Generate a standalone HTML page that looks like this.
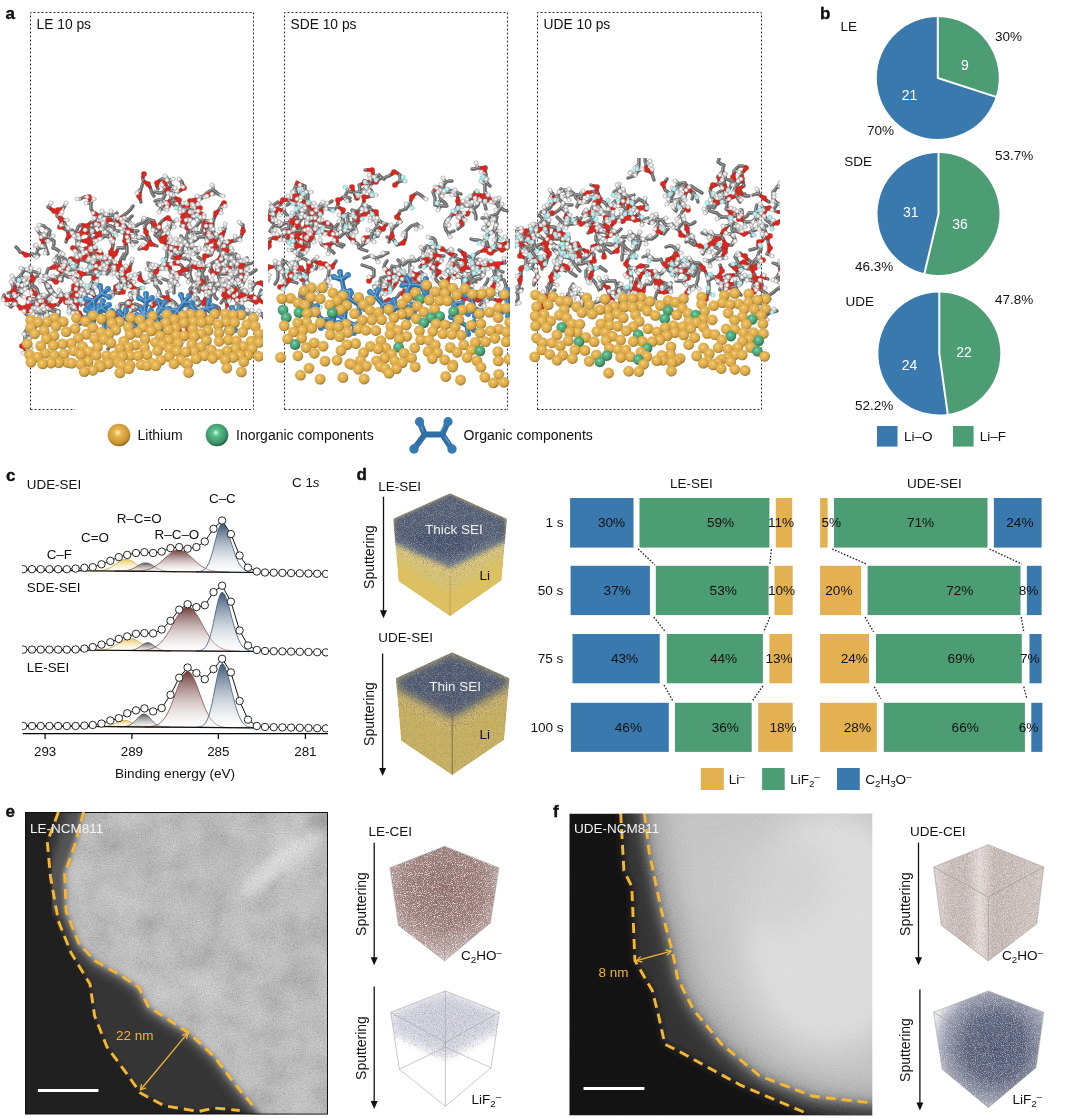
<!DOCTYPE html><html><head><meta charset="utf-8"><style>
html,body{margin:0;padding:0;background:#fff;}
body{width:1078px;height:1119px;position:relative;overflow:hidden;font-family:"Liberation Sans",sans-serif;}
.t{position:absolute;line-height:1;white-space:nowrap;color:#111;}
sub{font-size:0.72em;vertical-align:-0.28em;line-height:0}
sup{font-size:0.72em;vertical-align:0.45em;line-height:0}
svg{position:absolute;left:0;top:0}
</style></head><body>
<svg width="1078" height="1119" viewBox="0 0 1078 1119"><defs><radialGradient id="gGold" cx="0.45" cy="0.4" r="0.6"><stop offset="0" stop-color="#fff3c0"/><stop offset="0.25" stop-color="#e9b955"/><stop offset="0.8" stop-color="#c9922e"/><stop offset="1" stop-color="#8a6420"/></radialGradient><radialGradient id="gGreen" cx="0.45" cy="0.4" r="0.6"><stop offset="0" stop-color="#d8ffee"/><stop offset="0.25" stop-color="#5cc08e"/><stop offset="0.8" stop-color="#3a8f64"/><stop offset="1" stop-color="#1f5a3c"/></radialGradient><linearGradient id="fCC" x1="0" y1="0" x2="0" y2="1"><stop offset="0" stop-color="#3a5676"/><stop offset="1" stop-color="#fff" stop-opacity="0.3"/></linearGradient><linearGradient id="fRCO" x1="0" y1="0" x2="0" y2="1"><stop offset="0" stop-color="#6a3a38"/><stop offset="1" stop-color="#fff" stop-opacity="0.3"/></linearGradient><linearGradient id="fY" x1="0" y1="0" x2="0" y2="1"><stop offset="0" stop-color="#eec85a"/><stop offset="1" stop-color="#fff" stop-opacity="0.3"/></linearGradient><linearGradient id="fG" x1="0" y1="0" x2="0" y2="1"><stop offset="0" stop-color="#5a5a5a"/><stop offset="1" stop-color="#fff" stop-opacity="0.6"/></linearGradient><clipPath id="cpXPS"><rect x="22" y="460" width="306" height="280"/></clipPath><filter id="bl2" x="-20%" y="-20%" width="140%" height="140%"><feGaussianBlur stdDeviation="2"/></filter><filter id="bl3" x="-20%" y="-20%" width="140%" height="140%"><feGaussianBlur stdDeviation="3"/></filter><filter id="bl4" x="-20%" y="-20%" width="140%" height="140%"><feGaussianBlur stdDeviation="4"/></filter><filter id="bl6" x="-50%" y="-50%" width="200%" height="200%"><feGaussianBlur stdDeviation="6"/></filter><filter id="bl8" x="-150%" y="-150%" width="400%" height="400%"><feGaussianBlur stdDeviation="8"/></filter><filter id="bl15" x="-100%" y="-100%" width="300%" height="300%"><feGaussianBlur stdDeviation="15"/></filter><filter id="mottle" x="0" y="0" width="100%" height="100%"><feTurbulence type="fractalNoise" baseFrequency="0.035" numOctaves="3" seed="17"/><feColorMatrix type="matrix" values="1 0 0 0 0  1 0 0 0 0  1 0 0 0 0  0 0 0 0 1"/></filter><filter id="grain" x="0" y="0" width="100%" height="100%"><feTurbulence type="fractalNoise" baseFrequency="0.75" numOctaves="2" seed="5"/><feColorMatrix type="matrix" values="1 0 0 0 0  1 0 0 0 0  1 0 0 0 0  0 0 0 0 1"/></filter><filter id="noise" x="0" y="0" width="100%" height="100%"><feTurbulence type="fractalNoise" baseFrequency="0.85" numOctaves="1" seed="3"/><feColorMatrix type="matrix" values="0 0 0 0 0.5  0 0 0 0 0.5  0 0 0 0 0.5  1 0 0 0 -0.5"/></filter><clipPath id="cpE"><rect x="25" y="812" width="303" height="302.5999999999999"/></clipPath><mask id="mkEpart" maskUnits="userSpaceOnUse" x="0" y="780" width="360" height="360"><polygon points="86.6,812.0 78.7,842.3 67.7,873.9 69.2,911.7 81.9,943.3 97.6,960.6 123.0,974.8 141.8,987.4 151.3,1006.4 192.3,1033.2 217.5,1056.8 236.4,1082.0 262.0,1116.0 340.0,1125.0 340.0,800.0 92.0,800.0" fill="#fff" filter="url(#bl4)"/></mask><clipPath id="cpF"><rect x="569.3" y="813.6" width="303.0" height="301.9"/></clipPath><filter id="wspk" x="0" y="0" width="100%" height="100%"><feTurbulence type="fractalNoise" baseFrequency="1.1" numOctaves="1" seed="11"/><feColorMatrix type="matrix" values="0 0 0 0 1  0 0 0 0 1  0 0 0 0 1  4 0 0 0 -1.9"/></filter><filter id="dspk" x="0" y="0" width="100%" height="100%"><feTurbulence type="fractalNoise" baseFrequency="1.1" numOctaves="1" seed="23"/><feColorMatrix type="matrix" values="0 0 0 0 0.2  0 0 0 0 0.15  0 0 0 0 0.15  4 0 0 0 -2.1"/></filter><filter id="tspk" x="0" y="0" width="100%" height="100%"><feTurbulence type="fractalNoise" baseFrequency="1.0" numOctaves="1" seed="31"/><feColorMatrix type="matrix" values="0 0 0 0 0.5  0 0 0 0 0.68  0 0 0 0 0.7  4 0 0 0 -1.8"/></filter><filter id="spk" x="0" y="0" width="100%" height="100%"><feTurbulence type="fractalNoise" baseFrequency="1.2" numOctaves="1" seed="9"/><feColorMatrix type="matrix" values="1 0 0 0 0  1 0 0 0 0  1 0 0 0 0  0 0 0 0 1"/></filter><clipPath id="cpd1dark"><polygon points="450.1,493.2 506.9,518.8 506.9,549.0 450.1,577.0 393.2,551.0 393.2,518.8"/></clipPath><mask id="mkd1t" maskUnits="userSpaceOnUse" x="380" y="480" width="140" height="140"><polygon points="393.2,536.0 450.1,560.0 506.9,534.0 506.9,556.0 450.1,592.0 393.2,558.0" fill="#fff" filter="url(#bl3)"/></mask><clipPath id="cpd1"><polygon points="450.1,493.2 506.9,518.8 501.6,580.4 450.1,616.2 398.5,581.3 393.2,518.8"/></clipPath><clipPath id="cpd2dark"><polygon points="452.2,652.3 509.5,678.2 509.5,700.0 452.2,735.0 395.8,702.0 395.8,678.2"/></clipPath><clipPath id="cpd2"><polygon points="452.2,652.3 509.5,678.2 504.2,739.8 452.2,775.1 401.1,740.7 395.8,678.2"/></clipPath><radialGradient id="gE1" cx="0.5" cy="0.36" r="0.72"><stop offset="0" stop-color="#8e6c68"/><stop offset="0.5" stop-color="#9c7e7a"/><stop offset="0.8" stop-color="#c2aca9"/><stop offset="1" stop-color="#ede6e5"/></radialGradient><clipPath id="cpe1"><polygon points="444.6,846.2 499.0,867.8 490.4,923.0 444.6,961.0 398.4,925.4 389.9,867.8"/></clipPath><clipPath id="cpe2c"><polygon points="445.4,990.9 499.5,1012.3 499.5,1034.0 445.4,1062.0 390.7,1036.0 390.7,1012.3"/></clipPath><clipPath id="cpe2"><polygon points="445.4,990.9 499.5,1012.3 491.0,1067.8 445.4,1106.3 399.3,1069.2 390.7,1012.3"/></clipPath><linearGradient id="gF1" x1="0" y1="0" x2="1" y2="0"><stop offset="0" stop-color="#e0d6d4"/><stop offset="0.15" stop-color="#c8bab6"/><stop offset="0.3" stop-color="#c4b6b2"/><stop offset="0.42" stop-color="#e2d8d6"/><stop offset="0.55" stop-color="#c2b4b0"/><stop offset="1" stop-color="#d0c4c0"/></linearGradient><clipPath id="cpf1"><polygon points="988.3,844.7 1043.8,867.0 1036.7,923.9 988.3,961.0 941.3,925.4 933.6,867.0"/></clipPath><radialGradient id="gF2" cx="0.56" cy="0.48" r="0.6"><stop offset="0" stop-color="#4e5672"/><stop offset="0.45" stop-color="#5c637c"/><stop offset="0.78" stop-color="#9a9eb0"/><stop offset="1" stop-color="#eeeef2"/></radialGradient><clipPath id="cpf2"><polygon points="988.3,990.9 1043.8,1012.3 1036.1,1067.8 988.3,1107.7 942.1,1069.2 933.6,1012.3"/></clipPath><radialGradient id="mG" cx="0.42" cy="0.38" r="0.66"><stop offset="0" stop-color="#fff2c4"/><stop offset="0.14" stop-color="#edbe5e"/><stop offset="0.6" stop-color="#dcaa4a"/><stop offset="0.86" stop-color="#b88c34"/><stop offset="1" stop-color="#5a4214"/></radialGradient><radialGradient id="mGr" cx="0.42" cy="0.38" r="0.66"><stop offset="0" stop-color="#c8f8e0"/><stop offset="0.14" stop-color="#62c090"/><stop offset="0.6" stop-color="#4aa074"/><stop offset="0.86" stop-color="#347a56"/><stop offset="1" stop-color="#143a26"/></radialGradient><clipPath id="clA"><rect x="0" y="168" width="263" height="242"/></clipPath><clipPath id="clB"><rect x="268" y="160" width="242" height="250"/></clipPath><clipPath id="clC"><rect x="515" y="158" width="265" height="252"/></clipPath></defs><path d="M30.5,409.5 L30.5,12.5 L253.5,12.5 L253.5,409.5" fill="none" stroke="#333" stroke-width="1" stroke-dasharray="2,2"/><line x1="30.5" y1="409.5" x2="75.0" y2="409.5" stroke="#333" stroke-width="1" stroke-dasharray="2,2"/><line x1="161.0" y1="409.5" x2="253.5" y2="409.5" stroke="#333" stroke-width="1" stroke-dasharray="2,2"/><path d="M284.5,409.5 L284.5,12.5 L507.5,12.5 L507.5,409.5" fill="none" stroke="#333" stroke-width="1" stroke-dasharray="2,2"/><line x1="284.5" y1="409.5" x2="507.5" y2="409.5" stroke="#333" stroke-width="1" stroke-dasharray="2,2"/><path d="M537.5,409.5 L537.5,12.5 L761.5,12.5 L761.5,409.5" fill="none" stroke="#333" stroke-width="1" stroke-dasharray="2,2"/><line x1="537.5" y1="409.5" x2="761.5" y2="409.5" stroke="#333" stroke-width="1" stroke-dasharray="2,2"/><circle cx="119" cy="435" r="11.3" fill="url(#gGold)"/><circle cx="217" cy="435" r="11.3" fill="url(#gGreen)"/><g stroke="#2f6fa8" stroke-width="6" stroke-linecap="round" fill="none"><path d="M414,449 L424.7,434.4 L419.5,421.7 M424.7,434.4 L442.2,434.4 L448,421.7 M442.2,434.4 L452,449"/></g><g stroke="#5d9fd6" stroke-width="1.2" stroke-linecap="round" fill="none"><path d="M421,425 L423,431 M444,426 L441,431 M445,437 L450,444"/></g><g fill="#3479b2"><circle cx="414" cy="449" r="4.7"/><circle cx="419.5" cy="421.7" r="4.6"/><circle cx="448" cy="421.7" r="4.6"/><circle cx="452" cy="449" r="4.7"/></g><path d="M937.8,78 L937.8,17 A61,61 0 0 1 995.81,96.85 Z" fill="#4c9d74"/><path d="M937.8,78 L995.81,96.85 A61,61 0 1 1 937.8,17 Z" fill="#3a79ad"/><path d="M937.8,16 L937.8,78 L996.77,97.16" fill="none" stroke="#fff" stroke-width="2" stroke-linejoin="miter"/><path d="M938.5,214 L938.5,153 A61,61 0 1 1 924.45,273.36 Z" fill="#4c9d74"/><path d="M938.5,214 L924.45,273.36 A61,61 0 0 1 938.5,153 Z" fill="#3a79ad"/><path d="M938.5,152 L938.5,214 L924.22,274.33" fill="none" stroke="#fff" stroke-width="2" stroke-linejoin="miter"/><path d="M939.3,353.5 L939.3,292.5 A61,61 0 0 1 947.71,413.92 Z" fill="#4c9d74"/><path d="M939.3,353.5 L947.71,413.92 A61,61 0 1 1 939.3,292.5 Z" fill="#3a79ad"/><path d="M939.3,291.5 L939.3,353.5 L947.84,414.91" fill="none" stroke="#fff" stroke-width="2" stroke-linejoin="miter"/><rect x="877.0" y="426.0" width="20.5" height="20.6" fill="#3a79ad"/><rect x="953.0" y="426.0" width="20.6" height="20.6" fill="#4c9d74"/><line x1="22.7" y1="733.6" x2="328.0" y2="733.6" stroke="#000" stroke-width="1.2" /><line x1="45.1" y1="733.6" x2="45.1" y2="739.0" stroke="#000" stroke-width="1.2" /><line x1="131.9" y1="733.6" x2="131.9" y2="739.0" stroke="#000" stroke-width="1.2" /><line x1="218.3" y1="733.6" x2="218.3" y2="739.0" stroke="#000" stroke-width="1.2" /><line x1="305.4" y1="733.6" x2="305.4" y2="739.0" stroke="#000" stroke-width="1.2" /><g clip-path="url(#cpXPS)"><path d="M90.2,570.8 L91.7,570.8 93.2,570.8 94.7,570.8 96.2,570.8 97.7,570.7 99.2,570.6 100.7,570.5 102.2,570.3 103.7,570.0 105.2,569.7 106.7,569.2 108.2,568.6 109.7,568.0 111.2,567.2 112.7,566.2 114.2,565.2 115.7,564.2 117.2,563.1 118.7,562.1 120.2,561.1 121.7,560.3 123.2,559.7 124.7,559.3 126.2,559.2 127.7,559.3 129.2,559.8 130.7,560.4 132.2,561.2 133.7,562.2 135.2,563.3 136.7,564.4 138.2,565.5 139.7,566.5 141.2,567.5 142.7,568.3 144.2,569.0 145.7,569.6 147.2,570.1 148.7,570.5 150.2,570.8 151.7,571.0 153.2,571.2 154.7,571.3 156.2,571.4 157.7,571.4 159.2,571.5 160.7,571.5 162.2,571.5 Z" fill="url(#fY)" stroke="#c9a84a" stroke-width="0.8"/><path d="M115.1,571.1 L116.4,571.1 117.6,571.1 118.9,571.1 120.2,571.0 121.5,571.0 122.8,570.9 124.0,570.8 125.3,570.7 126.6,570.5 127.8,570.3 129.1,570.0 130.4,569.6 131.7,569.1 132.9,568.5 134.2,567.9 135.5,567.2 136.8,566.4 138.0,565.6 139.3,564.9 140.6,564.2 141.9,563.7 143.1,563.2 144.4,563.0 145.7,562.9 147.0,563.0 148.2,563.3 149.5,563.8 150.8,564.3 152.1,565.0 153.3,565.8 154.6,566.6 155.9,567.4 157.2,568.1 158.4,568.8 159.7,569.4 161.0,569.9 162.3,570.3 163.5,570.6 164.8,570.9 166.1,571.1 167.4,571.3 168.6,571.4 169.9,571.5 171.2,571.6 172.5,571.6 173.7,571.6 175.0,571.7 176.3,571.7 Z" fill="url(#fG)" stroke="#555" stroke-width="0.8"/><path d="M128.4,571.2 L130.5,571.2 132.6,571.2 134.7,571.1 136.8,571.1 138.9,571.0 141.0,570.8 143.1,570.5 145.2,570.2 147.3,569.7 149.4,569.0 151.5,568.2 153.6,567.2 155.7,565.9 157.8,564.4 159.9,562.8 162.0,560.9 164.1,559.0 166.2,557.1 168.3,555.2 170.4,553.4 172.5,552.0 174.6,550.8 176.7,550.2 178.8,549.9 180.9,550.2 183.0,550.9 185.1,552.1 187.2,553.6 189.3,555.4 191.4,557.3 193.5,559.3 195.6,561.3 197.7,563.2 199.8,564.9 201.9,566.4 204.0,567.7 206.1,568.7 208.2,569.6 210.3,570.3 212.4,570.8 214.5,571.2 216.6,571.5 218.7,571.8 220.8,571.9 222.9,572.0 225.0,572.1 227.1,572.2 229.2,572.2 Z" fill="url(#fRCO)" stroke="#8a4a48" stroke-width="0.8"/><path d="M196.2,571.8 L197.4,571.8 198.6,571.7 199.9,571.5 201.1,571.3 202.3,570.8 203.6,570.2 204.8,569.3 206.0,568.0 207.2,566.2 208.5,563.9 209.7,561.0 210.9,557.4 212.2,553.3 213.4,548.7 214.6,543.7 215.9,538.7 217.1,534.0 218.3,529.8 219.6,526.5 220.8,524.4 222.0,523.6 223.2,524.0 224.5,525.2 225.7,527.2 226.9,529.9 228.2,533.1 229.4,536.7 230.6,540.6 231.8,544.5 233.1,548.4 234.3,552.1 235.5,555.6 236.8,558.7 238.0,561.4 239.2,563.8 240.5,565.7 241.7,567.3 242.9,568.6 244.2,569.6 245.4,570.4 246.6,571.0 247.8,571.5 249.1,571.8 250.3,572.0 251.5,572.2 252.8,572.3 254.0,572.4 255.2,572.4 Z" fill="url(#fCC)" stroke="#3a5a7a" stroke-width="0.8"/><line x1="22" y1="570.1" x2="254" y2="572.5" stroke="#111" stroke-width="1.2"/><path d="M23.3,569.2 L32.0,569.2 L40.7,569.2 L49.4,569.2 L58.1,569.2 L66.8,569.2 L75.6,568.6 L84.4,567.8 L92.7,567.2 L101.5,564.3 L110.3,560.8 L118.8,557.1 L127.2,554.9 L136.0,553.0 L144.4,552.2 L153.1,553.0 L161.7,551.6 L170.5,548.1 L179.2,547.1 L187.6,548.7 L196.4,547.1 L204.8,541.5 L213.5,528.8 L222.1,520.5 L230.9,534.1 L239.6,555.5 L248.0,567.6 L256.8,571.5 L265.0,572.5 L273.7,572.7 L282.4,572.9 L291.1,573.1 L299.8,573.3 L308.5,573.5 L317.2,573.7 L325.9,573.9" fill="none" stroke="#111" stroke-width="1"/><circle cx="23.3" cy="569.2" r="3.7" fill="#fff" stroke="#111" stroke-width="0.9"/><circle cx="32.0" cy="569.2" r="3.7" fill="#fff" stroke="#111" stroke-width="0.9"/><circle cx="40.7" cy="569.2" r="3.7" fill="#fff" stroke="#111" stroke-width="0.9"/><circle cx="49.4" cy="569.2" r="3.7" fill="#fff" stroke="#111" stroke-width="0.9"/><circle cx="58.1" cy="569.2" r="3.7" fill="#fff" stroke="#111" stroke-width="0.9"/><circle cx="66.8" cy="569.2" r="3.7" fill="#fff" stroke="#111" stroke-width="0.9"/><circle cx="75.6" cy="568.6" r="3.7" fill="#fff" stroke="#111" stroke-width="0.9"/><circle cx="84.4" cy="567.8" r="3.7" fill="#fff" stroke="#111" stroke-width="0.9"/><circle cx="92.7" cy="567.2" r="3.7" fill="#fff" stroke="#111" stroke-width="0.9"/><circle cx="101.5" cy="564.3" r="3.7" fill="#fff" stroke="#111" stroke-width="0.9"/><circle cx="110.3" cy="560.8" r="3.7" fill="#fff" stroke="#111" stroke-width="0.9"/><circle cx="118.8" cy="557.1" r="3.7" fill="#fff" stroke="#111" stroke-width="0.9"/><circle cx="127.2" cy="554.9" r="3.7" fill="#fff" stroke="#111" stroke-width="0.9"/><circle cx="136.0" cy="553.0" r="3.7" fill="#fff" stroke="#111" stroke-width="0.9"/><circle cx="144.4" cy="552.2" r="3.7" fill="#fff" stroke="#111" stroke-width="0.9"/><circle cx="153.1" cy="553.0" r="3.7" fill="#fff" stroke="#111" stroke-width="0.9"/><circle cx="161.7" cy="551.6" r="3.7" fill="#fff" stroke="#111" stroke-width="0.9"/><circle cx="170.5" cy="548.1" r="3.7" fill="#fff" stroke="#111" stroke-width="0.9"/><circle cx="179.2" cy="547.1" r="3.7" fill="#fff" stroke="#111" stroke-width="0.9"/><circle cx="187.6" cy="548.7" r="3.7" fill="#fff" stroke="#111" stroke-width="0.9"/><circle cx="196.4" cy="547.1" r="3.7" fill="#fff" stroke="#111" stroke-width="0.9"/><circle cx="204.8" cy="541.5" r="3.7" fill="#fff" stroke="#111" stroke-width="0.9"/><circle cx="213.5" cy="528.8" r="3.7" fill="#fff" stroke="#111" stroke-width="0.9"/><circle cx="222.1" cy="520.5" r="3.7" fill="#fff" stroke="#111" stroke-width="0.9"/><circle cx="230.9" cy="534.1" r="3.7" fill="#fff" stroke="#111" stroke-width="0.9"/><circle cx="239.6" cy="555.5" r="3.7" fill="#fff" stroke="#111" stroke-width="0.9"/><circle cx="248.0" cy="567.6" r="3.7" fill="#fff" stroke="#111" stroke-width="0.9"/><circle cx="256.8" cy="571.5" r="3.7" fill="#fff" stroke="#111" stroke-width="0.9"/><circle cx="265.0" cy="572.5" r="3.7" fill="#fff" stroke="#111" stroke-width="0.9"/><circle cx="273.7" cy="572.7" r="3.7" fill="#fff" stroke="#111" stroke-width="0.9"/><circle cx="282.4" cy="572.9" r="3.7" fill="#fff" stroke="#111" stroke-width="0.9"/><circle cx="291.1" cy="573.1" r="3.7" fill="#fff" stroke="#111" stroke-width="0.9"/><circle cx="299.8" cy="573.3" r="3.7" fill="#fff" stroke="#111" stroke-width="0.9"/><circle cx="308.5" cy="573.5" r="3.7" fill="#fff" stroke="#111" stroke-width="0.9"/><circle cx="317.2" cy="573.7" r="3.7" fill="#fff" stroke="#111" stroke-width="0.9"/><circle cx="325.9" cy="573.9" r="3.7" fill="#fff" stroke="#111" stroke-width="0.9"/></g><g clip-path="url(#cpXPS)"><path d="M90.5,650.2 L92.2,650.2 93.8,650.2 95.5,650.1 97.1,650.1 98.8,650.1 100.4,650.0 102.0,649.8 103.7,649.6 105.3,649.4 107.0,649.0 108.6,648.5 110.3,648.0 112.0,647.3 113.6,646.5 115.2,645.6 116.9,644.6 118.5,643.5 120.2,642.4 121.8,641.4 123.5,640.4 125.2,639.6 126.8,639.0 128.4,638.6 130.1,638.5 131.8,638.7 133.4,639.1 135.0,639.7 136.7,640.5 138.3,641.5 140.0,642.6 141.7,643.7 143.3,644.8 144.9,645.8 146.6,646.7 148.2,647.6 149.9,648.3 151.5,648.9 153.2,649.4 154.8,649.8 156.5,650.1 158.1,650.3 159.8,650.4 161.4,650.6 163.1,650.6 164.8,650.7 166.4,650.8 168.1,650.8 169.7,650.8 Z" fill="url(#fY)" stroke="#c9a84a" stroke-width="0.8"/><path d="M124.3,650.5 L125.3,650.5 126.2,650.4 127.2,650.4 128.2,650.4 129.2,650.4 130.1,650.3 131.1,650.2 132.1,650.1 133.1,649.9 134.0,649.7 135.0,649.4 136.0,649.0 137.0,648.5 137.9,648.0 138.9,647.4 139.9,646.7 140.9,646.0 141.8,645.3 142.8,644.6 143.8,643.9 144.8,643.4 145.8,643.0 146.7,642.7 147.7,642.7 148.7,642.8 149.6,643.0 150.6,643.4 151.6,644.0 152.6,644.7 153.5,645.4 154.5,646.1 155.5,646.8 156.5,647.5 157.4,648.1 158.4,648.7 159.4,649.2 160.4,649.6 161.3,649.9 162.3,650.1 163.3,650.3 164.3,650.5 165.2,650.6 166.2,650.7 167.2,650.7 168.2,650.8 169.2,650.8 170.1,650.8 171.1,650.8 Z" fill="url(#fG)" stroke="#555" stroke-width="0.8"/><path d="M135.4,650.5 L137.6,650.5 139.7,650.4 141.9,650.3 144.1,650.1 146.3,649.9 148.4,649.5 150.6,649.0 152.8,648.2 155.0,647.2 157.1,645.8 159.3,644.1 161.5,642.0 163.7,639.4 165.8,636.4 168.0,632.9 170.2,629.2 172.4,625.2 174.5,621.2 176.7,617.3 178.9,613.7 181.1,610.7 183.2,608.4 185.4,607.0 187.6,606.5 189.8,607.0 191.9,608.5 194.1,610.8 196.3,613.9 198.5,617.5 200.6,621.4 202.8,625.5 205.0,629.5 207.2,633.2 209.4,636.7 211.5,639.8 213.7,642.4 215.9,644.6 218.1,646.3 220.2,647.7 222.4,648.8 224.6,649.6 226.8,650.1 228.9,650.5 231.1,650.8 233.3,651.0 235.4,651.2 237.6,651.3 239.8,651.3 Z" fill="url(#fRCO)" stroke="#8a4a48" stroke-width="0.8"/><path d="M196.2,651.0 L197.4,650.9 198.6,650.8 199.9,650.6 201.1,650.2 202.3,649.7 203.6,649.0 204.8,647.8 206.0,646.3 207.2,644.1 208.5,641.3 209.7,637.7 210.9,633.4 212.2,628.4 213.4,622.8 214.6,616.7 215.9,610.7 217.1,604.9 218.3,599.8 219.6,595.8 220.8,593.2 222.0,592.3 223.2,592.7 224.5,594.2 225.7,596.6 226.9,599.9 228.2,603.8 229.4,608.2 230.6,612.9 231.8,617.7 233.1,622.4 234.3,626.9 235.5,631.1 236.8,634.8 238.0,638.1 239.2,641.0 240.5,643.3 241.7,645.3 242.9,646.9 244.2,648.1 245.4,649.0 246.6,649.8 247.8,650.3 249.1,650.7 250.3,650.9 251.5,651.1 252.8,651.3 254.0,651.4 255.2,651.4 Z" fill="url(#fCC)" stroke="#3a5a7a" stroke-width="0.8"/><line x1="22" y1="649.6" x2="254" y2="651.5" stroke="#111" stroke-width="1.2"/><path d="M23.3,649.6 L32.0,649.6 L40.7,649.6 L49.4,649.6 L58.1,649.6 L66.8,649.6 L75.6,649.4 L84.4,648.6 L92.7,647.1 L101.5,644.6 L110.3,642.2 L118.8,638.9 L127.2,636.4 L136.0,633.8 L144.4,633.1 L153.1,633.4 L161.7,629.5 L170.5,620.8 L179.2,609.7 L187.6,604.2 L196.4,607.1 L204.8,605.2 L213.5,592.1 L222.1,585.7 L230.9,601.7 L239.6,630.5 L248.0,645.5 L256.8,650.0 L265.0,651.0 L273.7,651.2 L282.4,651.4 L291.1,651.6 L299.8,651.8 L308.5,652.0 L317.2,652.2 L325.9,652.4" fill="none" stroke="#111" stroke-width="1"/><circle cx="23.3" cy="649.6" r="3.7" fill="#fff" stroke="#111" stroke-width="0.9"/><circle cx="32.0" cy="649.6" r="3.7" fill="#fff" stroke="#111" stroke-width="0.9"/><circle cx="40.7" cy="649.6" r="3.7" fill="#fff" stroke="#111" stroke-width="0.9"/><circle cx="49.4" cy="649.6" r="3.7" fill="#fff" stroke="#111" stroke-width="0.9"/><circle cx="58.1" cy="649.6" r="3.7" fill="#fff" stroke="#111" stroke-width="0.9"/><circle cx="66.8" cy="649.6" r="3.7" fill="#fff" stroke="#111" stroke-width="0.9"/><circle cx="75.6" cy="649.4" r="3.7" fill="#fff" stroke="#111" stroke-width="0.9"/><circle cx="84.4" cy="648.6" r="3.7" fill="#fff" stroke="#111" stroke-width="0.9"/><circle cx="92.7" cy="647.1" r="3.7" fill="#fff" stroke="#111" stroke-width="0.9"/><circle cx="101.5" cy="644.6" r="3.7" fill="#fff" stroke="#111" stroke-width="0.9"/><circle cx="110.3" cy="642.2" r="3.7" fill="#fff" stroke="#111" stroke-width="0.9"/><circle cx="118.8" cy="638.9" r="3.7" fill="#fff" stroke="#111" stroke-width="0.9"/><circle cx="127.2" cy="636.4" r="3.7" fill="#fff" stroke="#111" stroke-width="0.9"/><circle cx="136.0" cy="633.8" r="3.7" fill="#fff" stroke="#111" stroke-width="0.9"/><circle cx="144.4" cy="633.1" r="3.7" fill="#fff" stroke="#111" stroke-width="0.9"/><circle cx="153.1" cy="633.4" r="3.7" fill="#fff" stroke="#111" stroke-width="0.9"/><circle cx="161.7" cy="629.5" r="3.7" fill="#fff" stroke="#111" stroke-width="0.9"/><circle cx="170.5" cy="620.8" r="3.7" fill="#fff" stroke="#111" stroke-width="0.9"/><circle cx="179.2" cy="609.7" r="3.7" fill="#fff" stroke="#111" stroke-width="0.9"/><circle cx="187.6" cy="604.2" r="3.7" fill="#fff" stroke="#111" stroke-width="0.9"/><circle cx="196.4" cy="607.1" r="3.7" fill="#fff" stroke="#111" stroke-width="0.9"/><circle cx="204.8" cy="605.2" r="3.7" fill="#fff" stroke="#111" stroke-width="0.9"/><circle cx="213.5" cy="592.1" r="3.7" fill="#fff" stroke="#111" stroke-width="0.9"/><circle cx="222.1" cy="585.7" r="3.7" fill="#fff" stroke="#111" stroke-width="0.9"/><circle cx="230.9" cy="601.7" r="3.7" fill="#fff" stroke="#111" stroke-width="0.9"/><circle cx="239.6" cy="630.5" r="3.7" fill="#fff" stroke="#111" stroke-width="0.9"/><circle cx="248.0" cy="645.5" r="3.7" fill="#fff" stroke="#111" stroke-width="0.9"/><circle cx="256.8" cy="650.0" r="3.7" fill="#fff" stroke="#111" stroke-width="0.9"/><circle cx="265.0" cy="651.0" r="3.7" fill="#fff" stroke="#111" stroke-width="0.9"/><circle cx="273.7" cy="651.2" r="3.7" fill="#fff" stroke="#111" stroke-width="0.9"/><circle cx="282.4" cy="651.4" r="3.7" fill="#fff" stroke="#111" stroke-width="0.9"/><circle cx="291.1" cy="651.6" r="3.7" fill="#fff" stroke="#111" stroke-width="0.9"/><circle cx="299.8" cy="651.8" r="3.7" fill="#fff" stroke="#111" stroke-width="0.9"/><circle cx="308.5" cy="652.0" r="3.7" fill="#fff" stroke="#111" stroke-width="0.9"/><circle cx="317.2" cy="652.2" r="3.7" fill="#fff" stroke="#111" stroke-width="0.9"/><circle cx="325.9" cy="652.4" r="3.7" fill="#fff" stroke="#111" stroke-width="0.9"/></g><g clip-path="url(#cpXPS)"><path d="M95.5,726.5 L96.7,726.5 97.9,726.5 99.1,726.5 100.3,726.5 101.5,726.5 102.7,726.4 103.9,726.4 105.1,726.3 106.3,726.1 107.5,725.9 108.7,725.7 109.9,725.4 111.1,725.0 112.3,724.6 113.5,724.1 114.7,723.5 115.9,723.0 117.1,722.4 118.3,721.8 119.5,721.3 120.7,720.9 121.9,720.6 123.1,720.4 124.3,720.3 125.5,720.4 126.7,720.6 127.9,720.9 129.1,721.4 130.3,721.9 131.5,722.5 132.7,723.1 133.9,723.7 135.1,724.3 136.3,724.8 137.5,725.2 138.7,725.6 139.9,726.0 141.1,726.2 142.3,726.4 143.5,726.6 144.7,726.7 145.9,726.8 147.1,726.9 148.3,726.9 149.5,727.0 150.7,727.0 151.9,727.0 153.1,727.0 Z" fill="url(#fY)" stroke="#c9a84a" stroke-width="0.8"/><path d="M118.6,726.7 L119.7,726.7 120.7,726.7 121.8,726.7 122.8,726.6 123.9,726.6 124.9,726.5 126.0,726.3 127.0,726.1 128.1,725.8 129.1,725.4 130.2,724.9 131.2,724.3 132.2,723.5 133.3,722.6 134.3,721.7 135.4,720.6 136.5,719.4 137.5,718.2 138.6,717.1 139.6,716.1 140.7,715.2 141.7,714.5 142.8,714.1 143.8,714.0 144.8,714.1 145.9,714.6 146.9,715.2 148.0,716.1 149.1,717.2 150.1,718.3 151.2,719.5 152.2,720.7 153.2,721.8 154.3,722.8 155.3,723.7 156.4,724.5 157.4,725.1 158.5,725.7 159.6,726.1 160.6,726.4 161.7,726.6 162.7,726.8 163.8,726.9 164.8,727.0 165.8,727.1 166.9,727.1 167.9,727.1 169.0,727.2 Z" fill="url(#fG)" stroke="#555" stroke-width="0.8"/><path d="M144.4,726.9 L146.2,726.8 148.0,726.8 149.8,726.6 151.6,726.4 153.4,726.1 155.2,725.6 157.0,724.9 158.8,723.9 160.6,722.6 162.4,720.9 164.2,718.8 166.0,716.1 167.8,712.8 169.6,709.0 171.4,704.7 173.2,700.0 175.0,695.0 176.8,689.9 178.6,685.0 180.4,680.5 182.2,676.7 184.0,673.8 185.8,671.9 187.6,671.3 189.4,672.0 191.2,673.8 193.0,676.8 194.8,680.6 196.6,685.1 198.4,690.1 200.2,695.2 202.0,700.2 203.8,705.0 205.6,709.3 207.4,713.2 209.2,716.4 211.0,719.2 212.8,721.4 214.6,723.1 216.4,724.4 218.2,725.4 220.0,726.2 221.8,726.7 223.6,727.0 225.4,727.3 227.2,727.4 229.0,727.5 230.8,727.6 Z" fill="url(#fRCO)" stroke="#8a4a48" stroke-width="0.8"/><path d="M196.2,727.3 L197.4,727.2 198.6,727.1 199.9,726.9 201.1,726.5 202.3,726.0 203.6,725.1 204.8,723.9 206.0,722.2 207.2,719.9 208.5,716.8 209.7,713.0 210.9,708.3 212.2,702.8 213.4,696.7 214.6,690.2 215.9,683.6 217.1,677.4 218.3,671.8 219.6,667.5 220.8,664.7 222.0,663.6 223.2,664.1 224.5,665.7 225.7,668.4 226.9,671.9 228.2,676.2 229.4,680.9 230.6,686.0 231.8,691.2 233.1,696.3 234.3,701.2 235.5,705.7 236.8,709.8 238.0,713.4 239.2,716.5 240.5,719.1 241.7,721.2 242.9,722.9 244.2,724.2 245.4,725.2 246.6,726.0 247.8,726.6 249.1,727.0 250.3,727.3 251.5,727.5 252.8,727.6 254.0,727.7 255.2,727.8 Z" fill="url(#fCC)" stroke="#3a5a7a" stroke-width="0.8"/><line x1="22" y1="725.9" x2="254" y2="727.9" stroke="#111" stroke-width="1.2"/><path d="M23.3,726.0 L32.0,726.0 L40.7,726.0 L49.4,726.0 L58.1,726.0 L66.8,726.0 L75.6,726.0 L84.4,725.6 L92.7,725.0 L101.5,723.6 L110.3,720.5 L118.8,718.2 L127.2,713.3 L136.0,710.4 L144.4,708.4 L153.1,711.4 L161.7,708.1 L170.5,694.8 L179.2,677.7 L187.6,667.5 L196.4,673.0 L204.8,679.2 L213.5,669.1 L222.1,658.8 L230.9,672.4 L239.6,701.0 L248.0,719.7 L256.8,726.0 L265.0,727.0 L273.7,727.2 L282.4,727.4 L291.1,727.6 L299.8,727.8 L308.5,728.0 L317.2,728.2 L325.9,728.4" fill="none" stroke="#111" stroke-width="1"/><circle cx="23.3" cy="726.0" r="3.7" fill="#fff" stroke="#111" stroke-width="0.9"/><circle cx="32.0" cy="726.0" r="3.7" fill="#fff" stroke="#111" stroke-width="0.9"/><circle cx="40.7" cy="726.0" r="3.7" fill="#fff" stroke="#111" stroke-width="0.9"/><circle cx="49.4" cy="726.0" r="3.7" fill="#fff" stroke="#111" stroke-width="0.9"/><circle cx="58.1" cy="726.0" r="3.7" fill="#fff" stroke="#111" stroke-width="0.9"/><circle cx="66.8" cy="726.0" r="3.7" fill="#fff" stroke="#111" stroke-width="0.9"/><circle cx="75.6" cy="726.0" r="3.7" fill="#fff" stroke="#111" stroke-width="0.9"/><circle cx="84.4" cy="725.6" r="3.7" fill="#fff" stroke="#111" stroke-width="0.9"/><circle cx="92.7" cy="725.0" r="3.7" fill="#fff" stroke="#111" stroke-width="0.9"/><circle cx="101.5" cy="723.6" r="3.7" fill="#fff" stroke="#111" stroke-width="0.9"/><circle cx="110.3" cy="720.5" r="3.7" fill="#fff" stroke="#111" stroke-width="0.9"/><circle cx="118.8" cy="718.2" r="3.7" fill="#fff" stroke="#111" stroke-width="0.9"/><circle cx="127.2" cy="713.3" r="3.7" fill="#fff" stroke="#111" stroke-width="0.9"/><circle cx="136.0" cy="710.4" r="3.7" fill="#fff" stroke="#111" stroke-width="0.9"/><circle cx="144.4" cy="708.4" r="3.7" fill="#fff" stroke="#111" stroke-width="0.9"/><circle cx="153.1" cy="711.4" r="3.7" fill="#fff" stroke="#111" stroke-width="0.9"/><circle cx="161.7" cy="708.1" r="3.7" fill="#fff" stroke="#111" stroke-width="0.9"/><circle cx="170.5" cy="694.8" r="3.7" fill="#fff" stroke="#111" stroke-width="0.9"/><circle cx="179.2" cy="677.7" r="3.7" fill="#fff" stroke="#111" stroke-width="0.9"/><circle cx="187.6" cy="667.5" r="3.7" fill="#fff" stroke="#111" stroke-width="0.9"/><circle cx="196.4" cy="673.0" r="3.7" fill="#fff" stroke="#111" stroke-width="0.9"/><circle cx="204.8" cy="679.2" r="3.7" fill="#fff" stroke="#111" stroke-width="0.9"/><circle cx="213.5" cy="669.1" r="3.7" fill="#fff" stroke="#111" stroke-width="0.9"/><circle cx="222.1" cy="658.8" r="3.7" fill="#fff" stroke="#111" stroke-width="0.9"/><circle cx="230.9" cy="672.4" r="3.7" fill="#fff" stroke="#111" stroke-width="0.9"/><circle cx="239.6" cy="701.0" r="3.7" fill="#fff" stroke="#111" stroke-width="0.9"/><circle cx="248.0" cy="719.7" r="3.7" fill="#fff" stroke="#111" stroke-width="0.9"/><circle cx="256.8" cy="726.0" r="3.7" fill="#fff" stroke="#111" stroke-width="0.9"/><circle cx="265.0" cy="727.0" r="3.7" fill="#fff" stroke="#111" stroke-width="0.9"/><circle cx="273.7" cy="727.2" r="3.7" fill="#fff" stroke="#111" stroke-width="0.9"/><circle cx="282.4" cy="727.4" r="3.7" fill="#fff" stroke="#111" stroke-width="0.9"/><circle cx="291.1" cy="727.6" r="3.7" fill="#fff" stroke="#111" stroke-width="0.9"/><circle cx="299.8" cy="727.8" r="3.7" fill="#fff" stroke="#111" stroke-width="0.9"/><circle cx="308.5" cy="728.0" r="3.7" fill="#fff" stroke="#111" stroke-width="0.9"/><circle cx="317.2" cy="728.2" r="3.7" fill="#fff" stroke="#111" stroke-width="0.9"/><circle cx="325.9" cy="728.4" r="3.7" fill="#fff" stroke="#111" stroke-width="0.9"/></g><line x1="383.5" y1="496.7" x2="383.5" y2="612.3" stroke="#111" stroke-width="1.3" /><path d="M380.0,610.3 L383.5,618.3 L387.0,610.3 Z" fill="#111"/><line x1="382.6" y1="653.5" x2="382.6" y2="770.0" stroke="#111" stroke-width="1.3" /><path d="M379.1,768 L382.6,776 L386.1,768 Z" fill="#111"/><rect x="570.1" y="498.0" width="63.4" height="49.6" fill="#3a79ad"/><rect x="639.5" y="498.0" width="129.9" height="49.6" fill="#4c9d74"/><rect x="775.8" y="498.0" width="16.4" height="49.6" fill="#e3b052"/><rect x="570.6" y="565.8" width="79.3" height="49.3" fill="#3a79ad"/><rect x="655.8" y="565.8" width="112.8" height="49.3" fill="#4c9d74"/><rect x="774.5" y="565.8" width="18.2" height="49.3" fill="#e3b052"/><rect x="572.5" y="634.0" width="87.2" height="49.3" fill="#3a79ad"/><rect x="666.8" y="634.0" width="96.1" height="49.3" fill="#4c9d74"/><rect x="769.4" y="634.0" width="22.8" height="49.3" fill="#e3b052"/><rect x="570.9" y="702.8" width="97.9" height="49.1" fill="#3a79ad"/><rect x="675.0" y="702.8" width="76.7" height="49.1" fill="#4c9d74"/><rect x="758.2" y="702.8" width="34.5" height="49.1" fill="#e3b052"/><rect x="820.1" y="498.0" width="7.5" height="49.6" fill="#e3b052"/><rect x="834.0" y="498.0" width="153.5" height="49.6" fill="#4c9d74"/><rect x="993.9" y="498.0" width="47.7" height="49.6" fill="#3a79ad"/><rect x="820.1" y="565.8" width="41.0" height="49.3" fill="#e3b052"/><rect x="867.6" y="565.8" width="152.9" height="49.3" fill="#4c9d74"/><rect x="1026.9" y="565.8" width="14.7" height="49.3" fill="#3a79ad"/><rect x="820.1" y="634.0" width="49.0" height="49.3" fill="#e3b052"/><rect x="876.0" y="634.0" width="145.8" height="49.3" fill="#4c9d74"/><rect x="1029.5" y="634.0" width="12.1" height="49.3" fill="#3a79ad"/><rect x="820.1" y="702.8" width="56.7" height="49.1" fill="#e3b052"/><rect x="883.8" y="702.8" width="141.1" height="49.1" fill="#4c9d74"/><rect x="1031.3" y="702.8" width="11.1" height="49.1" fill="#3a79ad"/><line x1="638.2" y1="549.0" x2="655.0" y2="565.0" stroke="#222" stroke-width="1.3" stroke-dasharray="1.6,1.6"/><line x1="771.4" y1="549.4" x2="769.9" y2="564.2" stroke="#222" stroke-width="1.3" stroke-dasharray="1.6,1.6"/><line x1="653.8" y1="617.0" x2="665.5" y2="632.0" stroke="#222" stroke-width="1.3" stroke-dasharray="1.6,1.6"/><line x1="769.9" y1="617.0" x2="763.6" y2="632.0" stroke="#222" stroke-width="1.3" stroke-dasharray="1.6,1.6"/><line x1="664.0" y1="685.0" x2="672.7" y2="700.7" stroke="#222" stroke-width="1.3" stroke-dasharray="1.6,1.6"/><line x1="762.9" y1="686.0" x2="752.5" y2="700.7" stroke="#222" stroke-width="1.3" stroke-dasharray="1.6,1.6"/><line x1="832.2" y1="549.0" x2="865.8" y2="563.8" stroke="#222" stroke-width="1.3" stroke-dasharray="1.6,1.6"/><line x1="989.5" y1="549.0" x2="1021.8" y2="564.0" stroke="#222" stroke-width="1.3" stroke-dasharray="1.6,1.6"/><line x1="865.0" y1="617.0" x2="873.5" y2="631.8" stroke="#222" stroke-width="1.3" stroke-dasharray="1.6,1.6"/><line x1="1021.2" y1="617.0" x2="1023.8" y2="632.0" stroke="#222" stroke-width="1.3" stroke-dasharray="1.6,1.6"/><line x1="874.3" y1="686.7" x2="880.7" y2="698.8" stroke="#222" stroke-width="1.3" stroke-dasharray="1.6,1.6"/><line x1="1023.8" y1="686.7" x2="1026.9" y2="699.0" stroke="#222" stroke-width="1.3" stroke-dasharray="1.6,1.6"/><rect x="700.8" y="768.0" width="23.0" height="22.0" fill="#e3b052"/><rect x="762.1" y="768.0" width="22.6" height="22.0" fill="#4c9d74"/><rect x="837.0" y="768.0" width="22.8" height="22.0" fill="#3a79ad"/><line x1="374.2" y1="842.7" x2="374.2" y2="959.2" stroke="#111" stroke-width="1.3" /><path d="M370.7,957.2 L374.2,965.2 L377.7,957.2 Z" fill="#111"/><line x1="374.2" y1="986.6" x2="374.2" y2="1103.0" stroke="#111" stroke-width="1.3" /><path d="M370.7,1101 L374.2,1109 L377.7,1101 Z" fill="#111"/><line x1="918.5" y1="842.7" x2="918.5" y2="959.2" stroke="#111" stroke-width="1.3" /><path d="M915.0,957.2 L918.5,965.2 L922.0,957.2 Z" fill="#111"/><line x1="919.9" y1="989.5" x2="919.9" y2="1104.5" stroke="#111" stroke-width="1.3" /><path d="M916.4,1102.5 L919.9,1110.5 L923.4,1102.5 Z" fill="#111"/><g clip-path="url(#cpE)"><rect x="25" y="812" width="303" height="302.5999999999999" fill="#202020"/><polygon points="58.4,812.0 47.3,842.0 50.5,877.0 58.4,921.0 71.0,952.7 90.0,984.0 94.6,1015.8 107.0,1047.0 126.0,1072.6 140.4,1093.0 164.0,1105.7 198.7,1111.4 214.5,1108.0 239.7,1110.5 300.0,1130.0 360.0,1130.0 360.0,800.0 50.0,800.0" fill="#343434" filter="url(#bl2)"/><polyline points="86.6,810.0 78.7,840.3 67.7,871.9 69.2,909.7 81.9,941.3 97.6,958.6 123.0,972.8 141.8,985.4 151.3,1004.4 192.3,1031.2 217.5,1054.8 236.4,1080.0 258.5,1106.9" fill="none" stroke="#545454" stroke-width="22" filter="url(#bl4)"/><polyline points="75.6,812.0 67.7,842.3 56.7,873.9 58.2,911.7" fill="none" stroke="#555" stroke-width="18" filter="url(#bl4)"/><polygon points="83.6,812.0 75.7,842.3 64.7,873.9 66.2,911.7 78.9,943.3 94.6,960.6 120.0,974.8 138.8,987.4 148.3,1006.4 189.3,1033.2 214.5,1056.8 233.4,1082.0 262.0,1116.0 340.0,1125.0 340.0,800.0 90.0,800.0" fill="#bcbcbc" filter="url(#bl3)"/><ellipse cx="135" cy="845" rx="35" ry="22" fill="#a4a4a4" opacity="0.5" filter="url(#bl8)"/><ellipse cx="215" cy="875" rx="30" ry="25" fill="#acacac" opacity="0.4" filter="url(#bl8)"/><ellipse cx="295" cy="850" rx="22" ry="35" fill="#d8d8d8" opacity="0.7" filter="url(#bl8)"/><ellipse cx="265" cy="900" rx="25" ry="18" fill="#d2d2d2" opacity="0.5" filter="url(#bl8)"/><ellipse cx="185" cy="995" rx="30" ry="22" fill="#d6d6d6" opacity="0.6" filter="url(#bl8)"/><ellipse cx="300" cy="965" rx="25" ry="35" fill="#aaaaaa" opacity="0.45" filter="url(#bl8)"/><ellipse cx="322" cy="822" rx="8" ry="12" fill="#5a5a5a" opacity="0.9" filter="url(#bl8)"/><ellipse cx="110" cy="905" rx="22" ry="18" fill="#c8c8c8" opacity="0.4" filter="url(#bl8)"/><ellipse cx="250" cy="1005" rx="25" ry="25" fill="#c8c8c8" opacity="0.4" filter="url(#bl8)"/><ellipse cx="300" cy="1075" rx="25" ry="30" fill="#c4c4c4" opacity="0.4" filter="url(#bl8)"/><rect x="25" y="812" width="303" height="302.5999999999999" fill="#1f1f1f" opacity="0" /><g mask="url(#mkEpart)"><rect x="25" y="812" width="303" height="302.5999999999999" filter="url(#mottle)" opacity="0.3" style="mix-blend-mode:overlay"/></g><ellipse cx="272" cy="868" rx="38" ry="9" transform="rotate(-42 272 868)" fill="#efefef" opacity="0.8" filter="url(#bl4)"/><ellipse cx="300" cy="850" rx="30" ry="7" transform="rotate(-38 300 850)" fill="#e8e8e8" opacity="0.6" filter="url(#bl4)"/><g mask="url(#mkEpart)"><rect x="25" y="812" width="303" height="302.5999999999999" filter="url(#grain)" opacity="0.32" style="mix-blend-mode:overlay"/></g><rect x="25.5" y="812.5" width="302" height="301.5999999999999" fill="none" stroke="#111" stroke-width="1"/><polyline points="58.4,812.0 47.3,842.0 50.5,877.0 58.4,921.0 71.0,952.7 90.0,984.0 94.6,1015.8 107.0,1047.0 126.0,1072.6 140.4,1093.0 164.0,1105.7 198.7,1111.4 214.5,1108.0 239.7,1110.5" fill="none" stroke="#f5b631" stroke-width="2.9" stroke-dasharray="10,6"/><polyline points="83.6,812.0 75.7,842.3 64.7,873.9 66.2,911.7 78.9,943.3 94.6,960.6 120.0,974.8 138.8,987.4 148.3,1006.4 189.3,1033.2 214.5,1056.8 233.4,1082.0 255.5,1108.9" fill="none" stroke="#f5b631" stroke-width="2.9" stroke-dasharray="10,6"/></g><line x1="37.9" y1="1090.6" x2="98.4" y2="1090.6" stroke="#fff" stroke-width="3"/><line x1="187.7" y1="1033.2" x2="140.4" y2="1090" stroke="#f2b33a" stroke-width="1.3"/><line x1="140.4" y1="1090" x2="146.0" y2="1087.8" stroke="#f2b33a" stroke-width="1.3"/><line x1="140.4" y1="1090" x2="141.6" y2="1084.1" stroke="#f2b33a" stroke-width="1.3"/><line x1="187.7" y1="1033.2" x2="182.1" y2="1035.4" stroke="#f2b33a" stroke-width="1.3"/><line x1="187.7" y1="1033.2" x2="186.5" y2="1039.1" stroke="#f2b33a" stroke-width="1.3"/><g clip-path="url(#cpF)"><rect x="569.3" y="813.6" width="303.0" height="301.9" fill="#111111"/><polygon points="620.7,813.0 623.9,870.7 631.8,886.5 634.9,960.6 652.3,990.6 658.6,1015.8 664.9,1044.2 677.5,1050.5 740.6,1085.2 803.7,1112.0 900.0,1130.0 900.0,800.0 610.0,800.0" fill="#2e2e2e" filter="url(#bl4)"/><polygon points="644.4,813.0 649.1,851.8 661.7,911.7 672.8,952.7 677.5,978.0 693.3,1009.5 721.7,1044.2 759.5,1075.8 813.1,1096.3 869.9,1102.6 900.0,1102.0 900.0,780.0 640.0,780.0" fill="#8a8a8a" filter="url(#bl6)"/><polygon points="655.4,808.0 660.1,846.8 672.7,906.7 683.8,947.7 688.5,973.0 704.3,1004.5 732.7,1039.2 770.5,1070.8 824.1,1091.3 880.9,1097.6 900.0,1090.0 900.0,780.0 660.0,780.0" fill="#bdbdbd" filter="url(#bl15)"/><ellipse cx="830" cy="930" rx="90" ry="120" fill="#dcdcdc" filter="url(#bl15)" opacity="0.9"/><ellipse cx="760" cy="880" rx="70" ry="50" fill="#c6c6c6" filter="url(#bl15)" opacity="0.6"/><rect x="569.3" y="813.6" width="303.0" height="301.9" filter="url(#grain)" opacity="0.25" style="mix-blend-mode:overlay"/><polyline points="620.7,813.0 623.9,870.7 631.8,886.5 634.9,960.6 652.3,990.6 658.6,1015.8 664.9,1044.2 677.5,1050.5 740.6,1085.2 803.7,1112.0" fill="none" stroke="#f5b631" stroke-width="2.9" stroke-dasharray="10,6"/><polyline points="644.4,813.0 649.1,851.8 661.7,911.7 672.8,952.7 677.5,978.0 693.3,1009.5 721.7,1044.2 759.5,1075.8 813.1,1096.3 869.9,1102.6" fill="none" stroke="#f5b631" stroke-width="2.9" stroke-dasharray="10,6"/></g><line x1="583.5" y1="1088.4" x2="644.4" y2="1088.4" stroke="#fff" stroke-width="3"/><line x1="636.5" y1="960.6" x2="671.2" y2="951.2" stroke="#f2b33a" stroke-width="1.3"/><line x1="671.2" y1="951.2" x2="665.4" y2="949.8" stroke="#f2b33a" stroke-width="1.3"/><line x1="671.2" y1="951.2" x2="666.9" y2="955.4" stroke="#f2b33a" stroke-width="1.3"/><line x1="636.5" y1="960.6" x2="642.3" y2="962.0" stroke="#f2b33a" stroke-width="1.3"/><line x1="636.5" y1="960.6" x2="640.8" y2="956.4" stroke="#f2b33a" stroke-width="1.3"/><g clip-path="url(#cpd1)"><polygon points="450.1,493.2 506.9,518.8 501.6,580.4 450.1,616.2 398.5,581.3 393.2,518.8" fill="#dcc062"/><polygon points="450.1,493.2 506.9,518.8 506.9,541.0 450.1,568.0 393.2,543.0 393.2,518.8" fill="#505c72" filter="url(#bl2)"/><ellipse cx="440" cy="540" rx="30" ry="14" fill="#3a4866" opacity="0.55" filter="url(#bl4)"/><g mask="url(#mkd1t)"><rect x="390" y="520" width="120" height="80" filter="url(#tspk)" opacity="0.85"/><rect x="390" y="520" width="120" height="80" filter="url(#dspk)" opacity="0.3"/></g><g clip-path="url(#cpd1dark)"><rect x="390" y="490" width="120" height="100" filter="url(#wspk)" opacity="0.3"/><rect x="390" y="490" width="120" height="100" filter="url(#dspk)" opacity="0.45"/></g><line x1="450.1" y1="575" x2="450.1" y2="616.2" stroke="#b8a050" stroke-width="0.8"/></g><g clip-path="url(#cpd2)"><polygon points="452.2,652.3 509.5,678.2 504.2,739.8 452.2,775.1 401.1,740.7 395.8,678.2" fill="#c8b264"/><polygon points="452.2,652.3 509.5,678.2 509.5,686.0 452.2,718.0 395.8,688.0 395.8,678.2" fill="#4a566e" filter="url(#bl4)"/><g clip-path="url(#cpd2dark)"><rect x="390" y="650" width="125" height="90" filter="url(#wspk)" opacity="0.28"/><rect x="390" y="650" width="125" height="90" filter="url(#dspk)" opacity="0.45"/></g><rect x="390" y="690" width="125" height="90" filter="url(#dspk)" opacity="0.35"/><line x1="452.2" y1="714.1" x2="452.2" y2="775.1" stroke="#6a6440" stroke-width="0.8"/></g><g clip-path="url(#cpe1)"><polygon points="444.6,846.2 499.0,867.8 490.4,923.0 444.6,961.0 398.4,925.4 389.9,867.8" fill="url(#gE1)"/><rect x="390" y="846" width="109" height="115" filter="url(#wspk)" opacity="0.75"/><rect x="390" y="846" width="109" height="115" filter="url(#dspk)" opacity="0.45"/></g><path d="M444.6,846.2L499.0,867.8M499.0,867.8L490.4,923.0M490.4,923.0L444.6,961.0M444.6,961.0L398.4,925.4M398.4,925.4L389.9,867.8M389.9,867.8L444.6,846.2M444.6,898.3L389.9,867.8M444.6,898.3L499.0,867.8M444.6,898.3L444.6,961.0M444.6,903.3L444.6,846.2M444.6,903.3L398.4,925.4M444.6,903.3L490.4,923.0" stroke="#8a8a8a" stroke-width="0.45" fill="none"/><g clip-path="url(#cpe2)"><polygon points="445.4,990.9 499.5,1012.3 491.0,1067.8 445.4,1106.3 399.3,1069.2 390.7,1012.3" fill="#fff"/><polygon points="445.4,990.9 499.5,1012.3 499.5,1030.0 445.4,1058.0 390.7,1032.0 390.7,1012.3" fill="#d2d2de" filter="url(#bl4)"/><polygon points="445.4,1002.0 487.5,1016.0 445.4,1040.0 402.7,1018.0" fill="#c8c8d6" opacity="0.6" filter="url(#bl4)"/><g clip-path="url(#cpe2c)"><rect x="385" y="985" width="120" height="80" filter="url(#dspk)" opacity="0.35"/></g><rect x="391" y="991" width="109" height="115" filter="url(#wspk)" opacity="0.5"/></g><path d="M445.4,990.9L499.5,1012.3M499.5,1012.3L491.0,1067.8M491.0,1067.8L445.4,1106.3M445.4,1106.3L399.3,1069.2M399.3,1069.2L390.7,1012.3M390.7,1012.3L445.4,990.9M445.4,1042.2L390.7,1012.3M445.4,1042.2L499.5,1012.3M445.4,1042.2L445.4,1106.3M445.4,1047.2L445.4,990.9M445.4,1047.2L399.3,1069.2M445.4,1047.2L491.0,1067.8" stroke="#a0a0a0" stroke-width="0.55" fill="none"/><g clip-path="url(#cpf1)"><polygon points="988.3,844.7 1043.8,867.0 1036.7,923.9 988.3,961.0 941.3,925.4 933.6,867.0" fill="url(#gF1)"/><rect x="934" y="845" width="110" height="116" filter="url(#wspk)" opacity="0.5"/><rect x="934" y="845" width="110" height="116" filter="url(#dspk)" opacity="0.25"/></g><path d="M988.3,844.7L1043.8,867.0M1043.8,867.0L1036.7,923.9M1036.7,923.9L988.3,961.0M988.3,961.0L941.3,925.4M941.3,925.4L933.6,867.0M933.6,867.0L988.3,844.7M988.3,896.9L933.6,867.0M988.3,896.9L1043.8,867.0M988.3,896.9L988.3,961.0" stroke="#8a8a8a" stroke-width="0.5" fill="none"/><g clip-path="url(#cpf2)"><polygon points="988.3,990.9 1043.8,1012.3 1036.1,1067.8 988.3,1107.7 942.1,1069.2 933.6,1012.3" fill="url(#gF2)"/><rect x="934" y="991" width="110" height="117" filter="url(#wspk)" opacity="0.45"/><rect x="934" y="991" width="110" height="117" filter="url(#dspk)" opacity="0.2"/></g><path d="M988.3,990.9L1043.8,1012.3M1043.8,1012.3L1036.1,1067.8M1036.1,1067.8L988.3,1107.7M988.3,1107.7L942.1,1069.2M942.1,1069.2L933.6,1012.3M933.6,1012.3L988.3,990.9M988.3,1043.6L933.6,1012.3M988.3,1043.6L1043.8,1012.3M988.3,1043.6L988.3,1107.7" stroke="#8a8a8a" stroke-width="0.5" fill="none"/><g clip-path="url(#clA)" stroke-linecap="round"><path d="M173 197L176 198M180 203L181 206M181 206L179 207M181 206L181 209M181 206L184 206M190 206L194 207M194 207L197 208M230 299L227 296M227 291L228 288M228 288L229 285M229 285L229 282M229 282L227 280M229 282L232 280M232 280L234 277M234 277L236 279M170 304L169 301M164 297L161 296M161 296L160 293M160 293L159 290M159 290L159 292M159 290L157 287M157 287L155 285M155 285L155 281M155 281L154 278M154 278L152 276M154 278L155 280M55 262L57 265M57 265L59 267M59 267L63 268M69 267L72 266M72 266L74 268M74 268L77 270M77 270L76 272M77 270L75 272M77 270L79 272M85 274L88 274M88 274L88 271M88 274L91 274M91 274L95 275M141 202L140 199M140 193L141 189M141 189L139 191M141 189L142 186M142 186L143 183M183 214L185 211M185 211L187 209M187 209L185 210M187 209L190 210M190 210L193 212M193 212L196 211M193 212L196 213M201 217L203 220M203 220L202 218M203 220L204 217M203 220L203 223M203 223L203 226M203 226L202 229M202 229L201 232M201 232L198 233M198 233L195 233M195 233L195 235M155 192L158 193M158 193L162 193M162 193L164 191M164 191L166 189M166 189L167 191M166 189L164 187M166 189L169 190M169 190L172 191M172 191L173 193M172 191L174 191M172 191L175 191M175 191L178 192M178 192L181 190M183 185L182 182M182 182L182 185M182 182L180 180M239 308L236 310M236 310L233 311M233 311L235 313M233 311L231 310M233 311L230 310M230 310L227 310M227 310L225 312M225 312L223 315M223 315L220 316M195 282L197 285M197 285L198 288M198 288L202 289M208 290L211 291M211 291L209 291M34 306L35 308M35 308L37 311M37 311L35 314M35 314L32 316M32 316L33 319M33 319L33 322M33 322L31 324M31 324L28 326M28 326L27 329M27 329L25 332M25 332L27 331M25 332L25 335M25 335L25 339M25 339L28 338M25 339L25 336M25 339L27 341M27 341L29 344M29 344L29 341M29 344L28 346M133 309L131 311M129 317L130 320M130 320L131 318M130 320L132 319M130 320L129 323M132 328L135 329M135 329L133 329M135 329L136 332M135 329L138 328M138 328L141 327M141 327L140 325M141 327L144 326M141 327L141 324M141 324L141 321M141 321L143 321M141 321L141 323M141 321L144 320M144 320L147 318M106 228L106 225M106 225L106 221M106 221L104 221M106 221L104 220M106 221L104 220M104 220L101 218M101 218L103 220M101 218L98 216M93 212L91 209M91 209L91 206M91 206L91 203M91 203L88 203M91 203L92 201M91 203L90 200M85 197L82 198M82 198L85 197M82 198L80 199M154 196L152 193M152 193L151 190M151 190L150 187M145 182L143 180M143 180L143 177M77 230L78 227M78 227L80 225M80 225L83 225M89 224L91 222M91 222L94 223M99 226L101 229M101 229L102 227M101 229L100 232M96 237L93 238M227 254L224 254M224 254L221 254M221 254L220 257M220 263L221 266M221 266L220 268M221 266L221 270M221 270L220 273M220 273L222 272M220 273L217 273M212 270L211 267M162 232L160 229M160 224L162 221M162 221L165 219M170 220L172 222M172 222L175 221M172 222L173 224M172 222L171 225M171 225L170 228M170 228L169 230M170 228L169 226M91 257L91 254M91 247L92 244M92 244L94 243M92 244L91 247M92 244L89 243M83 241L80 240M80 240L79 242M80 240L79 237M80 240L78 237M78 237L77 234M77 234L78 236M77 234L74 234M77 234L74 232M74 232L72 230M181 226L184 225M184 225L187 224M187 224L189 222M187 224L185 225M187 224L188 221M188 221L190 218M190 218L188 219M190 218L192 215M192 215L195 213M195 213L198 214M214 289L217 287M217 287L220 286M220 286L221 288M220 286L223 285M223 285L226 284M226 284L228 284M226 284L229 284M229 284L232 284M232 284L230 286M232 284L230 285M232 284L234 287M234 287L236 290M236 290L234 293M230 297L227 298M83 225L85 228M85 228L86 231M86 231L90 231M96 233L98 234M98 234L101 235M101 235L105 236M105 236L102 238M105 236L108 237M108 237L111 237M111 237L113 236M111 237L113 235M133 311L136 310M136 310L138 308M138 308L136 307M138 308L141 309M141 309L145 310M145 310L145 312M145 310L146 307M146 307L148 304M148 304L149 302M148 304L149 302M148 304L151 305M151 305L154 306M154 306L152 305M154 306L156 304M156 304L158 301M158 301L159 303M96 261L95 258M95 258L94 255M94 255L94 257M94 255L91 255M91 255L88 255M88 255L88 258M88 255L87 252M82 249L79 249M79 249L76 249M132 216L130 218M130 218L128 221M128 221L126 219M128 221L130 222M128 221L125 219M120 221L118 223M118 223L120 222M118 223L120 222M118 223L116 225M116 225L113 227M40 301L43 299M43 299L46 298M46 298L48 296M48 296L51 293M51 293L53 294M51 293L49 291M49 291L47 288M47 288L49 290M47 288L46 285M46 285L45 282M45 282L47 284M45 282L43 281M45 282L46 278M46 278L46 275M46 275L43 276M46 275L47 272M47 272L48 269M48 269L51 268M233 260L231 257M231 257L229 254M229 254L230 252M229 254L226 254M226 254L222 254M222 254L222 256M222 254L221 251M221 251L220 248M220 248L222 247M220 248L219 245M220 248L221 245M221 245L222 242M222 242L221 239M222 242L224 242M222 242L222 238M224 232L225 229M225 229L223 229M225 229L225 227M189 235L187 238M187 238L186 241M186 241L183 240M186 241L186 243M186 241L184 243M184 243L183 246M183 246L181 245M183 246L184 244M183 246L182 250M182 250L182 253M182 253L180 252M182 253L185 252M182 253L180 256M175 258L172 258M157 246L154 245M150 241L149 238M149 238L147 235M145 229L145 226M145 226L147 223M147 223L149 221M149 221L152 223M204 277L204 280M204 280L204 284M204 284L204 286M204 284L205 287M205 287L206 290M206 290L206 293M206 293L206 296M206 296L205 299M206 305L208 307M208 307L211 308M208 307L206 308M208 307L212 307M217 310L220 312M220 312L222 314M80 297L82 295M82 295L84 292M84 292L85 295M84 292L84 295M84 292L83 289M83 289L81 287M81 287L81 284M81 287L80 289M81 287L81 283M81 283L80 280M80 280L78 280M80 280L77 279M71 277L68 277M68 277L70 277M68 277L65 275M65 275L63 273M63 273L65 272M63 273L62 271M63 273L60 275M60 275L58 277M58 277L55 277M84 318L81 315M76 312L73 310M73 310L75 312M73 310L71 312M73 310L71 308M71 308L69 306M69 306L71 306M69 306L69 308M69 306L69 302M69 302L69 299M69 299L71 296M71 296L72 293M72 293L75 294M72 293L75 291M75 291L77 289M77 289L77 286M151 308L153 306M158 302L161 301M161 301L163 303M161 301L159 300M161 301L163 303M163 303L165 306M165 306L167 305M165 306L168 306M168 306L171 306M171 306L169 306M171 306L173 308M173 308L175 311M175 311L178 313M62 281L62 278M62 278L63 274M63 274L61 277M63 274L61 272M59 266L60 263M60 263L62 262M60 263L61 265M60 263L59 259M59 259L57 256M57 256L56 258M57 256L59 255M74 258L76 261M76 261L78 264M78 264L76 265M78 264L77 267M77 267L76 270M76 270L78 269M76 270L73 270M73 270L69 270M69 270L68 267M68 267L66 264M66 264L68 263M66 264L68 266M66 264L69 262M74 260L77 260M77 260L77 257M77 260L79 258M227 267L228 264M228 264L229 261M229 261L232 261M229 261L228 259M229 261L232 261M232 261L236 261M236 261L238 261M236 261L238 263M244 265L247 264M247 264L247 261M247 261L247 258M247 258L246 260M75 261L79 260M79 260L82 260M82 260L81 258M82 260L80 259M82 260L85 261M85 261L88 262M88 262L91 262M88 262L90 260M88 262L91 260M91 260L93 258M93 258L96 257M93 258L96 260M96 260L98 261M98 261L100 259M110 262L109 265M105 270L102 272M102 272L100 273M102 272L104 270M102 272L99 269M99 269L97 267M97 267L95 267M97 267L97 270M97 267L95 264M95 264L94 262M94 262L95 264M94 262L94 259M183 216L186 216M186 216L190 215M190 215L192 216M190 215L191 212M191 212L192 209M192 209L192 207M192 209L190 207M190 207L188 204M188 204L185 204M220 251L222 249M222 249L225 247M225 247L227 244M232 241L235 241M235 241L235 238M235 241L238 240M235 241L238 239M238 239L241 237M241 237L242 234M243 228L243 225M243 225L241 224M247 263L244 262M244 262L241 262M241 262L243 260M241 262L239 264M239 264L238 267M238 267L237 270M238 267L239 269M238 267L238 271M238 271L238 274M238 274L240 276M240 276L243 278M243 278L240 279M199 312L197 309M197 309L196 306M196 306L198 308M196 306L194 308M196 306L193 307M193 307L190 307M190 307L187 308M190 307L187 309M187 309L184 310M184 310L182 309M184 310L182 313M182 313L180 315M180 315L177 314M177 314L174 313M174 313L176 314M174 313L172 310M172 310L169 308M209 242L208 239M208 239L206 237M206 237L206 239M206 237L207 235M206 237L202 237M202 237L199 237M199 237L197 239M197 239L194 241M194 241L191 242M191 242L188 244M178 200L175 201M175 201L172 201M172 201L170 204M165 207L162 208M162 208L164 209M162 208L160 210M127 231L128 234M128 234L130 236M130 236L129 239M130 236L132 237M130 236L128 239M128 239L127 242M127 242L125 245M125 245L124 248M124 248L121 248M121 248L118 248M118 248L117 251M113 257L111 259M111 259L109 261M111 259L111 262M111 262L110 266M110 266L112 267M226 289L223 287M223 287L220 285M220 285L217 284M217 284L214 283M214 283L212 284M214 283L211 282M211 282L208 282M208 282L210 281M208 282L204 282M200 284L198 287M198 287L198 285M198 287L196 286M198 287L196 290M196 290L194 292M194 292L193 295M193 295L192 298M192 298L193 296M254 296L257 298M262 302L265 304M265 304L266 302M265 304L265 307M265 307L266 310M266 310L267 308M266 310L264 313M264 313L262 315M262 315L260 315M262 315L260 313M262 315L264 318M203 310L205 313M205 313L206 316M206 316L209 317M206 316L204 318M199 322L197 324M197 324L195 326M197 324L193 324M193 324L190 324M190 324L188 323M190 324L191 326M190 324L189 327M124 254L123 256M123 256L121 259M121 259L120 262M118 268L116 271M116 271L115 269M116 271L114 272M116 271L118 273M118 273L121 276M121 276L121 279M121 279L121 282M121 282L119 284M121 282L118 285M115 290L114 293M114 293L112 292M114 293L113 295M198 257L201 259M201 259L204 261M204 261L202 262M204 261L203 263M204 261L203 264M199 267L196 267M196 267L198 266M196 267L197 265M196 267L193 267M193 267L189 266M189 266L191 264M189 266L187 268M187 268L184 270M184 270L181 271M141 306L138 305M138 305L135 304M135 304L132 305M128 309L127 312M127 312L129 314M127 312L125 311M127 312L125 315M125 315L124 318M124 318L126 317M124 318L122 316M124 318L120 318M120 318L117 318M124 259L125 256M125 256L127 253M127 253L127 250M127 250L127 247M127 247L126 244M125 237L125 234M125 234L126 231M126 231L128 228M128 228L125 227M198 214L195 213M195 213L192 211M192 211L192 208M192 208L193 205M193 205L195 205M193 205L195 202M199 198L202 197M202 197L200 197M202 197L200 199M202 197L205 195M205 195L207 193M207 193L210 194M207 193L206 195M207 193L210 191M210 191L213 190M213 190L213 187M213 190L216 192M216 192L218 194M218 194L220 195M241 271L242 274M243 280L243 284M243 284L244 281M243 284L240 286M240 286L238 288M238 288L240 286M238 288L236 285M238 288L239 291M239 291L240 294M240 294L243 296M243 296L245 298M245 298L249 297M34 308L31 307M31 307L28 307M28 307L30 307M28 307L28 304M28 307L24 307M19 306L16 304M193 212L190 211M190 211L187 209M187 209L187 207M187 209L184 211M179 209L177 207M177 207L174 205M174 205L172 203M172 203L169 204M172 203L168 202M168 202L165 202M217 299L215 297M215 297L214 294M214 294L211 293M214 294L215 291M215 291L217 288M217 288L219 289M217 288L218 285M218 285L219 282M219 282L221 283M219 282L222 281M222 281L225 280M117 252L114 253M114 253L111 253M111 253L109 256M103 259L100 259M100 259L99 262M95 266L92 267M202 262L204 259M208 256L211 255M211 255L210 253M211 255L212 253M211 255L212 252M216 246L218 244M218 244L216 241M216 241L215 238M215 238L213 237M215 238L213 237M215 238L212 236M206 234L203 233M179 208L182 210M182 210L185 211M185 211L182 210M185 211L182 212M185 211L184 214M186 219L189 220M189 220L189 223M189 220L191 219M191 219L194 217M194 217L196 219M194 217L196 214M196 214L197 211M197 211L195 211M197 211L195 209M31 305L33 303M33 303L36 301M36 301L37 298M37 298L39 295M39 295L41 295M39 295L38 292M38 292L37 289M37 289L35 287M35 287L32 285M32 285L33 281M33 281L34 278M34 278L36 277M36 277L39 275M39 275L39 272M111 315L108 313M108 313L106 310M106 310L107 308M106 310L103 311M103 311L100 313M100 313L97 313M97 313L94 314M94 314L91 316M87 321L84 323M84 323L81 324M81 324L78 325M195 308L197 306M197 306L200 304M200 304L199 301M199 301L198 298M198 298L196 298M198 298L195 297M191 293L190 289M190 289L193 290M190 289L192 287M192 287L194 284M194 284L196 283M194 284L192 281M192 281L191 278M191 278L189 280M191 278L190 275M190 275L190 272M190 272L189 274M252 263L249 264M249 264L246 265M246 265L246 262M246 265L245 268M245 268L243 271M243 271L245 269M243 271L245 272M243 271L242 274M242 274L241 277M241 277L244 277M241 277L238 277M238 277L235 277M235 277L233 279M235 277L232 276M225 294L226 290M226 285L224 282M224 282L226 282M224 282L221 280M221 280L219 278M219 278L220 280M219 278L221 279M219 278L218 275M218 275L217 272M217 272L217 269M33 316L30 316M30 316L27 315M27 315L25 313M27 315L29 314M27 315L26 312M22 308L19 307M55 312L52 311M52 311L49 310M49 310L46 312M46 312L43 313M43 313L42 316M43 313L41 311M43 313L40 313M40 313L36 313M36 313L38 315M36 313L36 311M36 313L34 311M34 311L32 308M35 315L37 317M37 317L39 319M39 319L38 318M39 319L38 318M39 319L38 322M38 322L36 325M36 325L34 326M36 325L35 323M36 325L35 328M35 328L34 331M34 331L32 330M34 331L31 333M31 333L29 335M29 335L31 335M29 335L27 338M27 338L25 340M25 340L25 343M25 340L24 343M25 349L27 351M27 351L25 352M27 351L29 349M246 300L246 297M246 297L246 294M246 294L248 292M246 294L243 292M243 292L240 291M240 291L243 290M240 291L237 290M231 290L227 290M227 290L226 287M227 290L230 290M48 254L47 251M47 251L46 248M46 248L44 247M46 248L46 250M46 248L45 245M45 245L44 242M44 242L42 239M44 242L46 241M44 242L45 239M45 239L46 236M46 236L46 233M46 236L47 233M47 233L49 230M49 230L46 228M46 228L44 226M44 226L41 225M236 254L235 257M235 257L235 260M235 260L233 259M235 260L234 264M234 264L234 267M234 267L233 269M234 267L232 269M234 267L230 267M230 267L227 267M227 267L229 266M227 267L225 266M227 267L224 266M224 266L221 265M221 265L219 264M221 265L219 264M221 265L219 263M219 263L216 261M216 261L218 263M216 261L214 262M214 262L211 264M211 264L211 267M211 267L210 271M210 271L212 273M116 293L120 293M124 289L125 287M125 287L128 286M125 287L126 283M126 283L126 280M126 280L128 279M126 280L125 277M125 277L124 274M124 274L123 272M124 274L124 276M124 274L126 272M130 267L131 264M131 264L132 262M185 259L182 258M182 258L179 257M179 257L179 259M179 257L176 256M176 256L173 255M173 255L174 252M173 255L172 251M168 246L166 244M166 244L168 243M166 244L165 241M166 236L168 233M168 233L168 231M168 233L167 231M75 286L77 288M83 291L86 291M86 291L87 289M86 291L84 290M86 291L90 291M90 291L93 291M93 291L90 291M93 291L94 294M94 294L95 297M95 297L97 298M95 297L94 295M95 297L94 300M94 300L93 303M93 303L90 303M85 301L83 298M261 290L260 293M260 293L259 296M259 296L261 294M259 296L258 299M253 301L250 300M250 300L248 299M250 300L252 299M250 300L247 299M242 301L240 304M240 304L238 302M240 304L242 306M242 306L244 309M244 309L242 308M58 305L60 302M64 298L67 296M67 296L70 294M70 294L72 292M72 292L73 289M77 284L79 282M79 282L77 281M79 282L80 279M80 279L81 276M30 267L30 270M30 270L31 273M31 273L31 271M31 273L29 271M31 273L32 276M31 281L28 283M28 283L28 281M28 283L26 286M26 286L25 289M25 289L25 286M25 289L21 289M21 289L18 289M18 289L18 286M18 289L20 290M189 213L189 216M189 216L188 219M188 219L188 223M188 229L188 232M188 232L187 235M187 235L186 238M186 238L189 240M186 238L183 240M183 240L181 241M181 241L178 242M181 241L178 240M181 241L179 244M177 250L177 253M158 189L157 186M159 181L162 179M162 179L164 180M162 179L165 179M165 179L168 180M168 180L167 178M168 180L171 180M168 180L170 183M170 183L171 185M171 185L173 187M171 185L169 188M227 245L228 248M228 248L228 252M228 252L227 254M227 254L225 257M225 257L224 255M225 257L223 260M223 260L221 262M221 262L219 265M219 271L220 274M220 274L223 274M223 274L226 274M226 274L226 271M226 274L229 274M226 274L227 271M163 279L166 280M166 280L169 281M169 281L169 283M169 281L171 282M169 281L172 280M172 280L175 279M175 279L173 277M175 279L175 276M175 279L177 276M177 276L178 273M178 273L176 273M178 273L178 275M161 283L158 281M158 281L156 279M156 279L158 278M156 279L155 276M155 276L155 273M155 273L152 274M155 273L152 271M152 271L149 270M149 270L149 267M149 267L148 263M148 263L150 265M148 263L151 264M118 266L120 268M120 268L123 270M123 270L124 268M123 270L124 274M127 279L130 281M130 281L132 281M130 281L130 278M130 281L131 284M135 288L138 289M138 289L141 288M138 289L138 292M138 292L138 295M199 292L200 289M200 289L201 285M201 285L202 282M202 282L203 279M203 279L201 280M203 279L203 276M203 276L202 273M202 273L200 273M202 273L204 270M204 270L205 267M205 267L207 266M117 270L114 269M114 269L111 269M111 269L109 268M111 269L112 271M111 269L108 269M108 269L104 270M104 270L102 269M104 270L102 272M102 272L99 274M99 274L102 273M99 274L97 276M211 236L210 233M210 233L208 230M208 230L211 230M208 230L210 228M208 230L210 227M208 222L206 221M206 221L206 223M206 221L208 221M206 221L202 220M202 220L199 219M199 219L202 218M199 219L198 217M199 219L196 218M196 218L193 217M193 217L190 216M188 211L188 208M188 208L187 206M188 208L191 207M39 255L36 255M36 255L32 254M32 254L34 256M32 254L29 255M23 253L20 252M20 252L18 249M18 249L16 247M38 273L35 272M35 272L32 271M32 271L29 271M29 271L25 270M25 270L23 269M25 270L23 272M23 272L21 275M21 275L22 278M22 278L22 281M22 281L24 280M22 281L24 282M22 281L19 283M19 283L16 284M16 284L15 282M16 284L18 282M16 284L15 287M11 292L8 293M89 273L90 270M90 270L90 267M90 267L88 269M90 267L93 265M93 265L96 264M96 264L99 262M99 262L102 260M102 260L101 257M98 253L95 252M95 252L97 251M95 252L95 249M95 252L92 253M92 253L89 254M89 254L89 257M89 254L86 256M160 235L161 238M165 243L168 244M168 244L170 246M168 244L167 246M168 244L168 248M168 248L167 251M167 251L169 252M167 251L167 254M167 254L167 257M167 257L165 259M167 257L166 259M167 257L166 260M166 260L166 264M166 264L168 264M166 264L163 265M163 265L160 267M160 267L162 265M160 267L158 266M160 267L158 269M89 266L92 267M96 272L98 275M98 275L97 278M97 278L96 281M96 281L97 283M96 281L95 283M97 278L94 280M94 280L92 282M92 282L94 281M92 282L91 284M92 282L91 285M91 285L91 288M91 288L93 288M91 288L88 291M88 291L86 293M86 293L87 291M86 293L86 296M86 293L85 296M85 296L84 299M84 299L82 302M82 302L81 305M81 305L81 302M81 305L80 302M67 299L70 298M70 298L73 297M73 297L75 299M73 297L75 294M78 288L79 285M79 285L81 285M114 264L112 261M112 261L111 258M111 258L109 257M111 258L113 260M111 258L111 255M112 249L113 246M113 246L112 243M113 246L113 243M113 246L113 243M112 237L110 234M110 234L107 233M110 234L110 236M110 234L108 231M108 231L106 229M106 229L103 229M106 229L108 229M118 314L121 312M121 312L124 311M124 311L121 312M124 311L127 310M127 310L130 308M130 308L129 306M130 308L129 305M191 208L190 205M193 200L196 199M196 199L199 198M199 198L202 198M202 198L204 197M202 198L205 196M211 194L214 194M197 305L194 304M194 304L191 304M191 304L188 305M188 305L185 306M185 306L182 306M182 306L178 307M178 307L179 309M178 307L176 307M178 307L176 304M176 304L174 302M174 302L173 304M174 302L172 303M174 302L171 300M171 300L168 299M168 299L168 296M168 296L167 292M167 292L169 291M181 236L183 239M183 239L184 242M184 242L182 243M184 242L182 241M184 242L186 245M186 245L188 247M188 247L190 246M188 247L189 249M188 247L191 248M191 248L194 248M194 248L197 249M194 248L197 248M194 248L196 251M196 251L198 253M198 253L196 251M198 253L195 254M125 225L127 228M132 231L135 232M135 232L136 235M136 235L138 238M138 238L135 237M138 238L141 238M141 238L144 238M144 238L142 237M144 238L147 240M147 240L149 242M149 242L148 245M143 248L139 249M139 249L141 247M80 304L78 302M78 302L76 299M76 299L73 298M73 298L70 298M70 298L69 300M70 298L68 296M70 298L68 300M66 230L63 228M61 223L62 220M62 220L62 223M62 220L64 220M62 220L59 218M59 218L57 216M57 216L59 215M57 216L57 213M61 209L64 207M64 207L63 209M64 207L65 205M50 286L51 289M51 289L53 292M53 292L55 294M55 294L57 297M57 297L59 296M57 297L59 296M57 297L60 295M60 295L62 294M62 294L65 295M62 294L61 292M62 294L65 295M65 295L68 297M68 297L69 299M68 297L71 296M77 296L80 298M80 298L81 300M80 298L80 296M203 218L204 222M206 228L207 231M207 231L208 233M207 231L211 231M211 231L214 232M214 232L215 235M215 235L216 238M216 238L216 241M217 247L218 250M28 298L28 301M30 307L33 309M33 309L33 311M33 309L35 309M33 309L32 312M32 312L32 315M32 315L31 313M32 315L34 318M214 232L213 229M213 229L213 226M213 226L213 222M213 222L214 219M214 219L215 216M218 211L220 208M220 208L221 210M220 208L222 207M220 208L222 205M236 255L233 254M233 254L230 253M230 253L231 251M230 253L228 251M223 247L221 244M221 244L221 242M224 289L224 292M225 298L226 302M226 302L227 305M229 311L230 314M230 314L232 312M230 314L228 316M230 314L232 317M232 317L234 319M234 319L232 321M203 313L205 310M204 305L202 303M202 303L199 303M202 303L199 301M199 301L197 299M197 299L195 300M197 299L194 298M36 255L37 252M37 252L38 249M38 249L37 247M38 249L37 247M38 249L41 248M41 248L44 246M44 246L43 243M41 236L40 234M40 234L42 234M40 234L38 231M18 294L16 297M16 297L14 299M14 299L14 302M14 299L14 297M14 299L11 300M5 298L4 295M4 295L3 298M191 270L188 270M183 268L181 265M181 265L178 264M157 280L154 280M154 280L150 280M150 280L148 282M148 282L145 283M145 283L147 282M145 283L142 281M140 276L140 273M140 273L138 274M140 273L138 274M82 226L83 229M87 233L90 235M90 235L89 238M89 244L89 248M89 248L87 250M89 248L92 249M154 223L156 226M156 226L157 229M157 229L156 232M156 232L155 235M155 235L158 237M158 237L160 240M160 240L163 240M163 240L166 240M166 240L168 238M166 240L169 240M166 240L168 243M168 243L169 246M169 246L173 247M173 247L176 247M176 247L173 247M176 247L176 251M176 251L175 254M26 280L23 278M23 278L20 276M20 276L22 278M20 276L22 278M20 276L18 278M18 278L15 280M15 280L14 278M15 280L14 283M14 283L13 286M13 286L12 284M13 286L13 290M17 293L20 294M20 294L22 296M20 294L18 295M20 294L22 292M22 292L24 289M24 289L26 287M26 287L28 284M37 304L40 303M46 302L49 303M49 303L51 306M51 306L52 309M52 309L50 309M52 309L56 310M56 310L59 311M59 311L59 314M59 314L59 317M59 317L58 315M59 317L56 318M50 231L49 235M49 235L49 238M49 238L51 237M49 238L46 236M49 238L51 239M51 239L54 241M54 241L54 244M54 244L53 248M53 248L56 249M56 249L59 251M59 251L61 253M28 314L28 311M31 305L33 302M33 302L36 303M42 304L45 305M45 305L44 303M45 305L45 307M45 305L48 305M55 305L58 304M174 293L174 290M174 290L174 286M174 286L175 284M174 286L175 283M175 283L176 280M176 280L173 280M176 280L177 282M176 280L174 277M174 277L172 275M172 275L175 275M172 275L171 272M171 272L169 269M256 270L253 272M253 272L250 274M250 274L247 273M247 273L244 273M244 273L245 271M244 273L242 275M244 273L242 270M240 264L240 261M240 261L238 263M240 261L239 258M155 201L158 200M158 200L162 200M162 200L161 202M162 200L164 201M162 200L164 197M164 197L165 195M165 195L166 191M166 191L166 188M166 188L166 185M213 305L216 306M216 306L219 308M219 308L220 311M220 311L221 314M221 314L222 317M222 317L224 319M224 319L222 318M95 315L98 315M98 315L101 315M101 315L104 317M104 317L107 319M107 319L107 316M107 319L105 318M107 319L110 319M110 319L113 319M113 319L115 316M120 313L123 312M123 312L126 312M123 312L126 311M123 312L125 309M125 309L126 306M126 306L128 308M74 316L76 314M76 314L77 311M77 311L76 309M77 311L75 312M77 311L77 308M74 302L72 300M72 300L69 301M69 301L66 303M66 303L69 302M137 242L134 242M134 242L130 241M130 241L129 239M130 241L132 243M130 241L129 238M125 234L122 232M122 232L119 231M119 231L116 231M116 231L113 228M113 228L111 226M111 226L108 225M108 225L105 224M105 224L104 221M105 224L103 222M103 222L100 219M100 219L102 221M66 242L67 239M68 233L68 230M68 230L66 227M66 227L65 224M65 224L66 226M65 224L63 221M60 215L60 212M60 212L57 212M51 209L48 207M48 207L50 205M113 262L116 265M118 270L117 273M117 273L119 274M117 273L118 276M118 276L120 279M120 279L122 280M120 279L118 277M120 279L122 281M122 281L125 283M125 283L125 285M125 283L123 284M125 283L123 286M123 286L122 289M122 289L120 288M89 256L87 253M87 253L86 250M86 250L89 250M86 250L88 249M86 250L88 248M91 242L91 239M120 317L118 319M113 324L111 326M111 326L113 325M111 326L109 328M111 326L110 329M108 335L107 339M107 339L105 337M107 339L105 340M107 339L109 341M109 341L111 343M111 343L110 346M110 346L108 349M209 305L210 301M210 301L210 298M210 298L208 297M210 298L210 301M210 298L211 295M211 295L213 292M213 292L213 289M213 289L214 286M214 286L214 288M214 286L216 285M214 286L211 285M211 285L208 284M208 284L207 286M208 284L207 280M207 280L207 277M48 316L47 313M47 313L46 310M46 310L44 308M46 310L47 312M46 310L47 307M47 307L48 303M48 303L49 301M48 303L46 301M46 301L44 298M44 298L42 300M44 298L42 298M44 298L41 298M41 298L38 298M38 298L36 295M32 290L30 288M30 288L31 290M30 288L27 288M243 297L240 298M235 298L232 297M232 297L230 299M232 297L229 298M229 298L225 298M225 298L223 300M223 300L221 303M226 299L229 298M229 298L232 296M232 296L230 294M232 296L234 298M234 298L237 300M237 300L240 300M237 300L236 298M237 300L239 297M245 295L248 295M248 295L247 293M248 295L246 297M77 266L78 262M79 256L80 253M80 253L77 252M80 253L79 250M79 250L77 247M77 247L80 248M77 247L77 244M77 244L77 240M77 240L76 238M77 240L79 237M81 232L83 229M83 229L86 228M86 228L89 227M89 227L87 228M89 227L91 229M138 231L135 231M135 231L131 231M131 231L132 228M131 231L131 228M131 231L128 229M128 229L126 228M126 228L124 230M126 228L127 230M126 228L123 226M117 222L115 221M115 221L115 218M115 221L116 223M115 221L111 220M105 221L102 222M102 222L100 224M107 274L109 271M109 271L110 268M110 268L108 267M110 268L108 268M110 268L109 265M109 265L107 262M107 262L106 265M107 262L109 260M107 262L104 262M104 262L101 261M101 261L103 259M101 261L102 263M101 261L98 263M94 268L93 271M93 271L91 269M93 271L94 274M94 274L94 277M157 204L160 206M160 206L163 208M163 208L165 208M163 208L165 206M169 201L171 199M171 199L171 196M19 287L17 289M17 289L14 291M14 291L13 294M13 294L11 296M11 296L13 299M13 304L11 307M11 307L9 305M11 307L13 305M100 308L97 306M97 306L94 304M94 304L97 304M94 304L96 301M94 296L92 294M92 294L89 293M89 293L86 292M86 292L82 292M82 292L79 293M79 293L77 291M79 293L82 293M222 234L219 236M219 236L217 239M217 239L217 236M217 239L214 240M208 243L206 244M206 244L205 247M206 244L207 246M41 296L38 298M38 298L35 299M35 299L36 302M35 299L33 299M35 299L32 299M28 303L27 306M185 258L188 259M188 259L191 261M191 261L189 258M191 261L193 262M191 261L192 264M196 268L199 269M199 269L199 272M199 269L200 272M200 272L201 276M201 276L199 277M120 220L122 218M122 218L124 215M124 215L122 217M124 215L127 213M127 213L129 211M129 211L131 209M131 209L133 206M114 314L117 312M117 312L120 311M120 311L118 309M120 311L120 308M120 308L120 304M120 304L123 304M123 304L126 303M126 303L129 301M129 301L132 300M132 300L131 298M132 300L130 302M132 300L131 297M131 297L130 293M130 293L133 293M130 293L133 292M117 213L114 215M114 215L111 216M111 216L111 213M111 216L108 215M111 216L107 216M107 216L104 215M104 215L103 213M104 215L102 216M104 215L101 215M101 215L98 215M98 215L96 217M98 215L95 214M98 215L96 218M96 218L95 221M95 221L94 224M94 224L93 227M93 227L95 225M136 226L139 224M139 224L142 223M142 223L143 220M142 223L145 221M145 221L148 219M148 219L151 220M151 220L154 221M154 221L153 225M153 225L153 228M153 228L155 230M155 230L158 232M158 232L156 231M158 232L159 229M172 304L172 307M172 307L171 311M171 311L172 308M171 311L168 312M168 312L165 313M165 313L163 312M165 313L163 315M165 313L165 316M165 316L165 320M165 320L166 323M166 323L167 326M167 326L165 325M167 326L171 326M171 326L174 326M174 326L175 328M174 326L176 328M181 333L182 336M182 336L183 338M62 257L65 259M65 259L67 261M67 261L68 264M68 264L68 267M68 267L66 266M68 267L71 267M68 267L67 270M67 270L65 273M65 273L66 271M65 273L63 276M63 276L62 278M62 278L59 280M53 280L50 279M50 279L48 278M50 279L47 279M257 314L254 314M254 314L250 314M250 314L251 312M250 314L247 314M247 314L244 313M244 313L243 316M244 313L246 312M244 313L243 310M243 310L243 307M243 307L240 305M240 305L237 304M237 304L236 306M237 304L240 303M252 290L253 287M253 287L255 284M255 284L252 283M255 284L253 285M255 284L258 283M263 285L266 288M266 288L267 289M266 288L268 289M266 288L269 288M269 288L272 289M272 289L271 287M272 289L274 286M274 286L275 283M201 216L201 219M201 219L200 222M200 222L198 224M198 224L196 227M196 227L194 229M194 229L191 231M191 231L191 234M191 231L193 230M191 231L188 230M188 230L186 228M186 228L188 227M186 228L184 225M185 219L187 217M187 217L188 215M189 278L186 276M186 276L184 274M184 274L180 274M174 273L171 271M171 271L170 268M166 265L163 266M163 266L164 268M163 266L160 268M160 268L158 270M158 270L160 269M158 270L160 269M158 270L155 271M155 271L151 271M151 271L151 273M151 271L149 270" stroke="#686868" stroke-width="3.4"/><path d="M173 197L176 198M180 203L181 206M181 206L179 207M181 206L181 209M181 206L184 206M190 206L194 207M194 207L197 208M230 299L227 296M227 291L228 288M228 288L229 285M229 285L229 282M229 282L227 280M229 282L232 280M232 280L234 277M234 277L236 279M170 304L169 301M164 297L161 296M161 296L160 293M160 293L159 290M159 290L159 292M159 290L157 287M157 287L155 285M155 285L155 281M155 281L154 278M154 278L152 276M154 278L155 280M55 262L57 265M57 265L59 267M59 267L63 268M69 267L72 266M72 266L74 268M74 268L77 270M77 270L76 272M77 270L75 272M77 270L79 272M85 274L88 274M88 274L88 271M88 274L91 274M91 274L95 275M141 202L140 199M140 193L141 189M141 189L139 191M141 189L142 186M142 186L143 183M183 214L185 211M185 211L187 209M187 209L185 210M187 209L190 210M190 210L193 212M193 212L196 211M193 212L196 213M201 217L203 220M203 220L202 218M203 220L204 217M203 220L203 223M203 223L203 226M203 226L202 229M202 229L201 232M201 232L198 233M198 233L195 233M195 233L195 235M155 192L158 193M158 193L162 193M162 193L164 191M164 191L166 189M166 189L167 191M166 189L164 187M166 189L169 190M169 190L172 191M172 191L173 193M172 191L174 191M172 191L175 191M175 191L178 192M178 192L181 190M183 185L182 182M182 182L182 185M182 182L180 180M239 308L236 310M236 310L233 311M233 311L235 313M233 311L231 310M233 311L230 310M230 310L227 310M227 310L225 312M225 312L223 315M223 315L220 316M195 282L197 285M197 285L198 288M198 288L202 289M208 290L211 291M211 291L209 291M34 306L35 308M35 308L37 311M37 311L35 314M35 314L32 316M32 316L33 319M33 319L33 322M33 322L31 324M31 324L28 326M28 326L27 329M27 329L25 332M25 332L27 331M25 332L25 335M25 335L25 339M25 339L28 338M25 339L25 336M25 339L27 341M27 341L29 344M29 344L29 341M29 344L28 346M133 309L131 311M129 317L130 320M130 320L131 318M130 320L132 319M130 320L129 323M132 328L135 329M135 329L133 329M135 329L136 332M135 329L138 328M138 328L141 327M141 327L140 325M141 327L144 326M141 327L141 324M141 324L141 321M141 321L143 321M141 321L141 323M141 321L144 320M144 320L147 318M106 228L106 225M106 225L106 221M106 221L104 221M106 221L104 220M106 221L104 220M104 220L101 218M101 218L103 220M101 218L98 216M93 212L91 209M91 209L91 206M91 206L91 203M91 203L88 203M91 203L92 201M91 203L90 200M85 197L82 198M82 198L85 197M82 198L80 199M154 196L152 193M152 193L151 190M151 190L150 187M145 182L143 180M143 180L143 177M77 230L78 227M78 227L80 225M80 225L83 225M89 224L91 222M91 222L94 223M99 226L101 229M101 229L102 227M101 229L100 232M96 237L93 238M227 254L224 254M224 254L221 254M221 254L220 257M220 263L221 266M221 266L220 268M221 266L221 270M221 270L220 273M220 273L222 272M220 273L217 273M212 270L211 267M162 232L160 229M160 224L162 221M162 221L165 219M170 220L172 222M172 222L175 221M172 222L173 224M172 222L171 225M171 225L170 228M170 228L169 230M170 228L169 226M91 257L91 254M91 247L92 244M92 244L94 243M92 244L91 247M92 244L89 243M83 241L80 240M80 240L79 242M80 240L79 237M80 240L78 237M78 237L77 234M77 234L78 236M77 234L74 234M77 234L74 232M74 232L72 230M181 226L184 225M184 225L187 224M187 224L189 222M187 224L185 225M187 224L188 221M188 221L190 218M190 218L188 219M190 218L192 215M192 215L195 213M195 213L198 214M214 289L217 287M217 287L220 286M220 286L221 288M220 286L223 285M223 285L226 284M226 284L228 284M226 284L229 284M229 284L232 284M232 284L230 286M232 284L230 285M232 284L234 287M234 287L236 290M236 290L234 293M230 297L227 298M83 225L85 228M85 228L86 231M86 231L90 231M96 233L98 234M98 234L101 235M101 235L105 236M105 236L102 238M105 236L108 237M108 237L111 237M111 237L113 236M111 237L113 235M133 311L136 310M136 310L138 308M138 308L136 307M138 308L141 309M141 309L145 310M145 310L145 312M145 310L146 307M146 307L148 304M148 304L149 302M148 304L149 302M148 304L151 305M151 305L154 306M154 306L152 305M154 306L156 304M156 304L158 301M158 301L159 303M96 261L95 258M95 258L94 255M94 255L94 257M94 255L91 255M91 255L88 255M88 255L88 258M88 255L87 252M82 249L79 249M79 249L76 249M132 216L130 218M130 218L128 221M128 221L126 219M128 221L130 222M128 221L125 219M120 221L118 223M118 223L120 222M118 223L120 222M118 223L116 225M116 225L113 227M40 301L43 299M43 299L46 298M46 298L48 296M48 296L51 293M51 293L53 294M51 293L49 291M49 291L47 288M47 288L49 290M47 288L46 285M46 285L45 282M45 282L47 284M45 282L43 281M45 282L46 278M46 278L46 275M46 275L43 276M46 275L47 272M47 272L48 269M48 269L51 268M233 260L231 257M231 257L229 254M229 254L230 252M229 254L226 254M226 254L222 254M222 254L222 256M222 254L221 251M221 251L220 248M220 248L222 247M220 248L219 245M220 248L221 245M221 245L222 242M222 242L221 239M222 242L224 242M222 242L222 238M224 232L225 229M225 229L223 229M225 229L225 227M189 235L187 238M187 238L186 241M186 241L183 240M186 241L186 243M186 241L184 243M184 243L183 246M183 246L181 245M183 246L184 244M183 246L182 250M182 250L182 253M182 253L180 252M182 253L185 252M182 253L180 256M175 258L172 258M157 246L154 245M150 241L149 238M149 238L147 235M145 229L145 226M145 226L147 223M147 223L149 221M149 221L152 223M204 277L204 280M204 280L204 284M204 284L204 286M204 284L205 287M205 287L206 290M206 290L206 293M206 293L206 296M206 296L205 299M206 305L208 307M208 307L211 308M208 307L206 308M208 307L212 307M217 310L220 312M220 312L222 314M80 297L82 295M82 295L84 292M84 292L85 295M84 292L84 295M84 292L83 289M83 289L81 287M81 287L81 284M81 287L80 289M81 287L81 283M81 283L80 280M80 280L78 280M80 280L77 279M71 277L68 277M68 277L70 277M68 277L65 275M65 275L63 273M63 273L65 272M63 273L62 271M63 273L60 275M60 275L58 277M58 277L55 277M84 318L81 315M76 312L73 310M73 310L75 312M73 310L71 312M73 310L71 308M71 308L69 306M69 306L71 306M69 306L69 308M69 306L69 302M69 302L69 299M69 299L71 296M71 296L72 293M72 293L75 294M72 293L75 291M75 291L77 289M77 289L77 286M151 308L153 306M158 302L161 301M161 301L163 303M161 301L159 300M161 301L163 303M163 303L165 306M165 306L167 305M165 306L168 306M168 306L171 306M171 306L169 306M171 306L173 308M173 308L175 311M175 311L178 313M62 281L62 278M62 278L63 274M63 274L61 277M63 274L61 272M59 266L60 263M60 263L62 262M60 263L61 265M60 263L59 259M59 259L57 256M57 256L56 258M57 256L59 255M74 258L76 261M76 261L78 264M78 264L76 265M78 264L77 267M77 267L76 270M76 270L78 269M76 270L73 270M73 270L69 270M69 270L68 267M68 267L66 264M66 264L68 263M66 264L68 266M66 264L69 262M74 260L77 260M77 260L77 257M77 260L79 258M227 267L228 264M228 264L229 261M229 261L232 261M229 261L228 259M229 261L232 261M232 261L236 261M236 261L238 261M236 261L238 263M244 265L247 264M247 264L247 261M247 261L247 258M247 258L246 260M75 261L79 260M79 260L82 260M82 260L81 258M82 260L80 259M82 260L85 261M85 261L88 262M88 262L91 262M88 262L90 260M88 262L91 260M91 260L93 258M93 258L96 257M93 258L96 260M96 260L98 261M98 261L100 259M110 262L109 265M105 270L102 272M102 272L100 273M102 272L104 270M102 272L99 269M99 269L97 267M97 267L95 267M97 267L97 270M97 267L95 264M95 264L94 262M94 262L95 264M94 262L94 259M183 216L186 216M186 216L190 215M190 215L192 216M190 215L191 212M191 212L192 209M192 209L192 207M192 209L190 207M190 207L188 204M188 204L185 204M220 251L222 249M222 249L225 247M225 247L227 244M232 241L235 241M235 241L235 238M235 241L238 240M235 241L238 239M238 239L241 237M241 237L242 234M243 228L243 225M243 225L241 224M247 263L244 262M244 262L241 262M241 262L243 260M241 262L239 264M239 264L238 267M238 267L237 270M238 267L239 269M238 267L238 271M238 271L238 274M238 274L240 276M240 276L243 278M243 278L240 279M199 312L197 309M197 309L196 306M196 306L198 308M196 306L194 308M196 306L193 307M193 307L190 307M190 307L187 308M190 307L187 309M187 309L184 310M184 310L182 309M184 310L182 313M182 313L180 315M180 315L177 314M177 314L174 313M174 313L176 314M174 313L172 310M172 310L169 308M209 242L208 239M208 239L206 237M206 237L206 239M206 237L207 235M206 237L202 237M202 237L199 237M199 237L197 239M197 239L194 241M194 241L191 242M191 242L188 244M178 200L175 201M175 201L172 201M172 201L170 204M165 207L162 208M162 208L164 209M162 208L160 210M127 231L128 234M128 234L130 236M130 236L129 239M130 236L132 237M130 236L128 239M128 239L127 242M127 242L125 245M125 245L124 248M124 248L121 248M121 248L118 248M118 248L117 251M113 257L111 259M111 259L109 261M111 259L111 262M111 262L110 266M110 266L112 267M226 289L223 287M223 287L220 285M220 285L217 284M217 284L214 283M214 283L212 284M214 283L211 282M211 282L208 282M208 282L210 281M208 282L204 282M200 284L198 287M198 287L198 285M198 287L196 286M198 287L196 290M196 290L194 292M194 292L193 295M193 295L192 298M192 298L193 296M254 296L257 298M262 302L265 304M265 304L266 302M265 304L265 307M265 307L266 310M266 310L267 308M266 310L264 313M264 313L262 315M262 315L260 315M262 315L260 313M262 315L264 318M203 310L205 313M205 313L206 316M206 316L209 317M206 316L204 318M199 322L197 324M197 324L195 326M197 324L193 324M193 324L190 324M190 324L188 323M190 324L191 326M190 324L189 327M124 254L123 256M123 256L121 259M121 259L120 262M118 268L116 271M116 271L115 269M116 271L114 272M116 271L118 273M118 273L121 276M121 276L121 279M121 279L121 282M121 282L119 284M121 282L118 285M115 290L114 293M114 293L112 292M114 293L113 295M198 257L201 259M201 259L204 261M204 261L202 262M204 261L203 263M204 261L203 264M199 267L196 267M196 267L198 266M196 267L197 265M196 267L193 267M193 267L189 266M189 266L191 264M189 266L187 268M187 268L184 270M184 270L181 271M141 306L138 305M138 305L135 304M135 304L132 305M128 309L127 312M127 312L129 314M127 312L125 311M127 312L125 315M125 315L124 318M124 318L126 317M124 318L122 316M124 318L120 318M120 318L117 318M124 259L125 256M125 256L127 253M127 253L127 250M127 250L127 247M127 247L126 244M125 237L125 234M125 234L126 231M126 231L128 228M128 228L125 227M198 214L195 213M195 213L192 211M192 211L192 208M192 208L193 205M193 205L195 205M193 205L195 202M199 198L202 197M202 197L200 197M202 197L200 199M202 197L205 195M205 195L207 193M207 193L210 194M207 193L206 195M207 193L210 191M210 191L213 190M213 190L213 187M213 190L216 192M216 192L218 194M218 194L220 195M241 271L242 274M243 280L243 284M243 284L244 281M243 284L240 286M240 286L238 288M238 288L240 286M238 288L236 285M238 288L239 291M239 291L240 294M240 294L243 296M243 296L245 298M245 298L249 297M34 308L31 307M31 307L28 307M28 307L30 307M28 307L28 304M28 307L24 307M19 306L16 304M193 212L190 211M190 211L187 209M187 209L187 207M187 209L184 211M179 209L177 207M177 207L174 205M174 205L172 203M172 203L169 204M172 203L168 202M168 202L165 202M217 299L215 297M215 297L214 294M214 294L211 293M214 294L215 291M215 291L217 288M217 288L219 289M217 288L218 285M218 285L219 282M219 282L221 283M219 282L222 281M222 281L225 280M117 252L114 253M114 253L111 253M111 253L109 256M103 259L100 259M100 259L99 262M95 266L92 267M202 262L204 259M208 256L211 255M211 255L210 253M211 255L212 253M211 255L212 252M216 246L218 244M218 244L216 241M216 241L215 238M215 238L213 237M215 238L213 237M215 238L212 236M206 234L203 233M179 208L182 210M182 210L185 211M185 211L182 210M185 211L182 212M185 211L184 214M186 219L189 220M189 220L189 223M189 220L191 219M191 219L194 217M194 217L196 219M194 217L196 214M196 214L197 211M197 211L195 211M197 211L195 209M31 305L33 303M33 303L36 301M36 301L37 298M37 298L39 295M39 295L41 295M39 295L38 292M38 292L37 289M37 289L35 287M35 287L32 285M32 285L33 281M33 281L34 278M34 278L36 277M36 277L39 275M39 275L39 272M111 315L108 313M108 313L106 310M106 310L107 308M106 310L103 311M103 311L100 313M100 313L97 313M97 313L94 314M94 314L91 316M87 321L84 323M84 323L81 324M81 324L78 325M195 308L197 306M197 306L200 304M200 304L199 301M199 301L198 298M198 298L196 298M198 298L195 297M191 293L190 289M190 289L193 290M190 289L192 287M192 287L194 284M194 284L196 283M194 284L192 281M192 281L191 278M191 278L189 280M191 278L190 275M190 275L190 272M190 272L189 274M252 263L249 264M249 264L246 265M246 265L246 262M246 265L245 268M245 268L243 271M243 271L245 269M243 271L245 272M243 271L242 274M242 274L241 277M241 277L244 277M241 277L238 277M238 277L235 277M235 277L233 279M235 277L232 276M225 294L226 290M226 285L224 282M224 282L226 282M224 282L221 280M221 280L219 278M219 278L220 280M219 278L221 279M219 278L218 275M218 275L217 272M217 272L217 269M33 316L30 316M30 316L27 315M27 315L25 313M27 315L29 314M27 315L26 312M22 308L19 307M55 312L52 311M52 311L49 310M49 310L46 312M46 312L43 313M43 313L42 316M43 313L41 311M43 313L40 313M40 313L36 313M36 313L38 315M36 313L36 311M36 313L34 311M34 311L32 308M35 315L37 317M37 317L39 319M39 319L38 318M39 319L38 318M39 319L38 322M38 322L36 325M36 325L34 326M36 325L35 323M36 325L35 328M35 328L34 331M34 331L32 330M34 331L31 333M31 333L29 335M29 335L31 335M29 335L27 338M27 338L25 340M25 340L25 343M25 340L24 343M25 349L27 351M27 351L25 352M27 351L29 349M246 300L246 297M246 297L246 294M246 294L248 292M246 294L243 292M243 292L240 291M240 291L243 290M240 291L237 290M231 290L227 290M227 290L226 287M227 290L230 290M48 254L47 251M47 251L46 248M46 248L44 247M46 248L46 250M46 248L45 245M45 245L44 242M44 242L42 239M44 242L46 241M44 242L45 239M45 239L46 236M46 236L46 233M46 236L47 233M47 233L49 230M49 230L46 228M46 228L44 226M44 226L41 225M236 254L235 257M235 257L235 260M235 260L233 259M235 260L234 264M234 264L234 267M234 267L233 269M234 267L232 269M234 267L230 267M230 267L227 267M227 267L229 266M227 267L225 266M227 267L224 266M224 266L221 265M221 265L219 264M221 265L219 264M221 265L219 263M219 263L216 261M216 261L218 263M216 261L214 262M214 262L211 264M211 264L211 267M211 267L210 271M210 271L212 273M116 293L120 293M124 289L125 287M125 287L128 286M125 287L126 283M126 283L126 280M126 280L128 279M126 280L125 277M125 277L124 274M124 274L123 272M124 274L124 276M124 274L126 272M130 267L131 264M131 264L132 262M185 259L182 258M182 258L179 257M179 257L179 259M179 257L176 256M176 256L173 255M173 255L174 252M173 255L172 251M168 246L166 244M166 244L168 243M166 244L165 241M166 236L168 233M168 233L168 231M168 233L167 231M75 286L77 288M83 291L86 291M86 291L87 289M86 291L84 290M86 291L90 291M90 291L93 291M93 291L90 291M93 291L94 294M94 294L95 297M95 297L97 298M95 297L94 295M95 297L94 300M94 300L93 303M93 303L90 303M85 301L83 298M261 290L260 293M260 293L259 296M259 296L261 294M259 296L258 299M253 301L250 300M250 300L248 299M250 300L252 299M250 300L247 299M242 301L240 304M240 304L238 302M240 304L242 306M242 306L244 309M244 309L242 308M58 305L60 302M64 298L67 296M67 296L70 294M70 294L72 292M72 292L73 289M77 284L79 282M79 282L77 281M79 282L80 279M80 279L81 276M30 267L30 270M30 270L31 273M31 273L31 271M31 273L29 271M31 273L32 276M31 281L28 283M28 283L28 281M28 283L26 286M26 286L25 289M25 289L25 286M25 289L21 289M21 289L18 289M18 289L18 286M18 289L20 290M189 213L189 216M189 216L188 219M188 219L188 223M188 229L188 232M188 232L187 235M187 235L186 238M186 238L189 240M186 238L183 240M183 240L181 241M181 241L178 242M181 241L178 240M181 241L179 244M177 250L177 253M158 189L157 186M159 181L162 179M162 179L164 180M162 179L165 179M165 179L168 180M168 180L167 178M168 180L171 180M168 180L170 183M170 183L171 185M171 185L173 187M171 185L169 188M227 245L228 248M228 248L228 252M228 252L227 254M227 254L225 257M225 257L224 255M225 257L223 260M223 260L221 262M221 262L219 265M219 271L220 274M220 274L223 274M223 274L226 274M226 274L226 271M226 274L229 274M226 274L227 271M163 279L166 280M166 280L169 281M169 281L169 283M169 281L171 282M169 281L172 280M172 280L175 279M175 279L173 277M175 279L175 276M175 279L177 276M177 276L178 273M178 273L176 273M178 273L178 275M161 283L158 281M158 281L156 279M156 279L158 278M156 279L155 276M155 276L155 273M155 273L152 274M155 273L152 271M152 271L149 270M149 270L149 267M149 267L148 263M148 263L150 265M148 263L151 264M118 266L120 268M120 268L123 270M123 270L124 268M123 270L124 274M127 279L130 281M130 281L132 281M130 281L130 278M130 281L131 284M135 288L138 289M138 289L141 288M138 289L138 292M138 292L138 295M199 292L200 289M200 289L201 285M201 285L202 282M202 282L203 279M203 279L201 280M203 279L203 276M203 276L202 273M202 273L200 273M202 273L204 270M204 270L205 267M205 267L207 266M117 270L114 269M114 269L111 269M111 269L109 268M111 269L112 271M111 269L108 269M108 269L104 270M104 270L102 269M104 270L102 272M102 272L99 274M99 274L102 273M99 274L97 276M211 236L210 233M210 233L208 230M208 230L211 230M208 230L210 228M208 230L210 227M208 222L206 221M206 221L206 223M206 221L208 221M206 221L202 220M202 220L199 219M199 219L202 218M199 219L198 217M199 219L196 218M196 218L193 217M193 217L190 216M188 211L188 208M188 208L187 206M188 208L191 207M39 255L36 255M36 255L32 254M32 254L34 256M32 254L29 255M23 253L20 252M20 252L18 249M18 249L16 247M38 273L35 272M35 272L32 271M32 271L29 271M29 271L25 270M25 270L23 269M25 270L23 272M23 272L21 275M21 275L22 278M22 278L22 281M22 281L24 280M22 281L24 282M22 281L19 283M19 283L16 284M16 284L15 282M16 284L18 282M16 284L15 287M11 292L8 293M89 273L90 270M90 270L90 267M90 267L88 269M90 267L93 265M93 265L96 264M96 264L99 262M99 262L102 260M102 260L101 257M98 253L95 252M95 252L97 251M95 252L95 249M95 252L92 253M92 253L89 254M89 254L89 257M89 254L86 256M160 235L161 238M165 243L168 244M168 244L170 246M168 244L167 246M168 244L168 248M168 248L167 251M167 251L169 252M167 251L167 254M167 254L167 257M167 257L165 259M167 257L166 259M167 257L166 260M166 260L166 264M166 264L168 264M166 264L163 265M163 265L160 267M160 267L162 265M160 267L158 266M160 267L158 269M89 266L92 267M96 272L98 275M98 275L97 278M97 278L96 281M96 281L97 283M96 281L95 283M97 278L94 280M94 280L92 282M92 282L94 281M92 282L91 284M92 282L91 285M91 285L91 288M91 288L93 288M91 288L88 291M88 291L86 293M86 293L87 291M86 293L86 296M86 293L85 296M85 296L84 299M84 299L82 302M82 302L81 305M81 305L81 302M81 305L80 302M67 299L70 298M70 298L73 297M73 297L75 299M73 297L75 294M78 288L79 285M79 285L81 285M114 264L112 261M112 261L111 258M111 258L109 257M111 258L113 260M111 258L111 255M112 249L113 246M113 246L112 243M113 246L113 243M113 246L113 243M112 237L110 234M110 234L107 233M110 234L110 236M110 234L108 231M108 231L106 229M106 229L103 229M106 229L108 229M118 314L121 312M121 312L124 311M124 311L121 312M124 311L127 310M127 310L130 308M130 308L129 306M130 308L129 305M191 208L190 205M193 200L196 199M196 199L199 198M199 198L202 198M202 198L204 197M202 198L205 196M211 194L214 194M197 305L194 304M194 304L191 304M191 304L188 305M188 305L185 306M185 306L182 306M182 306L178 307M178 307L179 309M178 307L176 307M178 307L176 304M176 304L174 302M174 302L173 304M174 302L172 303M174 302L171 300M171 300L168 299M168 299L168 296M168 296L167 292M167 292L169 291M181 236L183 239M183 239L184 242M184 242L182 243M184 242L182 241M184 242L186 245M186 245L188 247M188 247L190 246M188 247L189 249M188 247L191 248M191 248L194 248M194 248L197 249M194 248L197 248M194 248L196 251M196 251L198 253M198 253L196 251M198 253L195 254M125 225L127 228M132 231L135 232M135 232L136 235M136 235L138 238M138 238L135 237M138 238L141 238M141 238L144 238M144 238L142 237M144 238L147 240M147 240L149 242M149 242L148 245M143 248L139 249M139 249L141 247M80 304L78 302M78 302L76 299M76 299L73 298M73 298L70 298M70 298L69 300M70 298L68 296M70 298L68 300M66 230L63 228M61 223L62 220M62 220L62 223M62 220L64 220M62 220L59 218M59 218L57 216M57 216L59 215M57 216L57 213M61 209L64 207M64 207L63 209M64 207L65 205M50 286L51 289M51 289L53 292M53 292L55 294M55 294L57 297M57 297L59 296M57 297L59 296M57 297L60 295M60 295L62 294M62 294L65 295M62 294L61 292M62 294L65 295M65 295L68 297M68 297L69 299M68 297L71 296M77 296L80 298M80 298L81 300M80 298L80 296M203 218L204 222M206 228L207 231M207 231L208 233M207 231L211 231M211 231L214 232M214 232L215 235M215 235L216 238M216 238L216 241M217 247L218 250M28 298L28 301M30 307L33 309M33 309L33 311M33 309L35 309M33 309L32 312M32 312L32 315M32 315L31 313M32 315L34 318M214 232L213 229M213 229L213 226M213 226L213 222M213 222L214 219M214 219L215 216M218 211L220 208M220 208L221 210M220 208L222 207M220 208L222 205M236 255L233 254M233 254L230 253M230 253L231 251M230 253L228 251M223 247L221 244M221 244L221 242M224 289L224 292M225 298L226 302M226 302L227 305M229 311L230 314M230 314L232 312M230 314L228 316M230 314L232 317M232 317L234 319M234 319L232 321M203 313L205 310M204 305L202 303M202 303L199 303M202 303L199 301M199 301L197 299M197 299L195 300M197 299L194 298M36 255L37 252M37 252L38 249M38 249L37 247M38 249L37 247M38 249L41 248M41 248L44 246M44 246L43 243M41 236L40 234M40 234L42 234M40 234L38 231M18 294L16 297M16 297L14 299M14 299L14 302M14 299L14 297M14 299L11 300M5 298L4 295M4 295L3 298M191 270L188 270M183 268L181 265M181 265L178 264M157 280L154 280M154 280L150 280M150 280L148 282M148 282L145 283M145 283L147 282M145 283L142 281M140 276L140 273M140 273L138 274M140 273L138 274M82 226L83 229M87 233L90 235M90 235L89 238M89 244L89 248M89 248L87 250M89 248L92 249M154 223L156 226M156 226L157 229M157 229L156 232M156 232L155 235M155 235L158 237M158 237L160 240M160 240L163 240M163 240L166 240M166 240L168 238M166 240L169 240M166 240L168 243M168 243L169 246M169 246L173 247M173 247L176 247M176 247L173 247M176 247L176 251M176 251L175 254M26 280L23 278M23 278L20 276M20 276L22 278M20 276L22 278M20 276L18 278M18 278L15 280M15 280L14 278M15 280L14 283M14 283L13 286M13 286L12 284M13 286L13 290M17 293L20 294M20 294L22 296M20 294L18 295M20 294L22 292M22 292L24 289M24 289L26 287M26 287L28 284M37 304L40 303M46 302L49 303M49 303L51 306M51 306L52 309M52 309L50 309M52 309L56 310M56 310L59 311M59 311L59 314M59 314L59 317M59 317L58 315M59 317L56 318M50 231L49 235M49 235L49 238M49 238L51 237M49 238L46 236M49 238L51 239M51 239L54 241M54 241L54 244M54 244L53 248M53 248L56 249M56 249L59 251M59 251L61 253M28 314L28 311M31 305L33 302M33 302L36 303M42 304L45 305M45 305L44 303M45 305L45 307M45 305L48 305M55 305L58 304M174 293L174 290M174 290L174 286M174 286L175 284M174 286L175 283M175 283L176 280M176 280L173 280M176 280L177 282M176 280L174 277M174 277L172 275M172 275L175 275M172 275L171 272M171 272L169 269M256 270L253 272M253 272L250 274M250 274L247 273M247 273L244 273M244 273L245 271M244 273L242 275M244 273L242 270M240 264L240 261M240 261L238 263M240 261L239 258M155 201L158 200M158 200L162 200M162 200L161 202M162 200L164 201M162 200L164 197M164 197L165 195M165 195L166 191M166 191L166 188M166 188L166 185M213 305L216 306M216 306L219 308M219 308L220 311M220 311L221 314M221 314L222 317M222 317L224 319M224 319L222 318M95 315L98 315M98 315L101 315M101 315L104 317M104 317L107 319M107 319L107 316M107 319L105 318M107 319L110 319M110 319L113 319M113 319L115 316M120 313L123 312M123 312L126 312M123 312L126 311M123 312L125 309M125 309L126 306M126 306L128 308M74 316L76 314M76 314L77 311M77 311L76 309M77 311L75 312M77 311L77 308M74 302L72 300M72 300L69 301M69 301L66 303M66 303L69 302M137 242L134 242M134 242L130 241M130 241L129 239M130 241L132 243M130 241L129 238M125 234L122 232M122 232L119 231M119 231L116 231M116 231L113 228M113 228L111 226M111 226L108 225M108 225L105 224M105 224L104 221M105 224L103 222M103 222L100 219M100 219L102 221M66 242L67 239M68 233L68 230M68 230L66 227M66 227L65 224M65 224L66 226M65 224L63 221M60 215L60 212M60 212L57 212M51 209L48 207M48 207L50 205M113 262L116 265M118 270L117 273M117 273L119 274M117 273L118 276M118 276L120 279M120 279L122 280M120 279L118 277M120 279L122 281M122 281L125 283M125 283L125 285M125 283L123 284M125 283L123 286M123 286L122 289M122 289L120 288M89 256L87 253M87 253L86 250M86 250L89 250M86 250L88 249M86 250L88 248M91 242L91 239M120 317L118 319M113 324L111 326M111 326L113 325M111 326L109 328M111 326L110 329M108 335L107 339M107 339L105 337M107 339L105 340M107 339L109 341M109 341L111 343M111 343L110 346M110 346L108 349M209 305L210 301M210 301L210 298M210 298L208 297M210 298L210 301M210 298L211 295M211 295L213 292M213 292L213 289M213 289L214 286M214 286L214 288M214 286L216 285M214 286L211 285M211 285L208 284M208 284L207 286M208 284L207 280M207 280L207 277M48 316L47 313M47 313L46 310M46 310L44 308M46 310L47 312M46 310L47 307M47 307L48 303M48 303L49 301M48 303L46 301M46 301L44 298M44 298L42 300M44 298L42 298M44 298L41 298M41 298L38 298M38 298L36 295M32 290L30 288M30 288L31 290M30 288L27 288M243 297L240 298M235 298L232 297M232 297L230 299M232 297L229 298M229 298L225 298M225 298L223 300M223 300L221 303M226 299L229 298M229 298L232 296M232 296L230 294M232 296L234 298M234 298L237 300M237 300L240 300M237 300L236 298M237 300L239 297M245 295L248 295M248 295L247 293M248 295L246 297M77 266L78 262M79 256L80 253M80 253L77 252M80 253L79 250M79 250L77 247M77 247L80 248M77 247L77 244M77 244L77 240M77 240L76 238M77 240L79 237M81 232L83 229M83 229L86 228M86 228L89 227M89 227L87 228M89 227L91 229M138 231L135 231M135 231L131 231M131 231L132 228M131 231L131 228M131 231L128 229M128 229L126 228M126 228L124 230M126 228L127 230M126 228L123 226M117 222L115 221M115 221L115 218M115 221L116 223M115 221L111 220M105 221L102 222M102 222L100 224M107 274L109 271M109 271L110 268M110 268L108 267M110 268L108 268M110 268L109 265M109 265L107 262M107 262L106 265M107 262L109 260M107 262L104 262M104 262L101 261M101 261L103 259M101 261L102 263M101 261L98 263M94 268L93 271M93 271L91 269M93 271L94 274M94 274L94 277M157 204L160 206M160 206L163 208M163 208L165 208M163 208L165 206M169 201L171 199M171 199L171 196M19 287L17 289M17 289L14 291M14 291L13 294M13 294L11 296M11 296L13 299M13 304L11 307M11 307L9 305M11 307L13 305M100 308L97 306M97 306L94 304M94 304L97 304M94 304L96 301M94 296L92 294M92 294L89 293M89 293L86 292M86 292L82 292M82 292L79 293M79 293L77 291M79 293L82 293M222 234L219 236M219 236L217 239M217 239L217 236M217 239L214 240M208 243L206 244M206 244L205 247M206 244L207 246M41 296L38 298M38 298L35 299M35 299L36 302M35 299L33 299M35 299L32 299M28 303L27 306M185 258L188 259M188 259L191 261M191 261L189 258M191 261L193 262M191 261L192 264M196 268L199 269M199 269L199 272M199 269L200 272M200 272L201 276M201 276L199 277M120 220L122 218M122 218L124 215M124 215L122 217M124 215L127 213M127 213L129 211M129 211L131 209M131 209L133 206M114 314L117 312M117 312L120 311M120 311L118 309M120 311L120 308M120 308L120 304M120 304L123 304M123 304L126 303M126 303L129 301M129 301L132 300M132 300L131 298M132 300L130 302M132 300L131 297M131 297L130 293M130 293L133 293M130 293L133 292M117 213L114 215M114 215L111 216M111 216L111 213M111 216L108 215M111 216L107 216M107 216L104 215M104 215L103 213M104 215L102 216M104 215L101 215M101 215L98 215M98 215L96 217M98 215L95 214M98 215L96 218M96 218L95 221M95 221L94 224M94 224L93 227M93 227L95 225M136 226L139 224M139 224L142 223M142 223L143 220M142 223L145 221M145 221L148 219M148 219L151 220M151 220L154 221M154 221L153 225M153 225L153 228M153 228L155 230M155 230L158 232M158 232L156 231M158 232L159 229M172 304L172 307M172 307L171 311M171 311L172 308M171 311L168 312M168 312L165 313M165 313L163 312M165 313L163 315M165 313L165 316M165 316L165 320M165 320L166 323M166 323L167 326M167 326L165 325M167 326L171 326M171 326L174 326M174 326L175 328M174 326L176 328M181 333L182 336M182 336L183 338M62 257L65 259M65 259L67 261M67 261L68 264M68 264L68 267M68 267L66 266M68 267L71 267M68 267L67 270M67 270L65 273M65 273L66 271M65 273L63 276M63 276L62 278M62 278L59 280M53 280L50 279M50 279L48 278M50 279L47 279M257 314L254 314M254 314L250 314M250 314L251 312M250 314L247 314M247 314L244 313M244 313L243 316M244 313L246 312M244 313L243 310M243 310L243 307M243 307L240 305M240 305L237 304M237 304L236 306M237 304L240 303M252 290L253 287M253 287L255 284M255 284L252 283M255 284L253 285M255 284L258 283M263 285L266 288M266 288L267 289M266 288L268 289M266 288L269 288M269 288L272 289M272 289L271 287M272 289L274 286M274 286L275 283M201 216L201 219M201 219L200 222M200 222L198 224M198 224L196 227M196 227L194 229M194 229L191 231M191 231L191 234M191 231L193 230M191 231L188 230M188 230L186 228M186 228L188 227M186 228L184 225M185 219L187 217M187 217L188 215M189 278L186 276M186 276L184 274M184 274L180 274M174 273L171 271M171 271L170 268M166 265L163 266M163 266L164 268M163 266L160 268M160 268L158 270M158 270L160 269M158 270L160 269M158 270L155 271M155 271L151 271M151 271L151 273M151 271L149 270" stroke="#9a9a9a" stroke-width="1" transform="translate(-0.5,-0.5)"/><path d="M176 198L179 200M179 200L180 203M184 206L187 205M187 205L190 206M197 208L200 208M227 296L225 294M225 294L227 291M169 301L167 298M167 298L164 297M63 268L66 268M66 268L69 267M79 272L82 274M82 274L85 274M140 199L139 196M139 196L140 193M196 213L199 215M199 215L201 217M181 190L184 188M184 188L183 185M202 289L205 290M205 290L208 290M131 311L129 314M129 314L129 317M129 323L129 326M129 326L132 328M98 216L95 214M95 214L93 212M90 200L89 197M89 197L85 197M150 187L148 184M148 184L145 182M143 177L144 174M83 225L87 226M87 226L89 224M94 223L98 224M98 224L99 226M100 232L99 235M99 235L96 237M220 257L219 260M219 260L220 263M217 273L213 273M213 273L212 270M160 229L159 227M159 227L160 224M165 219L168 218M168 218L170 220M91 254L90 250M90 250L91 247M89 243L86 241M86 241L83 241M198 214L201 214M234 293L233 296M233 296L230 297M90 231L93 231M93 231L96 233M87 252L86 249M86 249L82 249M76 249L73 248M125 219L122 218M122 218L120 221M51 268L54 267M222 238L222 235M222 235L224 232M180 256L178 258M178 258L175 258M154 245L151 244M151 244L150 241M147 235L146 232M146 232L145 229M152 223L154 224M205 299L204 302M204 302L206 305M212 307L215 308M215 308L217 310M77 279L74 278M74 278L71 277M81 315L79 313M79 313L76 312M153 306L155 303M155 303L158 302M178 313L180 316M61 272L59 269M59 269L59 266M69 262L71 259M71 259L74 260M238 263L241 266M241 266L244 265M109 265L107 268M107 268L105 270M227 244L229 242M229 242L232 241M242 234L243 231M243 231L243 228M170 204L168 206M168 206L165 207M117 251L115 254M115 254L113 257M204 282L201 281M201 281L200 284M257 298L259 300M259 300L262 302M264 318L266 321M204 318L202 320M202 320L199 322M189 327L188 330M120 262L120 266M120 266L118 268M118 285L116 287M116 287L115 290M203 264L202 267M202 267L199 267M181 271L179 273M132 305L129 306M129 306L128 309M126 244L125 241M125 241L125 237M195 202L196 200M196 200L199 198M242 274L243 277M243 277L243 280M249 297L252 297M24 307L21 308M21 308L19 306M184 211L181 212M181 212L179 209M109 256L107 258M107 258L103 259M99 262L98 265M98 265L95 266M204 259L205 256M205 256L208 256M212 252L213 249M213 249L216 246M212 236L210 234M210 234L206 234M184 214L183 217M183 217L186 219M91 316L89 318M89 318L87 321M195 297L192 296M192 296L191 293M226 290L227 287M227 287L226 285M26 312L25 309M25 309L22 308M24 343L22 346M22 346L25 349M237 290L234 290M234 290L231 290M120 293L123 292M123 292L124 289M126 272L129 270M129 270L130 267M172 251L171 248M171 248L168 246M165 241L164 238M164 238L166 236M77 288L80 290M80 290L83 291M90 303L86 304M86 304L85 301M258 299L256 302M256 302L253 301M247 299L244 299M244 299L242 301M60 302L62 299M62 299L64 298M73 289L74 286M74 286L77 284M32 276L33 279M33 279L31 281M188 223L187 226M187 226L188 229M179 244L177 246M177 246L177 250M157 186L157 183M157 183L159 181M169 188L167 191M219 265L218 268M218 268L219 271M227 271L229 268M124 274L124 277M124 277L127 279M131 284L132 287M132 287L135 288M97 276L94 278M210 227L211 224M211 224L208 222M190 216L187 214M187 214L188 211M29 255L26 255M26 255L23 253M15 287L14 291M14 291L11 292M101 257L101 254M101 254L98 253M86 256L84 258M161 238L162 241M162 241L165 243M158 269L156 272M92 267L95 269M95 269L96 272M75 294L76 291M76 291L78 288M111 255L111 252M111 252L112 249M113 243L113 239M113 239L112 237M129 305L129 302M190 205L190 201M190 201L193 200M205 196L208 195M208 195L211 194M127 228L129 230M129 230L132 231M148 245L146 248M146 248L143 248M68 300L66 302M63 228L60 227M60 227L61 223M57 213L58 210M58 210L61 209M71 296L74 295M74 295L77 296M204 222L205 225M205 225L206 228M216 241L216 244M216 244L217 247M28 301L28 305M28 305L30 307M34 318L36 320M215 216L216 213M216 213L218 211M222 205L224 203M228 251L225 249M225 249L223 247M224 292L224 295M224 295L225 298M227 305L228 308M228 308L229 311M205 310L206 307M206 307L204 305M43 243L42 239M42 239L41 236M11 300L7 300M7 300L5 298M188 270L184 270M184 270L183 268M178 264L175 263M142 281L140 279M140 279L140 276M83 229L84 232M84 232L87 233M89 238L89 241M89 241L89 244M92 249L95 249M13 290L14 293M14 293L17 293M40 303L43 301M43 301L46 302M28 311L29 308M29 308L31 305M36 303L39 304M39 304L42 304M48 305L52 306M52 306L55 305M242 270L241 267M241 267L240 264M166 185L165 182M115 316L117 314M117 314L120 313M77 308L77 304M77 304L74 302M129 238L127 235M127 235L125 234M67 239L69 236M69 236L68 233M63 221L61 219M61 219L60 215M57 212L54 211M54 211L51 209M116 265L118 267M118 267L118 270M88 248L91 246M91 246L91 242M118 319L116 322M116 322L113 324M110 329L109 332M109 332L108 335M36 295L34 293M34 293L32 290M240 298L237 300M237 300L235 298M239 297L242 295M242 295L245 295M78 262L78 259M78 259L79 256M79 237L80 234M80 234L81 232M123 226L120 224M120 224L117 222M111 220L108 220M108 220L105 221M98 263L96 265M96 265L94 268M165 206L168 204M168 204L169 201M13 299L15 302M15 302L13 304M96 301L97 298M97 298L94 296M214 240L211 241M211 241L208 243M32 299L29 299M29 299L28 303M192 264L194 266M194 266L196 268M176 328L179 330M179 330L181 333M59 280L56 282M56 282L53 280M258 283L261 283M261 283L263 285M184 225L183 222M183 222L185 219M180 274L177 274M177 274L174 273M170 268L169 265M169 265L166 265" stroke="#c8241c" stroke-width="3.4"/><path d="M181 209L182 211M227 280L225 279M236 279L239 280M159 292L158 295M152 276L151 274M155 280L156 283M76 272L75 275M75 272L73 273M88 271L88 269M139 191L137 193M185 210L183 211M196 211L198 211M202 218L200 217M204 217L204 215M195 235L195 238M167 191L168 193M164 187L162 185M173 193L173 195M174 191L177 191M182 185L183 187M180 180L179 179M235 313L236 315M231 310L229 309M220 316L218 317M209 291L206 292M27 331L30 330M28 338L30 338M25 336L24 334M29 341L29 339M28 346L27 348M131 318L133 316M132 319L134 318M133 329L130 329M136 332L137 334M140 325L138 323M144 326L146 325M143 321L146 321M141 323L142 326M104 221L101 220M104 220L102 220M103 220L104 222M88 203L86 203M92 201L94 199M85 197L87 197M80 199L77 199M102 227L103 224M220 268L218 270M222 272L224 271M175 221L177 220M173 224L174 227M169 230L168 233M169 226L169 223M94 243L96 241M91 247L90 249M79 242L78 244M79 237L78 235M78 236L79 238M74 234L72 233M189 222L190 220M185 225L183 226M188 219L186 220M221 288L223 290M228 284L231 283M230 286L228 287M230 285L228 286M102 238L100 239M113 235L115 233M136 307L133 307M145 312L146 315M149 302L149 299M149 302L151 300M152 305L150 303M159 303L160 306M94 257L94 260M88 258L88 260M126 219L124 218M130 222L132 224M120 222L122 221M120 222L123 222M53 294L55 295M49 290L51 291M47 284L48 286M43 281L40 281M43 276L41 276M230 252L232 250M222 256L221 259M222 247L224 246M219 245L219 243M221 239L221 237M224 242L227 242M223 229L220 229M225 227L225 224M183 240L181 239M186 243L187 245M181 245L179 244M184 244L185 242M180 252L177 252M185 252L187 252M204 286L203 288M206 308L204 308M222 314L224 315M85 295L85 297M84 295L84 297M81 284L81 282M80 289L80 292M78 280L75 280M70 277L73 278M65 272L67 272M62 271L60 269M55 277L53 276M75 312L77 313M71 312L69 313M71 306L74 307M69 308L69 311M75 294L77 295M77 286L77 284M163 303L164 305M159 300L156 299M167 305L170 304M169 306L166 305M61 277L60 279M62 262L65 262M61 265L63 267M56 258L54 260M59 255L61 253M76 265L74 267M78 269L81 269M68 266L69 268M77 257L76 255M79 258L80 256M232 261L234 262M228 259L226 257M238 261L241 261M246 260L244 261M81 258L80 255M80 259L77 257M91 262L93 262M90 260L92 259M96 257L98 257M100 259L101 257M104 270L105 268M95 267L92 267M97 270L96 272M95 264L96 266M94 259L94 257M192 216L194 216M192 207L192 204M185 204L183 203M235 238L235 236M238 240L240 240M241 224L239 222M243 260L245 259M237 270L236 272M239 269L241 271M240 279L238 280M198 308L200 309M194 308L192 309M187 308L185 309M182 309L179 309M176 314L178 315M206 239L207 241M207 235L209 233M164 209L167 210M160 210L159 212M129 239L128 241M132 237L135 237M109 261L107 263M112 267L114 269M212 284L210 285M210 281L212 280M198 285L198 282M196 286L194 285M193 296L195 295M266 302L267 300M267 308L269 306M260 315L257 314M260 313L259 311M209 317L211 318M195 326L194 328M188 323L186 321M191 326L193 328M115 269L114 267M114 272L112 274M112 292L109 291M113 295L111 297M202 262L200 263M203 263L203 265M198 266L200 265M197 265L199 263M191 264L193 262M129 314L131 315M125 311L123 309M126 317L128 316M122 316L120 314M125 227L123 226M195 205L198 204M200 197L197 196M200 199L199 200M210 194L212 194M206 195L205 197M213 187L212 185M220 195L223 196M244 281L245 279M240 286L242 285M236 285L235 283M30 307L33 308M28 304L28 302M187 207L187 204M169 204L167 204M211 293L209 292M219 289L221 290M221 283L223 285M210 253L208 252M212 253L212 250M213 237L210 237M213 237L211 236M182 210L180 209M182 212L180 212M189 223L189 225M196 219L197 220M195 211L192 212M195 209L194 207M41 295L44 295M39 272L39 270M107 308L108 306M196 298L193 298M193 290L195 291M196 283L199 282M189 280L188 282M189 274L188 276M246 262L247 260M245 269L248 268M245 272L247 274M244 277L246 277M233 279L232 281M232 276L230 275M226 282L229 283M220 280L222 281M221 279L223 280M217 269L217 267M25 313L24 311M29 314L32 314M42 316L42 318M41 311L39 310M38 315L39 318M36 311L35 308M38 318L36 316M38 318L36 316M34 326L32 328M35 323L34 320M32 330L30 328M31 335L34 334M25 343L25 345M25 352L23 353M29 349L31 348M248 292L250 290M243 290L245 290M226 287L225 285M230 290L232 290M44 247L42 246M46 250L45 253M42 239L41 237M46 241L48 241M46 233L46 231M41 225L39 225M233 259L231 258M233 269L232 272M232 269L230 271M229 266L231 264M225 266L223 264M219 264L217 263M219 264L217 262M218 263L219 265M212 273L213 275M128 286L130 286M128 279L130 277M123 272L122 269M124 276L123 279M132 262L132 259M179 259L178 262M174 252L175 250M168 243L170 242M168 231L167 228M167 231L165 230M84 290L82 290M90 291L88 291M97 298L100 299M94 295L92 293M248 299L245 299M252 299L255 298M238 302L237 300M242 308L239 307M77 281L75 280M31 271L31 268M29 271L27 269M28 281L28 278M25 286L25 284M18 286L18 284M20 290L22 291M189 240L191 241M178 242L176 244M178 240L176 239M164 180L167 180M167 178L165 176M171 180L173 179M173 187L175 188M224 255L223 253M226 271L227 269M229 274L231 274M169 283L170 286M171 282L174 282M173 277L171 276M175 276L176 274M176 273L173 272M178 275L177 278M158 278L160 278M152 274L150 276M150 265L151 267M151 264L153 265M124 268L126 266M132 281L134 282M130 278L131 276M201 280L198 280M200 273L197 274M207 266L209 265M109 268L106 267M112 271L114 273M102 269L100 268M102 273L104 273M211 230L213 229M210 228L211 226M206 223L206 226M208 221L211 221M202 218L204 217M187 206L186 203M191 207L193 205M34 256L37 257M23 269L21 268M24 280L26 278M24 282L27 283M15 282L13 280M88 269L87 270M97 251L100 251M89 257L89 259M170 246L171 248M167 246L165 248M169 252L171 254M166 259L164 261M168 264L171 264M162 265L164 264M158 266L156 265M97 283L98 286M95 283L94 286M94 281L97 281M91 284L89 286M93 288L95 287M87 291L87 288M86 296L85 298M80 302L80 300M75 299L76 301M81 285L84 285M109 257L107 256M113 260L115 262M112 243L111 241M113 243L113 241M107 233L105 232M110 236L111 239M103 229L101 229M108 229L111 230M121 312L119 313M129 306L129 303M204 197L207 196M179 309L180 311M176 307L174 308M173 304L172 306M172 303L170 305M169 291L171 290M182 243L181 245M182 241L180 240M190 246L192 245M189 249L190 252M197 249L199 250M197 248L199 248M196 251L195 249M195 254L193 254M135 237L133 236M142 237L139 237M141 247L143 245M69 300L67 302M68 296L67 294M62 223L61 225M64 220L67 220M59 215L61 214M63 209L62 212M65 205L66 203M59 296L61 295M59 296L61 295M65 295L67 296M61 292L59 290M69 299L69 302M81 300L83 302M80 296L81 293M208 233L209 235M33 311L33 314M35 309L38 309M31 313L31 311M221 210L221 213M222 207L225 206M231 251L231 248M221 242L222 239M228 316L227 318M232 321L230 323M199 303L197 303M195 300L193 301M194 298L192 297M37 247L35 246M37 247L36 245M42 234L44 235M38 231L37 229M14 302L14 304M14 297L14 294M3 298L3 300M147 282L149 281M138 274L135 275M138 274L135 275M87 250L86 252M168 238L170 237M169 240L171 240M173 247L171 248M22 278L25 279M22 278L24 280M14 278L12 276M12 284L11 282M22 296L24 297M18 295L15 296M50 309L47 308M58 315L58 312M56 318L54 319M51 237L53 236M46 236L44 235M61 253L63 254M44 303L42 301M45 307L44 309M175 284L175 282M173 280L171 280M177 282L178 285M175 275L177 276M245 271L247 269M242 275L241 277M238 263L237 264M239 258L238 256M161 202L160 205M164 201L166 203M222 318L220 317M107 316L108 314M105 318L102 316M126 312L128 313M126 311L128 310M128 308L130 310M76 309L74 307M75 312L73 313M69 302L71 302M129 239L127 237M132 243L133 245M104 221L104 219M102 221L103 223M66 226L68 228M50 205L51 203M119 274L122 274M122 280L124 281M118 277L117 274M125 285L125 288M123 284L121 286M120 288L118 287M89 250L91 250M88 249L91 248M113 325L115 324M109 328L107 330M105 337L103 335M105 340L102 341M208 297L206 295M210 301L209 303M214 288L214 291M216 285L218 284M207 286L206 288M44 308L43 306M47 312L47 315M49 301L50 299M42 300L40 301M42 298L39 297M31 290L31 293M27 288L25 289M230 299L229 301M230 294L229 292M240 300L242 300M236 298L234 296M247 293L245 291M246 297L245 299M77 252L75 251M80 248L82 249M76 238L74 236M87 228L85 230M132 228L133 226M131 228L130 226M124 230L122 232M127 230L128 232M115 218L116 216M116 223L117 225M100 224L98 225M108 267L106 266M108 268L105 269M106 265L106 267M109 260L110 258M103 259L105 258M102 263L104 265M165 208L167 207M171 196L171 194M9 305L7 304M13 305L15 304M97 304L99 304M77 291L76 289M82 293L84 294M217 236L216 234M205 247L205 249M207 246L209 248M36 302L37 304M33 299L30 299M189 258L188 256M193 262L195 263M199 272L199 274M199 277L198 279M122 217L121 219M118 309L117 307M131 298L130 295M130 302L128 303M133 293L135 293M133 292L135 291M111 213L111 211M108 215L106 214M103 213L102 211M102 216L100 217M96 217L94 218M95 214L93 213M95 225L96 224M143 220L144 218M156 231L153 230M159 229L159 227M172 308L173 306M163 312L161 310M163 315L162 317M165 325L163 324M175 328L177 330M183 338L183 341M66 266L64 265M66 271L68 269M48 278L46 276M47 279L45 279M251 312L252 310M243 316L243 318M246 312L247 310M236 306L235 308M240 303L242 303M252 283L250 282M253 285L250 286M267 289L269 291M268 289L270 289M271 287L270 284M191 234L190 236M193 230L196 229M188 227L190 227M188 215L190 212M164 268L166 269M160 269L163 269M160 269L162 268M151 273L150 275M149 270L147 269" stroke="#d8d8d8" stroke-width="2"/><path d="M179 207L176 208M113 236L116 235M211 308L213 309M68 263L70 261M100 273L98 275M119 284L118 287M87 289L87 286M261 294L263 293M141 288L143 288M198 217L197 215M18 282L19 280M95 249L95 247M165 259L163 260M81 302L81 300M232 312L234 311M91 229L92 231M91 269L90 267M71 267L73 266" stroke="#a6dce2" stroke-width="2"/><g fill="#d42a22"><circle cx="179" cy="200" r="2.8"/><circle cx="187" cy="205" r="2.8"/><circle cx="200" cy="208" r="2.8"/><circle cx="225" cy="294" r="2.8"/><circle cx="167" cy="298" r="2.8"/><circle cx="66" cy="268" r="2.8"/><circle cx="82" cy="274" r="2.8"/><circle cx="139" cy="196" r="2.8"/><circle cx="199" cy="215" r="2.8"/><circle cx="184" cy="188" r="2.8"/><circle cx="205" cy="290" r="2.8"/><circle cx="129" cy="314" r="2.8"/><circle cx="129" cy="326" r="2.8"/><circle cx="95" cy="214" r="2.8"/><circle cx="89" cy="197" r="2.8"/><circle cx="148" cy="184" r="2.8"/><circle cx="144" cy="174" r="2.8"/><circle cx="87" cy="226" r="2.8"/><circle cx="98" cy="224" r="2.8"/><circle cx="99" cy="235" r="2.8"/><circle cx="219" cy="260" r="2.8"/><circle cx="213" cy="273" r="2.8"/><circle cx="159" cy="227" r="2.8"/><circle cx="168" cy="218" r="2.8"/><circle cx="90" cy="250" r="2.8"/><circle cx="86" cy="241" r="2.8"/><circle cx="201" cy="214" r="2.8"/><circle cx="233" cy="296" r="2.8"/><circle cx="93" cy="231" r="2.8"/><circle cx="86" cy="249" r="2.8"/><circle cx="73" cy="248" r="2.8"/><circle cx="122" cy="218" r="2.8"/><circle cx="54" cy="267" r="2.8"/><circle cx="222" cy="235" r="2.8"/><circle cx="178" cy="258" r="2.8"/><circle cx="151" cy="244" r="2.8"/><circle cx="146" cy="232" r="2.8"/><circle cx="154" cy="224" r="2.8"/><circle cx="204" cy="302" r="2.8"/><circle cx="215" cy="308" r="2.8"/><circle cx="74" cy="278" r="2.8"/><circle cx="79" cy="313" r="2.8"/><circle cx="155" cy="303" r="2.8"/><circle cx="180" cy="316" r="2.8"/><circle cx="59" cy="269" r="2.8"/><circle cx="71" cy="259" r="2.8"/><circle cx="241" cy="266" r="2.8"/><circle cx="107" cy="268" r="2.8"/><circle cx="229" cy="242" r="2.8"/><circle cx="243" cy="231" r="2.8"/><circle cx="168" cy="206" r="2.8"/><circle cx="115" cy="254" r="2.8"/><circle cx="201" cy="281" r="2.8"/><circle cx="259" cy="300" r="2.8"/><circle cx="266" cy="321" r="2.8"/><circle cx="202" cy="320" r="2.8"/><circle cx="188" cy="330" r="2.8"/><circle cx="120" cy="266" r="2.8"/><circle cx="116" cy="287" r="2.8"/><circle cx="202" cy="267" r="2.8"/><circle cx="179" cy="273" r="2.8"/><circle cx="129" cy="306" r="2.8"/><circle cx="125" cy="241" r="2.8"/><circle cx="196" cy="200" r="2.8"/><circle cx="243" cy="277" r="2.8"/><circle cx="252" cy="297" r="2.8"/><circle cx="21" cy="308" r="2.8"/><circle cx="181" cy="212" r="2.8"/><circle cx="107" cy="258" r="2.8"/><circle cx="98" cy="265" r="2.8"/><circle cx="205" cy="256" r="2.8"/><circle cx="213" cy="249" r="2.8"/><circle cx="210" cy="234" r="2.8"/><circle cx="183" cy="217" r="2.8"/><circle cx="89" cy="318" r="2.8"/><circle cx="192" cy="296" r="2.8"/><circle cx="227" cy="287" r="2.8"/><circle cx="25" cy="309" r="2.8"/><circle cx="22" cy="346" r="2.8"/><circle cx="234" cy="290" r="2.8"/><circle cx="123" cy="292" r="2.8"/><circle cx="129" cy="270" r="2.8"/><circle cx="171" cy="248" r="2.8"/><circle cx="164" cy="238" r="2.8"/><circle cx="80" cy="290" r="2.8"/><circle cx="86" cy="304" r="2.8"/><circle cx="256" cy="302" r="2.8"/><circle cx="244" cy="299" r="2.8"/><circle cx="62" cy="299" r="2.8"/><circle cx="74" cy="286" r="2.8"/><circle cx="33" cy="279" r="2.8"/><circle cx="187" cy="226" r="2.8"/><circle cx="177" cy="246" r="2.8"/><circle cx="157" cy="183" r="2.8"/><circle cx="167" cy="191" r="2.8"/><circle cx="218" cy="268" r="2.8"/><circle cx="229" cy="268" r="2.8"/><circle cx="124" cy="277" r="2.8"/><circle cx="132" cy="287" r="2.8"/><circle cx="94" cy="278" r="2.8"/><circle cx="211" cy="224" r="2.8"/><circle cx="187" cy="214" r="2.8"/><circle cx="26" cy="255" r="2.8"/><circle cx="14" cy="291" r="2.8"/><circle cx="101" cy="254" r="2.8"/><circle cx="84" cy="258" r="2.8"/><circle cx="162" cy="241" r="2.8"/><circle cx="156" cy="272" r="2.8"/><circle cx="95" cy="269" r="2.8"/><circle cx="76" cy="291" r="2.8"/><circle cx="111" cy="252" r="2.8"/><circle cx="113" cy="239" r="2.8"/><circle cx="129" cy="302" r="2.8"/><circle cx="190" cy="201" r="2.8"/><circle cx="208" cy="195" r="2.8"/><circle cx="129" cy="230" r="2.8"/><circle cx="146" cy="248" r="2.8"/><circle cx="66" cy="302" r="2.8"/><circle cx="60" cy="227" r="2.8"/><circle cx="58" cy="210" r="2.8"/><circle cx="74" cy="295" r="2.8"/><circle cx="205" cy="225" r="2.8"/><circle cx="216" cy="244" r="2.8"/><circle cx="28" cy="305" r="2.8"/><circle cx="36" cy="320" r="2.8"/><circle cx="216" cy="213" r="2.8"/><circle cx="224" cy="203" r="2.8"/><circle cx="225" cy="249" r="2.8"/><circle cx="224" cy="295" r="2.8"/><circle cx="228" cy="308" r="2.8"/><circle cx="206" cy="307" r="2.8"/><circle cx="42" cy="239" r="2.8"/><circle cx="7" cy="300" r="2.8"/><circle cx="184" cy="270" r="2.8"/><circle cx="175" cy="263" r="2.8"/><circle cx="140" cy="279" r="2.8"/><circle cx="84" cy="232" r="2.8"/><circle cx="89" cy="241" r="2.8"/><circle cx="95" cy="249" r="2.8"/><circle cx="14" cy="293" r="2.8"/><circle cx="43" cy="301" r="2.8"/><circle cx="29" cy="308" r="2.8"/><circle cx="39" cy="304" r="2.8"/><circle cx="52" cy="306" r="2.8"/><circle cx="241" cy="267" r="2.8"/><circle cx="165" cy="182" r="2.8"/><circle cx="117" cy="314" r="2.8"/><circle cx="77" cy="304" r="2.8"/><circle cx="127" cy="235" r="2.8"/><circle cx="69" cy="236" r="2.8"/><circle cx="61" cy="219" r="2.8"/><circle cx="54" cy="211" r="2.8"/><circle cx="118" cy="267" r="2.8"/><circle cx="91" cy="246" r="2.8"/><circle cx="116" cy="322" r="2.8"/><circle cx="109" cy="332" r="2.8"/><circle cx="34" cy="293" r="2.8"/><circle cx="237" cy="300" r="2.8"/><circle cx="242" cy="295" r="2.8"/><circle cx="78" cy="259" r="2.8"/><circle cx="80" cy="234" r="2.8"/><circle cx="120" cy="224" r="2.8"/><circle cx="108" cy="220" r="2.8"/><circle cx="96" cy="265" r="2.8"/><circle cx="168" cy="204" r="2.8"/><circle cx="15" cy="302" r="2.8"/><circle cx="97" cy="298" r="2.8"/><circle cx="211" cy="241" r="2.8"/><circle cx="29" cy="299" r="2.8"/><circle cx="194" cy="266" r="2.8"/><circle cx="179" cy="330" r="2.8"/><circle cx="56" cy="282" r="2.8"/><circle cx="261" cy="283" r="2.8"/><circle cx="183" cy="222" r="2.8"/><circle cx="177" cy="274" r="2.8"/><circle cx="169" cy="265" r="2.8"/></g><g fill="#f2f2f2" stroke="#8a8a8a" stroke-width="0.5"><circle cx="182" cy="211" r="2.1"/><circle cx="225" cy="279" r="2.1"/><circle cx="239" cy="280" r="2.1"/><circle cx="158" cy="295" r="2.1"/><circle cx="151" cy="274" r="2.1"/><circle cx="156" cy="283" r="2.1"/><circle cx="75" cy="275" r="2.1"/><circle cx="73" cy="273" r="2.1"/><circle cx="88" cy="269" r="2.1"/><circle cx="137" cy="193" r="2.1"/><circle cx="183" cy="211" r="2.1"/><circle cx="198" cy="211" r="2.1"/><circle cx="200" cy="217" r="2.1"/><circle cx="204" cy="215" r="2.1"/><circle cx="195" cy="238" r="2.1"/><circle cx="168" cy="193" r="2.1"/><circle cx="162" cy="185" r="2.1"/><circle cx="173" cy="195" r="2.1"/><circle cx="177" cy="191" r="2.1"/><circle cx="183" cy="187" r="2.1"/><circle cx="179" cy="179" r="2.1"/><circle cx="236" cy="315" r="2.1"/><circle cx="229" cy="309" r="2.1"/><circle cx="218" cy="317" r="2.1"/><circle cx="206" cy="292" r="2.1"/><circle cx="30" cy="330" r="2.1"/><circle cx="30" cy="338" r="2.1"/><circle cx="24" cy="334" r="2.1"/><circle cx="29" cy="339" r="2.1"/><circle cx="27" cy="348" r="2.1"/><circle cx="133" cy="316" r="2.1"/><circle cx="134" cy="318" r="2.1"/><circle cx="130" cy="329" r="2.1"/><circle cx="137" cy="334" r="2.1"/><circle cx="138" cy="323" r="2.1"/><circle cx="146" cy="325" r="2.1"/><circle cx="146" cy="321" r="2.1"/><circle cx="142" cy="326" r="2.1"/><circle cx="101" cy="220" r="2.1"/><circle cx="102" cy="220" r="2.1"/><circle cx="104" cy="222" r="2.1"/><circle cx="86" cy="203" r="2.1"/><circle cx="94" cy="199" r="2.1"/><circle cx="87" cy="197" r="2.1"/><circle cx="77" cy="199" r="2.1"/><circle cx="103" cy="224" r="2.1"/><circle cx="218" cy="270" r="2.1"/><circle cx="224" cy="271" r="2.1"/><circle cx="177" cy="220" r="2.1"/><circle cx="174" cy="227" r="2.1"/><circle cx="168" cy="233" r="2.1"/><circle cx="169" cy="223" r="2.1"/><circle cx="96" cy="241" r="2.1"/><circle cx="90" cy="249" r="2.1"/><circle cx="78" cy="244" r="2.1"/><circle cx="78" cy="235" r="2.1"/><circle cx="79" cy="238" r="2.1"/><circle cx="72" cy="233" r="2.1"/><circle cx="190" cy="220" r="2.1"/><circle cx="183" cy="226" r="2.1"/><circle cx="186" cy="220" r="2.1"/><circle cx="223" cy="290" r="2.1"/><circle cx="231" cy="283" r="2.1"/><circle cx="228" cy="287" r="2.1"/><circle cx="228" cy="286" r="2.1"/><circle cx="100" cy="239" r="2.1"/><circle cx="115" cy="233" r="2.1"/><circle cx="133" cy="307" r="2.1"/><circle cx="146" cy="315" r="2.1"/><circle cx="149" cy="299" r="2.1"/><circle cx="151" cy="300" r="2.1"/><circle cx="150" cy="303" r="2.1"/><circle cx="160" cy="306" r="2.1"/><circle cx="94" cy="260" r="2.1"/><circle cx="88" cy="260" r="2.1"/><circle cx="124" cy="218" r="2.1"/><circle cx="132" cy="224" r="2.1"/><circle cx="122" cy="221" r="2.1"/><circle cx="123" cy="222" r="2.1"/><circle cx="55" cy="295" r="2.1"/><circle cx="51" cy="291" r="2.1"/><circle cx="48" cy="286" r="2.1"/><circle cx="40" cy="281" r="2.1"/><circle cx="41" cy="276" r="2.1"/><circle cx="232" cy="250" r="2.1"/><circle cx="221" cy="259" r="2.1"/><circle cx="224" cy="246" r="2.1"/><circle cx="219" cy="243" r="2.1"/><circle cx="221" cy="237" r="2.1"/><circle cx="227" cy="242" r="2.1"/><circle cx="220" cy="229" r="2.1"/><circle cx="225" cy="224" r="2.1"/><circle cx="181" cy="239" r="2.1"/><circle cx="187" cy="245" r="2.1"/><circle cx="179" cy="244" r="2.1"/><circle cx="185" cy="242" r="2.1"/><circle cx="177" cy="252" r="2.1"/><circle cx="187" cy="252" r="2.1"/><circle cx="203" cy="288" r="2.1"/><circle cx="204" cy="308" r="2.1"/><circle cx="224" cy="315" r="2.1"/><circle cx="85" cy="297" r="2.1"/><circle cx="84" cy="297" r="2.1"/><circle cx="81" cy="282" r="2.1"/><circle cx="80" cy="292" r="2.1"/><circle cx="75" cy="280" r="2.1"/><circle cx="73" cy="278" r="2.1"/><circle cx="67" cy="272" r="2.1"/><circle cx="60" cy="269" r="2.1"/><circle cx="53" cy="276" r="2.1"/><circle cx="77" cy="313" r="2.1"/><circle cx="69" cy="313" r="2.1"/><circle cx="74" cy="307" r="2.1"/><circle cx="69" cy="311" r="2.1"/><circle cx="77" cy="295" r="2.1"/><circle cx="77" cy="284" r="2.1"/><circle cx="164" cy="305" r="2.1"/><circle cx="156" cy="299" r="2.1"/><circle cx="170" cy="304" r="2.1"/><circle cx="166" cy="305" r="2.1"/><circle cx="60" cy="279" r="2.1"/><circle cx="65" cy="262" r="2.1"/><circle cx="63" cy="267" r="2.1"/><circle cx="54" cy="260" r="2.1"/><circle cx="61" cy="253" r="2.1"/><circle cx="74" cy="267" r="2.1"/><circle cx="81" cy="269" r="2.1"/><circle cx="69" cy="268" r="2.1"/><circle cx="76" cy="255" r="2.1"/><circle cx="80" cy="256" r="2.1"/><circle cx="234" cy="262" r="2.1"/><circle cx="226" cy="257" r="2.1"/><circle cx="241" cy="261" r="2.1"/><circle cx="244" cy="261" r="2.1"/><circle cx="80" cy="255" r="2.1"/><circle cx="77" cy="257" r="2.1"/><circle cx="93" cy="262" r="2.1"/><circle cx="92" cy="259" r="2.1"/><circle cx="98" cy="257" r="2.1"/><circle cx="101" cy="257" r="2.1"/><circle cx="105" cy="268" r="2.1"/><circle cx="92" cy="267" r="2.1"/><circle cx="96" cy="272" r="2.1"/><circle cx="96" cy="266" r="2.1"/><circle cx="94" cy="257" r="2.1"/><circle cx="194" cy="216" r="2.1"/><circle cx="192" cy="204" r="2.1"/><circle cx="183" cy="203" r="2.1"/><circle cx="235" cy="236" r="2.1"/><circle cx="240" cy="240" r="2.1"/><circle cx="239" cy="222" r="2.1"/><circle cx="245" cy="259" r="2.1"/><circle cx="236" cy="272" r="2.1"/><circle cx="241" cy="271" r="2.1"/><circle cx="238" cy="280" r="2.1"/><circle cx="200" cy="309" r="2.1"/><circle cx="192" cy="309" r="2.1"/><circle cx="185" cy="309" r="2.1"/><circle cx="179" cy="309" r="2.1"/><circle cx="178" cy="315" r="2.1"/><circle cx="207" cy="241" r="2.1"/><circle cx="209" cy="233" r="2.1"/><circle cx="167" cy="210" r="2.1"/><circle cx="159" cy="212" r="2.1"/><circle cx="128" cy="241" r="2.1"/><circle cx="135" cy="237" r="2.1"/><circle cx="107" cy="263" r="2.1"/><circle cx="114" cy="269" r="2.1"/><circle cx="210" cy="285" r="2.1"/><circle cx="212" cy="280" r="2.1"/><circle cx="198" cy="282" r="2.1"/><circle cx="194" cy="285" r="2.1"/><circle cx="195" cy="295" r="2.1"/><circle cx="267" cy="300" r="2.1"/><circle cx="269" cy="306" r="2.1"/><circle cx="257" cy="314" r="2.1"/><circle cx="259" cy="311" r="2.1"/><circle cx="211" cy="318" r="2.1"/><circle cx="194" cy="328" r="2.1"/><circle cx="186" cy="321" r="2.1"/><circle cx="193" cy="328" r="2.1"/><circle cx="114" cy="267" r="2.1"/><circle cx="112" cy="274" r="2.1"/><circle cx="109" cy="291" r="2.1"/><circle cx="111" cy="297" r="2.1"/><circle cx="200" cy="263" r="2.1"/><circle cx="203" cy="265" r="2.1"/><circle cx="200" cy="265" r="2.1"/><circle cx="199" cy="263" r="2.1"/><circle cx="193" cy="262" r="2.1"/><circle cx="131" cy="315" r="2.1"/><circle cx="123" cy="309" r="2.1"/><circle cx="128" cy="316" r="2.1"/><circle cx="120" cy="314" r="2.1"/><circle cx="123" cy="226" r="2.1"/><circle cx="198" cy="204" r="2.1"/><circle cx="197" cy="196" r="2.1"/><circle cx="199" cy="200" r="2.1"/><circle cx="212" cy="194" r="2.1"/><circle cx="205" cy="197" r="2.1"/><circle cx="212" cy="185" r="2.1"/><circle cx="223" cy="196" r="2.1"/><circle cx="245" cy="279" r="2.1"/><circle cx="242" cy="285" r="2.1"/><circle cx="235" cy="283" r="2.1"/><circle cx="33" cy="308" r="2.1"/><circle cx="28" cy="302" r="2.1"/><circle cx="187" cy="204" r="2.1"/><circle cx="167" cy="204" r="2.1"/><circle cx="209" cy="292" r="2.1"/><circle cx="221" cy="290" r="2.1"/><circle cx="223" cy="285" r="2.1"/><circle cx="208" cy="252" r="2.1"/><circle cx="212" cy="250" r="2.1"/><circle cx="210" cy="237" r="2.1"/><circle cx="211" cy="236" r="2.1"/><circle cx="180" cy="209" r="2.1"/><circle cx="180" cy="212" r="2.1"/><circle cx="189" cy="225" r="2.1"/><circle cx="197" cy="220" r="2.1"/><circle cx="192" cy="212" r="2.1"/><circle cx="194" cy="207" r="2.1"/><circle cx="44" cy="295" r="2.1"/><circle cx="39" cy="270" r="2.1"/><circle cx="108" cy="306" r="2.1"/><circle cx="193" cy="298" r="2.1"/><circle cx="195" cy="291" r="2.1"/><circle cx="199" cy="282" r="2.1"/><circle cx="188" cy="282" r="2.1"/><circle cx="188" cy="276" r="2.1"/><circle cx="247" cy="260" r="2.1"/><circle cx="248" cy="268" r="2.1"/><circle cx="247" cy="274" r="2.1"/><circle cx="246" cy="277" r="2.1"/><circle cx="232" cy="281" r="2.1"/><circle cx="230" cy="275" r="2.1"/><circle cx="229" cy="283" r="2.1"/><circle cx="222" cy="281" r="2.1"/><circle cx="223" cy="280" r="2.1"/><circle cx="217" cy="267" r="2.1"/><circle cx="24" cy="311" r="2.1"/><circle cx="32" cy="314" r="2.1"/><circle cx="42" cy="318" r="2.1"/><circle cx="39" cy="310" r="2.1"/><circle cx="39" cy="318" r="2.1"/><circle cx="35" cy="308" r="2.1"/><circle cx="36" cy="316" r="2.1"/><circle cx="36" cy="316" r="2.1"/><circle cx="32" cy="328" r="2.1"/><circle cx="34" cy="320" r="2.1"/><circle cx="30" cy="328" r="2.1"/><circle cx="34" cy="334" r="2.1"/><circle cx="25" cy="345" r="2.1"/><circle cx="23" cy="353" r="2.1"/><circle cx="31" cy="348" r="2.1"/><circle cx="250" cy="290" r="2.1"/><circle cx="245" cy="290" r="2.1"/><circle cx="225" cy="285" r="2.1"/><circle cx="232" cy="290" r="2.1"/><circle cx="42" cy="246" r="2.1"/><circle cx="45" cy="253" r="2.1"/><circle cx="41" cy="237" r="2.1"/><circle cx="48" cy="241" r="2.1"/><circle cx="46" cy="231" r="2.1"/><circle cx="39" cy="225" r="2.1"/><circle cx="231" cy="258" r="2.1"/><circle cx="232" cy="272" r="2.1"/><circle cx="230" cy="271" r="2.1"/><circle cx="231" cy="264" r="2.1"/><circle cx="223" cy="264" r="2.1"/><circle cx="217" cy="263" r="2.1"/><circle cx="217" cy="262" r="2.1"/><circle cx="219" cy="265" r="2.1"/><circle cx="213" cy="275" r="2.1"/><circle cx="130" cy="286" r="2.1"/><circle cx="130" cy="277" r="2.1"/><circle cx="122" cy="269" r="2.1"/><circle cx="123" cy="279" r="2.1"/><circle cx="132" cy="259" r="2.1"/><circle cx="178" cy="262" r="2.1"/><circle cx="175" cy="250" r="2.1"/><circle cx="170" cy="242" r="2.1"/><circle cx="167" cy="228" r="2.1"/><circle cx="165" cy="230" r="2.1"/><circle cx="82" cy="290" r="2.1"/><circle cx="88" cy="291" r="2.1"/><circle cx="100" cy="299" r="2.1"/><circle cx="92" cy="293" r="2.1"/><circle cx="245" cy="299" r="2.1"/><circle cx="255" cy="298" r="2.1"/><circle cx="237" cy="300" r="2.1"/><circle cx="239" cy="307" r="2.1"/><circle cx="75" cy="280" r="2.1"/><circle cx="31" cy="268" r="2.1"/><circle cx="27" cy="269" r="2.1"/><circle cx="28" cy="278" r="2.1"/><circle cx="25" cy="284" r="2.1"/><circle cx="18" cy="284" r="2.1"/><circle cx="22" cy="291" r="2.1"/><circle cx="191" cy="241" r="2.1"/><circle cx="176" cy="244" r="2.1"/><circle cx="176" cy="239" r="2.1"/><circle cx="167" cy="180" r="2.1"/><circle cx="165" cy="176" r="2.1"/><circle cx="173" cy="179" r="2.1"/><circle cx="175" cy="188" r="2.1"/><circle cx="223" cy="253" r="2.1"/><circle cx="227" cy="269" r="2.1"/><circle cx="231" cy="274" r="2.1"/><circle cx="170" cy="286" r="2.1"/><circle cx="174" cy="282" r="2.1"/><circle cx="171" cy="276" r="2.1"/><circle cx="176" cy="274" r="2.1"/><circle cx="173" cy="272" r="2.1"/><circle cx="177" cy="278" r="2.1"/><circle cx="160" cy="278" r="2.1"/><circle cx="150" cy="276" r="2.1"/><circle cx="151" cy="267" r="2.1"/><circle cx="153" cy="265" r="2.1"/><circle cx="126" cy="266" r="2.1"/><circle cx="134" cy="282" r="2.1"/><circle cx="131" cy="276" r="2.1"/><circle cx="198" cy="280" r="2.1"/><circle cx="197" cy="274" r="2.1"/><circle cx="209" cy="265" r="2.1"/><circle cx="106" cy="267" r="2.1"/><circle cx="114" cy="273" r="2.1"/><circle cx="100" cy="268" r="2.1"/><circle cx="104" cy="273" r="2.1"/><circle cx="213" cy="229" r="2.1"/><circle cx="211" cy="226" r="2.1"/><circle cx="206" cy="226" r="2.1"/><circle cx="211" cy="221" r="2.1"/><circle cx="204" cy="217" r="2.1"/><circle cx="186" cy="203" r="2.1"/><circle cx="193" cy="205" r="2.1"/><circle cx="37" cy="257" r="2.1"/><circle cx="21" cy="268" r="2.1"/><circle cx="26" cy="278" r="2.1"/><circle cx="27" cy="283" r="2.1"/><circle cx="13" cy="280" r="2.1"/><circle cx="87" cy="270" r="2.1"/><circle cx="100" cy="251" r="2.1"/><circle cx="89" cy="259" r="2.1"/><circle cx="171" cy="248" r="2.1"/><circle cx="165" cy="248" r="2.1"/><circle cx="171" cy="254" r="2.1"/><circle cx="164" cy="261" r="2.1"/><circle cx="171" cy="264" r="2.1"/><circle cx="164" cy="264" r="2.1"/><circle cx="156" cy="265" r="2.1"/><circle cx="98" cy="286" r="2.1"/><circle cx="94" cy="286" r="2.1"/><circle cx="97" cy="281" r="2.1"/><circle cx="89" cy="286" r="2.1"/><circle cx="95" cy="287" r="2.1"/><circle cx="87" cy="288" r="2.1"/><circle cx="85" cy="298" r="2.1"/><circle cx="80" cy="300" r="2.1"/><circle cx="76" cy="301" r="2.1"/><circle cx="84" cy="285" r="2.1"/><circle cx="107" cy="256" r="2.1"/><circle cx="115" cy="262" r="2.1"/><circle cx="111" cy="241" r="2.1"/><circle cx="113" cy="241" r="2.1"/><circle cx="105" cy="232" r="2.1"/><circle cx="111" cy="239" r="2.1"/><circle cx="101" cy="229" r="2.1"/><circle cx="111" cy="230" r="2.1"/><circle cx="119" cy="313" r="2.1"/><circle cx="129" cy="303" r="2.1"/><circle cx="207" cy="196" r="2.1"/><circle cx="180" cy="311" r="2.1"/><circle cx="174" cy="308" r="2.1"/><circle cx="172" cy="306" r="2.1"/><circle cx="170" cy="305" r="2.1"/><circle cx="171" cy="290" r="2.1"/><circle cx="181" cy="245" r="2.1"/><circle cx="180" cy="240" r="2.1"/><circle cx="192" cy="245" r="2.1"/><circle cx="190" cy="252" r="2.1"/><circle cx="199" cy="250" r="2.1"/><circle cx="199" cy="248" r="2.1"/><circle cx="195" cy="249" r="2.1"/><circle cx="193" cy="254" r="2.1"/><circle cx="133" cy="236" r="2.1"/><circle cx="139" cy="237" r="2.1"/><circle cx="143" cy="245" r="2.1"/><circle cx="67" cy="302" r="2.1"/><circle cx="67" cy="294" r="2.1"/><circle cx="61" cy="225" r="2.1"/><circle cx="67" cy="220" r="2.1"/><circle cx="61" cy="214" r="2.1"/><circle cx="62" cy="212" r="2.1"/><circle cx="66" cy="203" r="2.1"/><circle cx="61" cy="295" r="2.1"/><circle cx="61" cy="295" r="2.1"/><circle cx="67" cy="296" r="2.1"/><circle cx="59" cy="290" r="2.1"/><circle cx="69" cy="302" r="2.1"/><circle cx="83" cy="302" r="2.1"/><circle cx="81" cy="293" r="2.1"/><circle cx="209" cy="235" r="2.1"/><circle cx="33" cy="314" r="2.1"/><circle cx="38" cy="309" r="2.1"/><circle cx="31" cy="311" r="2.1"/><circle cx="221" cy="213" r="2.1"/><circle cx="225" cy="206" r="2.1"/><circle cx="231" cy="248" r="2.1"/><circle cx="222" cy="239" r="2.1"/><circle cx="227" cy="318" r="2.1"/><circle cx="230" cy="323" r="2.1"/><circle cx="197" cy="303" r="2.1"/><circle cx="193" cy="301" r="2.1"/><circle cx="192" cy="297" r="2.1"/><circle cx="35" cy="246" r="2.1"/><circle cx="36" cy="245" r="2.1"/><circle cx="44" cy="235" r="2.1"/><circle cx="37" cy="229" r="2.1"/><circle cx="14" cy="304" r="2.1"/><circle cx="14" cy="294" r="2.1"/><circle cx="3" cy="300" r="2.1"/><circle cx="149" cy="281" r="2.1"/><circle cx="135" cy="275" r="2.1"/><circle cx="135" cy="275" r="2.1"/><circle cx="86" cy="252" r="2.1"/><circle cx="170" cy="237" r="2.1"/><circle cx="171" cy="240" r="2.1"/><circle cx="171" cy="248" r="2.1"/><circle cx="25" cy="279" r="2.1"/><circle cx="24" cy="280" r="2.1"/><circle cx="12" cy="276" r="2.1"/><circle cx="11" cy="282" r="2.1"/><circle cx="24" cy="297" r="2.1"/><circle cx="15" cy="296" r="2.1"/><circle cx="47" cy="308" r="2.1"/><circle cx="58" cy="312" r="2.1"/><circle cx="54" cy="319" r="2.1"/><circle cx="53" cy="236" r="2.1"/><circle cx="44" cy="235" r="2.1"/><circle cx="63" cy="254" r="2.1"/><circle cx="42" cy="301" r="2.1"/><circle cx="44" cy="309" r="2.1"/><circle cx="175" cy="282" r="2.1"/><circle cx="171" cy="280" r="2.1"/><circle cx="178" cy="285" r="2.1"/><circle cx="177" cy="276" r="2.1"/><circle cx="247" cy="269" r="2.1"/><circle cx="241" cy="277" r="2.1"/><circle cx="237" cy="264" r="2.1"/><circle cx="238" cy="256" r="2.1"/><circle cx="160" cy="205" r="2.1"/><circle cx="166" cy="203" r="2.1"/><circle cx="220" cy="317" r="2.1"/><circle cx="108" cy="314" r="2.1"/><circle cx="102" cy="316" r="2.1"/><circle cx="128" cy="313" r="2.1"/><circle cx="128" cy="310" r="2.1"/><circle cx="130" cy="310" r="2.1"/><circle cx="74" cy="307" r="2.1"/><circle cx="73" cy="313" r="2.1"/><circle cx="71" cy="302" r="2.1"/><circle cx="127" cy="237" r="2.1"/><circle cx="133" cy="245" r="2.1"/><circle cx="104" cy="219" r="2.1"/><circle cx="103" cy="223" r="2.1"/><circle cx="68" cy="228" r="2.1"/><circle cx="51" cy="203" r="2.1"/><circle cx="122" cy="274" r="2.1"/><circle cx="124" cy="281" r="2.1"/><circle cx="117" cy="274" r="2.1"/><circle cx="125" cy="288" r="2.1"/><circle cx="121" cy="286" r="2.1"/><circle cx="118" cy="287" r="2.1"/><circle cx="91" cy="250" r="2.1"/><circle cx="91" cy="248" r="2.1"/><circle cx="115" cy="324" r="2.1"/><circle cx="107" cy="330" r="2.1"/><circle cx="103" cy="335" r="2.1"/><circle cx="102" cy="341" r="2.1"/><circle cx="206" cy="295" r="2.1"/><circle cx="209" cy="303" r="2.1"/><circle cx="214" cy="291" r="2.1"/><circle cx="218" cy="284" r="2.1"/><circle cx="206" cy="288" r="2.1"/><circle cx="43" cy="306" r="2.1"/><circle cx="47" cy="315" r="2.1"/><circle cx="50" cy="299" r="2.1"/><circle cx="40" cy="301" r="2.1"/><circle cx="39" cy="297" r="2.1"/><circle cx="31" cy="293" r="2.1"/><circle cx="25" cy="289" r="2.1"/><circle cx="229" cy="301" r="2.1"/><circle cx="229" cy="292" r="2.1"/><circle cx="242" cy="300" r="2.1"/><circle cx="234" cy="296" r="2.1"/><circle cx="245" cy="291" r="2.1"/><circle cx="245" cy="299" r="2.1"/><circle cx="75" cy="251" r="2.1"/><circle cx="82" cy="249" r="2.1"/><circle cx="74" cy="236" r="2.1"/><circle cx="85" cy="230" r="2.1"/><circle cx="133" cy="226" r="2.1"/><circle cx="130" cy="226" r="2.1"/><circle cx="122" cy="232" r="2.1"/><circle cx="128" cy="232" r="2.1"/><circle cx="116" cy="216" r="2.1"/><circle cx="117" cy="225" r="2.1"/><circle cx="98" cy="225" r="2.1"/><circle cx="106" cy="266" r="2.1"/><circle cx="105" cy="269" r="2.1"/><circle cx="106" cy="267" r="2.1"/><circle cx="110" cy="258" r="2.1"/><circle cx="105" cy="258" r="2.1"/><circle cx="104" cy="265" r="2.1"/><circle cx="167" cy="207" r="2.1"/><circle cx="171" cy="194" r="2.1"/><circle cx="7" cy="304" r="2.1"/><circle cx="15" cy="304" r="2.1"/><circle cx="99" cy="304" r="2.1"/><circle cx="76" cy="289" r="2.1"/><circle cx="84" cy="294" r="2.1"/><circle cx="216" cy="234" r="2.1"/><circle cx="205" cy="249" r="2.1"/><circle cx="209" cy="248" r="2.1"/><circle cx="37" cy="304" r="2.1"/><circle cx="30" cy="299" r="2.1"/><circle cx="188" cy="256" r="2.1"/><circle cx="195" cy="263" r="2.1"/><circle cx="199" cy="274" r="2.1"/><circle cx="198" cy="279" r="2.1"/><circle cx="121" cy="219" r="2.1"/><circle cx="117" cy="307" r="2.1"/><circle cx="130" cy="295" r="2.1"/><circle cx="128" cy="303" r="2.1"/><circle cx="135" cy="293" r="2.1"/><circle cx="135" cy="291" r="2.1"/><circle cx="111" cy="211" r="2.1"/><circle cx="106" cy="214" r="2.1"/><circle cx="102" cy="211" r="2.1"/><circle cx="100" cy="217" r="2.1"/><circle cx="94" cy="218" r="2.1"/><circle cx="93" cy="213" r="2.1"/><circle cx="96" cy="224" r="2.1"/><circle cx="144" cy="218" r="2.1"/><circle cx="153" cy="230" r="2.1"/><circle cx="159" cy="227" r="2.1"/><circle cx="173" cy="306" r="2.1"/><circle cx="161" cy="310" r="2.1"/><circle cx="162" cy="317" r="2.1"/><circle cx="163" cy="324" r="2.1"/><circle cx="177" cy="330" r="2.1"/><circle cx="183" cy="341" r="2.1"/><circle cx="64" cy="265" r="2.1"/><circle cx="68" cy="269" r="2.1"/><circle cx="46" cy="276" r="2.1"/><circle cx="45" cy="279" r="2.1"/><circle cx="252" cy="310" r="2.1"/><circle cx="243" cy="318" r="2.1"/><circle cx="247" cy="310" r="2.1"/><circle cx="235" cy="308" r="2.1"/><circle cx="242" cy="303" r="2.1"/><circle cx="250" cy="282" r="2.1"/><circle cx="250" cy="286" r="2.1"/><circle cx="269" cy="291" r="2.1"/><circle cx="270" cy="289" r="2.1"/><circle cx="270" cy="284" r="2.1"/><circle cx="190" cy="236" r="2.1"/><circle cx="196" cy="229" r="2.1"/><circle cx="190" cy="227" r="2.1"/><circle cx="190" cy="212" r="2.1"/><circle cx="166" cy="269" r="2.1"/><circle cx="163" cy="269" r="2.1"/><circle cx="162" cy="268" r="2.1"/><circle cx="150" cy="275" r="2.1"/><circle cx="147" cy="269" r="2.1"/></g><g fill="#bdf0f4" stroke="#6aa" stroke-width="0.4"><circle cx="176" cy="208" r="2.2"/><circle cx="116" cy="235" r="2.2"/><circle cx="213" cy="309" r="2.2"/><circle cx="70" cy="261" r="2.2"/><circle cx="98" cy="275" r="2.2"/><circle cx="118" cy="287" r="2.2"/><circle cx="87" cy="286" r="2.2"/><circle cx="263" cy="293" r="2.2"/><circle cx="143" cy="288" r="2.2"/><circle cx="197" cy="215" r="2.2"/><circle cx="19" cy="280" r="2.2"/><circle cx="95" cy="247" r="2.2"/><circle cx="163" cy="260" r="2.2"/><circle cx="81" cy="300" r="2.2"/><circle cx="234" cy="311" r="2.2"/><circle cx="92" cy="231" r="2.2"/><circle cx="90" cy="267" r="2.2"/><circle cx="73" cy="266" r="2.2"/></g></g><g clip-path="url(#clA)"><path d="M197 312L207 309M197 312L195 319M197 312L189 314M197 312L191 306M207 309L209 301M207 309L214 307M207 309L213 314M156 317L161 326M156 317L148 317M156 317L151 311M156 317L159 310M161 326L169 326M161 326L165 332M161 326L158 333M161 309L155 317M161 309L158 301M161 309L165 302M161 309L169 309M155 317L158 324M155 317L150 323M155 317L147 317M236 315L231 323M236 315L232 308M236 315L240 308M236 315L244 314M231 323L235 330M231 323L227 330M231 323L223 324M105 321L98 314M105 321L113 319M105 321L111 326M105 321L104 329M98 314L90 316M98 314L92 309M98 314L99 306M145 312L146 302M145 312L152 317M145 312L145 320M145 312L139 317M146 302L139 298M146 302L146 294M146 302L152 298M184 303L178 311M184 303L181 295M184 303L189 296M184 303L192 303M178 311L182 318M178 311L174 317M178 311L170 310M93 314L102 309M93 314L93 322M93 314L86 318M93 314L86 310M102 309L103 301M102 309L109 305M102 309L109 313M94 301L102 294M94 301L95 309M94 301L88 306M94 301L86 299M102 294L100 286M102 294L108 289M102 294L109 297M125 318L132 324M125 318L117 320M125 318L119 312M125 318L126 310M132 324L140 322M132 324L138 329M132 324L131 332M97 316L107 317M97 316L92 322M97 316L89 315M97 316L94 309M107 317L112 311M107 317L115 319M107 317L110 325M155 317L145 316M155 317L160 311M155 317L163 318M155 317L158 324M145 316L140 322M145 316L137 315M145 316L141 309" stroke="#2c6ca4" stroke-width="4.6" stroke-linecap="round" fill="none"/><g fill="#3a80ba"><circle cx="195" cy="319" r="3"/><circle cx="189" cy="314" r="3"/><circle cx="191" cy="306" r="3"/><circle cx="209" cy="301" r="3"/><circle cx="214" cy="307" r="3"/><circle cx="213" cy="314" r="3"/><circle cx="148" cy="317" r="3"/><circle cx="151" cy="311" r="3"/><circle cx="159" cy="310" r="3"/><circle cx="169" cy="326" r="3"/><circle cx="165" cy="332" r="3"/><circle cx="158" cy="333" r="3"/><circle cx="158" cy="301" r="3"/><circle cx="165" cy="302" r="3"/><circle cx="169" cy="309" r="3"/><circle cx="158" cy="324" r="3"/><circle cx="150" cy="323" r="3"/><circle cx="147" cy="317" r="3"/><circle cx="232" cy="308" r="3"/><circle cx="240" cy="308" r="3"/><circle cx="244" cy="314" r="3"/><circle cx="235" cy="330" r="3"/><circle cx="227" cy="330" r="3"/><circle cx="223" cy="324" r="3"/><circle cx="113" cy="319" r="3"/><circle cx="111" cy="326" r="3"/><circle cx="104" cy="329" r="3"/><circle cx="90" cy="316" r="3"/><circle cx="92" cy="309" r="3"/><circle cx="99" cy="306" r="3"/><circle cx="152" cy="317" r="3"/><circle cx="145" cy="320" r="3"/><circle cx="139" cy="317" r="3"/><circle cx="139" cy="298" r="3"/><circle cx="146" cy="294" r="3"/><circle cx="152" cy="298" r="3"/><circle cx="181" cy="295" r="3"/><circle cx="189" cy="296" r="3"/><circle cx="192" cy="303" r="3"/><circle cx="182" cy="318" r="3"/><circle cx="174" cy="317" r="3"/><circle cx="170" cy="310" r="3"/><circle cx="93" cy="322" r="3"/><circle cx="86" cy="318" r="3"/><circle cx="86" cy="310" r="3"/><circle cx="103" cy="301" r="3"/><circle cx="109" cy="305" r="3"/><circle cx="109" cy="313" r="3"/><circle cx="95" cy="309" r="3"/><circle cx="88" cy="306" r="3"/><circle cx="86" cy="299" r="3"/><circle cx="100" cy="286" r="3"/><circle cx="108" cy="289" r="3"/><circle cx="109" cy="297" r="3"/><circle cx="117" cy="320" r="3"/><circle cx="119" cy="312" r="3"/><circle cx="126" cy="310" r="3"/><circle cx="140" cy="322" r="3"/><circle cx="138" cy="329" r="3"/><circle cx="131" cy="332" r="3"/><circle cx="92" cy="322" r="3"/><circle cx="89" cy="315" r="3"/><circle cx="94" cy="309" r="3"/><circle cx="112" cy="311" r="3"/><circle cx="115" cy="319" r="3"/><circle cx="110" cy="325" r="3"/><circle cx="160" cy="311" r="3"/><circle cx="163" cy="318" r="3"/><circle cx="158" cy="324" r="3"/><circle cx="140" cy="322" r="3"/><circle cx="137" cy="315" r="3"/><circle cx="141" cy="309" r="3"/></g><path d="M197 312L207 309M197 312L195 319M197 312L189 314M197 312L191 306M207 309L209 301M207 309L214 307M207 309L213 314M156 317L161 326M156 317L148 317M156 317L151 311M156 317L159 310M161 326L169 326M161 326L165 332M161 326L158 333M161 309L155 317M161 309L158 301M161 309L165 302M161 309L169 309M155 317L158 324M155 317L150 323M155 317L147 317M236 315L231 323M236 315L232 308M236 315L240 308M236 315L244 314M231 323L235 330M231 323L227 330M231 323L223 324M105 321L98 314M105 321L113 319M105 321L111 326M105 321L104 329M98 314L90 316M98 314L92 309M98 314L99 306M145 312L146 302M145 312L152 317M145 312L145 320M145 312L139 317M146 302L139 298M146 302L146 294M146 302L152 298M184 303L178 311M184 303L181 295M184 303L189 296M184 303L192 303M178 311L182 318M178 311L174 317M178 311L170 310M93 314L102 309M93 314L93 322M93 314L86 318M93 314L86 310M102 309L103 301M102 309L109 305M102 309L109 313M94 301L102 294M94 301L95 309M94 301L88 306M94 301L86 299M102 294L100 286M102 294L108 289M102 294L109 297M125 318L132 324M125 318L117 320M125 318L119 312M125 318L126 310M132 324L140 322M132 324L138 329M132 324L131 332M97 316L107 317M97 316L92 322M97 316L89 315M97 316L94 309M107 317L112 311M107 317L115 319M107 317L110 325M155 317L145 316M155 317L160 311M155 317L163 318M155 317L158 324M145 316L140 322M145 316L137 315M145 316L141 309" stroke="#6aa6d8" stroke-width="1.2" stroke-linecap="round" fill="none" transform="translate(-0.7,-0.9)"/></g><g clip-path="url(#clA)"><circle cx="225.3" cy="314.0" r="5.4" fill="url(#mG)"/><circle cx="190.7" cy="314.2" r="5.4" fill="url(#mG)"/><circle cx="214.6" cy="314.2" r="5.4" fill="url(#mG)"/><circle cx="166.7" cy="314.6" r="5.4" fill="url(#mG)"/><circle cx="200.6" cy="314.7" r="5.4" fill="url(#mG)"/><circle cx="240.9" cy="314.8" r="5.4" fill="url(#mG)"/><circle cx="233.2" cy="315.1" r="5.4" fill="url(#mG)"/><circle cx="110.5" cy="315.1" r="5.4" fill="url(#mG)"/><circle cx="92.9" cy="315.6" r="5.4" fill="url(#mG)"/><circle cx="182.8" cy="315.8" r="5.4" fill="url(#mG)"/><circle cx="152.6" cy="316.3" r="5.4" fill="url(#mG)"/><circle cx="76.4" cy="317.8" r="5.4" fill="url(#mG)"/><circle cx="130.7" cy="317.9" r="5.4" fill="url(#mG)"/><circle cx="54.6" cy="318.0" r="5.4" fill="url(#mG)"/><circle cx="253.3" cy="318.2" r="5.4" fill="url(#mG)"/><circle cx="101.3" cy="319.1" r="5.4" fill="url(#mG)"/><circle cx="174.4" cy="319.5" r="5.4" fill="url(#mG)"/><circle cx="140.0" cy="319.9" r="5.4" fill="url(#mG)"/><circle cx="30.7" cy="320.1" r="5.4" fill="url(#mG)"/><circle cx="209.5" cy="320.4" r="5.4" fill="url(#mG)"/><circle cx="85.6" cy="321.3" r="5.4" fill="url(#mG)"/><circle cx="193.3" cy="321.6" r="5.4" fill="url(#mG)"/><circle cx="63.2" cy="321.7" r="5.4" fill="url(#mG)"/><circle cx="119.4" cy="321.8" r="5.4" fill="url(#mG)"/><circle cx="226.2" cy="322.0" r="5.4" fill="url(#mG)"/><circle cx="47.0" cy="322.1" r="5.4" fill="url(#mG)"/><circle cx="38.1" cy="322.2" r="5.4" fill="url(#mG)"/><circle cx="201.7" cy="322.4" r="5.4" fill="url(#mG)"/><circle cx="234.5" cy="322.6" r="5.4" fill="url(#mG)"/><circle cx="165.8" cy="323.0" r="5.4" fill="url(#mG)"/><circle cx="184.1" cy="323.0" r="5.4" fill="url(#mG)"/><circle cx="111.8" cy="323.4" r="5.4" fill="url(#mG)"/><circle cx="149.5" cy="323.6" r="5.4" fill="url(#mG)"/><circle cx="246.8" cy="324.5" r="5.4" fill="url(#mG)"/><circle cx="218.0" cy="324.6" r="5.4" fill="url(#mG)"/><circle cx="55.9" cy="326.2" r="5.4" fill="url(#mG)"/><circle cx="255.1" cy="326.2" r="5.4" fill="url(#mG)"/><circle cx="157.7" cy="326.7" r="5.4" fill="url(#mG)"/><circle cx="142.9" cy="327.2" r="5.4" fill="url(#mG)"/><circle cx="128.4" cy="327.3" r="5.4" fill="url(#mG)"/><circle cx="30.5" cy="327.4" r="5.4" fill="url(#mG)"/><circle cx="92.7" cy="327.6" r="5.4" fill="url(#mG)"/><circle cx="175.7" cy="327.9" r="5.4" fill="url(#mG)"/><circle cx="75.1" cy="328.6" r="5.4" fill="url(#mG)"/><circle cx="192.6" cy="329.0" r="5.4" fill="url(#mG)"/><circle cx="115.8" cy="330.0" r="5.4" fill="url(#mG)"/><circle cx="168.5" cy="330.1" r="5.4" fill="url(#mG)"/><circle cx="207.9" cy="330.5" r="5.4" fill="url(#mG)"/><circle cx="44.1" cy="330.7" r="5.4" fill="url(#mG)"/><circle cx="229.8" cy="330.9" r="5.4" fill="url(#mG)"/><circle cx="151.1" cy="330.9" r="5.4" fill="url(#mG)"/><circle cx="66.1" cy="331.6" r="5.4" fill="url(#mG)"/><circle cx="101.1" cy="332.1" r="5.4" fill="url(#mG)"/><circle cx="242.6" cy="332.2" r="5.4" fill="url(#mG)"/><circle cx="137.6" cy="332.4" r="5.4" fill="url(#mG)"/><circle cx="218.9" cy="332.9" r="5.4" fill="url(#mG)"/><circle cx="200.9" cy="333.7" r="5.4" fill="url(#mG)"/><circle cx="109.0" cy="333.8" r="5.4" fill="url(#mG)"/><circle cx="34.6" cy="333.8" r="5.4" fill="url(#mG)"/><circle cx="258.8" cy="333.9" r="5.4" fill="url(#mG)"/><circle cx="86.2" cy="334.2" r="5.4" fill="url(#mG)"/><circle cx="130.0" cy="334.5" r="5.4" fill="url(#mG)"/><circle cx="176.2" cy="335.5" r="5.4" fill="url(#mG)"/><circle cx="184.4" cy="335.6" r="5.4" fill="url(#mG)"/><circle cx="53.9" cy="335.7" r="5.4" fill="url(#mG)"/><circle cx="160.2" cy="335.9" r="5.4" fill="url(#mG)"/><circle cx="194.1" cy="336.4" r="5.4" fill="url(#mG)"/><circle cx="78.3" cy="338.0" r="5.4" fill="url(#mG)"/><circle cx="94.5" cy="338.6" r="5.4" fill="url(#mG)"/><circle cx="46.4" cy="338.9" r="5.4" fill="url(#mG)"/><circle cx="145.0" cy="339.1" r="5.4" fill="url(#mG)"/><circle cx="103.9" cy="339.3" r="5.4" fill="url(#mG)"/><circle cx="228.4" cy="340.0" r="5.4" fill="url(#mG)"/><circle cx="168.6" cy="340.3" r="5.4" fill="url(#mG)"/><circle cx="206.4" cy="340.4" r="5.4" fill="url(#mG)"/><circle cx="236.4" cy="340.8" r="5.4" fill="url(#mG)"/><circle cx="251.1" cy="341.2" r="5.4" fill="url(#mG)"/><circle cx="123.7" cy="341.3" r="5.4" fill="url(#mG)"/><circle cx="219.1" cy="341.3" r="5.4" fill="url(#mG)"/><circle cx="155.4" cy="342.3" r="5.4" fill="url(#mG)"/><circle cx="258.9" cy="342.4" r="5.4" fill="url(#mG)"/><circle cx="110.9" cy="342.9" r="5.4" fill="url(#mG)"/><circle cx="178.2" cy="343.1" r="5.4" fill="url(#mG)"/><circle cx="71.1" cy="343.4" r="5.4" fill="url(#mG)"/><circle cx="27.2" cy="343.8" r="5.4" fill="url(#mG)"/><circle cx="62.4" cy="343.9" r="5.4" fill="url(#mG)"/><circle cx="191.8" cy="344.2" r="5.4" fill="url(#mG)"/><circle cx="162.5" cy="344.7" r="5.4" fill="url(#mG)"/><circle cx="135.3" cy="345.0" r="5.4" fill="url(#mG)"/><circle cx="53.2" cy="345.5" r="5.4" fill="url(#mG)"/><circle cx="40.7" cy="345.9" r="5.4" fill="url(#mG)"/><circle cx="82.5" cy="346.5" r="5.4" fill="url(#mG)"/><circle cx="243.5" cy="346.5" r="5.4" fill="url(#mG)"/><circle cx="201.1" cy="346.9" r="5.4" fill="url(#mG)"/><circle cx="97.5" cy="346.9" r="5.4" fill="url(#mG)"/><circle cx="128.1" cy="347.7" r="5.4" fill="url(#mG)"/><circle cx="144.4" cy="347.8" r="5.4" fill="url(#mG)"/><circle cx="119.9" cy="348.3" r="5.4" fill="url(#mG)"/><circle cx="235.4" cy="348.5" r="5.4" fill="url(#mG)"/><circle cx="252.1" cy="348.5" r="5.4" fill="url(#mG)"/><circle cx="169.5" cy="348.6" r="5.4" fill="url(#mG)"/><circle cx="211.4" cy="350.0" r="5.4" fill="url(#mG)"/><circle cx="73.6" cy="350.8" r="5.4" fill="url(#mG)"/><circle cx="157.6" cy="350.8" r="5.4" fill="url(#mG)"/><circle cx="226.9" cy="351.0" r="5.4" fill="url(#mG)"/><circle cx="177.0" cy="351.2" r="5.4" fill="url(#mG)"/><circle cx="88.4" cy="351.6" r="5.4" fill="url(#mG)"/><circle cx="194.1" cy="351.7" r="5.4" fill="url(#mG)"/><circle cx="185.7" cy="351.9" r="5.4" fill="url(#mG)"/><circle cx="45.3" cy="353.3" r="5.4" fill="url(#mG)"/><circle cx="63.9" cy="354.0" r="5.4" fill="url(#mG)"/><circle cx="219.0" cy="354.1" r="5.4" fill="url(#mG)"/><circle cx="147.1" cy="354.6" r="5.4" fill="url(#mG)"/><circle cx="80.5" cy="354.6" r="5.4" fill="url(#mG)"/><circle cx="29.6" cy="354.7" r="5.4" fill="url(#mG)"/><circle cx="96.2" cy="355.2" r="5.4" fill="url(#mG)"/><circle cx="247.9" cy="355.2" r="5.4" fill="url(#mG)"/><circle cx="54.2" cy="355.3" r="5.4" fill="url(#mG)"/><circle cx="240.2" cy="355.4" r="5.4" fill="url(#mG)"/><circle cx="130.0" cy="355.6" r="5.4" fill="url(#mG)"/><circle cx="106.5" cy="355.6" r="5.4" fill="url(#mG)"/><circle cx="204.3" cy="355.6" r="5.4" fill="url(#mG)"/><circle cx="114.5" cy="355.7" r="5.4" fill="url(#mG)"/><circle cx="138.0" cy="355.8" r="5.4" fill="url(#mG)"/><circle cx="258.7" cy="356.2" r="5.4" fill="url(#mG)"/><circle cx="122.4" cy="356.3" r="5.4" fill="url(#mG)"/><circle cx="169.0" cy="356.6" r="5.4" fill="url(#mG)"/><circle cx="37.6" cy="357.1" r="5.4" fill="url(#mG)"/><circle cx="233.1" cy="357.5" r="5.4" fill="url(#mG)"/><circle cx="212.6" cy="358.3" r="5.4" fill="url(#mG)"/><circle cx="196.2" cy="358.7" r="5.4" fill="url(#mG)"/><circle cx="225.3" cy="359.7" r="5.4" fill="url(#mG)"/><circle cx="180.8" cy="359.9" r="5.4" fill="url(#mG)"/><circle cx="160.7" cy="360.1" r="5.4" fill="url(#mG)"/><circle cx="88.1" cy="361.5" r="5.4" fill="url(#mG)"/><circle cx="243.7" cy="361.8" r="5.4" fill="url(#mG)"/><circle cx="30.9" cy="362.1" r="5.4" fill="url(#mG)"/><circle cx="67.9" cy="362.7" r="5.4" fill="url(#mG)"/><circle cx="58.8" cy="362.8" r="5.4" fill="url(#mG)"/><circle cx="118.4" cy="362.8" r="5.4" fill="url(#mG)"/><circle cx="185.9" cy="363.0" r="5.4" fill="url(#mG)"/><circle cx="50.9" cy="363.0" r="5.4" fill="url(#mG)"/><circle cx="71.7" cy="363.1" r="5.4" fill="url(#mG)"/><circle cx="151.9" cy="363.3" r="5.4" fill="url(#mG)"/><circle cx="106.9" cy="363.7" r="5.4" fill="url(#mG)"/><circle cx="173.9" cy="363.8" r="5.4" fill="url(#mG)"/><circle cx="42.6" cy="363.9" r="5.4" fill="url(#mG)"/><circle cx="108.5" cy="363.9" r="5.4" fill="url(#mG)"/><circle cx="187.7" cy="364.0" r="5.4" fill="url(#mG)"/><circle cx="80.7" cy="364.3" r="5.4" fill="url(#mG)"/><circle cx="141.2" cy="364.6" r="5.4" fill="url(#mG)"/><circle cx="99.4" cy="364.7" r="5.4" fill="url(#mG)"/><circle cx="121.2" cy="365.0" r="5.4" fill="url(#mG)"/><circle cx="130.1" cy="365.3" r="5.4" fill="url(#mG)"/><circle cx="147.0" cy="365.7" r="5.4" fill="url(#mG)"/><circle cx="155.8" cy="365.7" r="5.4" fill="url(#mG)"/><circle cx="100.6" cy="366.9" r="5.4" fill="url(#mG)"/><circle cx="226.8" cy="368.0" r="5.4" fill="url(#mG)"/><circle cx="128.8" cy="368.7" r="5.4" fill="url(#mG)"/><circle cx="92.8" cy="370.3" r="5.4" fill="url(#mG)"/><circle cx="84.2" cy="371.7" r="5.4" fill="url(#mG)"/><circle cx="241.4" cy="371.9" r="5.4" fill="url(#mG)"/><circle cx="188.6" cy="372.4" r="5.4" fill="url(#mG)"/><circle cx="119.8" cy="372.9" r="5.4" fill="url(#mG)"/></g><g clip-path="url(#clB)" stroke-linecap="round"><path d="M360 191L360 188M360 188L359 185M359 185L362 184M368 182L371 182M371 182L371 180M371 182L373 179M373 179L374 176M374 176L376 177M374 176L372 176M374 176L373 173M368 170L365 170M308 263L309 266M308 272L307 276M307 276L305 277M297 219L294 221M294 221L291 223M291 223L290 220M291 223L288 223M288 223L285 223M285 223L282 225M282 225L280 227M280 227L281 225M280 227L279 225M280 227L277 226M277 226L274 225M274 225L272 228M272 228L270 231M270 231L272 232M270 231L272 230M342 247L340 246M340 246L337 245M337 245L337 241M337 235L337 232M337 232L338 230M313 241L310 240M310 240L307 239M307 239L304 240M299 239L297 236M297 236L295 236M306 243L308 241M312 236L314 233M314 233L316 233M314 233L315 231M314 233L312 230M312 230L310 227M310 227L313 228M310 227L308 225M308 225L306 222M350 201L348 199M348 199L345 197M345 197L346 194M346 194L348 191M348 191L347 189M348 191L351 192M351 192L354 192M354 192L356 194M354 192L356 194M354 192L355 195M288 239L289 236M289 236L291 233M291 233L292 231M291 233L291 230M291 230L291 227M291 227L293 224M350 198L347 197M347 197L343 197M343 197L345 199M343 197L341 199M338 204L337 207M337 207L340 208M343 213L343 216M343 216L343 219M343 219L344 223M344 223L345 225M344 223L342 222M307 283L307 280M307 280L307 277M307 277L304 276M304 276L301 275M301 275L298 275M301 275L300 272M300 272L300 269M300 269L298 267M300 269L298 268M300 269L298 266M298 266L297 263M297 263L294 263M332 276L329 278M329 278L326 280M326 280L325 282M326 280L329 279M326 280L326 283M326 283L325 286M325 286L324 289M325 286L328 286M325 286L323 289M323 289L320 291M320 291L318 292M309 226L311 229M316 231L319 230M319 230L321 229M319 230L319 232M319 230L322 228M322 228L324 226M324 226L326 224M324 226L328 227M328 227L331 228M331 228L332 231M336 261L334 264M329 266L326 264M326 264L328 266M326 264L323 264M316 262L313 261M313 261L315 259M313 261L311 263M309 269L309 272M302 242L303 245M302 250L300 252M300 252L302 252M300 252L301 255M301 255L302 258M302 258L300 259M302 258L305 259M305 259L308 261M308 261L310 263M310 263L312 266M312 266L310 264M312 266L309 269M309 269L307 271M307 271L310 271M363 204L364 201M368 197L371 196M371 196L370 194M371 196L373 196M371 196L371 193M371 193L371 190M371 190L372 192M371 190L369 189M371 190L368 189M368 189L365 188M365 188L365 190M365 188L368 187M365 188L363 190M363 190L361 192M361 192L358 192M358 192L355 193M355 193L353 190M320 229L316 230M313 234L313 237M313 237L312 235M313 237L314 239M313 237L311 239M311 239L309 242M309 242L307 240M309 242L308 239M309 242L306 244M306 244L304 246M304 246L305 248M304 246L302 244M304 246L301 246M296 243L294 240M294 240L292 242M294 240L293 243M306 224L307 222M307 222L309 219M309 219L310 216M315 211L317 209M317 209L315 207M317 209L320 208M320 208L323 206M323 206L325 205M323 206L326 208M326 208L329 209M329 209L331 210M329 209L332 209M332 209L335 209M318 217L317 214M317 214L316 211M316 211L314 212M316 211L315 208M315 208L313 205M313 205L311 204M313 205L310 205M306 208L305 211M305 211L304 208M305 211L307 213M307 213L309 216M309 216L308 218M309 216L308 219M308 219L308 222M306 272L303 270M298 269L295 270M295 270L292 273M278 202L275 204M275 204L273 206M273 206L271 205M273 206L271 209M271 209L269 212M269 212L272 211M269 212L271 209M269 212L269 215M270 220L273 223M370 207L367 206M367 206L363 205M363 205L365 207M363 205L361 208M361 208L359 210M359 210L357 212M354 218L354 221M332 226L330 224M323 223L320 223M320 223L318 221M313 220L310 221M310 221L307 219M307 219L305 216M305 216L303 213M303 213L302 211M302 211L300 209M302 211L304 208M296 205L299 205M304 201L306 198M306 198L306 195M306 195L306 192M306 192L308 192M306 192L305 189M305 189L305 186M305 186L302 185M298 228L295 228M295 228L292 229M292 229L291 232M288 237L285 239M285 239L287 241M285 239L282 239M282 239L279 238M279 238L278 236M279 238L281 239M309 247L309 244M309 244L309 241M309 241L307 238M305 232L306 229M288 216L286 214M286 214L284 211M284 211L284 209M284 211L282 213M284 211L281 210M276 212L275 215M275 215L274 218M275 215L275 218M275 215L271 215M271 215L268 215M268 215L266 216M268 215L270 214M268 215L265 216M265 216L262 217M262 217L260 218M262 217L260 219M262 217L259 216M283 260L283 263M283 263L282 267M282 267L280 265M282 267L282 269M282 267L282 270M282 270L283 273M283 273L285 272M283 273L281 271M283 273L284 276M284 276L285 279M285 279L288 280M288 280L291 281M291 281L294 282M294 282L297 283M358 222L358 219M358 219L359 215M359 215L362 215M368 212L370 209M370 209L371 212M370 209L373 211M377 215L377 219M377 219L377 222M377 222L377 225M377 225L379 227M377 225L376 223M377 225L379 228M379 228L381 230M381 230L380 228M381 230L380 232M367 251L364 250M364 250L361 249M361 249L359 247M359 247L358 244M358 244L356 243M358 244L355 242M350 238L348 236M348 236L347 232M347 232L347 229M347 229L349 227M349 227L352 225M352 225L355 224M355 224L358 223M316 269L317 266M317 266L318 264M318 264L319 266M318 264L322 264M327 267L329 269M329 269L328 267M329 269L329 272M329 272L328 276M328 276L328 278M303 232L300 234M295 238L293 241M293 241L291 242M293 241L296 243M296 243L298 245M298 245L296 248M296 248L294 251M294 251L292 250M285 271L289 271M289 271L292 270M292 270L291 268M292 270L293 273M293 273L295 276M295 276L297 277M295 276L295 274M295 276L293 279M293 279L291 281M287 205L290 203M290 203L293 202M293 202L294 199M298 195L301 194M301 194L303 193M301 194L301 192M301 194L303 197M303 197L305 199M305 199L303 198M305 199L307 201M305 199L307 202M307 202L309 204M309 204L311 207M337 237L335 240M335 240L334 243M334 243L331 244M325 245L322 245M322 245L324 246M322 245L321 243M343 225L343 221M343 221L343 218M343 218L341 216M343 218L345 216M345 216L348 214M348 214L346 215M348 214L350 215M348 214L351 215M356 218L358 221M358 221L356 219M358 221L360 220M358 221L356 224M356 224L355 227M355 227L356 229M355 227L356 230M355 227L353 229M353 229L350 231M350 231L351 233M350 231L348 231M344 245L341 244M341 244L337 244M337 244L335 242M337 244L334 243M334 243L331 243M331 243L330 246M330 246L329 249M329 249L329 252M329 249L332 251M332 251L334 253M300 227L302 229M302 229L305 231M305 231L308 231M305 231L307 232M305 231L308 231M315 230L318 229M318 229L317 227M318 229L320 230M296 242L294 239M294 239L293 236M293 236L293 238M293 236L291 234M285 234L283 236M283 236L281 238M283 236L284 234M283 236L279 237M273 238L270 239M270 239L268 240M270 239L270 242M268 248L266 251M266 251L264 251M302 204L300 206M300 206L298 209M298 209L301 210M298 209L299 207M298 209L297 212M297 212L296 215M296 215L294 214M296 215L294 215M296 215L299 217M299 217L301 220M301 220L299 221M301 220L299 222M296 228L294 230M294 230L291 231M294 230L290 231M294 232L297 231M297 231L300 231M300 231L303 230M300 231L303 229M309 227L312 226M312 226L310 228M312 226L314 223M314 223L315 220M315 220L317 220M315 220L317 218M317 218L319 215M319 215L320 217M319 215L317 217M319 215L321 213M321 213L322 210M322 210L321 212M340 237L342 235M342 235L345 233M345 233L343 230M343 230L342 228M342 228L339 228M339 228L336 229M336 229L336 232M336 229L333 231M333 231L330 232M330 232L327 233M330 232L326 232M282 230L285 229M285 229L288 229M288 229L286 231M288 229L289 226M289 226L289 223M289 223L292 222M362 265L365 266M365 266L368 267M368 267L371 268M371 268L374 270M374 270L374 273M374 273L374 276M374 276L371 277M374 276L371 278M347 216L348 219M348 219L348 222M348 222L349 224M348 222L351 223M351 223L354 224M354 224L357 221M358 216L358 213M358 213L355 211M355 211L352 210M352 210L353 212M280 264L283 263M283 263L286 262M286 262L288 263M286 262L288 264M288 264L290 266M290 266L293 265M290 266L292 269M292 269L294 272M294 272L292 274M294 272L297 274M297 274L299 276M299 276L297 277M299 276L301 278M301 278L303 281M303 281L305 279M303 281L304 278M303 281L304 284M304 284L306 287M364 258L367 257M367 257L370 256M370 256L373 257M373 257L376 258M376 258L377 260M376 258L374 257M376 258L379 257M379 257L382 256M382 256L385 254M385 254L388 253M388 253L385 253M280 205L281 203M286 200L289 201M289 201L291 202M289 201L289 198M289 201L292 201M296 197L297 194M297 194L295 193M297 194L297 196M297 194L296 191M296 191L295 188M295 188L297 186M295 188L294 190M295 188L296 185M296 185L297 182M332 201L329 203M329 203L326 204M326 204L326 206M326 204L323 205M323 205L320 206M320 206L318 208M320 206L321 204M320 206L321 210M318 214L315 216M315 216L317 218M315 216L313 217M315 216L312 217M312 217L310 219M310 219L308 221M310 219L307 217M310 219L306 218M306 218L303 218M303 218L306 218M303 218L301 215M301 215L298 213M298 213L300 215M298 213L297 211M338 224L336 226M336 226L334 229M334 229L334 231M334 229L332 231M327 233L324 231M359 248L361 246M361 246L364 244M364 244L366 243M364 244L363 242M364 244L364 241M368 237L371 236M371 236L374 236M374 236L378 236M378 236L376 234M378 236L375 237M275 284L277 281M277 281L278 278M278 278L278 275M278 275L278 272M278 272L277 269M277 269L275 266M275 266L275 264M275 266L278 267M275 266L272 267M267 270L265 272M265 272L267 274M265 272L264 276M264 276L263 279M263 279L265 279M263 279L265 280M263 279L260 281M260 281L258 283M308 282L307 285M307 285L307 288M307 288L307 285M307 288L304 289M304 289L301 290M301 290L300 293M300 293L300 296M300 296L303 298M303 298L306 299M306 299L309 298M306 299L306 296M306 299L309 301M309 301L311 303M311 303L313 305M313 305L315 308M315 308L318 307M315 308L316 311M304 254L301 255M301 255L298 256M298 256L297 254M298 256L297 259M297 259L297 262M297 262L294 262M297 262L296 265M296 265L296 268M296 268L294 271M294 271L292 274M292 274L290 277M288 282L286 285M286 285L284 287M286 285L285 283M286 285L283 286M363 204L365 207M365 207L367 210M367 210L364 209M367 210L366 207M367 210L369 212M369 212L372 214M372 214L373 216M372 214L373 217M373 217L375 219M375 219L372 219M375 219L372 220M375 219L378 221M378 221L381 222M381 222L383 223M381 222L379 220M289 224L290 221M294 216L297 215M297 215L299 215M297 215L299 213M299 213L301 210M301 210L303 209M301 210L301 207M301 210L304 211M304 211L307 212M307 212L304 211M307 212L309 209M309 209L311 207M311 207L313 206M311 207L313 205M311 207L309 204M309 204L308 201M308 201L308 198M308 198L308 195M308 195L305 194" stroke="#686868" stroke-width="3.4"/><path d="M360 191L360 188M360 188L359 185M359 185L362 184M368 182L371 182M371 182L371 180M371 182L373 179M373 179L374 176M374 176L376 177M374 176L372 176M374 176L373 173M368 170L365 170M308 263L309 266M308 272L307 276M307 276L305 277M297 219L294 221M294 221L291 223M291 223L290 220M291 223L288 223M288 223L285 223M285 223L282 225M282 225L280 227M280 227L281 225M280 227L279 225M280 227L277 226M277 226L274 225M274 225L272 228M272 228L270 231M270 231L272 232M270 231L272 230M342 247L340 246M340 246L337 245M337 245L337 241M337 235L337 232M337 232L338 230M313 241L310 240M310 240L307 239M307 239L304 240M299 239L297 236M297 236L295 236M306 243L308 241M312 236L314 233M314 233L316 233M314 233L315 231M314 233L312 230M312 230L310 227M310 227L313 228M310 227L308 225M308 225L306 222M350 201L348 199M348 199L345 197M345 197L346 194M346 194L348 191M348 191L347 189M348 191L351 192M351 192L354 192M354 192L356 194M354 192L356 194M354 192L355 195M288 239L289 236M289 236L291 233M291 233L292 231M291 233L291 230M291 230L291 227M291 227L293 224M350 198L347 197M347 197L343 197M343 197L345 199M343 197L341 199M338 204L337 207M337 207L340 208M343 213L343 216M343 216L343 219M343 219L344 223M344 223L345 225M344 223L342 222M307 283L307 280M307 280L307 277M307 277L304 276M304 276L301 275M301 275L298 275M301 275L300 272M300 272L300 269M300 269L298 267M300 269L298 268M300 269L298 266M298 266L297 263M297 263L294 263M332 276L329 278M329 278L326 280M326 280L325 282M326 280L329 279M326 280L326 283M326 283L325 286M325 286L324 289M325 286L328 286M325 286L323 289M323 289L320 291M320 291L318 292M309 226L311 229M316 231L319 230M319 230L321 229M319 230L319 232M319 230L322 228M322 228L324 226M324 226L326 224M324 226L328 227M328 227L331 228M331 228L332 231M336 261L334 264M329 266L326 264M326 264L328 266M326 264L323 264M316 262L313 261M313 261L315 259M313 261L311 263M309 269L309 272M302 242L303 245M302 250L300 252M300 252L302 252M300 252L301 255M301 255L302 258M302 258L300 259M302 258L305 259M305 259L308 261M308 261L310 263M310 263L312 266M312 266L310 264M312 266L309 269M309 269L307 271M307 271L310 271M363 204L364 201M368 197L371 196M371 196L370 194M371 196L373 196M371 196L371 193M371 193L371 190M371 190L372 192M371 190L369 189M371 190L368 189M368 189L365 188M365 188L365 190M365 188L368 187M365 188L363 190M363 190L361 192M361 192L358 192M358 192L355 193M355 193L353 190M320 229L316 230M313 234L313 237M313 237L312 235M313 237L314 239M313 237L311 239M311 239L309 242M309 242L307 240M309 242L308 239M309 242L306 244M306 244L304 246M304 246L305 248M304 246L302 244M304 246L301 246M296 243L294 240M294 240L292 242M294 240L293 243M306 224L307 222M307 222L309 219M309 219L310 216M315 211L317 209M317 209L315 207M317 209L320 208M320 208L323 206M323 206L325 205M323 206L326 208M326 208L329 209M329 209L331 210M329 209L332 209M332 209L335 209M318 217L317 214M317 214L316 211M316 211L314 212M316 211L315 208M315 208L313 205M313 205L311 204M313 205L310 205M306 208L305 211M305 211L304 208M305 211L307 213M307 213L309 216M309 216L308 218M309 216L308 219M308 219L308 222M306 272L303 270M298 269L295 270M295 270L292 273M278 202L275 204M275 204L273 206M273 206L271 205M273 206L271 209M271 209L269 212M269 212L272 211M269 212L271 209M269 212L269 215M270 220L273 223M370 207L367 206M367 206L363 205M363 205L365 207M363 205L361 208M361 208L359 210M359 210L357 212M354 218L354 221M332 226L330 224M323 223L320 223M320 223L318 221M313 220L310 221M310 221L307 219M307 219L305 216M305 216L303 213M303 213L302 211M302 211L300 209M302 211L304 208M296 205L299 205M304 201L306 198M306 198L306 195M306 195L306 192M306 192L308 192M306 192L305 189M305 189L305 186M305 186L302 185M298 228L295 228M295 228L292 229M292 229L291 232M288 237L285 239M285 239L287 241M285 239L282 239M282 239L279 238M279 238L278 236M279 238L281 239M309 247L309 244M309 244L309 241M309 241L307 238M305 232L306 229M288 216L286 214M286 214L284 211M284 211L284 209M284 211L282 213M284 211L281 210M276 212L275 215M275 215L274 218M275 215L275 218M275 215L271 215M271 215L268 215M268 215L266 216M268 215L270 214M268 215L265 216M265 216L262 217M262 217L260 218M262 217L260 219M262 217L259 216M283 260L283 263M283 263L282 267M282 267L280 265M282 267L282 269M282 267L282 270M282 270L283 273M283 273L285 272M283 273L281 271M283 273L284 276M284 276L285 279M285 279L288 280M288 280L291 281M291 281L294 282M294 282L297 283M358 222L358 219M358 219L359 215M359 215L362 215M368 212L370 209M370 209L371 212M370 209L373 211M377 215L377 219M377 219L377 222M377 222L377 225M377 225L379 227M377 225L376 223M377 225L379 228M379 228L381 230M381 230L380 228M381 230L380 232M367 251L364 250M364 250L361 249M361 249L359 247M359 247L358 244M358 244L356 243M358 244L355 242M350 238L348 236M348 236L347 232M347 232L347 229M347 229L349 227M349 227L352 225M352 225L355 224M355 224L358 223M316 269L317 266M317 266L318 264M318 264L319 266M318 264L322 264M327 267L329 269M329 269L328 267M329 269L329 272M329 272L328 276M328 276L328 278M303 232L300 234M295 238L293 241M293 241L291 242M293 241L296 243M296 243L298 245M298 245L296 248M296 248L294 251M294 251L292 250M285 271L289 271M289 271L292 270M292 270L291 268M292 270L293 273M293 273L295 276M295 276L297 277M295 276L295 274M295 276L293 279M293 279L291 281M287 205L290 203M290 203L293 202M293 202L294 199M298 195L301 194M301 194L303 193M301 194L301 192M301 194L303 197M303 197L305 199M305 199L303 198M305 199L307 201M305 199L307 202M307 202L309 204M309 204L311 207M337 237L335 240M335 240L334 243M334 243L331 244M325 245L322 245M322 245L324 246M322 245L321 243M343 225L343 221M343 221L343 218M343 218L341 216M343 218L345 216M345 216L348 214M348 214L346 215M348 214L350 215M348 214L351 215M356 218L358 221M358 221L356 219M358 221L360 220M358 221L356 224M356 224L355 227M355 227L356 229M355 227L356 230M355 227L353 229M353 229L350 231M350 231L351 233M350 231L348 231M344 245L341 244M341 244L337 244M337 244L335 242M337 244L334 243M334 243L331 243M331 243L330 246M330 246L329 249M329 249L329 252M329 249L332 251M332 251L334 253M300 227L302 229M302 229L305 231M305 231L308 231M305 231L307 232M305 231L308 231M315 230L318 229M318 229L317 227M318 229L320 230M296 242L294 239M294 239L293 236M293 236L293 238M293 236L291 234M285 234L283 236M283 236L281 238M283 236L284 234M283 236L279 237M273 238L270 239M270 239L268 240M270 239L270 242M268 248L266 251M266 251L264 251M302 204L300 206M300 206L298 209M298 209L301 210M298 209L299 207M298 209L297 212M297 212L296 215M296 215L294 214M296 215L294 215M296 215L299 217M299 217L301 220M301 220L299 221M301 220L299 222M296 228L294 230M294 230L291 231M294 230L290 231M294 232L297 231M297 231L300 231M300 231L303 230M300 231L303 229M309 227L312 226M312 226L310 228M312 226L314 223M314 223L315 220M315 220L317 220M315 220L317 218M317 218L319 215M319 215L320 217M319 215L317 217M319 215L321 213M321 213L322 210M322 210L321 212M340 237L342 235M342 235L345 233M345 233L343 230M343 230L342 228M342 228L339 228M339 228L336 229M336 229L336 232M336 229L333 231M333 231L330 232M330 232L327 233M330 232L326 232M282 230L285 229M285 229L288 229M288 229L286 231M288 229L289 226M289 226L289 223M289 223L292 222M362 265L365 266M365 266L368 267M368 267L371 268M371 268L374 270M374 270L374 273M374 273L374 276M374 276L371 277M374 276L371 278M347 216L348 219M348 219L348 222M348 222L349 224M348 222L351 223M351 223L354 224M354 224L357 221M358 216L358 213M358 213L355 211M355 211L352 210M352 210L353 212M280 264L283 263M283 263L286 262M286 262L288 263M286 262L288 264M288 264L290 266M290 266L293 265M290 266L292 269M292 269L294 272M294 272L292 274M294 272L297 274M297 274L299 276M299 276L297 277M299 276L301 278M301 278L303 281M303 281L305 279M303 281L304 278M303 281L304 284M304 284L306 287M364 258L367 257M367 257L370 256M370 256L373 257M373 257L376 258M376 258L377 260M376 258L374 257M376 258L379 257M379 257L382 256M382 256L385 254M385 254L388 253M388 253L385 253M280 205L281 203M286 200L289 201M289 201L291 202M289 201L289 198M289 201L292 201M296 197L297 194M297 194L295 193M297 194L297 196M297 194L296 191M296 191L295 188M295 188L297 186M295 188L294 190M295 188L296 185M296 185L297 182M332 201L329 203M329 203L326 204M326 204L326 206M326 204L323 205M323 205L320 206M320 206L318 208M320 206L321 204M320 206L321 210M318 214L315 216M315 216L317 218M315 216L313 217M315 216L312 217M312 217L310 219M310 219L308 221M310 219L307 217M310 219L306 218M306 218L303 218M303 218L306 218M303 218L301 215M301 215L298 213M298 213L300 215M298 213L297 211M338 224L336 226M336 226L334 229M334 229L334 231M334 229L332 231M327 233L324 231M359 248L361 246M361 246L364 244M364 244L366 243M364 244L363 242M364 244L364 241M368 237L371 236M371 236L374 236M374 236L378 236M378 236L376 234M378 236L375 237M275 284L277 281M277 281L278 278M278 278L278 275M278 275L278 272M278 272L277 269M277 269L275 266M275 266L275 264M275 266L278 267M275 266L272 267M267 270L265 272M265 272L267 274M265 272L264 276M264 276L263 279M263 279L265 279M263 279L265 280M263 279L260 281M260 281L258 283M308 282L307 285M307 285L307 288M307 288L307 285M307 288L304 289M304 289L301 290M301 290L300 293M300 293L300 296M300 296L303 298M303 298L306 299M306 299L309 298M306 299L306 296M306 299L309 301M309 301L311 303M311 303L313 305M313 305L315 308M315 308L318 307M315 308L316 311M304 254L301 255M301 255L298 256M298 256L297 254M298 256L297 259M297 259L297 262M297 262L294 262M297 262L296 265M296 265L296 268M296 268L294 271M294 271L292 274M292 274L290 277M288 282L286 285M286 285L284 287M286 285L285 283M286 285L283 286M363 204L365 207M365 207L367 210M367 210L364 209M367 210L366 207M367 210L369 212M369 212L372 214M372 214L373 216M372 214L373 217M373 217L375 219M375 219L372 219M375 219L372 220M375 219L378 221M378 221L381 222M381 222L383 223M381 222L379 220M289 224L290 221M294 216L297 215M297 215L299 215M297 215L299 213M299 213L301 210M301 210L303 209M301 210L301 207M301 210L304 211M304 211L307 212M307 212L304 211M307 212L309 209M309 209L311 207M311 207L313 206M311 207L313 205M311 207L309 204M309 204L308 201M308 201L308 198M308 198L308 195M308 195L305 194" stroke="#9a9a9a" stroke-width="1" transform="translate(-0.5,-0.5)"/><path d="M362 184L365 182M365 182L368 182M373 173L372 170M372 170L368 170M309 266L309 269M309 269L308 272M305 277L302 279M337 241L336 238M336 238L337 235M304 240L301 241M301 241L299 239M308 241L311 238M311 238L312 236M355 195L357 198M293 224L294 221M341 199L338 200M338 200L338 204M340 208L343 210M343 210L343 213M311 229L313 232M313 232L316 231M332 231L333 234M334 264L332 267M332 267L329 266M323 264L320 263M320 263L316 262M311 263L309 265M309 265L309 269M303 245L305 248M305 248L302 250M364 201L364 197M364 197L368 197M353 190L352 187M316 230L313 230M313 230L313 234M301 246L297 246M297 246L296 243M310 216L312 213M312 213L315 211M310 205L307 204M307 204L306 208M303 270L301 268M301 268L298 269M292 273L290 275M269 215L268 218M268 218L270 220M357 212L355 215M355 215L354 218M330 224L327 223M327 223L323 223M318 221L316 219M316 219L313 220M304 208L307 206M299 205L302 204M302 204L304 201M302 185L298 184M291 232L290 235M290 235L288 237M307 238L305 236M305 236L305 232M281 210L277 209M277 209L276 212M259 216L256 215M362 215L365 214M365 214L368 212M373 211L376 212M376 212L377 215M355 242L353 240M353 240L350 238M322 264L325 264M325 264L327 267M300 234L297 235M297 235L295 238M294 199L295 196M295 196L298 195M311 207L313 209M331 244L328 245M328 245L325 245M351 215L354 215M354 215L356 218M308 231L312 231M312 231L315 230M291 234L288 232M288 232L285 234M279 237L276 238M276 238L273 238M270 242L269 246M269 246L268 248M299 222L298 225M298 225L296 228M290 231L287 232M303 229L306 227M306 227L309 227M326 232L323 232M292 222L296 222M371 278L369 281M357 221L359 219M359 219L358 216M281 203L283 200M283 200L286 200M292 201L296 200M296 200L296 197M321 210L321 213M321 213L318 214M332 231L330 234M330 234L327 233M364 241L365 238M365 238L368 237M272 267L269 267M269 267L267 270M316 311L318 314M290 277L289 280M289 280L288 282M283 286L280 287M290 221L291 218M291 218L294 216" stroke="#c8241c" stroke-width="3.4"/><path d="M371 180L370 178M376 177L379 177M372 176L369 175M290 220L288 218M281 225L281 223M279 225L279 222M272 232L274 234M272 230L275 230M338 230L340 228M295 236L292 236M315 231L316 228M313 228L315 229M356 194L358 196M292 231L294 229M345 199L347 201M342 222L339 221M298 275L296 276M298 267L296 266M298 268L295 268M294 263L292 263M325 282L324 284M329 279L331 278M324 289L324 291M328 286L330 286M318 292L316 294M319 232L320 235M326 224L328 223M328 266L329 268M315 259L317 257M302 252L305 253M300 259L297 259M310 264L309 262M310 271L312 270M370 194L369 191M373 196L376 195M369 189L367 188M365 190L364 192M368 187L370 186M312 235L311 232M314 239L314 242M307 240L306 238M308 239L307 237M305 248L307 250M302 244L301 242M292 242L290 243M293 243L292 245M315 207L313 206M325 205L327 203M314 212L312 213M311 204L309 202M304 208L304 206M308 218L307 221M271 205L269 203M272 211L274 209M271 209L272 207M365 207L366 210M300 209L298 208M308 192L311 192M287 241L290 242M278 236L277 234M281 239L284 240M284 209L284 206M282 213L280 215M274 218L273 220M275 218L276 220M266 216L263 216M270 214L273 214M260 218L257 218M280 265L279 263M282 269L282 272M281 271L279 269M379 227L380 229M376 223L376 220M380 228L378 227M380 232L378 234M356 243L353 242M319 266L321 268M328 267L327 265M328 278L328 281M292 250L289 250M291 268L291 265M297 277L300 277M295 274L295 271M303 193L306 192M303 198L301 197M324 246L326 247M321 243L320 240M341 216L339 215M356 219L355 217M356 229L356 232M356 230L356 232M351 233L353 236M348 231L345 230M335 242L334 240M329 252L328 254M308 231L310 230M307 232L310 234M317 227L316 224M320 230L322 231M281 238L280 240M284 234L285 232M268 240L265 240M264 251L261 251M301 210L303 210M299 207L299 204M294 214L292 213M299 221L297 222M291 231L289 232M303 230L305 230M310 228L308 229M317 220L320 219M320 217L322 220M317 217L315 218M336 232L337 234M327 233L325 234M286 231L284 232M371 277L369 277M349 224L350 227M353 212L353 214M288 263L290 265M293 265L295 264M292 274L291 276M305 279L306 277M377 260L378 262M374 257L372 256M385 253L383 253M289 198L288 196M295 193L292 192M297 196L297 199M297 186L300 185M294 190L293 192M326 206L326 209M318 208L316 210M321 204L323 202M317 218L319 220M313 217L311 218M308 221L307 223M307 217L305 216M306 218L308 218M300 215L301 217M334 231L333 234M366 243L368 241M363 242L363 239M275 264L275 261M278 267L280 268M267 274L269 275M265 279L268 279M265 280L267 281M307 285L307 283M309 298L311 297M297 254L295 252M294 262L292 263M285 283L283 281M364 209L362 209M366 207L365 205M373 216L374 218M372 219L370 218M372 220L370 221M383 223L385 225M379 220L377 218M299 215L302 214M303 209L305 208M304 211L302 210M313 206L316 206M313 205L314 203" stroke="#d8d8d8" stroke-width="2"/><path d="M316 233L319 232M347 189L345 187M356 194L358 195M345 225L346 227M321 229L323 228M372 192L372 195M331 210L333 211M260 219L258 220M285 272L287 271M371 212L372 214M291 242L289 243M301 192L300 189M307 201L308 203M346 215L344 216M350 215L353 216M360 220L362 219M293 238L293 241M294 215L291 216M321 212L320 214M297 277L295 278M304 278L304 276M291 202L293 204M297 211L296 209M376 234L373 233M375 237L373 237M306 296L306 294M318 307L320 307M284 287L283 289M301 207L301 205M305 194L303 194" stroke="#a6dce2" stroke-width="2"/><g fill="#d42a22"><circle cx="365" cy="182" r="2.8"/><circle cx="372" cy="170" r="2.8"/><circle cx="309" cy="269" r="2.8"/><circle cx="302" cy="279" r="2.8"/><circle cx="336" cy="238" r="2.8"/><circle cx="301" cy="241" r="2.8"/><circle cx="311" cy="238" r="2.8"/><circle cx="357" cy="198" r="2.8"/><circle cx="294" cy="221" r="2.8"/><circle cx="338" cy="200" r="2.8"/><circle cx="343" cy="210" r="2.8"/><circle cx="313" cy="232" r="2.8"/><circle cx="333" cy="234" r="2.8"/><circle cx="332" cy="267" r="2.8"/><circle cx="320" cy="263" r="2.8"/><circle cx="309" cy="265" r="2.8"/><circle cx="305" cy="248" r="2.8"/><circle cx="364" cy="197" r="2.8"/><circle cx="352" cy="187" r="2.8"/><circle cx="313" cy="230" r="2.8"/><circle cx="297" cy="246" r="2.8"/><circle cx="312" cy="213" r="2.8"/><circle cx="307" cy="204" r="2.8"/><circle cx="301" cy="268" r="2.8"/><circle cx="290" cy="275" r="2.8"/><circle cx="268" cy="218" r="2.8"/><circle cx="355" cy="215" r="2.8"/><circle cx="327" cy="223" r="2.8"/><circle cx="316" cy="219" r="2.8"/><circle cx="307" cy="206" r="2.8"/><circle cx="302" cy="204" r="2.8"/><circle cx="298" cy="184" r="2.8"/><circle cx="290" cy="235" r="2.8"/><circle cx="305" cy="236" r="2.8"/><circle cx="277" cy="209" r="2.8"/><circle cx="256" cy="215" r="2.8"/><circle cx="365" cy="214" r="2.8"/><circle cx="376" cy="212" r="2.8"/><circle cx="353" cy="240" r="2.8"/><circle cx="325" cy="264" r="2.8"/><circle cx="297" cy="235" r="2.8"/><circle cx="295" cy="196" r="2.8"/><circle cx="313" cy="209" r="2.8"/><circle cx="328" cy="245" r="2.8"/><circle cx="354" cy="215" r="2.8"/><circle cx="312" cy="231" r="2.8"/><circle cx="288" cy="232" r="2.8"/><circle cx="276" cy="238" r="2.8"/><circle cx="269" cy="246" r="2.8"/><circle cx="298" cy="225" r="2.8"/><circle cx="287" cy="232" r="2.8"/><circle cx="306" cy="227" r="2.8"/><circle cx="323" cy="232" r="2.8"/><circle cx="296" cy="222" r="2.8"/><circle cx="369" cy="281" r="2.8"/><circle cx="359" cy="219" r="2.8"/><circle cx="283" cy="200" r="2.8"/><circle cx="296" cy="200" r="2.8"/><circle cx="321" cy="213" r="2.8"/><circle cx="330" cy="234" r="2.8"/><circle cx="365" cy="238" r="2.8"/><circle cx="269" cy="267" r="2.8"/><circle cx="318" cy="314" r="2.8"/><circle cx="289" cy="280" r="2.8"/><circle cx="280" cy="287" r="2.8"/><circle cx="291" cy="218" r="2.8"/></g><g fill="#f2f2f2" stroke="#8a8a8a" stroke-width="0.5"><circle cx="370" cy="178" r="2.1"/><circle cx="379" cy="177" r="2.1"/><circle cx="369" cy="175" r="2.1"/><circle cx="288" cy="218" r="2.1"/><circle cx="281" cy="223" r="2.1"/><circle cx="279" cy="222" r="2.1"/><circle cx="274" cy="234" r="2.1"/><circle cx="275" cy="230" r="2.1"/><circle cx="340" cy="228" r="2.1"/><circle cx="292" cy="236" r="2.1"/><circle cx="316" cy="228" r="2.1"/><circle cx="315" cy="229" r="2.1"/><circle cx="358" cy="196" r="2.1"/><circle cx="294" cy="229" r="2.1"/><circle cx="347" cy="201" r="2.1"/><circle cx="339" cy="221" r="2.1"/><circle cx="296" cy="276" r="2.1"/><circle cx="296" cy="266" r="2.1"/><circle cx="295" cy="268" r="2.1"/><circle cx="292" cy="263" r="2.1"/><circle cx="324" cy="284" r="2.1"/><circle cx="331" cy="278" r="2.1"/><circle cx="324" cy="291" r="2.1"/><circle cx="330" cy="286" r="2.1"/><circle cx="316" cy="294" r="2.1"/><circle cx="320" cy="235" r="2.1"/><circle cx="328" cy="223" r="2.1"/><circle cx="329" cy="268" r="2.1"/><circle cx="317" cy="257" r="2.1"/><circle cx="305" cy="253" r="2.1"/><circle cx="297" cy="259" r="2.1"/><circle cx="309" cy="262" r="2.1"/><circle cx="312" cy="270" r="2.1"/><circle cx="369" cy="191" r="2.1"/><circle cx="376" cy="195" r="2.1"/><circle cx="367" cy="188" r="2.1"/><circle cx="364" cy="192" r="2.1"/><circle cx="370" cy="186" r="2.1"/><circle cx="311" cy="232" r="2.1"/><circle cx="314" cy="242" r="2.1"/><circle cx="306" cy="238" r="2.1"/><circle cx="307" cy="237" r="2.1"/><circle cx="307" cy="250" r="2.1"/><circle cx="301" cy="242" r="2.1"/><circle cx="290" cy="243" r="2.1"/><circle cx="292" cy="245" r="2.1"/><circle cx="313" cy="206" r="2.1"/><circle cx="327" cy="203" r="2.1"/><circle cx="312" cy="213" r="2.1"/><circle cx="309" cy="202" r="2.1"/><circle cx="304" cy="206" r="2.1"/><circle cx="307" cy="221" r="2.1"/><circle cx="269" cy="203" r="2.1"/><circle cx="274" cy="209" r="2.1"/><circle cx="272" cy="207" r="2.1"/><circle cx="366" cy="210" r="2.1"/><circle cx="298" cy="208" r="2.1"/><circle cx="311" cy="192" r="2.1"/><circle cx="290" cy="242" r="2.1"/><circle cx="277" cy="234" r="2.1"/><circle cx="284" cy="240" r="2.1"/><circle cx="284" cy="206" r="2.1"/><circle cx="280" cy="215" r="2.1"/><circle cx="273" cy="220" r="2.1"/><circle cx="276" cy="220" r="2.1"/><circle cx="263" cy="216" r="2.1"/><circle cx="273" cy="214" r="2.1"/><circle cx="257" cy="218" r="2.1"/><circle cx="279" cy="263" r="2.1"/><circle cx="282" cy="272" r="2.1"/><circle cx="279" cy="269" r="2.1"/><circle cx="380" cy="229" r="2.1"/><circle cx="376" cy="220" r="2.1"/><circle cx="378" cy="227" r="2.1"/><circle cx="378" cy="234" r="2.1"/><circle cx="353" cy="242" r="2.1"/><circle cx="321" cy="268" r="2.1"/><circle cx="327" cy="265" r="2.1"/><circle cx="328" cy="281" r="2.1"/><circle cx="289" cy="250" r="2.1"/><circle cx="291" cy="265" r="2.1"/><circle cx="300" cy="277" r="2.1"/><circle cx="295" cy="271" r="2.1"/><circle cx="306" cy="192" r="2.1"/><circle cx="301" cy="197" r="2.1"/><circle cx="326" cy="247" r="2.1"/><circle cx="320" cy="240" r="2.1"/><circle cx="339" cy="215" r="2.1"/><circle cx="355" cy="217" r="2.1"/><circle cx="356" cy="232" r="2.1"/><circle cx="356" cy="232" r="2.1"/><circle cx="353" cy="236" r="2.1"/><circle cx="345" cy="230" r="2.1"/><circle cx="334" cy="240" r="2.1"/><circle cx="328" cy="254" r="2.1"/><circle cx="310" cy="230" r="2.1"/><circle cx="310" cy="234" r="2.1"/><circle cx="316" cy="224" r="2.1"/><circle cx="322" cy="231" r="2.1"/><circle cx="280" cy="240" r="2.1"/><circle cx="285" cy="232" r="2.1"/><circle cx="265" cy="240" r="2.1"/><circle cx="261" cy="251" r="2.1"/><circle cx="303" cy="210" r="2.1"/><circle cx="299" cy="204" r="2.1"/><circle cx="292" cy="213" r="2.1"/><circle cx="297" cy="222" r="2.1"/><circle cx="289" cy="232" r="2.1"/><circle cx="305" cy="230" r="2.1"/><circle cx="308" cy="229" r="2.1"/><circle cx="320" cy="219" r="2.1"/><circle cx="322" cy="220" r="2.1"/><circle cx="315" cy="218" r="2.1"/><circle cx="337" cy="234" r="2.1"/><circle cx="325" cy="234" r="2.1"/><circle cx="284" cy="232" r="2.1"/><circle cx="369" cy="277" r="2.1"/><circle cx="350" cy="227" r="2.1"/><circle cx="353" cy="214" r="2.1"/><circle cx="290" cy="265" r="2.1"/><circle cx="295" cy="264" r="2.1"/><circle cx="291" cy="276" r="2.1"/><circle cx="306" cy="277" r="2.1"/><circle cx="378" cy="262" r="2.1"/><circle cx="372" cy="256" r="2.1"/><circle cx="383" cy="253" r="2.1"/><circle cx="288" cy="196" r="2.1"/><circle cx="292" cy="192" r="2.1"/><circle cx="297" cy="199" r="2.1"/><circle cx="300" cy="185" r="2.1"/><circle cx="293" cy="192" r="2.1"/><circle cx="326" cy="209" r="2.1"/><circle cx="316" cy="210" r="2.1"/><circle cx="323" cy="202" r="2.1"/><circle cx="319" cy="220" r="2.1"/><circle cx="311" cy="218" r="2.1"/><circle cx="307" cy="223" r="2.1"/><circle cx="305" cy="216" r="2.1"/><circle cx="308" cy="218" r="2.1"/><circle cx="301" cy="217" r="2.1"/><circle cx="333" cy="234" r="2.1"/><circle cx="368" cy="241" r="2.1"/><circle cx="363" cy="239" r="2.1"/><circle cx="275" cy="261" r="2.1"/><circle cx="280" cy="268" r="2.1"/><circle cx="269" cy="275" r="2.1"/><circle cx="268" cy="279" r="2.1"/><circle cx="267" cy="281" r="2.1"/><circle cx="307" cy="283" r="2.1"/><circle cx="311" cy="297" r="2.1"/><circle cx="295" cy="252" r="2.1"/><circle cx="292" cy="263" r="2.1"/><circle cx="283" cy="281" r="2.1"/><circle cx="362" cy="209" r="2.1"/><circle cx="365" cy="205" r="2.1"/><circle cx="374" cy="218" r="2.1"/><circle cx="370" cy="218" r="2.1"/><circle cx="370" cy="221" r="2.1"/><circle cx="385" cy="225" r="2.1"/><circle cx="377" cy="218" r="2.1"/><circle cx="302" cy="214" r="2.1"/><circle cx="305" cy="208" r="2.1"/><circle cx="302" cy="210" r="2.1"/><circle cx="316" cy="206" r="2.1"/><circle cx="314" cy="203" r="2.1"/></g><g fill="#bdf0f4" stroke="#6aa" stroke-width="0.4"><circle cx="319" cy="232" r="2.2"/><circle cx="345" cy="187" r="2.2"/><circle cx="358" cy="195" r="2.2"/><circle cx="346" cy="227" r="2.2"/><circle cx="323" cy="228" r="2.2"/><circle cx="372" cy="195" r="2.2"/><circle cx="333" cy="211" r="2.2"/><circle cx="258" cy="220" r="2.2"/><circle cx="287" cy="271" r="2.2"/><circle cx="372" cy="214" r="2.2"/><circle cx="289" cy="243" r="2.2"/><circle cx="300" cy="189" r="2.2"/><circle cx="308" cy="203" r="2.2"/><circle cx="344" cy="216" r="2.2"/><circle cx="353" cy="216" r="2.2"/><circle cx="362" cy="219" r="2.2"/><circle cx="293" cy="241" r="2.2"/><circle cx="291" cy="216" r="2.2"/><circle cx="320" cy="214" r="2.2"/><circle cx="295" cy="278" r="2.2"/><circle cx="304" cy="276" r="2.2"/><circle cx="293" cy="204" r="2.2"/><circle cx="296" cy="209" r="2.2"/><circle cx="373" cy="233" r="2.2"/><circle cx="373" cy="237" r="2.2"/><circle cx="306" cy="294" r="2.2"/><circle cx="320" cy="307" r="2.2"/><circle cx="283" cy="289" r="2.2"/><circle cx="301" cy="205" r="2.2"/><circle cx="303" cy="194" r="2.2"/></g></g><g clip-path="url(#clB)" stroke-linecap="round"><path d="M435 247L439 248M444 250L447 252M447 252L449 251M447 252L449 250M447 252L450 254M387 224L385 226M380 228L377 227M377 227L375 229M375 229L373 232M373 232L375 233M373 232L371 231M373 232L372 235M372 235L371 238M371 238L372 240M387 237L390 238M390 238L393 239M393 239L395 241M393 239L395 242M395 242L397 245M397 245L400 244M405 240L406 237M406 237L405 235M406 237L406 234M406 234L406 231M406 231L404 233M406 231L408 229M408 229L411 226M411 226L414 225M414 225L417 224M417 224L419 226M417 224L416 227M420 267L422 265M427 261L430 260M430 260L431 258M430 260L432 258M432 258L435 256M435 256L435 253M435 253L435 249M435 249L433 251M435 249L436 246M436 246L436 243M436 243L435 245M436 243L435 240M435 240L433 238M433 238L430 238M412 288L414 286M414 286L416 283M416 283L417 281M416 283L419 285M419 285L422 286M422 286L421 288M422 286L424 284M422 286L425 287M425 287L428 288M428 288L428 291M428 291L428 295M428 295L428 297M428 295L427 298M427 298L426 301M426 301L424 300M426 301L424 299M435 277L437 275M437 270L435 267M435 267L434 269M435 267L437 265M439 259L438 256M438 256L439 258M438 256L435 255M429 257L427 260M427 260L427 257M427 260L426 257M427 260L424 259M424 259L421 258M433 266L435 263M435 263L436 260M436 260L439 260M436 260L439 260M436 260L436 257M436 257L436 253M436 253L435 251M435 251L434 248M434 248L433 245M434 248L436 247M434 248L430 247M430 247L427 246M427 246L428 248M427 246L425 248M425 248L424 251M424 251L423 253M424 251L422 249M387 261L385 264M385 264L384 267M384 267L386 269M391 273L394 275M394 275L397 276M403 277L406 277M406 277L404 278M406 277L408 276M396 276L396 279M395 285L393 288M393 288L391 290M393 288L390 290M390 290L388 292M388 292L385 291M385 291L381 291M381 291L384 292M381 291L383 292M381 291L380 288M380 288L380 284M380 284L379 287M380 284L380 281M380 281L381 278M381 278L383 280M381 278L384 277M384 277L387 276M389 242L390 239M392 233L392 230M392 230L392 227M392 230L394 227M394 227L397 225M397 225L398 223M402 261L400 264M400 264L399 267M399 267L400 269M399 267L395 267M395 267L392 266M392 266L391 269M391 269L389 272M389 272L391 274M391 274L393 276M393 276L391 275M393 276L391 277M393 276L396 275M396 275L399 273M399 273L398 276M399 273L397 272M399 273L402 275M402 275L405 276M405 276L405 274M405 276L404 274M405 276L408 275M408 275L411 273M411 273L411 271M410 264L410 268M410 268L410 271M410 271L410 273M410 271L412 273M410 271L413 273M418 274L421 272M421 272L422 275M421 272L423 274M405 281L406 285M406 285L406 288M406 288L404 291M405 296L407 298M407 298L408 300M407 298L407 301M407 307L408 310M408 310L407 312M408 310L410 312M408 310L408 314M444 256L440 256M435 259L433 261M433 261L436 260M433 261L431 263M433 261L433 265M404 289L407 290M407 290L410 292M410 292L411 295M411 295L412 298M412 298L412 300M412 298L415 298M415 298L418 299M418 299L422 299M422 299L425 299M425 299L423 300M425 299L428 298M428 298L431 297M431 297L434 295M434 295L436 293M436 293L434 294M436 293L435 291M436 293L439 292M439 292L442 291M442 291L445 292M442 291L445 292M374 286L376 288M376 288L378 290M378 290L378 293M378 290L376 289M378 290L379 294M379 294L379 297M379 297L381 295M379 297L381 299M381 299L382 302M382 302L385 303M382 302L386 301M429 283L425 283M425 283L422 283M422 283L420 281M422 283L419 281M414 278L411 277M411 277L408 279M404 284L401 286M375 290L379 290M379 290L382 290M382 290L385 290M389 287L390 284M390 284L387 283M390 284L390 286M390 284L391 281M395 276L398 274M398 274L396 276M398 274L398 272M401 222L399 219M399 214L400 211M400 211L403 210M403 210L406 209M406 209L406 206M406 209L408 206M408 206L410 204M410 204L411 206M410 204L411 200M414 195L417 193M417 193L419 194M419 194L422 196M422 196L424 198M412 290L414 287M414 287L417 285M417 285L419 286M417 285L415 282M415 282L413 280M413 280L414 277M414 277L416 274M417 284L414 283M414 283L411 281M411 281L412 283M411 281L407 282M407 282L404 282M404 282L405 284M404 282L406 283M404 282L401 280M401 280L399 279M399 279L399 276M399 279L396 280M399 279L396 278M396 278L392 276M392 276L394 278M392 276L391 274M391 274L389 271M389 271L387 270M398 260L400 262M400 262L403 265M403 265L403 262M403 265L406 263M406 263L408 261M408 261L412 261M412 261L415 261M415 261L414 259M415 261L418 260M418 260L420 258M420 258L421 260M420 258L424 258M428 262L428 265M428 265L426 266M392 271L392 274M389 280L388 283M388 283L386 284M388 283L386 284M388 283L385 283M385 283L381 284M381 284L379 283M414 292L415 295M415 295L415 299M415 299L418 299M424 297L426 295M426 295L427 298M426 295L426 293M396 298L398 296M398 296L400 293M400 293L403 292M409 294L411 296M411 296L411 299M411 296L413 295M411 296L411 299M411 299L411 303M411 303L413 304M411 303L412 305" stroke="#686868" stroke-width="3.4"/><path d="M435 247L439 248M444 250L447 252M447 252L449 251M447 252L449 250M447 252L450 254M387 224L385 226M380 228L377 227M377 227L375 229M375 229L373 232M373 232L375 233M373 232L371 231M373 232L372 235M372 235L371 238M371 238L372 240M387 237L390 238M390 238L393 239M393 239L395 241M393 239L395 242M395 242L397 245M397 245L400 244M405 240L406 237M406 237L405 235M406 237L406 234M406 234L406 231M406 231L404 233M406 231L408 229M408 229L411 226M411 226L414 225M414 225L417 224M417 224L419 226M417 224L416 227M420 267L422 265M427 261L430 260M430 260L431 258M430 260L432 258M432 258L435 256M435 256L435 253M435 253L435 249M435 249L433 251M435 249L436 246M436 246L436 243M436 243L435 245M436 243L435 240M435 240L433 238M433 238L430 238M412 288L414 286M414 286L416 283M416 283L417 281M416 283L419 285M419 285L422 286M422 286L421 288M422 286L424 284M422 286L425 287M425 287L428 288M428 288L428 291M428 291L428 295M428 295L428 297M428 295L427 298M427 298L426 301M426 301L424 300M426 301L424 299M435 277L437 275M437 270L435 267M435 267L434 269M435 267L437 265M439 259L438 256M438 256L439 258M438 256L435 255M429 257L427 260M427 260L427 257M427 260L426 257M427 260L424 259M424 259L421 258M433 266L435 263M435 263L436 260M436 260L439 260M436 260L439 260M436 260L436 257M436 257L436 253M436 253L435 251M435 251L434 248M434 248L433 245M434 248L436 247M434 248L430 247M430 247L427 246M427 246L428 248M427 246L425 248M425 248L424 251M424 251L423 253M424 251L422 249M387 261L385 264M385 264L384 267M384 267L386 269M391 273L394 275M394 275L397 276M403 277L406 277M406 277L404 278M406 277L408 276M396 276L396 279M395 285L393 288M393 288L391 290M393 288L390 290M390 290L388 292M388 292L385 291M385 291L381 291M381 291L384 292M381 291L383 292M381 291L380 288M380 288L380 284M380 284L379 287M380 284L380 281M380 281L381 278M381 278L383 280M381 278L384 277M384 277L387 276M389 242L390 239M392 233L392 230M392 230L392 227M392 230L394 227M394 227L397 225M397 225L398 223M402 261L400 264M400 264L399 267M399 267L400 269M399 267L395 267M395 267L392 266M392 266L391 269M391 269L389 272M389 272L391 274M391 274L393 276M393 276L391 275M393 276L391 277M393 276L396 275M396 275L399 273M399 273L398 276M399 273L397 272M399 273L402 275M402 275L405 276M405 276L405 274M405 276L404 274M405 276L408 275M408 275L411 273M411 273L411 271M410 264L410 268M410 268L410 271M410 271L410 273M410 271L412 273M410 271L413 273M418 274L421 272M421 272L422 275M421 272L423 274M405 281L406 285M406 285L406 288M406 288L404 291M405 296L407 298M407 298L408 300M407 298L407 301M407 307L408 310M408 310L407 312M408 310L410 312M408 310L408 314M444 256L440 256M435 259L433 261M433 261L436 260M433 261L431 263M433 261L433 265M404 289L407 290M407 290L410 292M410 292L411 295M411 295L412 298M412 298L412 300M412 298L415 298M415 298L418 299M418 299L422 299M422 299L425 299M425 299L423 300M425 299L428 298M428 298L431 297M431 297L434 295M434 295L436 293M436 293L434 294M436 293L435 291M436 293L439 292M439 292L442 291M442 291L445 292M442 291L445 292M374 286L376 288M376 288L378 290M378 290L378 293M378 290L376 289M378 290L379 294M379 294L379 297M379 297L381 295M379 297L381 299M381 299L382 302M382 302L385 303M382 302L386 301M429 283L425 283M425 283L422 283M422 283L420 281M422 283L419 281M414 278L411 277M411 277L408 279M404 284L401 286M375 290L379 290M379 290L382 290M382 290L385 290M389 287L390 284M390 284L387 283M390 284L390 286M390 284L391 281M395 276L398 274M398 274L396 276M398 274L398 272M401 222L399 219M399 214L400 211M400 211L403 210M403 210L406 209M406 209L406 206M406 209L408 206M408 206L410 204M410 204L411 206M410 204L411 200M414 195L417 193M417 193L419 194M419 194L422 196M422 196L424 198M412 290L414 287M414 287L417 285M417 285L419 286M417 285L415 282M415 282L413 280M413 280L414 277M414 277L416 274M417 284L414 283M414 283L411 281M411 281L412 283M411 281L407 282M407 282L404 282M404 282L405 284M404 282L406 283M404 282L401 280M401 280L399 279M399 279L399 276M399 279L396 280M399 279L396 278M396 278L392 276M392 276L394 278M392 276L391 274M391 274L389 271M389 271L387 270M398 260L400 262M400 262L403 265M403 265L403 262M403 265L406 263M406 263L408 261M408 261L412 261M412 261L415 261M415 261L414 259M415 261L418 260M418 260L420 258M420 258L421 260M420 258L424 258M428 262L428 265M428 265L426 266M392 271L392 274M389 280L388 283M388 283L386 284M388 283L386 284M388 283L385 283M385 283L381 284M381 284L379 283M414 292L415 295M415 295L415 299M415 299L418 299M424 297L426 295M426 295L427 298M426 295L426 293M396 298L398 296M398 296L400 293M400 293L403 292M409 294L411 296M411 296L411 299M411 296L413 295M411 296L411 299M411 299L411 303M411 303L413 304M411 303L412 305" stroke="#9a9a9a" stroke-width="1" transform="translate(-0.5,-0.5)"/><path d="M439 248L442 249M442 249L444 250M450 254L453 255M385 226L383 229M383 229L380 228M400 244L403 243M403 243L405 240M422 265L424 262M424 262L427 261M437 275L439 272M439 272L437 270M437 265L439 262M439 262L439 259M435 255L432 255M432 255L429 257M386 269L388 272M388 272L391 273M397 276L400 277M400 277L403 277M396 279L396 282M396 282L395 285M390 239L392 236M392 236L392 233M413 273L415 275M415 275L418 274M404 291L403 294M403 294L405 296M407 301L406 304M406 304L407 307M408 314L408 317M440 256L437 256M437 256L435 259M433 265L432 268M386 301L389 300M419 281L417 279M417 279L414 278M408 279L406 282M406 282L404 284M385 290L388 290M388 290L389 287M391 281L392 278M392 278L395 276M399 219L397 217M397 217L399 214M411 200L412 197M412 197L414 195M424 258L427 258M427 258L428 262M392 274L391 277M391 277L389 280M418 299L421 299M421 299L424 297M403 292L406 291M406 291L409 294" stroke="#c8241c" stroke-width="3.4"/><path d="M449 251L452 250M449 250L451 249M375 233L378 233M371 231L368 230M372 240L374 242M405 235L404 233M404 233L403 235M419 226L421 227M416 227L416 229M431 258L431 256M433 251L431 253M435 245L433 247M430 238L428 237M417 281L419 279M421 288L420 290M424 284L425 282M428 297L429 300M424 300L421 299M424 299L423 297M439 258L441 260M427 257L427 255M426 257L425 255M439 260L441 260M439 260L441 261M428 248L429 251M423 253L423 256M422 249L421 247M404 278L402 279M408 276L410 275M384 292L386 293M383 292L385 294M379 287L378 289M383 280L385 282M392 227L391 225M398 223L400 222M400 269L401 271M391 275L389 273M391 277L389 278M398 276L397 278M397 272L395 271M405 274L404 271M411 271L412 268M410 273L409 276M412 273L413 275M422 275L423 277M423 274L425 275M407 312L405 314M436 260L438 259M431 263L430 265M412 300L413 303M423 300L420 300M435 291L433 289M445 292L447 293M445 292L447 293M378 293L379 295M376 289L375 287M381 295L382 293M385 303L387 304M420 281L419 279M387 283L385 282M398 272L398 269M406 206L406 204M424 198L426 199M419 286L420 288M412 283L414 285M405 284L406 287M406 283L409 284M399 276L399 274M396 280L394 281M394 278L396 280M387 270L385 269M403 262L403 260M414 259L412 257M421 260L423 262M386 284L384 285M386 284L384 285M379 283L377 283M427 298L427 300M413 304L415 305M412 305L413 307" stroke="#d8d8d8" stroke-width="2"/><path d="M395 241L396 243M434 269L433 272M433 245L432 243M436 247L439 247M391 290L390 292M404 274L403 272M408 300L409 303M410 312L413 313M434 294L432 295M390 286L390 289M396 276L394 277M411 206L412 208M426 266L424 267M426 293L425 291M411 299L411 301M413 295L415 293" stroke="#a6dce2" stroke-width="2"/><g fill="#d42a22"><circle cx="442" cy="249" r="2.8"/><circle cx="453" cy="255" r="2.8"/><circle cx="383" cy="229" r="2.8"/><circle cx="403" cy="243" r="2.8"/><circle cx="424" cy="262" r="2.8"/><circle cx="439" cy="272" r="2.8"/><circle cx="439" cy="262" r="2.8"/><circle cx="432" cy="255" r="2.8"/><circle cx="388" cy="272" r="2.8"/><circle cx="400" cy="277" r="2.8"/><circle cx="396" cy="282" r="2.8"/><circle cx="392" cy="236" r="2.8"/><circle cx="415" cy="275" r="2.8"/><circle cx="403" cy="294" r="2.8"/><circle cx="406" cy="304" r="2.8"/><circle cx="408" cy="317" r="2.8"/><circle cx="437" cy="256" r="2.8"/><circle cx="432" cy="268" r="2.8"/><circle cx="389" cy="300" r="2.8"/><circle cx="417" cy="279" r="2.8"/><circle cx="406" cy="282" r="2.8"/><circle cx="388" cy="290" r="2.8"/><circle cx="392" cy="278" r="2.8"/><circle cx="397" cy="217" r="2.8"/><circle cx="412" cy="197" r="2.8"/><circle cx="427" cy="258" r="2.8"/><circle cx="391" cy="277" r="2.8"/><circle cx="421" cy="299" r="2.8"/><circle cx="406" cy="291" r="2.8"/></g><g fill="#f2f2f2" stroke="#8a8a8a" stroke-width="0.5"><circle cx="452" cy="250" r="2.1"/><circle cx="451" cy="249" r="2.1"/><circle cx="378" cy="233" r="2.1"/><circle cx="368" cy="230" r="2.1"/><circle cx="374" cy="242" r="2.1"/><circle cx="404" cy="233" r="2.1"/><circle cx="403" cy="235" r="2.1"/><circle cx="421" cy="227" r="2.1"/><circle cx="416" cy="229" r="2.1"/><circle cx="431" cy="256" r="2.1"/><circle cx="431" cy="253" r="2.1"/><circle cx="433" cy="247" r="2.1"/><circle cx="428" cy="237" r="2.1"/><circle cx="419" cy="279" r="2.1"/><circle cx="420" cy="290" r="2.1"/><circle cx="425" cy="282" r="2.1"/><circle cx="429" cy="300" r="2.1"/><circle cx="421" cy="299" r="2.1"/><circle cx="423" cy="297" r="2.1"/><circle cx="441" cy="260" r="2.1"/><circle cx="427" cy="255" r="2.1"/><circle cx="425" cy="255" r="2.1"/><circle cx="441" cy="260" r="2.1"/><circle cx="441" cy="261" r="2.1"/><circle cx="429" cy="251" r="2.1"/><circle cx="423" cy="256" r="2.1"/><circle cx="421" cy="247" r="2.1"/><circle cx="402" cy="279" r="2.1"/><circle cx="410" cy="275" r="2.1"/><circle cx="386" cy="293" r="2.1"/><circle cx="385" cy="294" r="2.1"/><circle cx="378" cy="289" r="2.1"/><circle cx="385" cy="282" r="2.1"/><circle cx="391" cy="225" r="2.1"/><circle cx="400" cy="222" r="2.1"/><circle cx="401" cy="271" r="2.1"/><circle cx="389" cy="273" r="2.1"/><circle cx="389" cy="278" r="2.1"/><circle cx="397" cy="278" r="2.1"/><circle cx="395" cy="271" r="2.1"/><circle cx="404" cy="271" r="2.1"/><circle cx="412" cy="268" r="2.1"/><circle cx="409" cy="276" r="2.1"/><circle cx="413" cy="275" r="2.1"/><circle cx="423" cy="277" r="2.1"/><circle cx="425" cy="275" r="2.1"/><circle cx="405" cy="314" r="2.1"/><circle cx="438" cy="259" r="2.1"/><circle cx="430" cy="265" r="2.1"/><circle cx="413" cy="303" r="2.1"/><circle cx="420" cy="300" r="2.1"/><circle cx="433" cy="289" r="2.1"/><circle cx="447" cy="293" r="2.1"/><circle cx="447" cy="293" r="2.1"/><circle cx="379" cy="295" r="2.1"/><circle cx="375" cy="287" r="2.1"/><circle cx="382" cy="293" r="2.1"/><circle cx="387" cy="304" r="2.1"/><circle cx="419" cy="279" r="2.1"/><circle cx="385" cy="282" r="2.1"/><circle cx="398" cy="269" r="2.1"/><circle cx="406" cy="204" r="2.1"/><circle cx="426" cy="199" r="2.1"/><circle cx="420" cy="288" r="2.1"/><circle cx="414" cy="285" r="2.1"/><circle cx="406" cy="287" r="2.1"/><circle cx="409" cy="284" r="2.1"/><circle cx="399" cy="274" r="2.1"/><circle cx="394" cy="281" r="2.1"/><circle cx="396" cy="280" r="2.1"/><circle cx="385" cy="269" r="2.1"/><circle cx="403" cy="260" r="2.1"/><circle cx="412" cy="257" r="2.1"/><circle cx="423" cy="262" r="2.1"/><circle cx="384" cy="285" r="2.1"/><circle cx="384" cy="285" r="2.1"/><circle cx="377" cy="283" r="2.1"/><circle cx="427" cy="300" r="2.1"/><circle cx="415" cy="305" r="2.1"/><circle cx="413" cy="307" r="2.1"/></g><g fill="#bdf0f4" stroke="#6aa" stroke-width="0.4"><circle cx="396" cy="243" r="2.2"/><circle cx="433" cy="272" r="2.2"/><circle cx="432" cy="243" r="2.2"/><circle cx="439" cy="247" r="2.2"/><circle cx="390" cy="292" r="2.2"/><circle cx="403" cy="272" r="2.2"/><circle cx="409" cy="303" r="2.2"/><circle cx="413" cy="313" r="2.2"/><circle cx="432" cy="295" r="2.2"/><circle cx="390" cy="289" r="2.2"/><circle cx="394" cy="277" r="2.2"/><circle cx="412" cy="208" r="2.2"/><circle cx="424" cy="267" r="2.2"/><circle cx="425" cy="291" r="2.2"/><circle cx="411" cy="301" r="2.2"/><circle cx="415" cy="293" r="2.2"/></g></g><g clip-path="url(#clB)" stroke-linecap="round"><path d="M460 204L463 205M463 205L466 206M466 206L466 203M466 206L465 204M466 206L469 206M469 206L472 207M472 207L470 205M472 207L472 204M472 207L474 210M474 210L475 213M475 213L473 211M475 213L476 216M476 216L476 219M447 206L444 206M444 206L441 206M441 206L439 208M441 206L438 206M438 206L435 205M435 205L435 202M435 202L435 198M435 198L434 195M434 195L433 192M433 192L434 190M433 192L435 190M433 192L436 190M469 279L470 276M470 276L471 273M471 273L469 274M471 273L474 273M474 273L477 272M477 272L475 271M477 272L479 270M479 270L481 267M481 267L483 268M481 267L483 265M481 267L484 266M484 266L487 264M487 264L489 263M487 264L485 264M489 197L486 199M481 198L479 195M479 195L478 193M479 195L479 198M479 195L476 195M476 195L473 195M473 195L471 198M471 198L470 201M470 201L469 203M470 201L470 198M488 279L487 282M487 282L485 285M485 285L484 287M485 285L484 288M484 288L482 291M482 291L484 289M482 291L483 294M483 294L484 297M484 297L481 296M484 297L485 299M484 297L481 298M484 202L487 201M493 202L496 203M496 203L495 201M496 203L494 203M496 203L498 206M498 206L500 209M500 209L501 206M500 209L498 212M498 212L497 214M497 214L494 215M494 215L491 216M491 216L492 218M491 216L492 217M456 255L454 257M454 257L451 259M451 259L451 261M451 259L450 261M451 259L452 262M451 267L448 270M448 270L446 271M448 270L447 272M448 270L450 273M450 273L451 275M451 275L450 273M451 275L452 273M451 275L454 276M491 248L488 249M482 251L479 252M479 252L476 254M476 254L474 256M474 256L472 259M472 259L470 262M470 262L467 261M461 260L458 259M458 259L455 259M458 259L455 261M455 261L453 262M489 295L487 297M487 297L485 300M485 300L486 298M485 300L484 297M485 300L482 300M482 300L478 300M478 300L475 300M475 300L472 301M472 301L469 300M469 300L466 298M466 298L468 297M478 259L480 261M480 261L482 264M482 264L484 262M482 264L481 262M482 264L485 264M491 266L493 268M493 268L494 271M494 271L495 275M495 275L493 277M495 275L498 275M498 275L501 276M501 276L499 277M501 276L500 278M441 278L443 280M448 284L451 286M451 286L453 288M453 288L456 290M456 290L457 292M456 290L458 290M456 290L458 293M458 293L459 295M459 295L462 297M503 272L500 271M500 271L497 270M497 270L498 272M497 270L498 267M502 263L505 263M505 263L504 260M486 298L490 298M490 298L493 299M493 299L496 300M502 299L505 298M505 298L506 296M505 298L506 300M505 298L508 299M508 299L511 301M511 301L513 303M511 301L511 304M512 310L514 313M514 313L514 311M514 313L515 316M514 313L513 317M513 317L513 320M507 211L504 210M504 210L501 208M501 208L498 209M501 208L499 205M499 205L498 203M498 203L499 200M498 203L495 201M495 201L492 200M492 200L494 199M492 200L489 199M489 199L486 197M486 197L486 200M486 197L485 194M485 194L485 191M485 191L486 193M485 191L485 187M485 187L485 184M485 184L486 182M485 184L483 183M504 280L505 283M505 283L506 286M506 286L505 289M506 286L506 289M506 289L505 293M505 293L503 294M505 293L506 296M506 296L506 299M506 299L506 301M506 299L504 298M459 250L462 252M465 257L466 260M466 260L464 262M466 260L463 261M466 260L465 264M468 268L471 269M471 269L470 266M471 269L473 266M473 266L475 263M475 263L472 262M475 263L474 260M474 260L474 257M446 294L444 291M444 291L443 288M443 288L446 287M443 288L442 290M443 288L441 286M441 286L439 283M439 283L441 283M439 283L437 281M437 281L435 278M435 278L435 275M435 275L434 272M434 272L434 274M434 272L434 269M460 213L458 210M458 210L457 207M457 207L456 209M457 207L459 207M457 207L458 204M458 198L457 195M457 195L455 193M457 195L455 195M457 195L454 194M454 194L451 192M451 192L453 191M451 192L448 192M448 192L444 192M444 192L442 191M444 192L443 194M461 194L458 193M458 193L455 192M455 192L452 191M452 191L449 190M449 190L447 191M449 190L446 190M446 190L442 190M442 190L445 189M442 190L440 191M442 190L439 189M457 271L460 270M466 268L469 267M469 267L471 265M469 267L472 268M469 267L472 265M472 265L475 264M475 264L474 266M475 264L473 262M475 264L478 265M478 265L481 265M481 265L483 264M481 265L483 264M481 265L485 266M485 266L488 266M488 266L490 267M488 266L491 265M496 267L498 269M458 264L455 263M455 263L451 263M451 263L450 265M451 263L451 265M451 263L450 266M450 266L448 269M448 269L449 272M449 272L450 275M450 275L452 276M450 275L449 278M502 279L499 280M499 280L495 281M495 281L497 283M495 281L494 284M493 290L493 293M493 293L496 294M493 293L495 292M493 293L492 296M492 296L491 299M491 299L492 297M491 299L488 300M488 300L485 301M485 301L484 303M485 301L484 303M485 301L482 303M482 303L480 305M471 239L474 240M474 240L477 240M477 240L481 241M481 241L484 242M484 242L481 242M484 242L486 240M484 242L485 245M485 245L486 248M486 248L488 249M486 248L488 250M494 251L497 250M486 209L485 205M485 205L484 202M484 202L484 199M481 195L478 194M478 194L476 196M478 194L475 196M471 200L469 203M469 203L468 201M469 203L470 206M470 206L471 209M471 209L469 212M469 296L467 294M467 294L465 291M465 291L465 288M465 291L465 288M465 291L464 288M464 288L463 285M463 285L464 283M463 285L463 282M463 282L462 278M462 278L460 277M462 278L464 276M446 204L444 202M444 202L441 200M441 200L439 202M441 200L440 197M440 197L440 194M440 194L442 193M440 194L441 191M441 191L443 188M443 188L442 186M443 188L444 185M444 185L446 182M446 182L444 180M446 182L449 181M449 181L452 181M490 186L488 184M488 184L486 181M486 181L484 180M486 181L484 179M486 181L486 178M486 178L486 174M486 174L486 177M486 174L484 173M486 174L485 171M481 168L478 168M478 168L477 166M478 168L475 169M475 169L472 169M458 229L460 227M460 227L463 225M463 225L460 225M463 225L463 222M463 222L464 219M464 219L462 216M462 216L461 213M461 213L459 215M461 213L460 215M461 213L457 213M482 218L486 218M486 218L489 219M489 219L489 222M489 219L487 217M489 219L489 222M489 222L488 226M488 226L487 223M488 226L486 227M488 226L485 227M485 227L483 229M483 229L485 230M454 231L451 232M451 232L448 233M448 233L449 235M448 233L446 230M446 230L445 227M445 227L446 225M445 227L447 226M445 227L445 224M445 224L446 221M446 221L449 218M449 218L451 216M451 216L450 218M451 216L452 214M451 216L454 214M454 214L456 213M456 213L457 210M456 213L457 215M456 213L459 215M459 215L461 217M461 217L462 215M461 217L463 219M461 217L461 220M478 292L474 292M474 292L471 291M471 291L473 293M471 291L471 289M471 291L471 288M471 288L470 285M470 285L472 283M472 283L474 280M458 266L460 269M460 269L462 272M462 272L459 271M462 272L465 273M465 273L468 274M468 274L469 277M469 277L470 280M470 280L473 281M473 281L476 282M473 209L476 207M476 207L478 205M478 205L479 202M479 202L480 199M480 199L478 201M480 199L482 200M480 199L478 196M497 217L496 220M496 220L496 224M496 224L495 227M495 227L494 230M494 230L492 232M494 230L492 232M492 232L489 234M489 234L487 235M489 234L487 237M487 237L485 239M485 239L484 241M485 239L487 242M487 242L488 245M488 245L488 248M468 256L471 258M471 258L473 260M473 260L476 261M473 260L473 258M473 260L476 262M481 266L483 269M483 269L481 270M483 269L485 269M483 269L481 271M481 271L479 274M479 274L477 274M479 274L478 272M479 274L476 275M476 275L473 276M473 276L470 278M470 278L468 280M468 280L468 283M497 224L496 227M496 227L495 230M495 230L495 228M495 230L497 231M495 230L496 233M496 233L497 236M497 236L499 237M497 236L496 238M497 236L497 239M497 239L496 243M496 243L495 245M496 243L498 244M496 243L499 244M505 243L508 242M508 242L507 240M508 242L508 244M508 242L511 240M496 247L499 248M505 249L508 248M508 248L510 245M510 245L512 243M512 243L515 243M512 243L514 241M468 277L471 278M471 278L474 280M474 280L477 279M477 279L480 279M480 279L482 277M480 279L482 276M482 276L484 274M484 274L484 272" stroke="#686868" stroke-width="3.4"/><path d="M460 204L463 205M463 205L466 206M466 206L466 203M466 206L465 204M466 206L469 206M469 206L472 207M472 207L470 205M472 207L472 204M472 207L474 210M474 210L475 213M475 213L473 211M475 213L476 216M476 216L476 219M447 206L444 206M444 206L441 206M441 206L439 208M441 206L438 206M438 206L435 205M435 205L435 202M435 202L435 198M435 198L434 195M434 195L433 192M433 192L434 190M433 192L435 190M433 192L436 190M469 279L470 276M470 276L471 273M471 273L469 274M471 273L474 273M474 273L477 272M477 272L475 271M477 272L479 270M479 270L481 267M481 267L483 268M481 267L483 265M481 267L484 266M484 266L487 264M487 264L489 263M487 264L485 264M489 197L486 199M481 198L479 195M479 195L478 193M479 195L479 198M479 195L476 195M476 195L473 195M473 195L471 198M471 198L470 201M470 201L469 203M470 201L470 198M488 279L487 282M487 282L485 285M485 285L484 287M485 285L484 288M484 288L482 291M482 291L484 289M482 291L483 294M483 294L484 297M484 297L481 296M484 297L485 299M484 297L481 298M484 202L487 201M493 202L496 203M496 203L495 201M496 203L494 203M496 203L498 206M498 206L500 209M500 209L501 206M500 209L498 212M498 212L497 214M497 214L494 215M494 215L491 216M491 216L492 218M491 216L492 217M456 255L454 257M454 257L451 259M451 259L451 261M451 259L450 261M451 259L452 262M451 267L448 270M448 270L446 271M448 270L447 272M448 270L450 273M450 273L451 275M451 275L450 273M451 275L452 273M451 275L454 276M491 248L488 249M482 251L479 252M479 252L476 254M476 254L474 256M474 256L472 259M472 259L470 262M470 262L467 261M461 260L458 259M458 259L455 259M458 259L455 261M455 261L453 262M489 295L487 297M487 297L485 300M485 300L486 298M485 300L484 297M485 300L482 300M482 300L478 300M478 300L475 300M475 300L472 301M472 301L469 300M469 300L466 298M466 298L468 297M478 259L480 261M480 261L482 264M482 264L484 262M482 264L481 262M482 264L485 264M491 266L493 268M493 268L494 271M494 271L495 275M495 275L493 277M495 275L498 275M498 275L501 276M501 276L499 277M501 276L500 278M441 278L443 280M448 284L451 286M451 286L453 288M453 288L456 290M456 290L457 292M456 290L458 290M456 290L458 293M458 293L459 295M459 295L462 297M503 272L500 271M500 271L497 270M497 270L498 272M497 270L498 267M502 263L505 263M505 263L504 260M486 298L490 298M490 298L493 299M493 299L496 300M502 299L505 298M505 298L506 296M505 298L506 300M505 298L508 299M508 299L511 301M511 301L513 303M511 301L511 304M512 310L514 313M514 313L514 311M514 313L515 316M514 313L513 317M513 317L513 320M507 211L504 210M504 210L501 208M501 208L498 209M501 208L499 205M499 205L498 203M498 203L499 200M498 203L495 201M495 201L492 200M492 200L494 199M492 200L489 199M489 199L486 197M486 197L486 200M486 197L485 194M485 194L485 191M485 191L486 193M485 191L485 187M485 187L485 184M485 184L486 182M485 184L483 183M504 280L505 283M505 283L506 286M506 286L505 289M506 286L506 289M506 289L505 293M505 293L503 294M505 293L506 296M506 296L506 299M506 299L506 301M506 299L504 298M459 250L462 252M465 257L466 260M466 260L464 262M466 260L463 261M466 260L465 264M468 268L471 269M471 269L470 266M471 269L473 266M473 266L475 263M475 263L472 262M475 263L474 260M474 260L474 257M446 294L444 291M444 291L443 288M443 288L446 287M443 288L442 290M443 288L441 286M441 286L439 283M439 283L441 283M439 283L437 281M437 281L435 278M435 278L435 275M435 275L434 272M434 272L434 274M434 272L434 269M460 213L458 210M458 210L457 207M457 207L456 209M457 207L459 207M457 207L458 204M458 198L457 195M457 195L455 193M457 195L455 195M457 195L454 194M454 194L451 192M451 192L453 191M451 192L448 192M448 192L444 192M444 192L442 191M444 192L443 194M461 194L458 193M458 193L455 192M455 192L452 191M452 191L449 190M449 190L447 191M449 190L446 190M446 190L442 190M442 190L445 189M442 190L440 191M442 190L439 189M457 271L460 270M466 268L469 267M469 267L471 265M469 267L472 268M469 267L472 265M472 265L475 264M475 264L474 266M475 264L473 262M475 264L478 265M478 265L481 265M481 265L483 264M481 265L483 264M481 265L485 266M485 266L488 266M488 266L490 267M488 266L491 265M496 267L498 269M458 264L455 263M455 263L451 263M451 263L450 265M451 263L451 265M451 263L450 266M450 266L448 269M448 269L449 272M449 272L450 275M450 275L452 276M450 275L449 278M502 279L499 280M499 280L495 281M495 281L497 283M495 281L494 284M493 290L493 293M493 293L496 294M493 293L495 292M493 293L492 296M492 296L491 299M491 299L492 297M491 299L488 300M488 300L485 301M485 301L484 303M485 301L484 303M485 301L482 303M482 303L480 305M471 239L474 240M474 240L477 240M477 240L481 241M481 241L484 242M484 242L481 242M484 242L486 240M484 242L485 245M485 245L486 248M486 248L488 249M486 248L488 250M494 251L497 250M486 209L485 205M485 205L484 202M484 202L484 199M481 195L478 194M478 194L476 196M478 194L475 196M471 200L469 203M469 203L468 201M469 203L470 206M470 206L471 209M471 209L469 212M469 296L467 294M467 294L465 291M465 291L465 288M465 291L465 288M465 291L464 288M464 288L463 285M463 285L464 283M463 285L463 282M463 282L462 278M462 278L460 277M462 278L464 276M446 204L444 202M444 202L441 200M441 200L439 202M441 200L440 197M440 197L440 194M440 194L442 193M440 194L441 191M441 191L443 188M443 188L442 186M443 188L444 185M444 185L446 182M446 182L444 180M446 182L449 181M449 181L452 181M490 186L488 184M488 184L486 181M486 181L484 180M486 181L484 179M486 181L486 178M486 178L486 174M486 174L486 177M486 174L484 173M486 174L485 171M481 168L478 168M478 168L477 166M478 168L475 169M475 169L472 169M458 229L460 227M460 227L463 225M463 225L460 225M463 225L463 222M463 222L464 219M464 219L462 216M462 216L461 213M461 213L459 215M461 213L460 215M461 213L457 213M482 218L486 218M486 218L489 219M489 219L489 222M489 219L487 217M489 219L489 222M489 222L488 226M488 226L487 223M488 226L486 227M488 226L485 227M485 227L483 229M483 229L485 230M454 231L451 232M451 232L448 233M448 233L449 235M448 233L446 230M446 230L445 227M445 227L446 225M445 227L447 226M445 227L445 224M445 224L446 221M446 221L449 218M449 218L451 216M451 216L450 218M451 216L452 214M451 216L454 214M454 214L456 213M456 213L457 210M456 213L457 215M456 213L459 215M459 215L461 217M461 217L462 215M461 217L463 219M461 217L461 220M478 292L474 292M474 292L471 291M471 291L473 293M471 291L471 289M471 291L471 288M471 288L470 285M470 285L472 283M472 283L474 280M458 266L460 269M460 269L462 272M462 272L459 271M462 272L465 273M465 273L468 274M468 274L469 277M469 277L470 280M470 280L473 281M473 281L476 282M473 209L476 207M476 207L478 205M478 205L479 202M479 202L480 199M480 199L478 201M480 199L482 200M480 199L478 196M497 217L496 220M496 220L496 224M496 224L495 227M495 227L494 230M494 230L492 232M494 230L492 232M492 232L489 234M489 234L487 235M489 234L487 237M487 237L485 239M485 239L484 241M485 239L487 242M487 242L488 245M488 245L488 248M468 256L471 258M471 258L473 260M473 260L476 261M473 260L473 258M473 260L476 262M481 266L483 269M483 269L481 270M483 269L485 269M483 269L481 271M481 271L479 274M479 274L477 274M479 274L478 272M479 274L476 275M476 275L473 276M473 276L470 278M470 278L468 280M468 280L468 283M497 224L496 227M496 227L495 230M495 230L495 228M495 230L497 231M495 230L496 233M496 233L497 236M497 236L499 237M497 236L496 238M497 236L497 239M497 239L496 243M496 243L495 245M496 243L498 244M496 243L499 244M505 243L508 242M508 242L507 240M508 242L508 244M508 242L511 240M496 247L499 248M505 249L508 248M508 248L510 245M510 245L512 243M512 243L515 243M512 243L514 241M468 277L471 278M471 278L474 280M474 280L477 279M477 279L480 279M480 279L482 277M480 279L482 276M482 276L484 274M484 274L484 272" stroke="#9a9a9a" stroke-width="1" transform="translate(-0.5,-0.5)"/><path d="M436 190L438 188M486 199L483 200M483 200L481 198M481 298L478 300M487 201L490 200M490 200L493 202M452 262L453 265M453 265L451 267M454 276L457 276M488 249L485 250M485 250L482 251M467 261L464 261M464 261L461 260M485 264L489 264M489 264L491 266M443 280L446 282M446 282L448 284M462 297L464 299M498 267L498 264M498 264L502 263M496 300L499 301M499 301L502 299M511 304L511 307M511 307L512 310M462 252L464 254M464 254L465 257M465 264L465 267M465 267L468 268M458 204L458 201M458 201L458 198M439 189L436 189M460 270L463 269M463 269L466 268M491 265L494 264M494 264L496 267M449 278L447 281M494 284L493 287M493 287L493 290M488 250L491 253M491 253L494 251M484 199L484 196M484 196L481 195M475 196L472 197M472 197L471 200M469 212L467 214M485 171L485 168M485 168L481 168M457 213L454 213M461 220L461 224M478 196L476 193M488 248L489 252M476 262L479 263M479 263L481 266M468 283L468 287M499 244L502 245M502 245L505 243M511 240L513 238M499 248L502 250M502 250L505 249" stroke="#c8241c" stroke-width="3.4"/><path d="M466 203L467 201M465 204L463 201M470 205L469 203M472 204L472 202M473 211L471 210M439 208L438 210M434 190L435 187M435 190L437 188M469 274L466 275M475 271L473 269M483 268L486 269M483 265L485 264M485 264L482 263M479 198L480 200M469 203L467 205M484 287L482 289M484 289L486 288M481 296L479 296M485 299L487 301M495 201L494 199M494 203L491 202M501 206L502 204M492 218L492 220M492 217L494 219M451 261L451 264M450 261L449 264M446 271L444 273M447 272L446 274M450 273L448 271M452 273L452 271M455 259L453 260M486 298L488 296M484 297L483 295M484 262L486 260M481 262L480 260M493 277L492 279M500 278L498 280M457 292L459 294M458 290L461 290M498 272L499 274M504 260L504 258M506 296L507 293M506 300L507 303M513 303L514 305M514 311L514 308M515 316L516 318M498 209L496 210M499 200L499 198M494 199L496 199M486 200L485 202M486 193L488 195M486 182L487 179M483 183L481 181M505 289L505 291M504 298L502 296M464 262L462 264M463 261L461 263M470 266L470 264M446 287L448 286M442 290L441 292M441 283L444 283M434 274L433 277M434 269L433 267M456 209L455 212M459 207L462 207M455 193L453 192M455 195L452 195M453 191L455 190M442 191L440 190M443 194L442 196M447 191L444 192M440 191L438 192M472 268L474 269M474 266L473 268M473 262L471 261M483 264L485 262M483 264L485 262M490 267L493 268M450 265L448 266M452 276L454 278M497 283L498 285M496 294L498 295M495 292L497 291M492 297L492 295M484 303L484 306M484 303L484 306M488 249L490 250M476 196L475 198M468 201L467 199M465 288L465 286M460 277L458 276M464 276L465 274M442 193L444 191M442 186L441 184M444 180L443 178M486 177L486 179M484 173L481 172M477 166L476 163M460 225L458 225M459 215L458 217M460 215L459 218M489 222L489 224M487 217L486 215M487 223L486 221M486 227L484 228M449 235L450 237M446 225L447 222M447 226L449 225M450 218L448 220M457 215L459 217M462 215L464 213M463 219L465 220M473 293L475 294M471 289L472 286M459 271L457 270M478 201L477 203M492 232L491 233M487 235L485 237M484 241L483 244M476 261L478 263M481 270L479 272M485 269L488 269M495 228L496 225M497 231L500 231M496 238L494 240M498 244L500 246M507 240L505 237M508 244L507 247M515 243L517 243M514 241L517 240M482 277L483 275M484 272L483 269" stroke="#d8d8d8" stroke-width="2"/><path d="M489 263L491 261M478 193L477 191M470 198L470 196M468 297L470 296M499 277L496 278M503 294L501 295M506 301L507 304M472 262L470 261M445 189L447 189M471 265L472 263M451 265L451 268M481 242L479 243M486 240L487 238M465 288L465 286M464 283L465 280M439 202L437 203M484 180L482 178M484 179L483 177M485 230L487 231M452 214L453 211M457 210L458 208M482 200L485 201M473 258L473 255M477 274L474 273M478 272L477 270M499 237L501 239M495 245L493 247" stroke="#a6dce2" stroke-width="2"/><g fill="#d42a22"><circle cx="438" cy="188" r="2.8"/><circle cx="483" cy="200" r="2.8"/><circle cx="478" cy="300" r="2.8"/><circle cx="490" cy="200" r="2.8"/><circle cx="453" cy="265" r="2.8"/><circle cx="457" cy="276" r="2.8"/><circle cx="485" cy="250" r="2.8"/><circle cx="464" cy="261" r="2.8"/><circle cx="489" cy="264" r="2.8"/><circle cx="446" cy="282" r="2.8"/><circle cx="464" cy="299" r="2.8"/><circle cx="498" cy="264" r="2.8"/><circle cx="499" cy="301" r="2.8"/><circle cx="511" cy="307" r="2.8"/><circle cx="464" cy="254" r="2.8"/><circle cx="465" cy="267" r="2.8"/><circle cx="458" cy="201" r="2.8"/><circle cx="436" cy="189" r="2.8"/><circle cx="463" cy="269" r="2.8"/><circle cx="494" cy="264" r="2.8"/><circle cx="447" cy="281" r="2.8"/><circle cx="493" cy="287" r="2.8"/><circle cx="491" cy="253" r="2.8"/><circle cx="484" cy="196" r="2.8"/><circle cx="472" cy="197" r="2.8"/><circle cx="467" cy="214" r="2.8"/><circle cx="485" cy="168" r="2.8"/><circle cx="454" cy="213" r="2.8"/><circle cx="461" cy="224" r="2.8"/><circle cx="476" cy="193" r="2.8"/><circle cx="489" cy="252" r="2.8"/><circle cx="479" cy="263" r="2.8"/><circle cx="468" cy="287" r="2.8"/><circle cx="502" cy="245" r="2.8"/><circle cx="513" cy="238" r="2.8"/><circle cx="502" cy="250" r="2.8"/></g><g fill="#f2f2f2" stroke="#8a8a8a" stroke-width="0.5"><circle cx="467" cy="201" r="2.1"/><circle cx="463" cy="201" r="2.1"/><circle cx="469" cy="203" r="2.1"/><circle cx="472" cy="202" r="2.1"/><circle cx="471" cy="210" r="2.1"/><circle cx="438" cy="210" r="2.1"/><circle cx="435" cy="187" r="2.1"/><circle cx="437" cy="188" r="2.1"/><circle cx="466" cy="275" r="2.1"/><circle cx="473" cy="269" r="2.1"/><circle cx="486" cy="269" r="2.1"/><circle cx="485" cy="264" r="2.1"/><circle cx="482" cy="263" r="2.1"/><circle cx="480" cy="200" r="2.1"/><circle cx="467" cy="205" r="2.1"/><circle cx="482" cy="289" r="2.1"/><circle cx="486" cy="288" r="2.1"/><circle cx="479" cy="296" r="2.1"/><circle cx="487" cy="301" r="2.1"/><circle cx="494" cy="199" r="2.1"/><circle cx="491" cy="202" r="2.1"/><circle cx="502" cy="204" r="2.1"/><circle cx="492" cy="220" r="2.1"/><circle cx="494" cy="219" r="2.1"/><circle cx="451" cy="264" r="2.1"/><circle cx="449" cy="264" r="2.1"/><circle cx="444" cy="273" r="2.1"/><circle cx="446" cy="274" r="2.1"/><circle cx="448" cy="271" r="2.1"/><circle cx="452" cy="271" r="2.1"/><circle cx="453" cy="260" r="2.1"/><circle cx="488" cy="296" r="2.1"/><circle cx="483" cy="295" r="2.1"/><circle cx="486" cy="260" r="2.1"/><circle cx="480" cy="260" r="2.1"/><circle cx="492" cy="279" r="2.1"/><circle cx="498" cy="280" r="2.1"/><circle cx="459" cy="294" r="2.1"/><circle cx="461" cy="290" r="2.1"/><circle cx="499" cy="274" r="2.1"/><circle cx="504" cy="258" r="2.1"/><circle cx="507" cy="293" r="2.1"/><circle cx="507" cy="303" r="2.1"/><circle cx="514" cy="305" r="2.1"/><circle cx="514" cy="308" r="2.1"/><circle cx="516" cy="318" r="2.1"/><circle cx="496" cy="210" r="2.1"/><circle cx="499" cy="198" r="2.1"/><circle cx="496" cy="199" r="2.1"/><circle cx="485" cy="202" r="2.1"/><circle cx="488" cy="195" r="2.1"/><circle cx="487" cy="179" r="2.1"/><circle cx="481" cy="181" r="2.1"/><circle cx="505" cy="291" r="2.1"/><circle cx="502" cy="296" r="2.1"/><circle cx="462" cy="264" r="2.1"/><circle cx="461" cy="263" r="2.1"/><circle cx="470" cy="264" r="2.1"/><circle cx="448" cy="286" r="2.1"/><circle cx="441" cy="292" r="2.1"/><circle cx="444" cy="283" r="2.1"/><circle cx="433" cy="277" r="2.1"/><circle cx="433" cy="267" r="2.1"/><circle cx="455" cy="212" r="2.1"/><circle cx="462" cy="207" r="2.1"/><circle cx="453" cy="192" r="2.1"/><circle cx="452" cy="195" r="2.1"/><circle cx="455" cy="190" r="2.1"/><circle cx="440" cy="190" r="2.1"/><circle cx="442" cy="196" r="2.1"/><circle cx="444" cy="192" r="2.1"/><circle cx="438" cy="192" r="2.1"/><circle cx="474" cy="269" r="2.1"/><circle cx="473" cy="268" r="2.1"/><circle cx="471" cy="261" r="2.1"/><circle cx="485" cy="262" r="2.1"/><circle cx="485" cy="262" r="2.1"/><circle cx="493" cy="268" r="2.1"/><circle cx="448" cy="266" r="2.1"/><circle cx="454" cy="278" r="2.1"/><circle cx="498" cy="285" r="2.1"/><circle cx="498" cy="295" r="2.1"/><circle cx="497" cy="291" r="2.1"/><circle cx="492" cy="295" r="2.1"/><circle cx="484" cy="306" r="2.1"/><circle cx="484" cy="306" r="2.1"/><circle cx="490" cy="250" r="2.1"/><circle cx="475" cy="198" r="2.1"/><circle cx="467" cy="199" r="2.1"/><circle cx="465" cy="286" r="2.1"/><circle cx="458" cy="276" r="2.1"/><circle cx="465" cy="274" r="2.1"/><circle cx="444" cy="191" r="2.1"/><circle cx="441" cy="184" r="2.1"/><circle cx="443" cy="178" r="2.1"/><circle cx="486" cy="179" r="2.1"/><circle cx="481" cy="172" r="2.1"/><circle cx="476" cy="163" r="2.1"/><circle cx="458" cy="225" r="2.1"/><circle cx="458" cy="217" r="2.1"/><circle cx="459" cy="218" r="2.1"/><circle cx="489" cy="224" r="2.1"/><circle cx="486" cy="215" r="2.1"/><circle cx="486" cy="221" r="2.1"/><circle cx="484" cy="228" r="2.1"/><circle cx="450" cy="237" r="2.1"/><circle cx="447" cy="222" r="2.1"/><circle cx="449" cy="225" r="2.1"/><circle cx="448" cy="220" r="2.1"/><circle cx="459" cy="217" r="2.1"/><circle cx="464" cy="213" r="2.1"/><circle cx="465" cy="220" r="2.1"/><circle cx="475" cy="294" r="2.1"/><circle cx="472" cy="286" r="2.1"/><circle cx="457" cy="270" r="2.1"/><circle cx="477" cy="203" r="2.1"/><circle cx="491" cy="233" r="2.1"/><circle cx="485" cy="237" r="2.1"/><circle cx="483" cy="244" r="2.1"/><circle cx="478" cy="263" r="2.1"/><circle cx="479" cy="272" r="2.1"/><circle cx="488" cy="269" r="2.1"/><circle cx="496" cy="225" r="2.1"/><circle cx="500" cy="231" r="2.1"/><circle cx="494" cy="240" r="2.1"/><circle cx="500" cy="246" r="2.1"/><circle cx="505" cy="237" r="2.1"/><circle cx="507" cy="247" r="2.1"/><circle cx="517" cy="243" r="2.1"/><circle cx="517" cy="240" r="2.1"/><circle cx="483" cy="275" r="2.1"/><circle cx="483" cy="269" r="2.1"/></g><g fill="#bdf0f4" stroke="#6aa" stroke-width="0.4"><circle cx="491" cy="261" r="2.2"/><circle cx="477" cy="191" r="2.2"/><circle cx="470" cy="196" r="2.2"/><circle cx="470" cy="296" r="2.2"/><circle cx="496" cy="278" r="2.2"/><circle cx="501" cy="295" r="2.2"/><circle cx="507" cy="304" r="2.2"/><circle cx="470" cy="261" r="2.2"/><circle cx="447" cy="189" r="2.2"/><circle cx="472" cy="263" r="2.2"/><circle cx="451" cy="268" r="2.2"/><circle cx="479" cy="243" r="2.2"/><circle cx="487" cy="238" r="2.2"/><circle cx="465" cy="286" r="2.2"/><circle cx="465" cy="280" r="2.2"/><circle cx="437" cy="203" r="2.2"/><circle cx="482" cy="178" r="2.2"/><circle cx="483" cy="177" r="2.2"/><circle cx="487" cy="231" r="2.2"/><circle cx="453" cy="211" r="2.2"/><circle cx="458" cy="208" r="2.2"/><circle cx="485" cy="201" r="2.2"/><circle cx="473" cy="255" r="2.2"/><circle cx="474" cy="273" r="2.2"/><circle cx="477" cy="270" r="2.2"/><circle cx="501" cy="239" r="2.2"/><circle cx="493" cy="247" r="2.2"/></g></g><g clip-path="url(#clB)" stroke-linecap="round"><path d="M364 181L367 183M367 183L370 184M370 184L367 183M370 184L368 186M370 184L373 183M378 180L381 178M381 178L378 179M373 178L376 177M376 177L379 175M379 175L376 176M379 175L381 177M381 177L384 179M384 179L386 177M386 177L389 176M389 176L392 174M397 173L400 175M400 175L400 178M400 178L400 181M400 181L402 179M400 181L403 181M400 181L397 183" stroke="#686868" stroke-width="3.4"/><path d="M364 181L367 183M367 183L370 184M370 184L367 183M370 184L368 186M370 184L373 183M378 180L381 178M381 178L378 179M373 178L376 177M376 177L379 175M379 175L376 176M379 175L381 177M381 177L384 179M384 179L386 177M386 177L389 176M389 176L392 174M397 173L400 175M400 175L400 178M400 178L400 181M400 181L402 179M400 181L403 181M400 181L397 183" stroke="#9a9a9a" stroke-width="1" transform="translate(-0.5,-0.5)"/><path d="M373 183L376 182M376 182L378 180M392 174L394 172M394 172L397 173M397 183L395 185" stroke="#c8241c" stroke-width="3.4"/><path d="M368 186L366 187M376 176L374 177" stroke="#d8d8d8" stroke-width="2"/><path d="M367 183L365 182M378 179L376 180M402 179L403 177M403 181L405 181" stroke="#a6dce2" stroke-width="2"/><g fill="#d42a22"><circle cx="376" cy="182" r="2.8"/><circle cx="394" cy="172" r="2.8"/><circle cx="395" cy="185" r="2.8"/></g><g fill="#f2f2f2" stroke="#8a8a8a" stroke-width="0.5"><circle cx="366" cy="187" r="2.1"/><circle cx="374" cy="177" r="2.1"/></g><g fill="#bdf0f4" stroke="#6aa" stroke-width="0.4"><circle cx="365" cy="182" r="2.2"/><circle cx="376" cy="180" r="2.2"/><circle cx="403" cy="177" r="2.2"/><circle cx="405" cy="181" r="2.2"/></g></g><g clip-path="url(#clB)"><path d="M458 321L467 326M458 321L451 325M458 321L451 317M458 321L458 313M467 326L474 322M467 326L474 330M467 326L468 334M421 286L411 285M421 286L426 279M421 286L429 286M421 286L425 293M411 285L407 292M411 285L403 285M411 285L407 278M344 290L342 280M344 290L351 293M344 290L345 298M344 290L338 295M342 280L334 277M342 280L340 272M342 280L348 275M354 325L345 320M354 325L361 321M354 325L361 329M354 325L354 333M345 320L338 323M345 320L338 315M345 320L345 312M508 298L508 308M508 298L501 294M508 298L508 290M508 298L515 293M508 308L515 312M508 308L508 316M508 308L502 312M335 314L333 323M335 314L330 308M335 314L337 306M335 314L343 311M333 323L338 329M333 323L331 331M333 323L325 326M315 313L323 320M315 313L308 315M315 313L310 308M315 313L317 306M323 320L330 319M323 320L328 326M323 320L321 328M397 308L406 310M397 308L390 313M397 308L389 305M397 308L394 300M406 310L412 305M406 310L414 313M406 310L408 318M376 297L383 305M376 297L368 299M376 297L370 292M376 297L378 290M383 305L391 303M383 305L388 310M383 305L381 312M350 299L359 305M350 299L343 303M350 299L344 295M350 299L350 291M359 305L366 302M359 305L365 309M359 305L359 313M454 304L448 296M454 304L462 303M454 304L460 310M454 304L452 312M448 296L440 297M448 296L443 290M448 296L450 289M472 298L474 308M472 298L465 295M472 298L471 290M472 298L478 293M474 308L481 311M474 308L475 316M474 308L468 314" stroke="#2c6ca4" stroke-width="4.6" stroke-linecap="round" fill="none"/><g fill="#3a80ba"><circle cx="451" cy="325" r="3"/><circle cx="451" cy="317" r="3"/><circle cx="458" cy="313" r="3"/><circle cx="474" cy="322" r="3"/><circle cx="474" cy="330" r="3"/><circle cx="468" cy="334" r="3"/><circle cx="426" cy="279" r="3"/><circle cx="429" cy="286" r="3"/><circle cx="425" cy="293" r="3"/><circle cx="407" cy="292" r="3"/><circle cx="403" cy="285" r="3"/><circle cx="407" cy="278" r="3"/><circle cx="351" cy="293" r="3"/><circle cx="345" cy="298" r="3"/><circle cx="338" cy="295" r="3"/><circle cx="334" cy="277" r="3"/><circle cx="340" cy="272" r="3"/><circle cx="348" cy="275" r="3"/><circle cx="361" cy="321" r="3"/><circle cx="361" cy="329" r="3"/><circle cx="354" cy="333" r="3"/><circle cx="338" cy="323" r="3"/><circle cx="338" cy="315" r="3"/><circle cx="345" cy="312" r="3"/><circle cx="501" cy="294" r="3"/><circle cx="508" cy="290" r="3"/><circle cx="515" cy="293" r="3"/><circle cx="515" cy="312" r="3"/><circle cx="508" cy="316" r="3"/><circle cx="502" cy="312" r="3"/><circle cx="330" cy="308" r="3"/><circle cx="337" cy="306" r="3"/><circle cx="343" cy="311" r="3"/><circle cx="338" cy="329" r="3"/><circle cx="331" cy="331" r="3"/><circle cx="325" cy="326" r="3"/><circle cx="308" cy="315" r="3"/><circle cx="310" cy="308" r="3"/><circle cx="317" cy="306" r="3"/><circle cx="330" cy="319" r="3"/><circle cx="328" cy="326" r="3"/><circle cx="321" cy="328" r="3"/><circle cx="390" cy="313" r="3"/><circle cx="389" cy="305" r="3"/><circle cx="394" cy="300" r="3"/><circle cx="412" cy="305" r="3"/><circle cx="414" cy="313" r="3"/><circle cx="408" cy="318" r="3"/><circle cx="368" cy="299" r="3"/><circle cx="370" cy="292" r="3"/><circle cx="378" cy="290" r="3"/><circle cx="391" cy="303" r="3"/><circle cx="388" cy="310" r="3"/><circle cx="381" cy="312" r="3"/><circle cx="343" cy="303" r="3"/><circle cx="344" cy="295" r="3"/><circle cx="350" cy="291" r="3"/><circle cx="366" cy="302" r="3"/><circle cx="365" cy="309" r="3"/><circle cx="359" cy="313" r="3"/><circle cx="462" cy="303" r="3"/><circle cx="460" cy="310" r="3"/><circle cx="452" cy="312" r="3"/><circle cx="440" cy="297" r="3"/><circle cx="443" cy="290" r="3"/><circle cx="450" cy="289" r="3"/><circle cx="465" cy="295" r="3"/><circle cx="471" cy="290" r="3"/><circle cx="478" cy="293" r="3"/><circle cx="481" cy="311" r="3"/><circle cx="475" cy="316" r="3"/><circle cx="468" cy="314" r="3"/></g><path d="M458 321L467 326M458 321L451 325M458 321L451 317M458 321L458 313M467 326L474 322M467 326L474 330M467 326L468 334M421 286L411 285M421 286L426 279M421 286L429 286M421 286L425 293M411 285L407 292M411 285L403 285M411 285L407 278M344 290L342 280M344 290L351 293M344 290L345 298M344 290L338 295M342 280L334 277M342 280L340 272M342 280L348 275M354 325L345 320M354 325L361 321M354 325L361 329M354 325L354 333M345 320L338 323M345 320L338 315M345 320L345 312M508 298L508 308M508 298L501 294M508 298L508 290M508 298L515 293M508 308L515 312M508 308L508 316M508 308L502 312M335 314L333 323M335 314L330 308M335 314L337 306M335 314L343 311M333 323L338 329M333 323L331 331M333 323L325 326M315 313L323 320M315 313L308 315M315 313L310 308M315 313L317 306M323 320L330 319M323 320L328 326M323 320L321 328M397 308L406 310M397 308L390 313M397 308L389 305M397 308L394 300M406 310L412 305M406 310L414 313M406 310L408 318M376 297L383 305M376 297L368 299M376 297L370 292M376 297L378 290M383 305L391 303M383 305L388 310M383 305L381 312M350 299L359 305M350 299L343 303M350 299L344 295M350 299L350 291M359 305L366 302M359 305L365 309M359 305L359 313M454 304L448 296M454 304L462 303M454 304L460 310M454 304L452 312M448 296L440 297M448 296L443 290M448 296L450 289M472 298L474 308M472 298L465 295M472 298L471 290M472 298L478 293M474 308L481 311M474 308L475 316M474 308L468 314" stroke="#6aa6d8" stroke-width="1.2" stroke-linecap="round" fill="none" transform="translate(-0.7,-0.9)"/></g><g clip-path="url(#clB)"><circle cx="444.1" cy="284.5" r="5.4" fill="url(#mG)"/><circle cx="426.6" cy="285.1" r="5.4" fill="url(#mG)"/><circle cx="322.6" cy="287.5" r="5.4" fill="url(#mG)"/><circle cx="311.5" cy="287.7" r="5.4" fill="url(#mG)"/><circle cx="452.7" cy="288.1" r="5.4" fill="url(#mG)"/><circle cx="465.0" cy="288.8" r="5.4" fill="url(#mG)"/><circle cx="304.1" cy="290.8" r="5.4" fill="url(#mG)"/><circle cx="435.6" cy="291.7" r="5.4" fill="url(#mG)"/><circle cx="490.0" cy="292.4" r="5.4" fill="url(#mG)"/><circle cx="415.4" cy="292.5" r="5.4" fill="url(#mG)"/><circle cx="332.9" cy="293.0" r="5.4" fill="url(#mG)"/><circle cx="444.9" cy="293.2" r="5.4" fill="url(#mG)"/><circle cx="481.6" cy="293.9" r="5.4" fill="url(#mG)"/><circle cx="472.4" cy="294.2" r="5.4" fill="url(#mG)"/><circle cx="504.4" cy="294.5" r="5.4" fill="url(#mG)"/><circle cx="456.8" cy="295.1" r="5.4" fill="url(#mG)"/><circle cx="342.8" cy="295.9" r="5.4" fill="url(#mG)"/><circle cx="310.8" cy="297.2" r="5.4" fill="url(#mG)"/><circle cx="358.7" cy="297.4" r="5.4" fill="url(#mG)"/><circle cx="407.1" cy="297.8" r="5.4" fill="url(#mG)"/><circle cx="290.4" cy="298.1" r="5.4" fill="url(#mG)"/><circle cx="281.8" cy="298.6" r="5.4" fill="url(#mG)"/><circle cx="320.2" cy="298.7" r="5.4" fill="url(#mG)"/><circle cx="420.7" cy="298.8" r="5.4" fill="url(#mGr)"/><circle cx="429.2" cy="300.2" r="5.4" fill="url(#mG)"/><circle cx="370.2" cy="300.5" r="5.4" fill="url(#mG)"/><circle cx="337.1" cy="300.6" r="5.4" fill="url(#mG)"/><circle cx="439.4" cy="300.7" r="5.4" fill="url(#mG)"/><circle cx="447.5" cy="300.9" r="5.4" fill="url(#mG)"/><circle cx="297.9" cy="302.6" r="5.4" fill="url(#mG)"/><circle cx="401.9" cy="303.8" r="5.4" fill="url(#mG)"/><circle cx="363.5" cy="304.7" r="5.4" fill="url(#mG)"/><circle cx="329.6" cy="304.9" r="5.4" fill="url(#mG)"/><circle cx="305.2" cy="305.2" r="5.4" fill="url(#mG)"/><circle cx="346.7" cy="305.5" r="5.4" fill="url(#mG)"/><circle cx="417.4" cy="306.1" r="5.4" fill="url(#mG)"/><circle cx="470.8" cy="307.7" r="5.4" fill="url(#mG)"/><circle cx="498.6" cy="307.8" r="5.4" fill="url(#mG)"/><circle cx="506.4" cy="308.1" r="5.4" fill="url(#mG)"/><circle cx="434.6" cy="309.1" r="5.4" fill="url(#mG)"/><circle cx="388.7" cy="309.4" r="5.4" fill="url(#mG)"/><circle cx="462.0" cy="310.0" r="5.4" fill="url(#mG)"/><circle cx="340.7" cy="310.0" r="5.4" fill="url(#mG)"/><circle cx="283.0" cy="310.0" r="5.4" fill="url(#mGr)"/><circle cx="369.8" cy="310.3" r="5.4" fill="url(#mG)"/><circle cx="453.6" cy="311.5" r="5.4" fill="url(#mGr)"/><circle cx="424.0" cy="311.9" r="5.4" fill="url(#mG)"/><circle cx="315.2" cy="311.9" r="5.4" fill="url(#mG)"/><circle cx="489.4" cy="312.1" r="5.4" fill="url(#mG)"/><circle cx="408.9" cy="312.4" r="5.4" fill="url(#mG)"/><circle cx="378.4" cy="312.5" r="5.4" fill="url(#mG)"/><circle cx="299.0" cy="312.6" r="5.4" fill="url(#mGr)"/><circle cx="332.2" cy="312.9" r="5.4" fill="url(#mGr)"/><circle cx="354.4" cy="313.6" r="5.4" fill="url(#mG)"/><circle cx="307.3" cy="313.6" r="5.4" fill="url(#mG)"/><circle cx="479.3" cy="313.7" r="5.4" fill="url(#mG)"/><circle cx="401.6" cy="314.1" r="5.4" fill="url(#mG)"/><circle cx="439.6" cy="316.4" r="5.4" fill="url(#mGr)"/><circle cx="286.3" cy="317.5" r="5.4" fill="url(#mGr)"/><circle cx="498.1" cy="317.5" r="5.4" fill="url(#mG)"/><circle cx="393.9" cy="317.6" r="5.4" fill="url(#mG)"/><circle cx="430.9" cy="317.6" r="5.4" fill="url(#mGr)"/><circle cx="416.3" cy="318.6" r="5.4" fill="url(#mG)"/><circle cx="381.6" cy="319.6" r="5.4" fill="url(#mG)"/><circle cx="458.9" cy="319.6" r="5.4" fill="url(#mG)"/><circle cx="371.7" cy="320.0" r="5.4" fill="url(#mG)"/><circle cx="362.2" cy="320.1" r="5.4" fill="url(#mG)"/><circle cx="306.6" cy="322.2" r="5.4" fill="url(#mG)"/><circle cx="509.7" cy="322.3" r="5.4" fill="url(#mG)"/><circle cx="297.7" cy="322.7" r="5.4" fill="url(#mG)"/><circle cx="423.8" cy="322.8" r="5.4" fill="url(#mGr)"/><circle cx="320.3" cy="323.0" r="5.4" fill="url(#mG)"/><circle cx="480.9" cy="323.7" r="5.4" fill="url(#mG)"/><circle cx="436.0" cy="323.9" r="5.4" fill="url(#mG)"/><circle cx="346.2" cy="324.3" r="5.4" fill="url(#mG)"/><circle cx="445.1" cy="324.8" r="5.4" fill="url(#mG)"/><circle cx="406.1" cy="325.0" r="5.4" fill="url(#mG)"/><circle cx="471.1" cy="325.3" r="5.4" fill="url(#mG)"/><circle cx="284.2" cy="325.7" r="5.4" fill="url(#mG)"/><circle cx="330.3" cy="326.0" r="5.4" fill="url(#mG)"/><circle cx="390.8" cy="326.4" r="5.4" fill="url(#mG)"/><circle cx="338.3" cy="326.8" r="5.4" fill="url(#mG)"/><circle cx="455.2" cy="327.0" r="5.4" fill="url(#mG)"/><circle cx="311.7" cy="328.2" r="5.4" fill="url(#mG)"/><circle cx="358.3" cy="328.5" r="5.4" fill="url(#mG)"/><circle cx="498.7" cy="329.1" r="5.4" fill="url(#mG)"/><circle cx="365.9" cy="330.2" r="5.4" fill="url(#mG)"/><circle cx="302.4" cy="330.4" r="5.4" fill="url(#mG)"/><circle cx="375.7" cy="330.5" r="5.4" fill="url(#mG)"/><circle cx="397.8" cy="330.5" r="5.4" fill="url(#mG)"/><circle cx="419.4" cy="330.7" r="5.4" fill="url(#mG)"/><circle cx="490.4" cy="330.9" r="5.4" fill="url(#mG)"/><circle cx="432.8" cy="331.3" r="5.4" fill="url(#mG)"/><circle cx="293.5" cy="331.9" r="5.4" fill="url(#mG)"/><circle cx="506.5" cy="332.0" r="5.4" fill="url(#mG)"/><circle cx="347.6" cy="332.5" r="5.4" fill="url(#mG)"/><circle cx="480.2" cy="332.9" r="5.4" fill="url(#mG)"/><circle cx="442.8" cy="333.7" r="5.4" fill="url(#mG)"/><circle cx="451.9" cy="334.2" r="5.4" fill="url(#mG)"/><circle cx="390.0" cy="334.2" r="5.4" fill="url(#mG)"/><circle cx="330.3" cy="334.6" r="5.4" fill="url(#mG)"/><circle cx="461.5" cy="335.2" r="5.4" fill="url(#mG)"/><circle cx="406.8" cy="336.3" r="5.4" fill="url(#mG)"/><circle cx="339.6" cy="336.7" r="5.4" fill="url(#mG)"/><circle cx="301.7" cy="338.0" r="5.4" fill="url(#mG)"/><circle cx="494.9" cy="338.3" r="5.4" fill="url(#mG)"/><circle cx="287.6" cy="338.9" r="5.4" fill="url(#mG)"/><circle cx="399.2" cy="338.9" r="5.4" fill="url(#mG)"/><circle cx="420.7" cy="339.6" r="5.4" fill="url(#mG)"/><circle cx="428.9" cy="340.3" r="5.4" fill="url(#mG)"/><circle cx="380.8" cy="340.7" r="5.4" fill="url(#mG)"/><circle cx="506.1" cy="341.6" r="5.4" fill="url(#mG)"/><circle cx="485.4" cy="341.7" r="5.4" fill="url(#mG)"/><circle cx="475.4" cy="342.4" r="5.4" fill="url(#mG)"/><circle cx="314.2" cy="342.9" r="5.4" fill="url(#mG)"/><circle cx="355.6" cy="343.5" r="5.4" fill="url(#mG)"/><circle cx="295.1" cy="344.5" r="5.4" fill="url(#mGr)"/><circle cx="346.9" cy="344.6" r="5.4" fill="url(#mG)"/><circle cx="463.7" cy="344.8" r="5.4" fill="url(#mG)"/><circle cx="435.2" cy="344.9" r="5.4" fill="url(#mG)"/><circle cx="323.1" cy="346.1" r="5.4" fill="url(#mG)"/><circle cx="370.3" cy="346.3" r="5.4" fill="url(#mG)"/><circle cx="398.6" cy="347.2" r="5.4" fill="url(#mGr)"/><circle cx="450.2" cy="347.4" r="5.4" fill="url(#mG)"/><circle cx="306.1" cy="347.5" r="5.4" fill="url(#mG)"/><circle cx="414.6" cy="347.8" r="5.4" fill="url(#mG)"/><circle cx="385.8" cy="348.0" r="5.4" fill="url(#mG)"/><circle cx="378.0" cy="348.9" r="5.4" fill="url(#mG)"/><circle cx="471.2" cy="350.2" r="5.4" fill="url(#mG)"/><circle cx="341.0" cy="350.5" r="5.4" fill="url(#mG)"/><circle cx="479.9" cy="350.9" r="5.4" fill="url(#mGr)"/><circle cx="428.1" cy="351.5" r="5.4" fill="url(#mG)"/><circle cx="497.8" cy="351.6" r="5.4" fill="url(#mG)"/><circle cx="457.1" cy="352.3" r="5.4" fill="url(#mG)"/><circle cx="437.4" cy="352.6" r="5.4" fill="url(#mG)"/><circle cx="363.4" cy="352.7" r="5.4" fill="url(#mG)"/><circle cx="404.0" cy="353.1" r="5.4" fill="url(#mG)"/><circle cx="314.3" cy="353.3" r="5.4" fill="url(#mG)"/><circle cx="391.5" cy="353.8" r="5.4" fill="url(#mG)"/><circle cx="297.9" cy="355.8" r="5.4" fill="url(#mG)"/><circle cx="467.1" cy="357.4" r="5.4" fill="url(#mG)"/><circle cx="280.6" cy="357.4" r="5.4" fill="url(#mG)"/><circle cx="384.7" cy="357.9" r="5.4" fill="url(#mG)"/><circle cx="411.6" cy="357.9" r="5.4" fill="url(#mG)"/><circle cx="432.3" cy="358.5" r="5.4" fill="url(#mG)"/><circle cx="508.8" cy="359.3" r="5.4" fill="url(#mG)"/><circle cx="444.6" cy="359.8" r="5.4" fill="url(#mG)"/><circle cx="337.0" cy="360.1" r="5.4" fill="url(#mG)"/><circle cx="360.5" cy="360.5" r="5.4" fill="url(#mG)"/><circle cx="476.8" cy="360.6" r="5.4" fill="url(#mG)"/><circle cx="394.6" cy="360.7" r="5.4" fill="url(#mG)"/><circle cx="376.5" cy="360.8" r="5.4" fill="url(#mG)"/><circle cx="498.3" cy="360.9" r="5.4" fill="url(#mG)"/><circle cx="325.0" cy="361.1" r="5.4" fill="url(#mG)"/><circle cx="402.3" cy="362.6" r="5.4" fill="url(#mG)"/><circle cx="349.7" cy="363.7" r="5.4" fill="url(#mG)"/><circle cx="351.2" cy="364.3" r="5.4" fill="url(#mG)"/><circle cx="452.9" cy="364.8" r="5.4" fill="url(#mG)"/><circle cx="366.3" cy="366.1" r="5.4" fill="url(#mG)"/><circle cx="380.0" cy="366.3" r="5.4" fill="url(#mG)"/><circle cx="415.2" cy="366.8" r="5.4" fill="url(#mG)"/><circle cx="452.5" cy="367.0" r="5.4" fill="url(#mG)"/><circle cx="480.9" cy="367.2" r="5.4" fill="url(#mG)"/><circle cx="308.9" cy="368.1" r="5.4" fill="url(#mG)"/><circle cx="385.0" cy="368.3" r="5.4" fill="url(#mG)"/><circle cx="396.5" cy="368.6" r="5.4" fill="url(#mG)"/><circle cx="358.4" cy="369.1" r="5.4" fill="url(#mG)"/><circle cx="388.9" cy="373.2" r="5.4" fill="url(#mG)"/><circle cx="498.7" cy="374.3" r="5.4" fill="url(#mG)"/><circle cx="300.5" cy="375.2" r="5.4" fill="url(#mG)"/><circle cx="445.7" cy="376.5" r="5.4" fill="url(#mG)"/><circle cx="484.8" cy="377.1" r="5.4" fill="url(#mG)"/><circle cx="342.9" cy="377.4" r="5.4" fill="url(#mG)"/><circle cx="364.1" cy="379.0" r="5.4" fill="url(#mG)"/><circle cx="320.1" cy="379.1" r="5.4" fill="url(#mG)"/><circle cx="460.5" cy="380.0" r="5.4" fill="url(#mG)"/><circle cx="503.9" cy="382.3" r="5.4" fill="url(#mG)"/><circle cx="493.4" cy="382.9" r="5.4" fill="url(#mG)"/></g><g clip-path="url(#clC)" stroke-linecap="round"><path d="M549 222L548 225M548 225L546 227M546 227L544 226M546 227L543 228M538 232L537 235M537 235L534 235M534 235L531 234M531 234L532 236M531 234L531 232M628 178L631 177M631 177L634 176M634 176L632 174M634 176L632 174M634 176L636 174M636 174L638 171M638 171L636 173M638 171L640 170M638 171L638 168M638 168L639 165M639 165L638 167M639 165L637 166M639 165L639 162M639 162L639 158M639 158L639 156M639 158L640 155M640 155L642 153M642 153L641 149M625 298L622 298M622 298L619 297M619 297L621 298M619 297L617 295M617 295L614 293M614 293L612 292M614 293L616 290M616 290L617 287M617 287L619 286M617 287L616 284M616 284L615 281M615 281L611 281M611 281L608 281M608 281L607 279M608 281L605 282M605 282L602 282M602 282L600 280M602 282L602 286M602 286L601 289M601 289L600 287M534 262L533 265M533 265L532 268M532 268L530 268M532 268L534 270M532 268L535 270M535 270L537 272M537 272L537 275M537 272L537 275M537 272L537 276M535 282L534 285M534 285L534 282M549 284L551 282M553 276L555 273M555 273L556 274M555 273L555 275M555 273L557 271M563 270L566 271M566 271L564 270M566 271L564 270M723 287L726 285M732 284L735 284M735 284L735 281M735 284L738 283M735 284L736 287M736 287L737 290M737 290L737 292M737 290L739 293M739 293L741 295M710 211L713 212M713 212L717 213M717 213L719 215M719 215L722 217M722 217L719 218M722 217L725 217M725 217L728 217M728 217L729 219M728 217L731 217M731 217L735 216M735 216L732 217M735 216L738 216M742 213L742 210M742 210L742 212M742 210L740 210M534 249L536 247M536 247L539 245M539 245L542 244M548 242L551 240M551 240L554 239M554 239L557 238M557 238L556 236M685 223L686 226M688 232L688 236M688 236L691 236M688 236L687 239M687 239L686 242M724 188L722 186M722 186L719 184M719 184L720 182M719 184L721 186M719 184L716 185M711 188L710 191M710 191L712 193M710 191L711 194M711 194L712 198M712 198L712 200M712 198L713 195M712 198L712 201M712 201L712 204M712 204L711 202M712 204L710 204M712 204L710 207M710 207L709 210M709 210L706 209M709 210L707 211M546 214L546 218M546 218L545 221M545 221L546 218M545 221L546 224M546 224L548 226M548 226L546 225M548 226L546 225M548 226L551 227M551 227L554 227M554 227L557 228M554 227L555 230M553 235L550 237M550 237L551 240M551 240L551 243M648 266L644 266M638 267L635 268M635 268L636 271M635 268L632 268M632 268L629 268M629 268L630 271M629 268L631 268M752 236L752 233M752 233L753 230M753 230L752 228M753 230L755 229M753 230L756 229M756 229L759 228M759 228L761 226M759 228L759 225M759 228L762 229M762 229L765 230M765 230L764 228M765 230L766 233M768 239L768 242M768 242L769 245M769 251L767 254M767 254L770 255M695 222L692 224M692 224L689 225M689 225L686 223M686 223L683 221M683 221L683 219M683 221L682 218M682 218L681 215M681 215L683 217M681 215L679 217M681 215L682 212M682 212L684 210M684 210L684 207M638 249L639 246M639 246L640 243M640 243L638 243M640 243L639 240M639 240L638 237M638 237L641 238M638 237L639 234M638 237L635 236M635 236L632 234M632 234L631 236M632 234L631 237M668 229L666 231M666 231L664 234M664 234L664 231M664 234L661 233M658 228L658 225M658 225L656 227M658 225L660 226M658 225L658 222M658 222L657 219M657 219L655 217M657 219L657 216M730 188L731 185M731 185L732 182M732 182L729 180M729 180L726 179M726 179L725 176M726 179L725 176M726 179L724 181M724 181L722 183M722 183L723 186M723 186L723 190M723 190L725 192M723 190L721 191M721 191L718 193M522 289L520 291M520 291L517 293M517 293L519 292M517 293L518 296M518 296L518 299M518 299L516 302M516 302L514 304M514 304L516 304M514 304L510 304M505 307L502 309M670 292L667 292M660 292L657 292M657 292L656 295M656 295L655 298M655 298L656 301M532 236L533 233M533 233L534 229M534 229L532 228M534 229L536 227M536 227L538 225M538 225L536 224M538 225L537 227M538 225L541 222M541 222L543 220M543 220L545 219M543 220L541 217M541 217L539 215M706 249L703 247M697 245L694 245M694 245L691 243M691 243L688 241M688 241L690 238M690 238L691 235M691 235L689 237M675 189L677 186M677 186L679 184M679 184L677 182M679 184L682 183M682 183L685 183M685 183L687 186M691 191L694 193M694 193L695 195M694 193L693 196M693 196L692 199M768 279L765 278M760 278L758 281M758 281L759 284M702 233L705 234M705 234L708 235M708 235L709 237M708 235L706 233M708 235L711 235M711 235L714 236M714 236L713 234M714 236L712 237M714 236L717 236M717 236L721 236M721 236L722 233M726 228L728 226M728 226L730 224M728 226L726 226M532 247L529 247M529 247L526 247M526 247L524 249M526 247L526 250M526 247L523 245M517 242L515 240M515 240L516 238M515 240L516 242M761 290L759 287M759 287L757 285M757 285L759 282M757 285L755 283M755 283L752 281M752 281L750 280M752 281L750 280M752 281L754 278M754 278L755 275M755 275L753 276M755 275L753 272M752 266L752 263M752 263L754 261M754 261L757 258M757 258L759 260M757 258L760 259M561 191L564 190M564 190L567 190M567 190L570 191M570 191L573 193M573 193L570 193M573 193L571 194M573 193L575 195M575 195L576 198M576 198L578 200M576 198L579 200M585 202L588 202M588 202L586 202M588 202L591 199M591 199L593 197M593 197L595 197M593 197L591 197M588 256L586 257M586 257L583 259M583 259L580 257M578 252L578 248M578 248L576 246M578 248L575 247M575 247L572 246M572 246L569 246M572 246L568 246M552 243L555 245M555 245L558 247M558 247L560 246M558 247L559 250M559 250L560 253M560 253L559 256M559 256L557 259M557 259L556 261M557 259L557 262M557 262L556 265M556 265L555 263M556 265L557 263M773 263L776 264M776 264L779 266M779 266L780 264M779 266L779 263M779 266L780 269M779 274L777 277M777 277L775 279M777 277L779 275M777 277L779 279M779 279L781 282M781 282L778 282M781 282L784 283M784 283L787 283M787 283L787 281M703 254L704 251M704 251L705 248M705 248L704 250M705 248L708 246M714 244L717 243M581 254L579 251M579 251L577 249M577 249L574 247M568 245L565 244M565 244L564 246M565 244L567 245M565 244L562 245M562 245L559 247M559 247L557 246M559 247L559 249M559 247L556 248M556 248L553 249M553 249L555 251M611 244L608 244M608 244L605 245M605 245L604 248M604 248L603 251M603 251L604 254M637 279L636 282M633 288L631 290M631 290L631 288M631 290L629 292M631 290L628 292M628 292L625 293M625 293L622 294M625 293L621 293M767 226L764 225M764 225L761 224M761 224L760 226M761 224L759 222M759 222L757 219M757 219L756 217M757 219L758 221M757 219L758 216M758 216L759 213M759 213L761 211M759 213L761 211M761 211L763 208M763 208L762 210M763 208L762 206M763 208L766 208M636 258L634 256M634 256L632 253M632 253L630 251M630 251L627 249M627 249L625 247M625 247L623 244M623 244L620 243M620 243L617 242M617 242L617 244M617 242L615 244M615 244L612 245M612 245L609 245M609 245L606 244M606 244L604 242M606 244L605 241M605 241L604 238M652 271L654 273M654 273L657 275M657 275L656 273M657 275L658 278M662 282L665 283M665 283L668 284M665 283L668 285M668 285L671 287M671 287L671 290M724 181L725 185M725 191L725 194M725 194L727 192M725 194L723 195M725 194L725 198M725 198L724 201M724 201L727 200M724 201L721 202M715 201L713 199M604 227L601 225M601 225L598 224M598 224L595 224M595 224L592 225M592 225L594 225M592 225L589 225M592 225L591 228M717 254L719 252M719 252L721 249M721 249L723 247M724 241L723 238M723 238L720 239M542 269L542 266M539 260L537 258M537 258L539 259M537 258L539 257M537 258L535 256M535 256L533 253M533 253L531 250M531 250L530 247M530 247L531 245M550 255L548 252M546 246L546 243M546 243L549 242M546 243L548 240M552 238L556 239M556 239L557 237M556 239L559 239M559 239L562 240M562 240L564 238M562 240L564 238M562 240L563 243M565 249L566 252M566 252L568 253M566 252L567 249M603 284L605 286M608 291L609 294M609 294L611 293M609 294L610 297M647 205L644 207M638 208L634 207M634 207L636 209M634 207L633 205M634 207L633 210M633 210L631 213M631 213L632 215M631 213L633 211M631 213L628 212M628 212L625 211M625 211L623 214M623 214L621 216M621 216L621 214M621 216L620 219M621 216L618 217M618 217L615 218M615 218L613 215M613 215L611 212M611 212L610 210M611 212L612 214M743 182L740 182M740 182L737 182M737 182L735 184M737 182L735 180M734 174L734 171M734 171L737 171M734 171L737 168M737 168L739 166M739 166L743 166M743 166L746 167M591 185L594 186M597 190L598 193M598 193L597 195M598 193L599 196M599 203L598 206M598 206L599 208M598 206L599 208M598 206L597 209M593 214L590 216M590 216L592 214M590 216L588 215M696 245L695 242M695 242L693 239M693 239L690 238M690 238L687 237M687 237L690 236M687 237L690 237M687 237L684 236M680 232L678 229M678 229L676 228M678 229L677 227M678 229L680 226M680 226L682 224M557 217L560 220M560 220L562 222M562 222L560 224M562 222L565 224M565 224L568 225M568 225L565 226M568 225L567 223M568 225L571 224M571 224L574 224M530 234L527 234M527 234L523 234M523 234L521 236M523 234L520 235M520 235L517 236M517 236L519 238M517 236L517 239M517 236L515 239M513 244L514 247M514 247L513 250M513 250L512 253M512 253L511 256M511 256L511 260M599 290L598 287M598 287L596 284M596 284L594 281M594 281L592 279M592 279L591 281M592 279L589 278M589 278L586 277M586 277L587 279M586 277L586 274M586 274L586 271M586 271L588 269M770 299L768 296M768 296L766 293M766 293L764 292M764 292L761 290M761 290L759 289M761 290L762 287M762 287L762 284M762 284L761 282M762 284L760 283M755 283L753 286M753 286L755 285M753 286L754 288M753 286L753 289M654 274L658 274M658 274L661 274M661 274L662 272M661 274L658 275M661 274L663 272M663 272L665 269M665 269L667 267M667 267L670 265M670 265L672 266M672 266L675 267M675 267L674 266M675 267L676 265M675 267L678 265M678 265L680 262M680 262L682 264M680 262L682 261M680 262L678 259M727 275L724 277M724 277L722 279M722 279L721 282M722 279L724 278M722 279L723 282M723 282L725 285M725 285L723 288M723 288L722 291M722 291L722 288M745 194L742 194M737 191L735 188M735 188L734 191M735 188L737 186M737 186L739 183M739 183L740 181M739 183L739 180M739 180L740 177M740 177L739 179M769 202L766 200M761 196L759 194M759 194L758 191M759 194L756 194M756 194L753 195M730 265L733 267M737 271L738 274M738 274L740 275M738 274L740 272M738 274L740 277M740 277L742 279M742 279L745 279M745 279L748 279M748 279L747 277M748 279L751 278M758 278L761 279M761 279L762 277M761 279L761 282M761 282L761 286M761 286L763 287M594 254L594 258M591 262L588 262M588 262L589 265M588 262L589 264M588 262L585 263M585 263L582 264M582 264L580 262M582 264L578 264M578 264L575 265M756 230L753 231M753 231L750 232M750 232L752 233M750 232L747 233M741 233L738 232M738 232L739 230M738 232L740 232M738 232L735 231M735 231L732 230M732 230L732 227M732 227L732 223M732 223L731 221M774 209L776 206M776 206L777 203M777 203L779 204M777 203L775 202M777 203L775 201M775 201L773 198M773 198L773 196M773 198L773 195M773 195L773 192M773 192L773 194M773 192L775 190M775 190L777 187M777 187L779 185M777 187L779 187M777 187L779 185M779 185L781 182M781 182L784 182M736 267L739 267M739 267L742 267M742 267L745 268M745 268L748 269M748 269L751 268M756 265L756 262M756 262L758 259M756 262L758 264M756 262L757 258M757 258L758 255M758 255L759 252M759 252L761 250M761 250L761 247M631 289L628 290M628 290L625 292M625 292L622 292M625 292L623 294M623 294L620 296M620 296L622 298M620 296L620 294M620 296L620 300M620 300L621 303M621 303L623 303M621 303L620 306M620 306L619 309M619 309L622 310M654 180L653 177M653 177L652 174M652 174L652 171M652 174L650 172M646 167L646 164M646 164L648 164M646 164L648 162M646 164L645 161M645 161L645 157M645 157L644 155M645 157L645 155M645 157L647 155M647 155L650 153M650 153L653 152M653 152L656 151M656 151L657 149M656 151L658 148M658 148L660 146M660 146L657 146M622 260L622 257M622 257L623 253M623 253L625 253M623 253L623 250M623 250L623 247M623 247L621 244M621 244L619 242M714 186L717 184M717 184L720 183M720 183L719 180M721 174L723 171M723 171L721 173M723 171L723 168M723 168L724 165M724 165L721 164M721 164L718 162M718 162L719 159M719 159L720 156M720 156L720 153M618 217L616 220M612 225L610 228M610 228L612 230M610 228L608 230M608 230L606 233M606 233L604 232M606 233L608 234M606 233L603 232M603 232L599 232M599 232L599 229M599 232L597 231M591 231L588 233M775 211L778 212M782 216L782 219M782 219L784 221M782 219L780 221M774 224L771 224M771 224L772 227M771 224L772 222M771 224L769 222M769 222L766 220M766 220L768 219M766 220L765 218M766 220L765 217M765 212L767 209M767 209L770 209M580 271L578 269M578 269L576 266M576 266L574 263M574 263L573 261M573 261L573 258M573 261L571 263M573 261L571 258M571 258L570 255M570 255L568 255M672 275L674 272M679 270L682 271M682 271L680 270M682 271L685 273M685 273L687 275M687 275L688 273M687 275L690 275M690 275L694 276M694 276L695 273M695 273L697 270M697 270L694 269M697 270L695 268M594 218L592 216M592 216L589 214M589 214L587 215M589 214L587 212M589 214L591 211M591 211L592 208M592 208L592 210M592 208L594 208M592 208L594 205M594 205L596 203M596 203L595 200M596 203L595 200M596 203L597 200M544 250L545 247M545 247L546 244M546 244L546 241M546 244L548 242M549 237L548 234M548 234L546 232M548 234L547 232M548 234L548 230M545 225L543 222M543 222L545 219M545 219L546 216M546 216L545 214M546 216L548 218M546 216L549 214M708 206L711 207M711 207L714 208M714 208L716 205M716 205L719 203M719 203L719 200M719 203L718 201M719 203L721 201M721 201L724 199M724 199L727 198M733 195L735 193M572 249L571 246M571 246L569 243M569 243L568 241M569 243L567 244M569 243L566 242M562 238L560 235M560 235L562 237M560 235L558 235M560 235L560 232M562 226L564 223M564 223L562 225M564 223L565 226M568 294L567 297M568 303L570 306M570 306L569 304M570 306L573 305M579 305L583 306M583 306L580 307M583 306L582 304M573 284L572 286M572 286L570 289M570 289L572 288M570 289L571 292M570 289L570 293M570 293L570 296M570 296L572 297M570 296L567 298M567 298L565 300M565 300L564 298M565 300L562 300M565 300L564 303M564 303L563 306M563 306L561 304M563 306L565 305M593 270L592 267M592 267L591 264M591 264L591 266M591 264L588 263M588 263L584 262M584 262L581 260M581 260L579 259M579 259L577 256M577 256L576 253M576 253L575 255M576 253L573 252M620 218L617 218M617 218L614 217M614 217L613 215M614 217L611 216M611 216L608 215M608 215L605 214M608 215L607 217M608 215L604 214M604 214L601 214M601 214L599 214M649 223L652 221M652 221L655 220M655 220L654 218M655 220L654 222M655 220L659 220M659 220L662 220M662 220L664 219M662 220L664 223M664 223L666 225M666 225L663 227M666 225L668 225M666 225L669 225M669 225L672 224M672 224L674 227M674 227L677 229M521 267L521 271M521 271L521 274M521 274L519 275M521 274L521 277M520 283L519 287M519 287L517 287M519 287L518 290M518 290L517 293M629 198L627 196M627 196L624 194M624 194L622 192M624 194L624 191M624 194L622 191M622 191L620 189M620 189L619 186M620 189L618 187M620 189L617 190M617 190L614 192M614 192L616 193M577 207L578 204M578 204L579 201M579 201L582 201M579 201L581 198M581 198L582 195M582 195L585 194M591 192L594 191M594 191L595 194M547 287L548 290M548 290L548 294M548 294L550 295M548 294L545 295M545 295L543 297M543 297L543 295M543 297L543 300M666 247L669 246M669 246L672 246M672 246L675 248M675 248L677 251M677 251L679 252M677 251L678 248M677 251L675 253M675 253L674 256M674 256L676 257M674 256L671 258M522 228L519 229M519 229L516 230M516 230L517 232M516 230L518 229M516 230L513 229M513 229L510 228M510 228L512 228M510 228L508 225M508 225L505 223M505 223L502 223M502 223L499 223M499 223L497 221M570 251L570 248M570 248L570 245M570 245L573 245M570 245L574 244M579 246L581 249M581 249L578 249M581 249L584 250M635 242L636 245M636 245L637 248M637 248L635 250M635 250L632 252M632 252L634 254M632 252L632 255M632 252L630 255M630 255L629 258M629 258L631 257M629 258L627 261M627 266L629 269M629 269L628 272M541 212L544 211M544 211L547 210M547 210L545 208M547 210L548 212M547 210L550 208M550 208L552 205M552 205L550 205M552 205L552 203M552 205L554 203M554 197L553 194M553 194L551 196M553 194L551 192M676 281L679 281M679 281L682 281M682 281L684 283M682 281L684 280M682 281L685 280M688 275L689 272M737 275L733 275M729 279L728 282M728 282L728 280M728 282L728 280M728 282L725 283M725 283L722 284M722 284L724 285M722 284L724 283M727 246L726 249M723 255L721 258M721 258L724 258M721 258L718 258M718 258L715 258M715 258L717 259M715 258L714 256M715 258L712 260M712 260L709 261M709 261L710 264M709 261L707 261M667 179L665 182M664 187L665 190M665 190L668 192M668 192L670 194M670 194L668 195M670 194L669 197M670 194L671 198M671 198L671 201M671 201L669 202M671 201L674 201M674 201L678 202M678 202L678 205M761 296L759 299M759 299L757 301M757 301L760 301M757 301L756 304M756 304L755 308M755 308L757 306M755 308L756 305M755 308L757 310M757 310L760 312M760 312L762 314M760 312L762 314M762 314L765 316M765 316L763 317M765 316L766 318M765 316L768 314M768 314L771 312M771 312L773 310M771 312L774 312M774 312L777 311M777 311L775 311M622 222L624 220M626 215L626 212M626 212L629 211M626 212L628 209M628 203L627 200M627 200L624 198M624 198L621 196M621 196L620 198M621 196L619 196M621 196L619 194M619 194L617 192M617 192L615 194M617 192L618 194M738 220L741 219M741 219L744 218M744 218L747 216M747 216L749 213M749 213L752 213M752 213L755 212M755 212L757 211M755 212L758 212M758 212L762 213M594 197L595 200M595 206L594 209M594 209L594 212M594 209L594 207M594 209L592 211M586 213L583 214M583 214L584 212M658 273L657 276M657 276L656 279M656 279L653 281M653 281L651 284M651 284L649 282M651 284L648 284M648 284L645 285M645 285L644 288M640 291L636 291M636 291L634 294M634 294L632 296M632 296L634 295M632 296L630 296M632 296L629 298M629 298L626 299M626 299L624 298M626 299L625 302M608 234L608 231M605 225L604 222M604 222L606 222M604 222L605 219M605 219L606 216M606 216L607 219M606 216L608 213M608 213L609 210M609 210L608 207M608 207L606 204M606 204L607 202M606 204L604 202M604 202L601 201M601 201L599 198M550 289L551 286M551 286L552 283M552 283L554 284M552 283L551 280M552 274L554 271M554 271L555 273M554 271L555 268M555 268L556 265M556 265L558 264M556 265L557 262M557 262L558 259M558 259L557 261M558 259L561 258M561 258L565 257M565 257L563 255M565 257L562 258M565 257L568 258M568 258L571 259M571 259L573 258M571 259L569 257M720 265L721 268M720 274L718 276M718 276L718 279M718 279L718 283M718 283L722 283M722 283L725 283M725 283L727 286M727 292L725 294M725 294L725 292M725 294L727 293M639 208L638 211M638 211L638 214M638 214L640 216M638 214L636 216M630 216L627 215M627 215L629 214M627 215L624 216M627 215L625 218M532 230L534 233M534 233L536 235M536 235L536 233M536 235L539 237M539 237L542 238M542 238L540 236M542 238L545 240M547 245L546 248M546 248L543 248M543 248L540 249M550 255L547 257M547 257L545 259M545 259L542 261M542 261L540 263M540 263L537 262M540 263L537 262M531 261L528 263M528 263L527 265M528 263L530 262M594 203L597 205M597 205L600 207M600 207L601 209M600 207L598 207M600 207L601 210M601 210L603 213M603 213L604 215M619 283L620 285M620 285L622 288M622 288L624 288M622 288L620 291M620 291L618 294M618 294L620 297M620 297L621 300M621 300L620 298M621 300L619 298M621 300L620 302M620 302L618 305M618 305L620 307M618 305L618 308M618 305L617 308M617 308L616 312M674 200L677 200M677 200L680 200M680 200L683 200M680 200L682 202M680 200L682 203M682 203L683 206M683 206L685 206M683 206L685 208M567 215L569 218M569 218L571 220M571 220L569 219M571 220L574 219M574 219L577 218M577 218L576 221M577 218L575 219M577 218L579 221M584 223L587 222M587 222L590 220M590 220L593 219M593 219L593 217M664 265L662 262M662 262L661 259M661 259L658 260M658 260L654 260M654 260L652 259M654 260L652 258M652 258L649 256M649 256L648 254M649 256L649 258M649 256L646 256M646 256L643 257M757 205L756 208M756 208L756 211M756 211L757 214M756 211L756 215M756 215L756 218M756 218L754 220M756 218L754 220M754 220L751 222M751 222L748 222M748 222L745 222M745 222L745 224M745 222L742 220M738 216L737 213M737 213L735 211M737 213L738 215M740 202L738 199M738 199L737 196M737 196L739 198M737 196L734 197M729 200L727 202M727 202L724 202M727 202L727 206M727 206L726 209M726 209L729 209M726 209L729 211M730 216L729 219M729 219L731 221M731 221L734 223M734 223L736 224M720 289L723 287M728 287L731 288M731 288L729 287M731 288L730 290M731 288L734 287M734 287L737 286M737 286L740 284M740 284L742 282M742 282L741 284M742 282L741 284M742 282L741 279M741 279L740 276M532 228L529 230M525 234L524 238M524 238L522 237M524 238L527 240M532 244L535 245M691 270L688 271M688 271L685 272M685 272L682 271M682 271L679 269M679 269L676 271M676 271L674 273M674 273L673 271M674 273L671 272M671 272L668 270M668 270L667 267M735 229L733 232M733 232L731 234M731 234L729 234M731 234L729 234M731 234L733 237M733 237L735 239M735 239L734 237M735 239L733 242M733 242L732 245M732 245L733 243M732 245L728 245M723 248L721 250M721 250L718 249M718 249L715 247M715 247L717 245M715 247L712 247M622 237L625 237M625 237L628 237M628 237L629 235M628 237L631 239M631 239L633 241M633 241L633 238M633 241L633 243M633 241L636 241M636 241L640 241M640 241L643 240M643 240L646 239M646 239L646 241M646 239L648 237M646 239L649 239M649 239L652 239M652 239L655 237M655 237L657 235M634 195L631 196M631 196L627 197M627 197L626 195M627 197L628 199M627 197L625 199M621 204L619 206M619 206L616 206M719 237L716 239M711 243L708 245M708 245L709 247M708 245L710 247M708 245L706 248M706 248L704 250M704 250L707 251M704 250L705 248M577 206L579 204M579 204L581 201M581 201L581 198M581 198L580 195M580 195L581 193M580 195L577 195M577 195L574 194M574 194L570 195M570 195L567 195M567 195L565 196M567 195L568 198M567 195L566 192M566 192L564 190M564 190L562 191M564 190L566 190M621 229L619 231M619 231L616 233M616 233L617 235M616 233L613 234M607 237L605 239M702 270L700 268M700 268L698 266M698 266L694 266M694 266L691 267M691 267L688 267M688 267L685 268M685 268L686 266M685 268L683 269M685 268L682 270M682 270L680 272M680 272L678 271M680 272L678 274M678 274L676 277M630 207L632 205M632 205L634 203M634 203L633 200M634 203L637 201M637 201L639 199M639 199L642 201M642 201L645 203M645 203L645 200M645 203L646 205M645 203L645 206M624 241L621 243M621 243L618 244M618 244L619 242M618 244L617 242M618 244L618 247M614 252L611 253M611 253L609 251M609 251L606 249M606 249L603 250M603 250L600 251M600 251L598 249M768 296L771 294M771 294L774 292M774 292L776 290M776 290L779 288M779 288L781 289M779 288L782 287M782 287L784 285M784 285L782 284M681 269L684 268M684 268L687 266M687 266L690 264M690 264L692 262M692 262L693 265M692 262L691 260M692 262L696 263M696 263L699 263M699 263L701 265M705 271L706 273M706 273L707 276M604 212L608 213M608 213L611 214M611 214L612 216M611 214L612 211M614 205L615 201M615 201L615 204M615 201L613 203M583 294L580 294M580 294L577 294M577 294L578 292M577 294L579 294M577 294L573 293M573 293L570 293M570 293L573 293M570 293L569 296M569 296L568 299M568 299L570 299M568 299L566 301M568 299L565 301M565 301L562 302M562 302L561 301M562 302L563 306M563 306L563 309M563 309L560 311M560 311L558 313M676 250L676 253M674 259L673 262M673 262L673 266M673 266L673 269M673 269L673 271M673 269L675 271M675 271L677 274M677 274L675 272M677 274L677 276M677 274L680 272M686 270L689 268M689 268L689 265M689 265L689 262M689 262L687 260M689 262L687 261M521 249L521 252M523 257L526 259M526 259L528 257M526 259L526 262M526 262L526 265M526 265L523 267M581 296L582 299M582 299L583 302M583 302L581 304M583 302L580 303M583 302L586 304M586 304L589 305M589 305L590 307M589 305L588 307M589 305L592 304M592 304L595 303M595 303L597 301M595 303L598 302M598 302L601 301M601 301L604 302M604 302L607 304M607 304L609 303M671 283L669 286M669 286L667 288M667 288L664 289M667 288L664 288M667 288L663 289M663 289L660 290M660 290L658 288M660 290L658 287M629 266L629 269M629 269L629 272M629 272L627 274M629 272L631 275M631 275L632 278M632 278L630 278M632 278L632 281M632 281L631 284M631 284L631 282M631 284L634 286M639 290L642 291M642 291L642 295M639 299L636 300M636 300L634 302M699 272L698 275M698 275L698 279M698 279L697 282M697 282L696 285M696 285L697 287M696 285L694 287M696 285L693 286M693 286L690 287M690 287L689 289M690 287L688 290M702 193L699 191M699 191L697 190M697 190L694 188M694 188L691 186M691 186L689 188M686 193L685 197M685 197L683 195M685 197L682 198M682 198L679 199M679 199L677 200M679 199L682 198M679 199L679 202M679 202L679 206M679 206L677 208M677 208L676 211M676 211L674 209M560 230L562 233M566 237L569 239M569 239L569 237M569 239L568 242M569 239L568 242M568 242L567 245M567 245L569 247M567 245L567 249M567 249L568 252M568 252L569 250M698 202L697 199M697 199L696 196M696 196L693 194M693 194L691 192M691 192L689 191M691 192L688 191M688 191L685 190M685 190L687 188M632 198L629 199M629 199L626 200M626 200L624 203M624 203L623 206M623 206L620 206M623 206L623 203M623 206L625 208M625 208L628 210M628 210L626 212M628 210L630 210M544 249L546 251M548 257L547 260M547 260L546 262M547 260L545 258M547 260L546 263M663 286L660 284M655 280L653 278M653 278L655 277M653 278L656 278M653 278L652 275M648 271L645 270M645 270L646 273M645 270L647 272M645 270L643 273M640 278L639 281M639 281L640 283M639 281L639 284M639 281L637 284M671 198L673 195M673 195L674 192M674 192L672 193M674 192L673 190M674 192L677 190M677 190L679 187M679 187L678 190M679 187L676 188M679 187L682 187M682 187L685 187M685 187L683 188M590 281L590 278M592 272L594 269M594 269L597 268M597 268L600 267M600 267L598 268M600 267L603 269M603 269L606 271M586 258L589 255M589 255L591 253M591 253L592 251M591 253L589 254M591 253L592 250M596 245L598 243M598 243L598 246M598 243L600 240M600 240L601 237M601 237L603 238M601 237L601 240M576 276L573 274M573 274L570 272M570 272L571 270M570 272L569 269M564 265L561 264M561 264L559 266M561 264L561 262M561 264L561 261M561 261L561 258M561 258L561 255M561 258L560 255M560 255L559 251M559 251L562 252M559 251L558 249M559 251L562 249M562 249L564 246M564 246L563 243M563 243L563 240M563 240L566 239M563 240L563 242M555 290L553 292M553 292L552 295M552 295L554 296M552 295L549 296M543 299L540 301M540 301L542 299M540 301L539 303M540 301L541 304M605 249L603 246M603 246L601 244M601 244L603 242M601 244L602 241M601 244L598 242M598 242L596 240M596 240L596 236M596 236L597 233M597 233L598 235M597 233L597 231M597 233L595 230M593 224L592 221M592 221L594 220M529 251L532 249M532 249L535 247M535 247L536 249M535 247L534 243M534 243L534 240M534 240L532 241M534 240L534 238M534 240L531 239M526 239L523 241M523 241L526 241M523 241L526 240M523 241L522 244M522 244L521 247M581 218L579 221M579 221L577 223M577 223L574 223M574 223L571 223M571 223L568 222M571 223L568 223M571 223L568 220M566 215L567 212M567 212L566 209M567 212L568 214M567 212L564 210M564 210L561 208M561 208L562 206M561 208L564 209M561 208L559 210M559 210L556 212M556 212L553 214M553 214L550 215M550 215L548 215M720 290L721 287M721 287L722 284M722 284L721 281M717 277L714 277M714 277L712 276M714 277L716 279M714 277L711 279M711 279L708 281M708 281L709 284M709 284L709 287M709 287L709 290M709 290L708 293M708 293L708 291M708 293L711 294M708 293L707 296M749 196L745 196M745 196L742 195M742 195L741 192M742 187L744 186M744 186L743 182M742 176L742 173M742 173L744 171M629 219L632 219M639 220L642 220M642 220L644 221M642 220L642 223M642 220L645 219M645 219L648 218M750 261L747 259M742 255L740 253M740 253L737 255M737 255L735 257M735 257L736 255M735 257L737 256M735 257L737 260M737 260L738 263M738 263L736 264M738 263L741 263M747 264L750 265M750 265L748 266M572 205L569 205M569 205L566 205M566 205L563 203M563 203L561 201M561 201L559 198M559 198L558 195M558 195L557 198M558 195L556 197M558 195L559 192M559 192L561 189M750 250L754 249M754 249L757 248M757 248L758 245M762 241L764 239M764 239L765 236M764 239L763 236M764 239L767 237" stroke="#686868" stroke-width="3.4"/><path d="M549 222L548 225M548 225L546 227M546 227L544 226M546 227L543 228M538 232L537 235M537 235L534 235M534 235L531 234M531 234L532 236M531 234L531 232M628 178L631 177M631 177L634 176M634 176L632 174M634 176L632 174M634 176L636 174M636 174L638 171M638 171L636 173M638 171L640 170M638 171L638 168M638 168L639 165M639 165L638 167M639 165L637 166M639 165L639 162M639 162L639 158M639 158L639 156M639 158L640 155M640 155L642 153M642 153L641 149M625 298L622 298M622 298L619 297M619 297L621 298M619 297L617 295M617 295L614 293M614 293L612 292M614 293L616 290M616 290L617 287M617 287L619 286M617 287L616 284M616 284L615 281M615 281L611 281M611 281L608 281M608 281L607 279M608 281L605 282M605 282L602 282M602 282L600 280M602 282L602 286M602 286L601 289M601 289L600 287M534 262L533 265M533 265L532 268M532 268L530 268M532 268L534 270M532 268L535 270M535 270L537 272M537 272L537 275M537 272L537 275M537 272L537 276M535 282L534 285M534 285L534 282M549 284L551 282M553 276L555 273M555 273L556 274M555 273L555 275M555 273L557 271M563 270L566 271M566 271L564 270M566 271L564 270M723 287L726 285M732 284L735 284M735 284L735 281M735 284L738 283M735 284L736 287M736 287L737 290M737 290L737 292M737 290L739 293M739 293L741 295M710 211L713 212M713 212L717 213M717 213L719 215M719 215L722 217M722 217L719 218M722 217L725 217M725 217L728 217M728 217L729 219M728 217L731 217M731 217L735 216M735 216L732 217M735 216L738 216M742 213L742 210M742 210L742 212M742 210L740 210M534 249L536 247M536 247L539 245M539 245L542 244M548 242L551 240M551 240L554 239M554 239L557 238M557 238L556 236M685 223L686 226M688 232L688 236M688 236L691 236M688 236L687 239M687 239L686 242M724 188L722 186M722 186L719 184M719 184L720 182M719 184L721 186M719 184L716 185M711 188L710 191M710 191L712 193M710 191L711 194M711 194L712 198M712 198L712 200M712 198L713 195M712 198L712 201M712 201L712 204M712 204L711 202M712 204L710 204M712 204L710 207M710 207L709 210M709 210L706 209M709 210L707 211M546 214L546 218M546 218L545 221M545 221L546 218M545 221L546 224M546 224L548 226M548 226L546 225M548 226L546 225M548 226L551 227M551 227L554 227M554 227L557 228M554 227L555 230M553 235L550 237M550 237L551 240M551 240L551 243M648 266L644 266M638 267L635 268M635 268L636 271M635 268L632 268M632 268L629 268M629 268L630 271M629 268L631 268M752 236L752 233M752 233L753 230M753 230L752 228M753 230L755 229M753 230L756 229M756 229L759 228M759 228L761 226M759 228L759 225M759 228L762 229M762 229L765 230M765 230L764 228M765 230L766 233M768 239L768 242M768 242L769 245M769 251L767 254M767 254L770 255M695 222L692 224M692 224L689 225M689 225L686 223M686 223L683 221M683 221L683 219M683 221L682 218M682 218L681 215M681 215L683 217M681 215L679 217M681 215L682 212M682 212L684 210M684 210L684 207M638 249L639 246M639 246L640 243M640 243L638 243M640 243L639 240M639 240L638 237M638 237L641 238M638 237L639 234M638 237L635 236M635 236L632 234M632 234L631 236M632 234L631 237M668 229L666 231M666 231L664 234M664 234L664 231M664 234L661 233M658 228L658 225M658 225L656 227M658 225L660 226M658 225L658 222M658 222L657 219M657 219L655 217M657 219L657 216M730 188L731 185M731 185L732 182M732 182L729 180M729 180L726 179M726 179L725 176M726 179L725 176M726 179L724 181M724 181L722 183M722 183L723 186M723 186L723 190M723 190L725 192M723 190L721 191M721 191L718 193M522 289L520 291M520 291L517 293M517 293L519 292M517 293L518 296M518 296L518 299M518 299L516 302M516 302L514 304M514 304L516 304M514 304L510 304M505 307L502 309M670 292L667 292M660 292L657 292M657 292L656 295M656 295L655 298M655 298L656 301M532 236L533 233M533 233L534 229M534 229L532 228M534 229L536 227M536 227L538 225M538 225L536 224M538 225L537 227M538 225L541 222M541 222L543 220M543 220L545 219M543 220L541 217M541 217L539 215M706 249L703 247M697 245L694 245M694 245L691 243M691 243L688 241M688 241L690 238M690 238L691 235M691 235L689 237M675 189L677 186M677 186L679 184M679 184L677 182M679 184L682 183M682 183L685 183M685 183L687 186M691 191L694 193M694 193L695 195M694 193L693 196M693 196L692 199M768 279L765 278M760 278L758 281M758 281L759 284M702 233L705 234M705 234L708 235M708 235L709 237M708 235L706 233M708 235L711 235M711 235L714 236M714 236L713 234M714 236L712 237M714 236L717 236M717 236L721 236M721 236L722 233M726 228L728 226M728 226L730 224M728 226L726 226M532 247L529 247M529 247L526 247M526 247L524 249M526 247L526 250M526 247L523 245M517 242L515 240M515 240L516 238M515 240L516 242M761 290L759 287M759 287L757 285M757 285L759 282M757 285L755 283M755 283L752 281M752 281L750 280M752 281L750 280M752 281L754 278M754 278L755 275M755 275L753 276M755 275L753 272M752 266L752 263M752 263L754 261M754 261L757 258M757 258L759 260M757 258L760 259M561 191L564 190M564 190L567 190M567 190L570 191M570 191L573 193M573 193L570 193M573 193L571 194M573 193L575 195M575 195L576 198M576 198L578 200M576 198L579 200M585 202L588 202M588 202L586 202M588 202L591 199M591 199L593 197M593 197L595 197M593 197L591 197M588 256L586 257M586 257L583 259M583 259L580 257M578 252L578 248M578 248L576 246M578 248L575 247M575 247L572 246M572 246L569 246M572 246L568 246M552 243L555 245M555 245L558 247M558 247L560 246M558 247L559 250M559 250L560 253M560 253L559 256M559 256L557 259M557 259L556 261M557 259L557 262M557 262L556 265M556 265L555 263M556 265L557 263M773 263L776 264M776 264L779 266M779 266L780 264M779 266L779 263M779 266L780 269M779 274L777 277M777 277L775 279M777 277L779 275M777 277L779 279M779 279L781 282M781 282L778 282M781 282L784 283M784 283L787 283M787 283L787 281M703 254L704 251M704 251L705 248M705 248L704 250M705 248L708 246M714 244L717 243M581 254L579 251M579 251L577 249M577 249L574 247M568 245L565 244M565 244L564 246M565 244L567 245M565 244L562 245M562 245L559 247M559 247L557 246M559 247L559 249M559 247L556 248M556 248L553 249M553 249L555 251M611 244L608 244M608 244L605 245M605 245L604 248M604 248L603 251M603 251L604 254M637 279L636 282M633 288L631 290M631 290L631 288M631 290L629 292M631 290L628 292M628 292L625 293M625 293L622 294M625 293L621 293M767 226L764 225M764 225L761 224M761 224L760 226M761 224L759 222M759 222L757 219M757 219L756 217M757 219L758 221M757 219L758 216M758 216L759 213M759 213L761 211M759 213L761 211M761 211L763 208M763 208L762 210M763 208L762 206M763 208L766 208M636 258L634 256M634 256L632 253M632 253L630 251M630 251L627 249M627 249L625 247M625 247L623 244M623 244L620 243M620 243L617 242M617 242L617 244M617 242L615 244M615 244L612 245M612 245L609 245M609 245L606 244M606 244L604 242M606 244L605 241M605 241L604 238M652 271L654 273M654 273L657 275M657 275L656 273M657 275L658 278M662 282L665 283M665 283L668 284M665 283L668 285M668 285L671 287M671 287L671 290M724 181L725 185M725 191L725 194M725 194L727 192M725 194L723 195M725 194L725 198M725 198L724 201M724 201L727 200M724 201L721 202M715 201L713 199M604 227L601 225M601 225L598 224M598 224L595 224M595 224L592 225M592 225L594 225M592 225L589 225M592 225L591 228M717 254L719 252M719 252L721 249M721 249L723 247M724 241L723 238M723 238L720 239M542 269L542 266M539 260L537 258M537 258L539 259M537 258L539 257M537 258L535 256M535 256L533 253M533 253L531 250M531 250L530 247M530 247L531 245M550 255L548 252M546 246L546 243M546 243L549 242M546 243L548 240M552 238L556 239M556 239L557 237M556 239L559 239M559 239L562 240M562 240L564 238M562 240L564 238M562 240L563 243M565 249L566 252M566 252L568 253M566 252L567 249M603 284L605 286M608 291L609 294M609 294L611 293M609 294L610 297M647 205L644 207M638 208L634 207M634 207L636 209M634 207L633 205M634 207L633 210M633 210L631 213M631 213L632 215M631 213L633 211M631 213L628 212M628 212L625 211M625 211L623 214M623 214L621 216M621 216L621 214M621 216L620 219M621 216L618 217M618 217L615 218M615 218L613 215M613 215L611 212M611 212L610 210M611 212L612 214M743 182L740 182M740 182L737 182M737 182L735 184M737 182L735 180M734 174L734 171M734 171L737 171M734 171L737 168M737 168L739 166M739 166L743 166M743 166L746 167M591 185L594 186M597 190L598 193M598 193L597 195M598 193L599 196M599 203L598 206M598 206L599 208M598 206L599 208M598 206L597 209M593 214L590 216M590 216L592 214M590 216L588 215M696 245L695 242M695 242L693 239M693 239L690 238M690 238L687 237M687 237L690 236M687 237L690 237M687 237L684 236M680 232L678 229M678 229L676 228M678 229L677 227M678 229L680 226M680 226L682 224M557 217L560 220M560 220L562 222M562 222L560 224M562 222L565 224M565 224L568 225M568 225L565 226M568 225L567 223M568 225L571 224M571 224L574 224M530 234L527 234M527 234L523 234M523 234L521 236M523 234L520 235M520 235L517 236M517 236L519 238M517 236L517 239M517 236L515 239M513 244L514 247M514 247L513 250M513 250L512 253M512 253L511 256M511 256L511 260M599 290L598 287M598 287L596 284M596 284L594 281M594 281L592 279M592 279L591 281M592 279L589 278M589 278L586 277M586 277L587 279M586 277L586 274M586 274L586 271M586 271L588 269M770 299L768 296M768 296L766 293M766 293L764 292M764 292L761 290M761 290L759 289M761 290L762 287M762 287L762 284M762 284L761 282M762 284L760 283M755 283L753 286M753 286L755 285M753 286L754 288M753 286L753 289M654 274L658 274M658 274L661 274M661 274L662 272M661 274L658 275M661 274L663 272M663 272L665 269M665 269L667 267M667 267L670 265M670 265L672 266M672 266L675 267M675 267L674 266M675 267L676 265M675 267L678 265M678 265L680 262M680 262L682 264M680 262L682 261M680 262L678 259M727 275L724 277M724 277L722 279M722 279L721 282M722 279L724 278M722 279L723 282M723 282L725 285M725 285L723 288M723 288L722 291M722 291L722 288M745 194L742 194M737 191L735 188M735 188L734 191M735 188L737 186M737 186L739 183M739 183L740 181M739 183L739 180M739 180L740 177M740 177L739 179M769 202L766 200M761 196L759 194M759 194L758 191M759 194L756 194M756 194L753 195M730 265L733 267M737 271L738 274M738 274L740 275M738 274L740 272M738 274L740 277M740 277L742 279M742 279L745 279M745 279L748 279M748 279L747 277M748 279L751 278M758 278L761 279M761 279L762 277M761 279L761 282M761 282L761 286M761 286L763 287M594 254L594 258M591 262L588 262M588 262L589 265M588 262L589 264M588 262L585 263M585 263L582 264M582 264L580 262M582 264L578 264M578 264L575 265M756 230L753 231M753 231L750 232M750 232L752 233M750 232L747 233M741 233L738 232M738 232L739 230M738 232L740 232M738 232L735 231M735 231L732 230M732 230L732 227M732 227L732 223M732 223L731 221M774 209L776 206M776 206L777 203M777 203L779 204M777 203L775 202M777 203L775 201M775 201L773 198M773 198L773 196M773 198L773 195M773 195L773 192M773 192L773 194M773 192L775 190M775 190L777 187M777 187L779 185M777 187L779 187M777 187L779 185M779 185L781 182M781 182L784 182M736 267L739 267M739 267L742 267M742 267L745 268M745 268L748 269M748 269L751 268M756 265L756 262M756 262L758 259M756 262L758 264M756 262L757 258M757 258L758 255M758 255L759 252M759 252L761 250M761 250L761 247M631 289L628 290M628 290L625 292M625 292L622 292M625 292L623 294M623 294L620 296M620 296L622 298M620 296L620 294M620 296L620 300M620 300L621 303M621 303L623 303M621 303L620 306M620 306L619 309M619 309L622 310M654 180L653 177M653 177L652 174M652 174L652 171M652 174L650 172M646 167L646 164M646 164L648 164M646 164L648 162M646 164L645 161M645 161L645 157M645 157L644 155M645 157L645 155M645 157L647 155M647 155L650 153M650 153L653 152M653 152L656 151M656 151L657 149M656 151L658 148M658 148L660 146M660 146L657 146M622 260L622 257M622 257L623 253M623 253L625 253M623 253L623 250M623 250L623 247M623 247L621 244M621 244L619 242M714 186L717 184M717 184L720 183M720 183L719 180M721 174L723 171M723 171L721 173M723 171L723 168M723 168L724 165M724 165L721 164M721 164L718 162M718 162L719 159M719 159L720 156M720 156L720 153M618 217L616 220M612 225L610 228M610 228L612 230M610 228L608 230M608 230L606 233M606 233L604 232M606 233L608 234M606 233L603 232M603 232L599 232M599 232L599 229M599 232L597 231M591 231L588 233M775 211L778 212M782 216L782 219M782 219L784 221M782 219L780 221M774 224L771 224M771 224L772 227M771 224L772 222M771 224L769 222M769 222L766 220M766 220L768 219M766 220L765 218M766 220L765 217M765 212L767 209M767 209L770 209M580 271L578 269M578 269L576 266M576 266L574 263M574 263L573 261M573 261L573 258M573 261L571 263M573 261L571 258M571 258L570 255M570 255L568 255M672 275L674 272M679 270L682 271M682 271L680 270M682 271L685 273M685 273L687 275M687 275L688 273M687 275L690 275M690 275L694 276M694 276L695 273M695 273L697 270M697 270L694 269M697 270L695 268M594 218L592 216M592 216L589 214M589 214L587 215M589 214L587 212M589 214L591 211M591 211L592 208M592 208L592 210M592 208L594 208M592 208L594 205M594 205L596 203M596 203L595 200M596 203L595 200M596 203L597 200M544 250L545 247M545 247L546 244M546 244L546 241M546 244L548 242M549 237L548 234M548 234L546 232M548 234L547 232M548 234L548 230M545 225L543 222M543 222L545 219M545 219L546 216M546 216L545 214M546 216L548 218M546 216L549 214M708 206L711 207M711 207L714 208M714 208L716 205M716 205L719 203M719 203L719 200M719 203L718 201M719 203L721 201M721 201L724 199M724 199L727 198M733 195L735 193M572 249L571 246M571 246L569 243M569 243L568 241M569 243L567 244M569 243L566 242M562 238L560 235M560 235L562 237M560 235L558 235M560 235L560 232M562 226L564 223M564 223L562 225M564 223L565 226M568 294L567 297M568 303L570 306M570 306L569 304M570 306L573 305M579 305L583 306M583 306L580 307M583 306L582 304M573 284L572 286M572 286L570 289M570 289L572 288M570 289L571 292M570 289L570 293M570 293L570 296M570 296L572 297M570 296L567 298M567 298L565 300M565 300L564 298M565 300L562 300M565 300L564 303M564 303L563 306M563 306L561 304M563 306L565 305M593 270L592 267M592 267L591 264M591 264L591 266M591 264L588 263M588 263L584 262M584 262L581 260M581 260L579 259M579 259L577 256M577 256L576 253M576 253L575 255M576 253L573 252M620 218L617 218M617 218L614 217M614 217L613 215M614 217L611 216M611 216L608 215M608 215L605 214M608 215L607 217M608 215L604 214M604 214L601 214M601 214L599 214M649 223L652 221M652 221L655 220M655 220L654 218M655 220L654 222M655 220L659 220M659 220L662 220M662 220L664 219M662 220L664 223M664 223L666 225M666 225L663 227M666 225L668 225M666 225L669 225M669 225L672 224M672 224L674 227M674 227L677 229M521 267L521 271M521 271L521 274M521 274L519 275M521 274L521 277M520 283L519 287M519 287L517 287M519 287L518 290M518 290L517 293M629 198L627 196M627 196L624 194M624 194L622 192M624 194L624 191M624 194L622 191M622 191L620 189M620 189L619 186M620 189L618 187M620 189L617 190M617 190L614 192M614 192L616 193M577 207L578 204M578 204L579 201M579 201L582 201M579 201L581 198M581 198L582 195M582 195L585 194M591 192L594 191M594 191L595 194M547 287L548 290M548 290L548 294M548 294L550 295M548 294L545 295M545 295L543 297M543 297L543 295M543 297L543 300M666 247L669 246M669 246L672 246M672 246L675 248M675 248L677 251M677 251L679 252M677 251L678 248M677 251L675 253M675 253L674 256M674 256L676 257M674 256L671 258M522 228L519 229M519 229L516 230M516 230L517 232M516 230L518 229M516 230L513 229M513 229L510 228M510 228L512 228M510 228L508 225M508 225L505 223M505 223L502 223M502 223L499 223M499 223L497 221M570 251L570 248M570 248L570 245M570 245L573 245M570 245L574 244M579 246L581 249M581 249L578 249M581 249L584 250M635 242L636 245M636 245L637 248M637 248L635 250M635 250L632 252M632 252L634 254M632 252L632 255M632 252L630 255M630 255L629 258M629 258L631 257M629 258L627 261M627 266L629 269M629 269L628 272M541 212L544 211M544 211L547 210M547 210L545 208M547 210L548 212M547 210L550 208M550 208L552 205M552 205L550 205M552 205L552 203M552 205L554 203M554 197L553 194M553 194L551 196M553 194L551 192M676 281L679 281M679 281L682 281M682 281L684 283M682 281L684 280M682 281L685 280M688 275L689 272M737 275L733 275M729 279L728 282M728 282L728 280M728 282L728 280M728 282L725 283M725 283L722 284M722 284L724 285M722 284L724 283M727 246L726 249M723 255L721 258M721 258L724 258M721 258L718 258M718 258L715 258M715 258L717 259M715 258L714 256M715 258L712 260M712 260L709 261M709 261L710 264M709 261L707 261M667 179L665 182M664 187L665 190M665 190L668 192M668 192L670 194M670 194L668 195M670 194L669 197M670 194L671 198M671 198L671 201M671 201L669 202M671 201L674 201M674 201L678 202M678 202L678 205M761 296L759 299M759 299L757 301M757 301L760 301M757 301L756 304M756 304L755 308M755 308L757 306M755 308L756 305M755 308L757 310M757 310L760 312M760 312L762 314M760 312L762 314M762 314L765 316M765 316L763 317M765 316L766 318M765 316L768 314M768 314L771 312M771 312L773 310M771 312L774 312M774 312L777 311M777 311L775 311M622 222L624 220M626 215L626 212M626 212L629 211M626 212L628 209M628 203L627 200M627 200L624 198M624 198L621 196M621 196L620 198M621 196L619 196M621 196L619 194M619 194L617 192M617 192L615 194M617 192L618 194M738 220L741 219M741 219L744 218M744 218L747 216M747 216L749 213M749 213L752 213M752 213L755 212M755 212L757 211M755 212L758 212M758 212L762 213M594 197L595 200M595 206L594 209M594 209L594 212M594 209L594 207M594 209L592 211M586 213L583 214M583 214L584 212M658 273L657 276M657 276L656 279M656 279L653 281M653 281L651 284M651 284L649 282M651 284L648 284M648 284L645 285M645 285L644 288M640 291L636 291M636 291L634 294M634 294L632 296M632 296L634 295M632 296L630 296M632 296L629 298M629 298L626 299M626 299L624 298M626 299L625 302M608 234L608 231M605 225L604 222M604 222L606 222M604 222L605 219M605 219L606 216M606 216L607 219M606 216L608 213M608 213L609 210M609 210L608 207M608 207L606 204M606 204L607 202M606 204L604 202M604 202L601 201M601 201L599 198M550 289L551 286M551 286L552 283M552 283L554 284M552 283L551 280M552 274L554 271M554 271L555 273M554 271L555 268M555 268L556 265M556 265L558 264M556 265L557 262M557 262L558 259M558 259L557 261M558 259L561 258M561 258L565 257M565 257L563 255M565 257L562 258M565 257L568 258M568 258L571 259M571 259L573 258M571 259L569 257M720 265L721 268M720 274L718 276M718 276L718 279M718 279L718 283M718 283L722 283M722 283L725 283M725 283L727 286M727 292L725 294M725 294L725 292M725 294L727 293M639 208L638 211M638 211L638 214M638 214L640 216M638 214L636 216M630 216L627 215M627 215L629 214M627 215L624 216M627 215L625 218M532 230L534 233M534 233L536 235M536 235L536 233M536 235L539 237M539 237L542 238M542 238L540 236M542 238L545 240M547 245L546 248M546 248L543 248M543 248L540 249M550 255L547 257M547 257L545 259M545 259L542 261M542 261L540 263M540 263L537 262M540 263L537 262M531 261L528 263M528 263L527 265M528 263L530 262M594 203L597 205M597 205L600 207M600 207L601 209M600 207L598 207M600 207L601 210M601 210L603 213M603 213L604 215M619 283L620 285M620 285L622 288M622 288L624 288M622 288L620 291M620 291L618 294M618 294L620 297M620 297L621 300M621 300L620 298M621 300L619 298M621 300L620 302M620 302L618 305M618 305L620 307M618 305L618 308M618 305L617 308M617 308L616 312M674 200L677 200M677 200L680 200M680 200L683 200M680 200L682 202M680 200L682 203M682 203L683 206M683 206L685 206M683 206L685 208M567 215L569 218M569 218L571 220M571 220L569 219M571 220L574 219M574 219L577 218M577 218L576 221M577 218L575 219M577 218L579 221M584 223L587 222M587 222L590 220M590 220L593 219M593 219L593 217M664 265L662 262M662 262L661 259M661 259L658 260M658 260L654 260M654 260L652 259M654 260L652 258M652 258L649 256M649 256L648 254M649 256L649 258M649 256L646 256M646 256L643 257M757 205L756 208M756 208L756 211M756 211L757 214M756 211L756 215M756 215L756 218M756 218L754 220M756 218L754 220M754 220L751 222M751 222L748 222M748 222L745 222M745 222L745 224M745 222L742 220M738 216L737 213M737 213L735 211M737 213L738 215M740 202L738 199M738 199L737 196M737 196L739 198M737 196L734 197M729 200L727 202M727 202L724 202M727 202L727 206M727 206L726 209M726 209L729 209M726 209L729 211M730 216L729 219M729 219L731 221M731 221L734 223M734 223L736 224M720 289L723 287M728 287L731 288M731 288L729 287M731 288L730 290M731 288L734 287M734 287L737 286M737 286L740 284M740 284L742 282M742 282L741 284M742 282L741 284M742 282L741 279M741 279L740 276M532 228L529 230M525 234L524 238M524 238L522 237M524 238L527 240M532 244L535 245M691 270L688 271M688 271L685 272M685 272L682 271M682 271L679 269M679 269L676 271M676 271L674 273M674 273L673 271M674 273L671 272M671 272L668 270M668 270L667 267M735 229L733 232M733 232L731 234M731 234L729 234M731 234L729 234M731 234L733 237M733 237L735 239M735 239L734 237M735 239L733 242M733 242L732 245M732 245L733 243M732 245L728 245M723 248L721 250M721 250L718 249M718 249L715 247M715 247L717 245M715 247L712 247M622 237L625 237M625 237L628 237M628 237L629 235M628 237L631 239M631 239L633 241M633 241L633 238M633 241L633 243M633 241L636 241M636 241L640 241M640 241L643 240M643 240L646 239M646 239L646 241M646 239L648 237M646 239L649 239M649 239L652 239M652 239L655 237M655 237L657 235M634 195L631 196M631 196L627 197M627 197L626 195M627 197L628 199M627 197L625 199M621 204L619 206M619 206L616 206M719 237L716 239M711 243L708 245M708 245L709 247M708 245L710 247M708 245L706 248M706 248L704 250M704 250L707 251M704 250L705 248M577 206L579 204M579 204L581 201M581 201L581 198M581 198L580 195M580 195L581 193M580 195L577 195M577 195L574 194M574 194L570 195M570 195L567 195M567 195L565 196M567 195L568 198M567 195L566 192M566 192L564 190M564 190L562 191M564 190L566 190M621 229L619 231M619 231L616 233M616 233L617 235M616 233L613 234M607 237L605 239M702 270L700 268M700 268L698 266M698 266L694 266M694 266L691 267M691 267L688 267M688 267L685 268M685 268L686 266M685 268L683 269M685 268L682 270M682 270L680 272M680 272L678 271M680 272L678 274M678 274L676 277M630 207L632 205M632 205L634 203M634 203L633 200M634 203L637 201M637 201L639 199M639 199L642 201M642 201L645 203M645 203L645 200M645 203L646 205M645 203L645 206M624 241L621 243M621 243L618 244M618 244L619 242M618 244L617 242M618 244L618 247M614 252L611 253M611 253L609 251M609 251L606 249M606 249L603 250M603 250L600 251M600 251L598 249M768 296L771 294M771 294L774 292M774 292L776 290M776 290L779 288M779 288L781 289M779 288L782 287M782 287L784 285M784 285L782 284M681 269L684 268M684 268L687 266M687 266L690 264M690 264L692 262M692 262L693 265M692 262L691 260M692 262L696 263M696 263L699 263M699 263L701 265M705 271L706 273M706 273L707 276M604 212L608 213M608 213L611 214M611 214L612 216M611 214L612 211M614 205L615 201M615 201L615 204M615 201L613 203M583 294L580 294M580 294L577 294M577 294L578 292M577 294L579 294M577 294L573 293M573 293L570 293M570 293L573 293M570 293L569 296M569 296L568 299M568 299L570 299M568 299L566 301M568 299L565 301M565 301L562 302M562 302L561 301M562 302L563 306M563 306L563 309M563 309L560 311M560 311L558 313M676 250L676 253M674 259L673 262M673 262L673 266M673 266L673 269M673 269L673 271M673 269L675 271M675 271L677 274M677 274L675 272M677 274L677 276M677 274L680 272M686 270L689 268M689 268L689 265M689 265L689 262M689 262L687 260M689 262L687 261M521 249L521 252M523 257L526 259M526 259L528 257M526 259L526 262M526 262L526 265M526 265L523 267M581 296L582 299M582 299L583 302M583 302L581 304M583 302L580 303M583 302L586 304M586 304L589 305M589 305L590 307M589 305L588 307M589 305L592 304M592 304L595 303M595 303L597 301M595 303L598 302M598 302L601 301M601 301L604 302M604 302L607 304M607 304L609 303M671 283L669 286M669 286L667 288M667 288L664 289M667 288L664 288M667 288L663 289M663 289L660 290M660 290L658 288M660 290L658 287M629 266L629 269M629 269L629 272M629 272L627 274M629 272L631 275M631 275L632 278M632 278L630 278M632 278L632 281M632 281L631 284M631 284L631 282M631 284L634 286M639 290L642 291M642 291L642 295M639 299L636 300M636 300L634 302M699 272L698 275M698 275L698 279M698 279L697 282M697 282L696 285M696 285L697 287M696 285L694 287M696 285L693 286M693 286L690 287M690 287L689 289M690 287L688 290M702 193L699 191M699 191L697 190M697 190L694 188M694 188L691 186M691 186L689 188M686 193L685 197M685 197L683 195M685 197L682 198M682 198L679 199M679 199L677 200M679 199L682 198M679 199L679 202M679 202L679 206M679 206L677 208M677 208L676 211M676 211L674 209M560 230L562 233M566 237L569 239M569 239L569 237M569 239L568 242M569 239L568 242M568 242L567 245M567 245L569 247M567 245L567 249M567 249L568 252M568 252L569 250M698 202L697 199M697 199L696 196M696 196L693 194M693 194L691 192M691 192L689 191M691 192L688 191M688 191L685 190M685 190L687 188M632 198L629 199M629 199L626 200M626 200L624 203M624 203L623 206M623 206L620 206M623 206L623 203M623 206L625 208M625 208L628 210M628 210L626 212M628 210L630 210M544 249L546 251M548 257L547 260M547 260L546 262M547 260L545 258M547 260L546 263M663 286L660 284M655 280L653 278M653 278L655 277M653 278L656 278M653 278L652 275M648 271L645 270M645 270L646 273M645 270L647 272M645 270L643 273M640 278L639 281M639 281L640 283M639 281L639 284M639 281L637 284M671 198L673 195M673 195L674 192M674 192L672 193M674 192L673 190M674 192L677 190M677 190L679 187M679 187L678 190M679 187L676 188M679 187L682 187M682 187L685 187M685 187L683 188M590 281L590 278M592 272L594 269M594 269L597 268M597 268L600 267M600 267L598 268M600 267L603 269M603 269L606 271M586 258L589 255M589 255L591 253M591 253L592 251M591 253L589 254M591 253L592 250M596 245L598 243M598 243L598 246M598 243L600 240M600 240L601 237M601 237L603 238M601 237L601 240M576 276L573 274M573 274L570 272M570 272L571 270M570 272L569 269M564 265L561 264M561 264L559 266M561 264L561 262M561 264L561 261M561 261L561 258M561 258L561 255M561 258L560 255M560 255L559 251M559 251L562 252M559 251L558 249M559 251L562 249M562 249L564 246M564 246L563 243M563 243L563 240M563 240L566 239M563 240L563 242M555 290L553 292M553 292L552 295M552 295L554 296M552 295L549 296M543 299L540 301M540 301L542 299M540 301L539 303M540 301L541 304M605 249L603 246M603 246L601 244M601 244L603 242M601 244L602 241M601 244L598 242M598 242L596 240M596 240L596 236M596 236L597 233M597 233L598 235M597 233L597 231M597 233L595 230M593 224L592 221M592 221L594 220M529 251L532 249M532 249L535 247M535 247L536 249M535 247L534 243M534 243L534 240M534 240L532 241M534 240L534 238M534 240L531 239M526 239L523 241M523 241L526 241M523 241L526 240M523 241L522 244M522 244L521 247M581 218L579 221M579 221L577 223M577 223L574 223M574 223L571 223M571 223L568 222M571 223L568 223M571 223L568 220M566 215L567 212M567 212L566 209M567 212L568 214M567 212L564 210M564 210L561 208M561 208L562 206M561 208L564 209M561 208L559 210M559 210L556 212M556 212L553 214M553 214L550 215M550 215L548 215M720 290L721 287M721 287L722 284M722 284L721 281M717 277L714 277M714 277L712 276M714 277L716 279M714 277L711 279M711 279L708 281M708 281L709 284M709 284L709 287M709 287L709 290M709 290L708 293M708 293L708 291M708 293L711 294M708 293L707 296M749 196L745 196M745 196L742 195M742 195L741 192M742 187L744 186M744 186L743 182M742 176L742 173M742 173L744 171M629 219L632 219M639 220L642 220M642 220L644 221M642 220L642 223M642 220L645 219M645 219L648 218M750 261L747 259M742 255L740 253M740 253L737 255M737 255L735 257M735 257L736 255M735 257L737 256M735 257L737 260M737 260L738 263M738 263L736 264M738 263L741 263M747 264L750 265M750 265L748 266M572 205L569 205M569 205L566 205M566 205L563 203M563 203L561 201M561 201L559 198M559 198L558 195M558 195L557 198M558 195L556 197M558 195L559 192M559 192L561 189M750 250L754 249M754 249L757 248M757 248L758 245M762 241L764 239M764 239L765 236M764 239L763 236M764 239L767 237" stroke="#9a9a9a" stroke-width="1" transform="translate(-0.5,-0.5)"/><path d="M543 228L540 229M540 229L538 232M641 149L640 146M537 276L536 279M536 279L535 282M551 282L552 279M552 279L553 276M557 271L560 269M560 269L563 270M726 285L729 284M729 284L732 284M738 216L741 216M741 216L742 213M542 244L545 243M545 243L548 242M686 226L687 229M687 229L688 232M716 185L713 185M713 185L711 188M555 230L555 233M555 233L553 235M644 266L641 266M641 266L638 267M766 233L768 236M768 236L768 239M769 245L770 248M770 248L769 251M661 233L658 231M658 231L658 228M510 304L507 305M507 305L505 307M667 292L664 292M664 292L660 292M703 247L700 246M700 246L697 245M687 186L688 189M688 189L691 191M765 278L763 276M763 276L760 278M759 284L760 287M722 233L724 231M724 231L726 228M523 245L520 244M520 244L517 242M753 272L752 269M752 269L752 266M760 259L763 260M579 200L582 202M582 202L585 202M580 257L578 255M578 255L578 252M568 246L565 245M780 269L781 272M781 272L779 274M708 246L711 244M711 244L714 244M574 247L571 246M571 246L568 245M604 254L604 257M636 282L635 286M635 286L633 288M621 293L618 293M766 208L769 208M658 278L659 281M659 281L662 282M725 185L725 188M725 188L725 191M721 202L718 202M718 202L715 201M591 228L591 231M723 247L725 244M725 244L724 241M720 239L717 239M542 266L541 263M541 263L539 260M548 252L547 250M547 250L546 246M548 240L549 237M549 237L552 238M563 243L565 246M565 246L565 249M605 286L608 288M608 288L608 291M610 297L612 300M644 207L641 208M641 208L638 208M735 180L733 177M733 177L734 174M594 186L597 187M597 187L597 190M599 196L600 199M600 199L599 203M597 209L595 211M595 211L593 214M684 236L681 235M681 235L680 232M515 239L512 241M512 241L513 244M760 283L757 281M757 281L755 283M753 289L754 292M678 259L677 256M742 194L739 193M739 193L737 191M766 200L764 198M764 198L761 196M733 267L735 268M735 268L737 271M751 278L754 277M754 277L758 278M594 258L594 261M594 261L591 262M747 233L744 234M744 234L741 233M751 268L755 268M755 268L756 265M650 172L647 170M647 170L646 167M719 180L719 177M719 177L721 174M616 220L614 222M614 222L612 225M597 231L594 229M594 229L591 231M778 212L782 212M782 212L782 216M780 221L777 223M777 223L774 224M765 217L763 214M763 214L765 212M674 272L676 269M676 269L679 270M597 200L598 197M548 242L551 239M551 239L549 237M548 230L547 227M547 227L545 225M549 214L552 213M727 198L730 197M730 197L733 195M566 242L563 241M563 241L562 238M560 232L560 228M560 228L562 226M567 297L566 300M566 300L568 303M573 305L576 305M576 305L579 305M521 277L520 280M520 280L520 283M585 194L588 193M588 193L591 192M543 300L544 303M671 258L668 260M497 221L494 219M574 244L577 244M577 244L579 246M584 250L587 252M627 261L626 264M626 264L627 266M628 272L627 275M554 203L556 200M556 200L554 197M685 280L688 278M688 278L688 275M733 275L730 276M730 276L729 279M726 249L725 252M725 252L723 255M665 182L663 184M663 184L664 187M624 220L627 218M627 218L626 215M628 209L629 206M629 206L628 203M595 200L595 203M595 203L595 206M592 211L589 213M589 213L586 213M644 288L643 291M643 291L640 291M608 231L607 227M607 227L605 225M599 198L597 195M551 280L551 277M551 277L552 274M721 268L722 271M722 271L720 274M727 286L728 289M728 289L727 292M636 216L633 218M633 218L630 216M625 218L623 221M545 240L547 242M547 242L547 245M537 262L534 260M534 260L531 261M604 215L606 218M685 208L688 210M579 221L581 224M581 224L584 223M742 220L739 219M739 219L738 216M734 197L731 197M731 197L729 200M729 211L731 213M731 213L730 216M723 287L725 286M725 286L728 287M529 230L526 231M526 231L525 234M527 240L529 242M529 242L532 244M667 267L665 264M728 245L725 245M725 245L723 248M712 247L709 246M625 199L623 201M623 201L621 204M716 239L714 241M714 241L711 243M613 234L610 235M610 235L607 237M645 206L646 209M618 247L617 251M617 251L614 252M701 265L703 268M703 268L705 271M612 211L613 208M613 208L614 205M676 253L675 256M675 256L674 259M680 272L683 271M683 271L686 270M521 252L520 256M520 256L523 257M523 267L521 269M658 287L657 284M634 286L636 289M636 289L639 290M642 295L642 298M642 298L639 299M688 290L687 293M689 188L687 190M687 190L686 193M562 233L564 235M564 235L566 237M546 251L549 253M549 253L548 257M546 263L544 265M660 284L657 283M657 283L655 280M652 275L652 272M652 272L648 271M643 273L640 275M640 275L640 278M637 284L636 287M590 278L591 275M591 275L592 272M592 250L593 247M593 247L596 245M569 269L567 267M567 267L564 265M549 296L545 297M545 297L543 299M541 304L542 307M595 230L594 228M594 228L593 224M531 239L529 237M529 237L526 239M568 220L566 218M566 218L566 215M721 281L720 277M720 277L717 277M707 296L706 299M741 192L739 189M739 189L742 187M743 182L742 179M742 179L742 176M744 171L746 168M632 219L635 220M635 220L639 220M747 259L745 256M745 256L742 255M741 263L744 262M744 262L747 264M758 245L759 242M759 242L762 241M767 237L770 236" stroke="#c8241c" stroke-width="3.4"/><path d="M544 226L541 225M532 236L534 238M632 174L631 172M632 174L630 173M636 173L635 175M640 170L642 169M637 166L635 168M639 156L639 153M621 298L624 298M612 292L609 291M619 286L621 284M607 279L606 277M600 280L599 278M600 287L599 284M534 270L536 271M537 275L538 277M537 275L538 277M534 282L535 280M555 275L555 278M564 270L562 269M564 270L562 270M735 281L735 279M737 292L737 295M719 218L717 219M729 219L730 222M732 217L730 217M742 212L741 215M740 210L737 211M691 236L693 237M720 182L722 180M721 186L722 188M712 193L713 195M712 200L711 203M711 202L710 200M706 209L704 209M707 211L705 213M546 225L544 224M546 225L544 223M636 271L638 273M631 268L634 268M752 228L751 225M755 229L757 228M761 226L762 224M759 225L759 223M764 228L762 226M770 255L772 256M683 219L683 216M683 217L684 219M679 217L677 219M684 207L684 205M641 238L643 239M639 234L640 232M631 236L629 238M631 237L630 239M656 227L655 229M660 226L663 227M655 217L653 215M657 216L656 214M725 176L725 174M725 176L725 174M725 192L726 194M519 292L521 291M516 304L519 303M656 301L657 303M532 228L530 226M536 224L533 224M537 227L536 229M545 219L548 219M689 237L687 239M677 182L675 181M709 237L710 239M706 233L705 231M713 234L711 232M712 237L709 237M730 224L731 221M726 226L723 226M524 249L523 251M526 250L526 252M516 238L518 236M759 282L760 280M750 280L747 280M750 280L747 280M759 260L761 261M570 193L568 193M571 194L568 195M578 200L580 202M586 202L583 203M595 197L598 197M591 197L588 196M576 246L575 244M569 246L567 245M556 261L555 263M555 263L554 261M557 263L558 261M779 263L780 261M775 279L773 280M779 275L780 273M778 282L776 281M787 281L787 278M704 250L702 252M567 245L569 247M557 246L554 246M559 249L560 252M555 251L557 253M629 292L628 295M622 294L620 294M760 226L759 229M758 221L760 222M761 211L763 210M762 210L761 213M762 206L760 204M617 244L616 246M604 242L602 241M656 273L655 271M668 284L670 284M671 290L671 292M723 195L720 195M727 200L729 199M594 225L597 224M589 225L587 225M539 259L541 259M549 242L551 242M557 237L559 235M564 238L566 236M568 253L570 255M567 249L567 247M611 293L613 293M636 209L637 211M632 215L633 218M633 211L634 208M621 214L621 211M620 219L619 221M610 210L608 209M612 214L613 217M735 184L733 185M737 171L739 172M597 195L596 197M599 208L600 210M599 208L601 210M592 214L593 212M588 215L586 215M690 236L692 236M690 237L692 236M676 228L673 227M677 227L677 224M560 224L559 226M565 226L563 227M519 238L521 239M517 239L517 241M591 281L590 283M587 279L588 282M588 269L591 268M759 289L757 287M761 282L760 280M755 285L757 284M754 288L756 290M662 272L664 270M658 275L656 276M676 265L677 263M682 264L684 265M721 282L721 284M724 278L727 278M722 288L721 286M734 191L733 193M740 181L741 179M739 179L738 181M758 191L757 189M740 275L742 277M747 277L745 275M762 277L764 275M763 287L765 288M589 265L589 267M589 264L590 267M580 262L579 260M739 230L741 228M740 232L742 231M775 202L773 201M773 196L774 194M773 194L774 197M779 185L780 183M779 187L782 186M784 182L786 181M758 259L759 257M622 292L620 293M620 294L619 291M623 303L626 303M622 310L624 311M652 171L652 169M648 164L651 165M648 162L650 161M644 155L643 153M645 155L644 153M657 149L658 146M657 146L655 147M625 253L628 253M721 173L720 175M612 230L614 231M604 232L601 230M608 234L611 235M599 229L599 227M784 221L786 223M772 222L773 220M765 218L764 216M770 209L772 210M571 263L570 264M568 255L565 256M680 270L677 270M688 273L690 271M694 269L692 269M587 215L585 216M587 212L586 210M592 210L593 212M594 208L597 209M595 200L594 198M546 241L547 239M546 232L545 230M545 214L544 212M548 218L549 220M719 200L719 198M718 201L717 198M568 241L567 239M567 244L564 244M562 237L563 239M558 235L556 236M562 225L561 226M565 226L566 228M580 307L578 308M582 304L582 301M572 288L574 286M571 292L572 294M572 297L574 298M564 298L562 295M562 300L560 300M561 304L560 302M591 266L590 269M575 255L573 258M573 252L571 251M613 215L613 212M605 214L603 214M607 217L607 219M599 214L596 214M654 218L652 216M654 222L652 223M664 219L666 218M663 227L661 228M668 225L671 225M519 275L517 276M517 287L514 288M622 192L620 191M624 191L623 189M619 186L619 184M618 187L617 185M616 193L618 195M582 201L584 201M595 194L596 196M550 295L552 296M543 295L543 292M679 252L681 253M678 248L678 246M676 257L678 259M517 232L518 234M518 229L521 228M512 228L515 228M578 249L576 249M631 257L633 256M545 208L544 207M550 205L547 205M551 196L550 199M551 192L550 190M684 283L686 285M728 280L729 277M728 280L728 277M724 285L726 286M724 283L726 281M724 258L726 258M717 259L720 259M714 256L713 253M710 264L710 266M707 261L705 260M668 195L665 196M669 197L668 199M669 202L667 204M760 301L762 301M756 305L756 303M762 314L764 315M766 318L767 320M773 310L774 309M629 211L631 210M619 196L616 196M618 194L619 197M594 212L594 214M594 207L594 204M584 212L586 210M649 282L647 281M634 295L635 293M630 296L627 296M625 302L624 304M606 222L609 221M607 219L607 221M554 284L557 285M555 273L556 275M558 264L560 262M557 261L557 264M562 258L560 258M573 258L575 256M725 292L726 289M727 293L729 292M624 216L622 217M536 233L536 230M540 236L538 235M527 265L526 267M530 262L532 261M601 209L601 212M598 207L595 208M619 298L617 297M620 307L621 310M618 308L618 310M683 200L685 200M682 202L683 204M685 206L688 207M569 219L567 218M576 221L575 223M652 259L650 257M648 254L648 251M757 214L758 216M754 220L753 222M745 224L745 227M735 211L734 209M738 215L739 217M739 198L741 200M729 209L731 208M736 224L738 226M729 287L727 285M730 290L729 292M741 284L739 285M741 284L739 285M522 237L520 236M729 234L726 233M729 234L726 233M734 237L733 235M733 243L735 241M629 235L630 232M633 238L633 236M633 243L633 246M646 241L646 244M648 237L650 236M626 195L624 194M628 199L628 202M616 206L614 205M709 247L710 250M710 247L712 248M707 251L709 252M581 193L583 191M565 196L562 197M568 198L569 200M562 191L559 192M566 190L569 189M617 235L618 238M686 266L688 264M683 269L681 271M678 271L676 270M633 200L633 198M645 200L645 198M619 242L621 240M598 249L596 248M781 289L784 289M782 284L780 283M693 265L694 267M691 260L689 258M707 276L708 278M615 204L615 206M613 203L611 205M578 292L579 289M579 294L582 294M573 293L575 293M570 299L573 300M561 301L559 299M675 272L673 271M677 276L676 279M687 260L685 258M687 261L684 260M581 304L580 306M580 303L578 303M590 307L592 309M588 307L586 310M597 301L598 299M609 303L612 302M664 289L662 289M664 288L662 287M658 288L656 287M627 274L625 275M630 278L627 277M631 282L631 279M634 302L633 304M697 287L699 289M694 287L693 289M689 289L689 292M683 195L681 194M677 200L675 202M682 198L684 197M674 209L673 207M568 242L567 244M569 247L570 249M569 250L570 247M689 191L686 190M687 188L689 187M620 206L618 206M623 203L623 201M630 210L633 210M545 258L544 256M655 277L658 277M656 278L658 277M647 272L649 274M640 283L641 286M639 284L639 286M673 190L672 188M678 190L677 192M683 188L681 189M592 251L593 249M589 254L586 255M598 246L598 248M603 238L605 240M601 240L601 242M571 270L572 267M559 266L557 268M561 262L561 259M561 255L562 253M562 252L564 253M558 249L557 247M566 239L568 239M563 242L563 245M554 296L556 297M542 299L544 298M539 303L538 305M603 242L605 241M602 241L603 239M598 235L600 237M597 231L597 228M532 241L530 242M534 238L533 235M526 241L528 240M568 222L566 221M568 223L566 223M566 209L566 207M568 214L570 215M562 206L563 203M564 209L566 210M548 215L546 216M716 279L718 281M644 221L647 221M642 223L642 225M736 255L738 253M737 256L739 255M748 266L746 267M557 198L557 200M765 236L766 234M763 236L762 234" stroke="#d8d8d8" stroke-width="2"/><path d="M531 232L531 229M638 167L637 169M530 268L527 269M556 274L558 276M738 283L740 283M556 236L555 234M713 195L713 193M710 204L707 203M546 218L547 216M557 228L559 229M630 271L631 273M638 243L635 243M664 231L663 229M695 195L697 197M516 242L517 245M753 276L750 276M560 246L562 244M780 264L782 262M564 246L563 248M631 288L631 285M756 217L755 214M727 192L728 190M539 257L541 257M531 245L532 242M564 238L566 237M633 205L632 203M567 223L567 220M521 236L519 237M674 266L672 264M682 261L684 260M740 272L741 270M752 233L754 235M731 221L731 218M779 204L781 206M758 264L759 266M761 247L760 245M622 298L623 300M720 153L720 151M772 227L772 229M768 219L770 217M573 258L573 256M695 268L693 267M595 200L594 198M547 232L545 229M569 304L567 301M565 305L567 304M573 245L575 246M634 254L636 256M632 255L633 257M548 212L548 215M552 203L551 201M684 280L685 278M678 205L679 207M757 306L759 305M763 317L761 318M775 311L772 312M620 198L618 200M615 194L613 195M757 211L760 210M624 298L622 297M607 202L608 200M563 255L562 253M569 257L567 256M640 216L642 217M629 214L631 213M537 262L535 261M624 288L627 287M620 298L618 296M575 219L573 220M593 217L593 214M649 258L649 261M724 202L722 202M673 271L671 269M717 245L719 244M705 248L706 246M646 205L647 208M617 242L616 240M612 216L613 218M566 301L564 302M673 271L672 274M528 257L530 256M569 237L568 234M626 212L625 214M546 262L545 264M646 273L647 275M672 193L670 194M676 188L674 189M598 268L596 268M594 220L596 219M536 249L537 251M526 240L528 239M712 276L710 274M708 291L708 288M711 294L713 295M736 264L733 264M556 197L555 200" stroke="#a6dce2" stroke-width="2"/><g fill="#d42a22"><circle cx="540" cy="229" r="2.8"/><circle cx="640" cy="146" r="2.8"/><circle cx="536" cy="279" r="2.8"/><circle cx="552" cy="279" r="2.8"/><circle cx="560" cy="269" r="2.8"/><circle cx="729" cy="284" r="2.8"/><circle cx="741" cy="216" r="2.8"/><circle cx="545" cy="243" r="2.8"/><circle cx="687" cy="229" r="2.8"/><circle cx="713" cy="185" r="2.8"/><circle cx="555" cy="233" r="2.8"/><circle cx="641" cy="266" r="2.8"/><circle cx="768" cy="236" r="2.8"/><circle cx="770" cy="248" r="2.8"/><circle cx="658" cy="231" r="2.8"/><circle cx="507" cy="305" r="2.8"/><circle cx="664" cy="292" r="2.8"/><circle cx="700" cy="246" r="2.8"/><circle cx="688" cy="189" r="2.8"/><circle cx="763" cy="276" r="2.8"/><circle cx="760" cy="287" r="2.8"/><circle cx="724" cy="231" r="2.8"/><circle cx="520" cy="244" r="2.8"/><circle cx="752" cy="269" r="2.8"/><circle cx="763" cy="260" r="2.8"/><circle cx="582" cy="202" r="2.8"/><circle cx="578" cy="255" r="2.8"/><circle cx="565" cy="245" r="2.8"/><circle cx="781" cy="272" r="2.8"/><circle cx="711" cy="244" r="2.8"/><circle cx="571" cy="246" r="2.8"/><circle cx="604" cy="257" r="2.8"/><circle cx="635" cy="286" r="2.8"/><circle cx="618" cy="293" r="2.8"/><circle cx="769" cy="208" r="2.8"/><circle cx="659" cy="281" r="2.8"/><circle cx="725" cy="188" r="2.8"/><circle cx="718" cy="202" r="2.8"/><circle cx="591" cy="231" r="2.8"/><circle cx="725" cy="244" r="2.8"/><circle cx="717" cy="239" r="2.8"/><circle cx="541" cy="263" r="2.8"/><circle cx="547" cy="250" r="2.8"/><circle cx="549" cy="237" r="2.8"/><circle cx="565" cy="246" r="2.8"/><circle cx="608" cy="288" r="2.8"/><circle cx="612" cy="300" r="2.8"/><circle cx="641" cy="208" r="2.8"/><circle cx="733" cy="177" r="2.8"/><circle cx="597" cy="187" r="2.8"/><circle cx="600" cy="199" r="2.8"/><circle cx="595" cy="211" r="2.8"/><circle cx="681" cy="235" r="2.8"/><circle cx="512" cy="241" r="2.8"/><circle cx="757" cy="281" r="2.8"/><circle cx="754" cy="292" r="2.8"/><circle cx="677" cy="256" r="2.8"/><circle cx="739" cy="193" r="2.8"/><circle cx="764" cy="198" r="2.8"/><circle cx="735" cy="268" r="2.8"/><circle cx="754" cy="277" r="2.8"/><circle cx="594" cy="261" r="2.8"/><circle cx="744" cy="234" r="2.8"/><circle cx="755" cy="268" r="2.8"/><circle cx="647" cy="170" r="2.8"/><circle cx="719" cy="177" r="2.8"/><circle cx="614" cy="222" r="2.8"/><circle cx="594" cy="229" r="2.8"/><circle cx="782" cy="212" r="2.8"/><circle cx="777" cy="223" r="2.8"/><circle cx="763" cy="214" r="2.8"/><circle cx="676" cy="269" r="2.8"/><circle cx="598" cy="197" r="2.8"/><circle cx="551" cy="239" r="2.8"/><circle cx="547" cy="227" r="2.8"/><circle cx="552" cy="213" r="2.8"/><circle cx="730" cy="197" r="2.8"/><circle cx="563" cy="241" r="2.8"/><circle cx="560" cy="228" r="2.8"/><circle cx="566" cy="300" r="2.8"/><circle cx="576" cy="305" r="2.8"/><circle cx="520" cy="280" r="2.8"/><circle cx="588" cy="193" r="2.8"/><circle cx="544" cy="303" r="2.8"/><circle cx="668" cy="260" r="2.8"/><circle cx="494" cy="219" r="2.8"/><circle cx="577" cy="244" r="2.8"/><circle cx="587" cy="252" r="2.8"/><circle cx="626" cy="264" r="2.8"/><circle cx="627" cy="275" r="2.8"/><circle cx="556" cy="200" r="2.8"/><circle cx="688" cy="278" r="2.8"/><circle cx="730" cy="276" r="2.8"/><circle cx="725" cy="252" r="2.8"/><circle cx="663" cy="184" r="2.8"/><circle cx="627" cy="218" r="2.8"/><circle cx="629" cy="206" r="2.8"/><circle cx="595" cy="203" r="2.8"/><circle cx="589" cy="213" r="2.8"/><circle cx="643" cy="291" r="2.8"/><circle cx="607" cy="227" r="2.8"/><circle cx="597" cy="195" r="2.8"/><circle cx="551" cy="277" r="2.8"/><circle cx="722" cy="271" r="2.8"/><circle cx="728" cy="289" r="2.8"/><circle cx="633" cy="218" r="2.8"/><circle cx="623" cy="221" r="2.8"/><circle cx="547" cy="242" r="2.8"/><circle cx="534" cy="260" r="2.8"/><circle cx="606" cy="218" r="2.8"/><circle cx="688" cy="210" r="2.8"/><circle cx="581" cy="224" r="2.8"/><circle cx="739" cy="219" r="2.8"/><circle cx="731" cy="197" r="2.8"/><circle cx="731" cy="213" r="2.8"/><circle cx="725" cy="286" r="2.8"/><circle cx="526" cy="231" r="2.8"/><circle cx="529" cy="242" r="2.8"/><circle cx="665" cy="264" r="2.8"/><circle cx="725" cy="245" r="2.8"/><circle cx="709" cy="246" r="2.8"/><circle cx="623" cy="201" r="2.8"/><circle cx="714" cy="241" r="2.8"/><circle cx="610" cy="235" r="2.8"/><circle cx="646" cy="209" r="2.8"/><circle cx="617" cy="251" r="2.8"/><circle cx="703" cy="268" r="2.8"/><circle cx="613" cy="208" r="2.8"/><circle cx="675" cy="256" r="2.8"/><circle cx="683" cy="271" r="2.8"/><circle cx="520" cy="256" r="2.8"/><circle cx="521" cy="269" r="2.8"/><circle cx="657" cy="284" r="2.8"/><circle cx="636" cy="289" r="2.8"/><circle cx="642" cy="298" r="2.8"/><circle cx="687" cy="293" r="2.8"/><circle cx="687" cy="190" r="2.8"/><circle cx="564" cy="235" r="2.8"/><circle cx="549" cy="253" r="2.8"/><circle cx="544" cy="265" r="2.8"/><circle cx="657" cy="283" r="2.8"/><circle cx="652" cy="272" r="2.8"/><circle cx="640" cy="275" r="2.8"/><circle cx="636" cy="287" r="2.8"/><circle cx="591" cy="275" r="2.8"/><circle cx="593" cy="247" r="2.8"/><circle cx="567" cy="267" r="2.8"/><circle cx="545" cy="297" r="2.8"/><circle cx="542" cy="307" r="2.8"/><circle cx="594" cy="228" r="2.8"/><circle cx="529" cy="237" r="2.8"/><circle cx="566" cy="218" r="2.8"/><circle cx="720" cy="277" r="2.8"/><circle cx="706" cy="299" r="2.8"/><circle cx="739" cy="189" r="2.8"/><circle cx="742" cy="179" r="2.8"/><circle cx="746" cy="168" r="2.8"/><circle cx="635" cy="220" r="2.8"/><circle cx="745" cy="256" r="2.8"/><circle cx="744" cy="262" r="2.8"/><circle cx="759" cy="242" r="2.8"/><circle cx="770" cy="236" r="2.8"/></g><g fill="#f2f2f2" stroke="#8a8a8a" stroke-width="0.5"><circle cx="541" cy="225" r="2.1"/><circle cx="534" cy="238" r="2.1"/><circle cx="631" cy="172" r="2.1"/><circle cx="630" cy="173" r="2.1"/><circle cx="635" cy="175" r="2.1"/><circle cx="642" cy="169" r="2.1"/><circle cx="635" cy="168" r="2.1"/><circle cx="639" cy="153" r="2.1"/><circle cx="624" cy="298" r="2.1"/><circle cx="609" cy="291" r="2.1"/><circle cx="621" cy="284" r="2.1"/><circle cx="606" cy="277" r="2.1"/><circle cx="599" cy="278" r="2.1"/><circle cx="599" cy="284" r="2.1"/><circle cx="536" cy="271" r="2.1"/><circle cx="538" cy="277" r="2.1"/><circle cx="538" cy="277" r="2.1"/><circle cx="535" cy="280" r="2.1"/><circle cx="555" cy="278" r="2.1"/><circle cx="562" cy="269" r="2.1"/><circle cx="562" cy="270" r="2.1"/><circle cx="735" cy="279" r="2.1"/><circle cx="737" cy="295" r="2.1"/><circle cx="717" cy="219" r="2.1"/><circle cx="730" cy="222" r="2.1"/><circle cx="730" cy="217" r="2.1"/><circle cx="741" cy="215" r="2.1"/><circle cx="737" cy="211" r="2.1"/><circle cx="693" cy="237" r="2.1"/><circle cx="722" cy="180" r="2.1"/><circle cx="722" cy="188" r="2.1"/><circle cx="713" cy="195" r="2.1"/><circle cx="711" cy="203" r="2.1"/><circle cx="710" cy="200" r="2.1"/><circle cx="704" cy="209" r="2.1"/><circle cx="705" cy="213" r="2.1"/><circle cx="544" cy="224" r="2.1"/><circle cx="544" cy="223" r="2.1"/><circle cx="638" cy="273" r="2.1"/><circle cx="634" cy="268" r="2.1"/><circle cx="751" cy="225" r="2.1"/><circle cx="757" cy="228" r="2.1"/><circle cx="762" cy="224" r="2.1"/><circle cx="759" cy="223" r="2.1"/><circle cx="762" cy="226" r="2.1"/><circle cx="772" cy="256" r="2.1"/><circle cx="683" cy="216" r="2.1"/><circle cx="684" cy="219" r="2.1"/><circle cx="677" cy="219" r="2.1"/><circle cx="684" cy="205" r="2.1"/><circle cx="643" cy="239" r="2.1"/><circle cx="640" cy="232" r="2.1"/><circle cx="629" cy="238" r="2.1"/><circle cx="630" cy="239" r="2.1"/><circle cx="655" cy="229" r="2.1"/><circle cx="663" cy="227" r="2.1"/><circle cx="653" cy="215" r="2.1"/><circle cx="656" cy="214" r="2.1"/><circle cx="725" cy="174" r="2.1"/><circle cx="725" cy="174" r="2.1"/><circle cx="726" cy="194" r="2.1"/><circle cx="521" cy="291" r="2.1"/><circle cx="519" cy="303" r="2.1"/><circle cx="657" cy="303" r="2.1"/><circle cx="530" cy="226" r="2.1"/><circle cx="533" cy="224" r="2.1"/><circle cx="536" cy="229" r="2.1"/><circle cx="548" cy="219" r="2.1"/><circle cx="687" cy="239" r="2.1"/><circle cx="675" cy="181" r="2.1"/><circle cx="710" cy="239" r="2.1"/><circle cx="705" cy="231" r="2.1"/><circle cx="711" cy="232" r="2.1"/><circle cx="709" cy="237" r="2.1"/><circle cx="731" cy="221" r="2.1"/><circle cx="723" cy="226" r="2.1"/><circle cx="523" cy="251" r="2.1"/><circle cx="526" cy="252" r="2.1"/><circle cx="518" cy="236" r="2.1"/><circle cx="760" cy="280" r="2.1"/><circle cx="747" cy="280" r="2.1"/><circle cx="747" cy="280" r="2.1"/><circle cx="761" cy="261" r="2.1"/><circle cx="568" cy="193" r="2.1"/><circle cx="568" cy="195" r="2.1"/><circle cx="580" cy="202" r="2.1"/><circle cx="583" cy="203" r="2.1"/><circle cx="598" cy="197" r="2.1"/><circle cx="588" cy="196" r="2.1"/><circle cx="575" cy="244" r="2.1"/><circle cx="567" cy="245" r="2.1"/><circle cx="555" cy="263" r="2.1"/><circle cx="554" cy="261" r="2.1"/><circle cx="558" cy="261" r="2.1"/><circle cx="780" cy="261" r="2.1"/><circle cx="773" cy="280" r="2.1"/><circle cx="780" cy="273" r="2.1"/><circle cx="776" cy="281" r="2.1"/><circle cx="787" cy="278" r="2.1"/><circle cx="702" cy="252" r="2.1"/><circle cx="569" cy="247" r="2.1"/><circle cx="554" cy="246" r="2.1"/><circle cx="560" cy="252" r="2.1"/><circle cx="557" cy="253" r="2.1"/><circle cx="628" cy="295" r="2.1"/><circle cx="620" cy="294" r="2.1"/><circle cx="759" cy="229" r="2.1"/><circle cx="760" cy="222" r="2.1"/><circle cx="763" cy="210" r="2.1"/><circle cx="761" cy="213" r="2.1"/><circle cx="760" cy="204" r="2.1"/><circle cx="616" cy="246" r="2.1"/><circle cx="602" cy="241" r="2.1"/><circle cx="655" cy="271" r="2.1"/><circle cx="670" cy="284" r="2.1"/><circle cx="671" cy="292" r="2.1"/><circle cx="720" cy="195" r="2.1"/><circle cx="729" cy="199" r="2.1"/><circle cx="597" cy="224" r="2.1"/><circle cx="587" cy="225" r="2.1"/><circle cx="541" cy="259" r="2.1"/><circle cx="551" cy="242" r="2.1"/><circle cx="559" cy="235" r="2.1"/><circle cx="566" cy="236" r="2.1"/><circle cx="570" cy="255" r="2.1"/><circle cx="567" cy="247" r="2.1"/><circle cx="613" cy="293" r="2.1"/><circle cx="637" cy="211" r="2.1"/><circle cx="633" cy="218" r="2.1"/><circle cx="634" cy="208" r="2.1"/><circle cx="621" cy="211" r="2.1"/><circle cx="619" cy="221" r="2.1"/><circle cx="608" cy="209" r="2.1"/><circle cx="613" cy="217" r="2.1"/><circle cx="733" cy="185" r="2.1"/><circle cx="739" cy="172" r="2.1"/><circle cx="596" cy="197" r="2.1"/><circle cx="600" cy="210" r="2.1"/><circle cx="601" cy="210" r="2.1"/><circle cx="593" cy="212" r="2.1"/><circle cx="586" cy="215" r="2.1"/><circle cx="692" cy="236" r="2.1"/><circle cx="692" cy="236" r="2.1"/><circle cx="673" cy="227" r="2.1"/><circle cx="677" cy="224" r="2.1"/><circle cx="559" cy="226" r="2.1"/><circle cx="563" cy="227" r="2.1"/><circle cx="521" cy="239" r="2.1"/><circle cx="517" cy="241" r="2.1"/><circle cx="590" cy="283" r="2.1"/><circle cx="588" cy="282" r="2.1"/><circle cx="591" cy="268" r="2.1"/><circle cx="757" cy="287" r="2.1"/><circle cx="760" cy="280" r="2.1"/><circle cx="757" cy="284" r="2.1"/><circle cx="756" cy="290" r="2.1"/><circle cx="664" cy="270" r="2.1"/><circle cx="656" cy="276" r="2.1"/><circle cx="677" cy="263" r="2.1"/><circle cx="684" cy="265" r="2.1"/><circle cx="721" cy="284" r="2.1"/><circle cx="727" cy="278" r="2.1"/><circle cx="721" cy="286" r="2.1"/><circle cx="733" cy="193" r="2.1"/><circle cx="741" cy="179" r="2.1"/><circle cx="738" cy="181" r="2.1"/><circle cx="757" cy="189" r="2.1"/><circle cx="742" cy="277" r="2.1"/><circle cx="745" cy="275" r="2.1"/><circle cx="764" cy="275" r="2.1"/><circle cx="765" cy="288" r="2.1"/><circle cx="589" cy="267" r="2.1"/><circle cx="590" cy="267" r="2.1"/><circle cx="579" cy="260" r="2.1"/><circle cx="741" cy="228" r="2.1"/><circle cx="742" cy="231" r="2.1"/><circle cx="773" cy="201" r="2.1"/><circle cx="774" cy="194" r="2.1"/><circle cx="774" cy="197" r="2.1"/><circle cx="780" cy="183" r="2.1"/><circle cx="782" cy="186" r="2.1"/><circle cx="786" cy="181" r="2.1"/><circle cx="759" cy="257" r="2.1"/><circle cx="620" cy="293" r="2.1"/><circle cx="619" cy="291" r="2.1"/><circle cx="626" cy="303" r="2.1"/><circle cx="624" cy="311" r="2.1"/><circle cx="652" cy="169" r="2.1"/><circle cx="651" cy="165" r="2.1"/><circle cx="650" cy="161" r="2.1"/><circle cx="643" cy="153" r="2.1"/><circle cx="644" cy="153" r="2.1"/><circle cx="658" cy="146" r="2.1"/><circle cx="655" cy="147" r="2.1"/><circle cx="628" cy="253" r="2.1"/><circle cx="720" cy="175" r="2.1"/><circle cx="614" cy="231" r="2.1"/><circle cx="601" cy="230" r="2.1"/><circle cx="611" cy="235" r="2.1"/><circle cx="599" cy="227" r="2.1"/><circle cx="786" cy="223" r="2.1"/><circle cx="773" cy="220" r="2.1"/><circle cx="764" cy="216" r="2.1"/><circle cx="772" cy="210" r="2.1"/><circle cx="570" cy="264" r="2.1"/><circle cx="565" cy="256" r="2.1"/><circle cx="677" cy="270" r="2.1"/><circle cx="690" cy="271" r="2.1"/><circle cx="692" cy="269" r="2.1"/><circle cx="585" cy="216" r="2.1"/><circle cx="586" cy="210" r="2.1"/><circle cx="593" cy="212" r="2.1"/><circle cx="597" cy="209" r="2.1"/><circle cx="594" cy="198" r="2.1"/><circle cx="547" cy="239" r="2.1"/><circle cx="545" cy="230" r="2.1"/><circle cx="544" cy="212" r="2.1"/><circle cx="549" cy="220" r="2.1"/><circle cx="719" cy="198" r="2.1"/><circle cx="717" cy="198" r="2.1"/><circle cx="567" cy="239" r="2.1"/><circle cx="564" cy="244" r="2.1"/><circle cx="563" cy="239" r="2.1"/><circle cx="556" cy="236" r="2.1"/><circle cx="561" cy="226" r="2.1"/><circle cx="566" cy="228" r="2.1"/><circle cx="578" cy="308" r="2.1"/><circle cx="582" cy="301" r="2.1"/><circle cx="574" cy="286" r="2.1"/><circle cx="572" cy="294" r="2.1"/><circle cx="574" cy="298" r="2.1"/><circle cx="562" cy="295" r="2.1"/><circle cx="560" cy="300" r="2.1"/><circle cx="560" cy="302" r="2.1"/><circle cx="590" cy="269" r="2.1"/><circle cx="573" cy="258" r="2.1"/><circle cx="571" cy="251" r="2.1"/><circle cx="613" cy="212" r="2.1"/><circle cx="603" cy="214" r="2.1"/><circle cx="607" cy="219" r="2.1"/><circle cx="596" cy="214" r="2.1"/><circle cx="652" cy="216" r="2.1"/><circle cx="652" cy="223" r="2.1"/><circle cx="666" cy="218" r="2.1"/><circle cx="661" cy="228" r="2.1"/><circle cx="671" cy="225" r="2.1"/><circle cx="517" cy="276" r="2.1"/><circle cx="514" cy="288" r="2.1"/><circle cx="620" cy="191" r="2.1"/><circle cx="623" cy="189" r="2.1"/><circle cx="619" cy="184" r="2.1"/><circle cx="617" cy="185" r="2.1"/><circle cx="618" cy="195" r="2.1"/><circle cx="584" cy="201" r="2.1"/><circle cx="596" cy="196" r="2.1"/><circle cx="552" cy="296" r="2.1"/><circle cx="543" cy="292" r="2.1"/><circle cx="681" cy="253" r="2.1"/><circle cx="678" cy="246" r="2.1"/><circle cx="678" cy="259" r="2.1"/><circle cx="518" cy="234" r="2.1"/><circle cx="521" cy="228" r="2.1"/><circle cx="515" cy="228" r="2.1"/><circle cx="576" cy="249" r="2.1"/><circle cx="633" cy="256" r="2.1"/><circle cx="544" cy="207" r="2.1"/><circle cx="547" cy="205" r="2.1"/><circle cx="550" cy="199" r="2.1"/><circle cx="550" cy="190" r="2.1"/><circle cx="686" cy="285" r="2.1"/><circle cx="729" cy="277" r="2.1"/><circle cx="728" cy="277" r="2.1"/><circle cx="726" cy="286" r="2.1"/><circle cx="726" cy="281" r="2.1"/><circle cx="726" cy="258" r="2.1"/><circle cx="720" cy="259" r="2.1"/><circle cx="713" cy="253" r="2.1"/><circle cx="710" cy="266" r="2.1"/><circle cx="705" cy="260" r="2.1"/><circle cx="665" cy="196" r="2.1"/><circle cx="668" cy="199" r="2.1"/><circle cx="667" cy="204" r="2.1"/><circle cx="762" cy="301" r="2.1"/><circle cx="756" cy="303" r="2.1"/><circle cx="764" cy="315" r="2.1"/><circle cx="767" cy="320" r="2.1"/><circle cx="774" cy="309" r="2.1"/><circle cx="631" cy="210" r="2.1"/><circle cx="616" cy="196" r="2.1"/><circle cx="619" cy="197" r="2.1"/><circle cx="594" cy="214" r="2.1"/><circle cx="594" cy="204" r="2.1"/><circle cx="586" cy="210" r="2.1"/><circle cx="647" cy="281" r="2.1"/><circle cx="635" cy="293" r="2.1"/><circle cx="627" cy="296" r="2.1"/><circle cx="624" cy="304" r="2.1"/><circle cx="609" cy="221" r="2.1"/><circle cx="607" cy="221" r="2.1"/><circle cx="557" cy="285" r="2.1"/><circle cx="556" cy="275" r="2.1"/><circle cx="560" cy="262" r="2.1"/><circle cx="557" cy="264" r="2.1"/><circle cx="560" cy="258" r="2.1"/><circle cx="575" cy="256" r="2.1"/><circle cx="726" cy="289" r="2.1"/><circle cx="729" cy="292" r="2.1"/><circle cx="622" cy="217" r="2.1"/><circle cx="536" cy="230" r="2.1"/><circle cx="538" cy="235" r="2.1"/><circle cx="526" cy="267" r="2.1"/><circle cx="532" cy="261" r="2.1"/><circle cx="601" cy="212" r="2.1"/><circle cx="595" cy="208" r="2.1"/><circle cx="617" cy="297" r="2.1"/><circle cx="621" cy="310" r="2.1"/><circle cx="618" cy="310" r="2.1"/><circle cx="685" cy="200" r="2.1"/><circle cx="683" cy="204" r="2.1"/><circle cx="688" cy="207" r="2.1"/><circle cx="567" cy="218" r="2.1"/><circle cx="575" cy="223" r="2.1"/><circle cx="650" cy="257" r="2.1"/><circle cx="648" cy="251" r="2.1"/><circle cx="758" cy="216" r="2.1"/><circle cx="753" cy="222" r="2.1"/><circle cx="745" cy="227" r="2.1"/><circle cx="734" cy="209" r="2.1"/><circle cx="739" cy="217" r="2.1"/><circle cx="741" cy="200" r="2.1"/><circle cx="731" cy="208" r="2.1"/><circle cx="738" cy="226" r="2.1"/><circle cx="727" cy="285" r="2.1"/><circle cx="729" cy="292" r="2.1"/><circle cx="739" cy="285" r="2.1"/><circle cx="739" cy="285" r="2.1"/><circle cx="520" cy="236" r="2.1"/><circle cx="726" cy="233" r="2.1"/><circle cx="726" cy="233" r="2.1"/><circle cx="733" cy="235" r="2.1"/><circle cx="735" cy="241" r="2.1"/><circle cx="630" cy="232" r="2.1"/><circle cx="633" cy="236" r="2.1"/><circle cx="633" cy="246" r="2.1"/><circle cx="646" cy="244" r="2.1"/><circle cx="650" cy="236" r="2.1"/><circle cx="624" cy="194" r="2.1"/><circle cx="628" cy="202" r="2.1"/><circle cx="614" cy="205" r="2.1"/><circle cx="710" cy="250" r="2.1"/><circle cx="712" cy="248" r="2.1"/><circle cx="709" cy="252" r="2.1"/><circle cx="583" cy="191" r="2.1"/><circle cx="562" cy="197" r="2.1"/><circle cx="569" cy="200" r="2.1"/><circle cx="559" cy="192" r="2.1"/><circle cx="569" cy="189" r="2.1"/><circle cx="618" cy="238" r="2.1"/><circle cx="688" cy="264" r="2.1"/><circle cx="681" cy="271" r="2.1"/><circle cx="676" cy="270" r="2.1"/><circle cx="633" cy="198" r="2.1"/><circle cx="645" cy="198" r="2.1"/><circle cx="621" cy="240" r="2.1"/><circle cx="596" cy="248" r="2.1"/><circle cx="784" cy="289" r="2.1"/><circle cx="780" cy="283" r="2.1"/><circle cx="694" cy="267" r="2.1"/><circle cx="689" cy="258" r="2.1"/><circle cx="708" cy="278" r="2.1"/><circle cx="615" cy="206" r="2.1"/><circle cx="611" cy="205" r="2.1"/><circle cx="579" cy="289" r="2.1"/><circle cx="582" cy="294" r="2.1"/><circle cx="575" cy="293" r="2.1"/><circle cx="573" cy="300" r="2.1"/><circle cx="559" cy="299" r="2.1"/><circle cx="673" cy="271" r="2.1"/><circle cx="676" cy="279" r="2.1"/><circle cx="685" cy="258" r="2.1"/><circle cx="684" cy="260" r="2.1"/><circle cx="580" cy="306" r="2.1"/><circle cx="578" cy="303" r="2.1"/><circle cx="592" cy="309" r="2.1"/><circle cx="586" cy="310" r="2.1"/><circle cx="598" cy="299" r="2.1"/><circle cx="612" cy="302" r="2.1"/><circle cx="662" cy="289" r="2.1"/><circle cx="662" cy="287" r="2.1"/><circle cx="656" cy="287" r="2.1"/><circle cx="625" cy="275" r="2.1"/><circle cx="627" cy="277" r="2.1"/><circle cx="631" cy="279" r="2.1"/><circle cx="633" cy="304" r="2.1"/><circle cx="699" cy="289" r="2.1"/><circle cx="693" cy="289" r="2.1"/><circle cx="689" cy="292" r="2.1"/><circle cx="681" cy="194" r="2.1"/><circle cx="675" cy="202" r="2.1"/><circle cx="684" cy="197" r="2.1"/><circle cx="673" cy="207" r="2.1"/><circle cx="567" cy="244" r="2.1"/><circle cx="570" cy="249" r="2.1"/><circle cx="570" cy="247" r="2.1"/><circle cx="686" cy="190" r="2.1"/><circle cx="689" cy="187" r="2.1"/><circle cx="618" cy="206" r="2.1"/><circle cx="623" cy="201" r="2.1"/><circle cx="633" cy="210" r="2.1"/><circle cx="544" cy="256" r="2.1"/><circle cx="658" cy="277" r="2.1"/><circle cx="658" cy="277" r="2.1"/><circle cx="649" cy="274" r="2.1"/><circle cx="641" cy="286" r="2.1"/><circle cx="639" cy="286" r="2.1"/><circle cx="672" cy="188" r="2.1"/><circle cx="677" cy="192" r="2.1"/><circle cx="681" cy="189" r="2.1"/><circle cx="593" cy="249" r="2.1"/><circle cx="586" cy="255" r="2.1"/><circle cx="598" cy="248" r="2.1"/><circle cx="605" cy="240" r="2.1"/><circle cx="601" cy="242" r="2.1"/><circle cx="572" cy="267" r="2.1"/><circle cx="557" cy="268" r="2.1"/><circle cx="561" cy="259" r="2.1"/><circle cx="562" cy="253" r="2.1"/><circle cx="564" cy="253" r="2.1"/><circle cx="557" cy="247" r="2.1"/><circle cx="568" cy="239" r="2.1"/><circle cx="563" cy="245" r="2.1"/><circle cx="556" cy="297" r="2.1"/><circle cx="544" cy="298" r="2.1"/><circle cx="538" cy="305" r="2.1"/><circle cx="605" cy="241" r="2.1"/><circle cx="603" cy="239" r="2.1"/><circle cx="600" cy="237" r="2.1"/><circle cx="597" cy="228" r="2.1"/><circle cx="530" cy="242" r="2.1"/><circle cx="533" cy="235" r="2.1"/><circle cx="528" cy="240" r="2.1"/><circle cx="566" cy="221" r="2.1"/><circle cx="566" cy="223" r="2.1"/><circle cx="566" cy="207" r="2.1"/><circle cx="570" cy="215" r="2.1"/><circle cx="563" cy="203" r="2.1"/><circle cx="566" cy="210" r="2.1"/><circle cx="546" cy="216" r="2.1"/><circle cx="718" cy="281" r="2.1"/><circle cx="647" cy="221" r="2.1"/><circle cx="642" cy="225" r="2.1"/><circle cx="738" cy="253" r="2.1"/><circle cx="739" cy="255" r="2.1"/><circle cx="746" cy="267" r="2.1"/><circle cx="557" cy="200" r="2.1"/><circle cx="766" cy="234" r="2.1"/><circle cx="762" cy="234" r="2.1"/></g><g fill="#bdf0f4" stroke="#6aa" stroke-width="0.4"><circle cx="531" cy="229" r="2.2"/><circle cx="637" cy="169" r="2.2"/><circle cx="527" cy="269" r="2.2"/><circle cx="558" cy="276" r="2.2"/><circle cx="740" cy="283" r="2.2"/><circle cx="555" cy="234" r="2.2"/><circle cx="713" cy="193" r="2.2"/><circle cx="707" cy="203" r="2.2"/><circle cx="547" cy="216" r="2.2"/><circle cx="559" cy="229" r="2.2"/><circle cx="631" cy="273" r="2.2"/><circle cx="635" cy="243" r="2.2"/><circle cx="663" cy="229" r="2.2"/><circle cx="697" cy="197" r="2.2"/><circle cx="517" cy="245" r="2.2"/><circle cx="750" cy="276" r="2.2"/><circle cx="562" cy="244" r="2.2"/><circle cx="782" cy="262" r="2.2"/><circle cx="563" cy="248" r="2.2"/><circle cx="631" cy="285" r="2.2"/><circle cx="755" cy="214" r="2.2"/><circle cx="728" cy="190" r="2.2"/><circle cx="541" cy="257" r="2.2"/><circle cx="532" cy="242" r="2.2"/><circle cx="566" cy="237" r="2.2"/><circle cx="632" cy="203" r="2.2"/><circle cx="567" cy="220" r="2.2"/><circle cx="519" cy="237" r="2.2"/><circle cx="672" cy="264" r="2.2"/><circle cx="684" cy="260" r="2.2"/><circle cx="741" cy="270" r="2.2"/><circle cx="754" cy="235" r="2.2"/><circle cx="731" cy="218" r="2.2"/><circle cx="781" cy="206" r="2.2"/><circle cx="759" cy="266" r="2.2"/><circle cx="760" cy="245" r="2.2"/><circle cx="623" cy="300" r="2.2"/><circle cx="720" cy="151" r="2.2"/><circle cx="772" cy="229" r="2.2"/><circle cx="770" cy="217" r="2.2"/><circle cx="573" cy="256" r="2.2"/><circle cx="693" cy="267" r="2.2"/><circle cx="594" cy="198" r="2.2"/><circle cx="545" cy="229" r="2.2"/><circle cx="567" cy="301" r="2.2"/><circle cx="567" cy="304" r="2.2"/><circle cx="575" cy="246" r="2.2"/><circle cx="636" cy="256" r="2.2"/><circle cx="633" cy="257" r="2.2"/><circle cx="548" cy="215" r="2.2"/><circle cx="551" cy="201" r="2.2"/><circle cx="685" cy="278" r="2.2"/><circle cx="679" cy="207" r="2.2"/><circle cx="759" cy="305" r="2.2"/><circle cx="761" cy="318" r="2.2"/><circle cx="772" cy="312" r="2.2"/><circle cx="618" cy="200" r="2.2"/><circle cx="613" cy="195" r="2.2"/><circle cx="760" cy="210" r="2.2"/><circle cx="622" cy="297" r="2.2"/><circle cx="608" cy="200" r="2.2"/><circle cx="562" cy="253" r="2.2"/><circle cx="567" cy="256" r="2.2"/><circle cx="642" cy="217" r="2.2"/><circle cx="631" cy="213" r="2.2"/><circle cx="535" cy="261" r="2.2"/><circle cx="627" cy="287" r="2.2"/><circle cx="618" cy="296" r="2.2"/><circle cx="573" cy="220" r="2.2"/><circle cx="593" cy="214" r="2.2"/><circle cx="649" cy="261" r="2.2"/><circle cx="722" cy="202" r="2.2"/><circle cx="671" cy="269" r="2.2"/><circle cx="719" cy="244" r="2.2"/><circle cx="706" cy="246" r="2.2"/><circle cx="647" cy="208" r="2.2"/><circle cx="616" cy="240" r="2.2"/><circle cx="613" cy="218" r="2.2"/><circle cx="564" cy="302" r="2.2"/><circle cx="672" cy="274" r="2.2"/><circle cx="530" cy="256" r="2.2"/><circle cx="568" cy="234" r="2.2"/><circle cx="625" cy="214" r="2.2"/><circle cx="545" cy="264" r="2.2"/><circle cx="647" cy="275" r="2.2"/><circle cx="670" cy="194" r="2.2"/><circle cx="674" cy="189" r="2.2"/><circle cx="596" cy="268" r="2.2"/><circle cx="596" cy="219" r="2.2"/><circle cx="537" cy="251" r="2.2"/><circle cx="528" cy="239" r="2.2"/><circle cx="710" cy="274" r="2.2"/><circle cx="708" cy="288" r="2.2"/><circle cx="713" cy="295" r="2.2"/><circle cx="733" cy="264" r="2.2"/><circle cx="555" cy="200" r="2.2"/></g></g><g clip-path="url(#clC)"><circle cx="734.7" cy="293.4" r="5.4" fill="url(#mG)"/><circle cx="748.7" cy="294.0" r="5.4" fill="url(#mG)"/><circle cx="535.5" cy="294.9" r="5.4" fill="url(#mG)"/><circle cx="724.4" cy="295.4" r="5.4" fill="url(#mG)"/><circle cx="553.0" cy="296.7" r="5.4" fill="url(#mG)"/><circle cx="701.7" cy="296.9" r="5.4" fill="url(#mG)"/><circle cx="641.0" cy="297.3" r="5.4" fill="url(#mG)"/><circle cx="586.7" cy="298.0" r="5.4" fill="url(#mG)"/><circle cx="623.4" cy="298.1" r="5.4" fill="url(#mG)"/><circle cx="632.7" cy="298.4" r="5.4" fill="url(#mG)"/><circle cx="683.4" cy="298.6" r="5.4" fill="url(#mG)"/><circle cx="765.6" cy="298.9" r="5.4" fill="url(#mG)"/><circle cx="542.0" cy="298.9" r="5.4" fill="url(#mG)"/><circle cx="605.0" cy="299.1" r="5.4" fill="url(#mG)"/><circle cx="757.6" cy="300.1" r="5.4" fill="url(#mG)"/><circle cx="668.3" cy="300.4" r="5.4" fill="url(#mG)"/><circle cx="560.0" cy="301.1" r="5.4" fill="url(#mG)"/><circle cx="567.6" cy="301.3" r="5.4" fill="url(#mG)"/><circle cx="649.9" cy="301.5" r="5.4" fill="url(#mG)"/><circle cx="675.2" cy="302.2" r="5.4" fill="url(#mG)"/><circle cx="748.4" cy="302.5" r="5.4" fill="url(#mG)"/><circle cx="722.2" cy="302.7" r="5.4" fill="url(#mG)"/><circle cx="738.4" cy="303.9" r="5.4" fill="url(#mG)"/><circle cx="701.6" cy="304.1" r="5.4" fill="url(#mG)"/><circle cx="730.0" cy="304.4" r="5.4" fill="url(#mG)"/><circle cx="589.5" cy="304.8" r="5.4" fill="url(#mG)"/><circle cx="548.2" cy="304.8" r="5.4" fill="url(#mG)"/><circle cx="660.4" cy="305.5" r="5.4" fill="url(#mG)"/><circle cx="713.6" cy="305.7" r="5.4" fill="url(#mG)"/><circle cx="640.8" cy="306.1" r="5.4" fill="url(#mG)"/><circle cx="614.4" cy="306.2" r="5.4" fill="url(#mG)"/><circle cx="576.6" cy="306.8" r="5.4" fill="url(#mG)"/><circle cx="624.4" cy="306.9" r="5.4" fill="url(#mG)"/><circle cx="536.6" cy="306.9" r="5.4" fill="url(#mG)"/><circle cx="632.7" cy="307.5" r="5.4" fill="url(#mG)"/><circle cx="682.1" cy="308.1" r="5.4" fill="url(#mG)"/><circle cx="744.2" cy="308.9" r="5.4" fill="url(#mG)"/><circle cx="765.4" cy="308.9" r="5.4" fill="url(#mG)"/><circle cx="754.3" cy="309.1" r="5.4" fill="url(#mG)"/><circle cx="607.6" cy="309.4" r="5.4" fill="url(#mG)"/><circle cx="599.8" cy="309.6" r="5.4" fill="url(#mG)"/><circle cx="564.2" cy="309.7" r="5.4" fill="url(#mG)"/><circle cx="668.2" cy="310.5" r="5.4" fill="url(#mGr)"/><circle cx="647.2" cy="310.9" r="5.4" fill="url(#mG)"/><circle cx="704.5" cy="311.3" r="5.4" fill="url(#mG)"/><circle cx="581.9" cy="312.5" r="5.4" fill="url(#mG)"/><circle cx="728.2" cy="313.0" r="5.4" fill="url(#mG)"/><circle cx="688.1" cy="313.5" r="5.4" fill="url(#mG)"/><circle cx="617.0" cy="313.8" r="5.4" fill="url(#mG)"/><circle cx="592.3" cy="314.0" r="5.4" fill="url(#mG)"/><circle cx="543.9" cy="314.5" r="5.4" fill="url(#mG)"/><circle cx="635.5" cy="314.9" r="5.4" fill="url(#mG)"/><circle cx="676.7" cy="314.9" r="5.4" fill="url(#mG)"/><circle cx="695.7" cy="315.1" r="5.4" fill="url(#mGr)"/><circle cx="559.5" cy="315.1" r="5.4" fill="url(#mG)"/><circle cx="655.2" cy="315.4" r="5.4" fill="url(#mG)"/><circle cx="761.2" cy="315.5" r="5.4" fill="url(#mG)"/><circle cx="535.1" cy="316.1" r="5.4" fill="url(#mG)"/><circle cx="742.3" cy="316.8" r="5.4" fill="url(#mG)"/><circle cx="608.9" cy="317.4" r="5.4" fill="url(#mG)"/><circle cx="623.2" cy="317.6" r="5.4" fill="url(#mG)"/><circle cx="566.6" cy="317.9" r="5.4" fill="url(#mG)"/><circle cx="703.1" cy="318.8" r="5.4" fill="url(#mG)"/><circle cx="664.7" cy="318.8" r="5.4" fill="url(#mGr)"/><circle cx="752.2" cy="319.3" r="5.4" fill="url(#mGr)"/><circle cx="712.2" cy="319.8" r="5.4" fill="url(#mG)"/><circle cx="734.3" cy="320.2" r="5.4" fill="url(#mG)"/><circle cx="550.6" cy="321.0" r="5.4" fill="url(#mG)"/><circle cx="541.8" cy="321.3" r="5.4" fill="url(#mG)"/><circle cx="688.9" cy="321.4" r="5.4" fill="url(#mG)"/><circle cx="639.1" cy="321.4" r="5.4" fill="url(#mG)"/><circle cx="696.5" cy="322.6" r="5.4" fill="url(#mG)"/><circle cx="762.9" cy="323.8" r="5.4" fill="url(#mG)"/><circle cx="571.6" cy="323.9" r="5.4" fill="url(#mG)"/><circle cx="600.9" cy="323.9" r="5.4" fill="url(#mG)"/><circle cx="579.9" cy="324.2" r="5.4" fill="url(#mG)"/><circle cx="746.3" cy="324.5" r="5.4" fill="url(#mG)"/><circle cx="609.9" cy="325.2" r="5.4" fill="url(#mG)"/><circle cx="673.4" cy="325.7" r="5.4" fill="url(#mG)"/><circle cx="535.5" cy="325.9" r="5.4" fill="url(#mG)"/><circle cx="617.7" cy="326.1" r="5.4" fill="url(#mG)"/><circle cx="682.8" cy="326.6" r="5.4" fill="url(#mG)"/><circle cx="633.0" cy="326.7" r="5.4" fill="url(#mG)"/><circle cx="703.4" cy="327.0" r="5.4" fill="url(#mG)"/><circle cx="561.8" cy="327.4" r="5.4" fill="url(#mGr)"/><circle cx="546.6" cy="327.5" r="5.4" fill="url(#mG)"/><circle cx="665.2" cy="327.7" r="5.4" fill="url(#mG)"/><circle cx="690.7" cy="328.5" r="5.4" fill="url(#mG)"/><circle cx="647.9" cy="328.6" r="5.4" fill="url(#mG)"/><circle cx="726.2" cy="329.0" r="5.4" fill="url(#mG)"/><circle cx="734.8" cy="329.3" r="5.4" fill="url(#mG)"/><circle cx="626.2" cy="330.8" r="5.4" fill="url(#mG)"/><circle cx="596.8" cy="331.3" r="5.4" fill="url(#mG)"/><circle cx="656.9" cy="331.8" r="5.4" fill="url(#mG)"/><circle cx="577.1" cy="332.4" r="5.4" fill="url(#mG)"/><circle cx="569.6" cy="332.4" r="5.4" fill="url(#mG)"/><circle cx="605.2" cy="332.4" r="5.4" fill="url(#mG)"/><circle cx="743.5" cy="332.5" r="5.4" fill="url(#mG)"/><circle cx="674.7" cy="332.6" r="5.4" fill="url(#mG)"/><circle cx="753.6" cy="332.7" r="5.4" fill="url(#mG)"/><circle cx="707.3" cy="333.4" r="5.4" fill="url(#mG)"/><circle cx="763.4" cy="333.5" r="5.4" fill="url(#mG)"/><circle cx="714.8" cy="334.6" r="5.4" fill="url(#mG)"/><circle cx="638.2" cy="334.7" r="5.4" fill="url(#mGr)"/><circle cx="683.6" cy="334.9" r="5.4" fill="url(#mG)"/><circle cx="556.9" cy="335.0" r="5.4" fill="url(#mG)"/><circle cx="667.0" cy="335.9" r="5.4" fill="url(#mG)"/><circle cx="730.8" cy="336.0" r="5.4" fill="url(#mGr)"/><circle cx="612.4" cy="336.2" r="5.4" fill="url(#mG)"/><circle cx="585.8" cy="337.4" r="5.4" fill="url(#mG)"/><circle cx="694.7" cy="337.5" r="5.4" fill="url(#mG)"/><circle cx="536.5" cy="338.0" r="5.4" fill="url(#mG)"/><circle cx="749.4" cy="339.0" r="5.4" fill="url(#mG)"/><circle cx="721.8" cy="339.8" r="5.4" fill="url(#mG)"/><circle cx="620.6" cy="340.0" r="5.4" fill="url(#mG)"/><circle cx="659.7" cy="340.0" r="5.4" fill="url(#mG)"/><circle cx="606.0" cy="340.5" r="5.4" fill="url(#mG)"/><circle cx="758.6" cy="340.7" r="5.4" fill="url(#mGr)"/><circle cx="568.3" cy="340.8" r="5.4" fill="url(#mG)"/><circle cx="742.5" cy="341.3" r="5.4" fill="url(#mG)"/><circle cx="642.4" cy="341.4" r="5.4" fill="url(#mG)"/><circle cx="633.3" cy="341.5" r="5.4" fill="url(#mG)"/><circle cx="594.1" cy="341.7" r="5.4" fill="url(#mG)"/><circle cx="652.0" cy="341.7" r="5.4" fill="url(#mG)"/><circle cx="578.9" cy="342.0" r="5.4" fill="url(#mGr)"/><circle cx="542.6" cy="342.7" r="5.4" fill="url(#mG)"/><circle cx="551.8" cy="342.8" r="5.4" fill="url(#mG)"/><circle cx="688.7" cy="344.5" r="5.4" fill="url(#mG)"/><circle cx="560.3" cy="345.7" r="5.4" fill="url(#mG)"/><circle cx="670.9" cy="346.6" r="5.4" fill="url(#mG)"/><circle cx="737.8" cy="347.3" r="5.4" fill="url(#mG)"/><circle cx="750.5" cy="347.4" r="5.4" fill="url(#mG)"/><circle cx="718.2" cy="347.7" r="5.4" fill="url(#mG)"/><circle cx="703.5" cy="348.0" r="5.4" fill="url(#mG)"/><circle cx="609.3" cy="348.1" r="5.4" fill="url(#mG)"/><circle cx="647.0" cy="348.1" r="5.4" fill="url(#mGr)"/><circle cx="727.9" cy="349.2" r="5.4" fill="url(#mG)"/><circle cx="617.7" cy="349.3" r="5.4" fill="url(#mG)"/><circle cx="541.7" cy="349.8" r="5.4" fill="url(#mG)"/><circle cx="574.9" cy="349.9" r="5.4" fill="url(#mG)"/><circle cx="625.7" cy="349.9" r="5.4" fill="url(#mG)"/><circle cx="584.9" cy="350.4" r="5.4" fill="url(#mG)"/><circle cx="757.4" cy="351.2" r="5.4" fill="url(#mGr)"/><circle cx="641.1" cy="352.1" r="5.4" fill="url(#mG)"/><circle cx="709.2" cy="353.6" r="5.4" fill="url(#mG)"/><circle cx="549.6" cy="354.3" r="5.4" fill="url(#mG)"/><circle cx="735.1" cy="354.5" r="5.4" fill="url(#mG)"/><circle cx="670.6" cy="354.6" r="5.4" fill="url(#mG)"/><circle cx="742.2" cy="354.9" r="5.4" fill="url(#mG)"/><circle cx="596.3" cy="354.9" r="5.4" fill="url(#mG)"/><circle cx="562.7" cy="355.1" r="5.4" fill="url(#mG)"/><circle cx="606.9" cy="355.5" r="5.4" fill="url(#mGr)"/><circle cx="661.8" cy="355.5" r="5.4" fill="url(#mG)"/><circle cx="696.6" cy="355.9" r="5.4" fill="url(#mG)"/><circle cx="764.7" cy="356.3" r="5.4" fill="url(#mG)"/><circle cx="646.8" cy="356.5" r="5.4" fill="url(#mG)"/><circle cx="630.4" cy="356.6" r="5.4" fill="url(#mG)"/><circle cx="534.7" cy="356.8" r="5.4" fill="url(#mG)"/><circle cx="620.7" cy="357.5" r="5.4" fill="url(#mG)"/><circle cx="727.5" cy="358.0" r="5.4" fill="url(#mG)"/><circle cx="680.0" cy="358.4" r="5.4" fill="url(#mG)"/><circle cx="572.4" cy="358.5" r="5.4" fill="url(#mG)"/><circle cx="721.6" cy="359.3" r="5.4" fill="url(#mG)"/><circle cx="638.4" cy="359.5" r="5.4" fill="url(#mGr)"/><circle cx="557.1" cy="360.2" r="5.4" fill="url(#mG)"/><circle cx="662.8" cy="360.3" r="5.4" fill="url(#mG)"/><circle cx="656.7" cy="360.6" r="5.4" fill="url(#mG)"/><circle cx="676.4" cy="361.0" r="5.4" fill="url(#mG)"/><circle cx="589.2" cy="361.1" r="5.4" fill="url(#mG)"/><circle cx="707.8" cy="361.4" r="5.4" fill="url(#mG)"/><circle cx="730.7" cy="361.6" r="5.4" fill="url(#mG)"/><circle cx="599.8" cy="361.8" r="5.4" fill="url(#mGr)"/><circle cx="717.8" cy="362.3" r="5.4" fill="url(#mG)"/><circle cx="672.0" cy="362.5" r="5.4" fill="url(#mG)"/><circle cx="703.3" cy="363.1" r="5.4" fill="url(#mG)"/><circle cx="643.7" cy="364.3" r="5.4" fill="url(#mG)"/><circle cx="713.1" cy="364.9" r="5.4" fill="url(#mG)"/><circle cx="721.1" cy="368.5" r="5.4" fill="url(#mG)"/><circle cx="734.8" cy="369.3" r="5.4" fill="url(#mG)"/><circle cx="745.1" cy="370.5" r="5.4" fill="url(#mG)"/><circle cx="671.4" cy="371.0" r="5.4" fill="url(#mG)"/><circle cx="628.6" cy="371.2" r="5.4" fill="url(#mG)"/><circle cx="638.9" cy="371.5" r="5.4" fill="url(#mG)"/><circle cx="608.6" cy="373.0" r="5.4" fill="url(#mG)"/></g></svg>
<div class="t" style="left:5.5px;top:4.5px;font-size:17px;font-weight:bold;line-height:17px;-webkit-text-stroke:0.35px #000">a</div><div class="t" style="left:820px;top:4.9px;font-size:17px;font-weight:bold;line-height:17px;-webkit-text-stroke:0.35px #000">b</div><div class="t" style="left:6px;top:466.6px;font-size:17px;font-weight:bold;line-height:17px;-webkit-text-stroke:0.35px #000">c</div><div class="t" style="left:356.5px;top:466.1px;font-size:17px;font-weight:bold;line-height:17px;-webkit-text-stroke:0.35px #000">d</div><div class="t" style="left:5.5px;top:802.6px;font-size:17px;font-weight:bold;line-height:17px;-webkit-text-stroke:0.35px #000">e</div><div class="t" style="left:553px;top:802.6px;font-size:17px;font-weight:bold;line-height:17px;-webkit-text-stroke:0.35px #000">f</div><div class="t" style="left:36.5px;top:17.6px;font-size:13.8px;color:#111;font-weight:normal;">LE 10 ps</div><div class="t" style="left:290.5px;top:17.6px;font-size:13.8px;color:#111;font-weight:normal;">SDE 10 ps</div><div class="t" style="left:543.5px;top:17.6px;font-size:13.8px;color:#111;font-weight:normal;">UDE 10 ps</div><div class="t" style="left:137.5px;top:428.0px;font-size:14px;color:#111;font-weight:normal;">Lithium</div><div class="t" style="left:236.0px;top:428.0px;font-size:14px;color:#111;font-weight:normal;">Inorganic components</div><div class="t" style="left:463.6px;top:428.0px;font-size:14px;color:#111;font-weight:normal;">Organic components</div><div class="t" style="left:840.6px;top:20.1px;font-size:13.5px;color:#111;font-weight:normal;">LE</div><div class="t" style="left:995.0px;top:30.2px;font-size:13.5px;color:#111;font-weight:normal;">30%</div><div class="t" style="left:867.0px;top:124.2px;font-size:13.5px;color:#111;font-weight:normal;">70%</div><div class="t" style="left:865.0px;width:200px;text-align:center;top:57.8px;font-size:14px;color:#fff;font-weight:normal">9</div><div class="t" style="left:809.5px;width:200px;text-align:center;top:88.2px;font-size:14px;color:#fff;font-weight:normal">21</div><div class="t" style="left:844.3px;top:155.2px;font-size:13.5px;color:#111;font-weight:normal;">SDE</div><div class="t" style="left:995.0px;top:149.2px;font-size:13.5px;color:#111;font-weight:normal;">53.7%</div><div class="t" style="left:855.0px;top:260.2px;font-size:13.5px;color:#111;font-weight:normal;">46.3%</div><div class="t" style="left:810.7px;width:200px;text-align:center;top:205.2px;font-size:14px;color:#fff;font-weight:normal">31</div><div class="t" style="left:860.0px;width:200px;text-align:center;top:217.2px;font-size:14px;color:#fff;font-weight:normal">36</div><div class="t" style="left:845.6px;top:294.9px;font-size:13.5px;color:#111;font-weight:normal;">UDE</div><div class="t" style="left:995.0px;top:293.2px;font-size:13.5px;color:#111;font-weight:normal;">47.8%</div><div class="t" style="left:855.0px;top:398.8px;font-size:13.5px;color:#111;font-weight:normal;">52.2%</div><div class="t" style="left:809.5px;width:200px;text-align:center;top:357.7px;font-size:14px;color:#fff;font-weight:normal">24</div><div class="t" style="left:864.0px;width:200px;text-align:center;top:344.8px;font-size:14px;color:#fff;font-weight:normal">22</div><div class="t" style="left:904.0px;top:429.9px;font-size:13.5px;color:#111;font-weight:normal;">Li–O</div><div class="t" style="left:979.8px;top:429.9px;font-size:13.5px;color:#111;font-weight:normal;">Li–F</div><div class="t" style="left:26.8px;top:478.3px;font-size:13.4px;color:#111;font-weight:normal;">UDE-SEI</div><div class="t" style="left:292.0px;top:475.9px;font-size:13.4px;color:#111;font-weight:normal;">C 1<i>s</i></div><div class="t" style="left:209.0px;top:492.3px;font-size:13.4px;color:#111;font-weight:normal;">C–C</div><div class="t" style="left:116.7px;top:512.3px;font-size:13.4px;color:#111;font-weight:normal;">R–C=O</div><div class="t" style="left:81.0px;top:531.1px;font-size:13.4px;color:#111;font-weight:normal;">C=O</div><div class="t" style="left:154.6px;top:528.0px;font-size:13.4px;color:#111;font-weight:normal;">R–C–O</div><div class="t" style="left:46.7px;top:548.3px;font-size:13.4px;color:#111;font-weight:normal;">C–F</div><div class="t" style="left:26.8px;top:581.3px;font-size:13.4px;color:#111;font-weight:normal;">SDE-SEI</div><div class="t" style="left:26.8px;top:660.9px;font-size:13.4px;color:#111;font-weight:normal;">LE-SEI</div><div class="t" style="left:-54.9px;width:200px;text-align:center;top:745.3px;font-size:13.4px;color:#111;font-weight:normal">293</div><div class="t" style="left:31.9px;width:200px;text-align:center;top:745.3px;font-size:13.4px;color:#111;font-weight:normal">289</div><div class="t" style="left:118.3px;width:200px;text-align:center;top:745.3px;font-size:13.4px;color:#111;font-weight:normal">285</div><div class="t" style="left:205.4px;width:200px;text-align:center;top:745.3px;font-size:13.4px;color:#111;font-weight:normal">281</div><div class="t" style="left:115.0px;top:767.2px;font-size:13.6px;color:#111;font-weight:normal;">Binding energy (eV)</div><div class="t" style="left:378.2px;top:479.9px;font-size:13.5px;color:#111;font-weight:normal;">LE-SEI</div><div class="t" style="left:309.2px;top:549.6px;width:120px;text-align:center;font-size:14px;transform:rotate(-90deg)">Sputtering</div><div class="t" style="left:378.2px;top:630.5px;font-size:13.5px;color:#111;font-weight:normal;">UDE-SEI</div><div class="t" style="left:309.2px;top:707.2px;width:120px;text-align:center;font-size:14px;transform:rotate(-90deg)">Sputtering</div><div class="t" style="left:669.9px;top:476.7px;font-size:13.5px;color:#111;font-weight:normal;">LE-SEI</div><div class="t" style="left:907.0px;top:476.6px;font-size:13.5px;color:#111;font-weight:normal;">UDE-SEI</div><div class="t" style="left:598.0px;top:516.1px;font-size:13.6px;color:#111;font-weight:normal;">30%</div><div class="t" style="left:707.0px;top:516.1px;font-size:13.6px;color:#111;font-weight:normal;">59%</div><div class="t" style="left:768.0px;top:516.1px;font-size:13.6px;color:#111;font-weight:normal;">11%</div><div class="t" style="left:821.4px;top:516.1px;font-size:13.6px;color:#111;font-weight:normal;">5%</div><div class="t" style="left:907.0px;top:516.1px;font-size:13.6px;color:#111;font-weight:normal;">71%</div><div class="t" style="left:1006.3px;top:516.1px;font-size:13.6px;color:#111;font-weight:normal;">24%</div><div class="t" style="left:603.6px;top:583.8px;font-size:13.6px;color:#111;font-weight:normal;">37%</div><div class="t" style="left:709.6px;top:583.8px;font-size:13.6px;color:#111;font-weight:normal;">53%</div><div class="t" style="left:768.0px;top:583.8px;font-size:13.6px;color:#111;font-weight:normal;">10%</div><div class="t" style="left:825.3px;top:583.8px;font-size:13.6px;color:#111;font-weight:normal;">20%</div><div class="t" style="left:946.2px;top:583.8px;font-size:13.6px;color:#111;font-weight:normal;">72%</div><div class="t" style="left:1018.7px;top:583.8px;font-size:13.6px;color:#111;font-weight:normal;">8%</div><div class="t" style="left:611.0px;top:652.0px;font-size:13.6px;color:#111;font-weight:normal;">43%</div><div class="t" style="left:710.0px;top:652.0px;font-size:13.6px;color:#111;font-weight:normal;">44%</div><div class="t" style="left:765.5px;top:652.0px;font-size:13.6px;color:#111;font-weight:normal;">13%</div><div class="t" style="left:840.7px;top:652.0px;font-size:13.6px;color:#111;font-weight:normal;">24%</div><div class="t" style="left:947.5px;top:652.0px;font-size:13.6px;color:#111;font-weight:normal;">69%</div><div class="t" style="left:1020.0px;top:652.0px;font-size:13.6px;color:#111;font-weight:normal;">7%</div><div class="t" style="left:614.8px;top:720.7px;font-size:13.6px;color:#111;font-weight:normal;">46%</div><div class="t" style="left:711.7px;top:720.7px;font-size:13.6px;color:#111;font-weight:normal;">36%</div><div class="t" style="left:769.4px;top:720.7px;font-size:13.6px;color:#111;font-weight:normal;">18%</div><div class="t" style="left:843.8px;top:720.7px;font-size:13.6px;color:#111;font-weight:normal;">28%</div><div class="t" style="left:951.6px;top:720.7px;font-size:13.6px;color:#111;font-weight:normal;">66%</div><div class="t" style="left:1018.7px;top:720.7px;font-size:13.6px;color:#111;font-weight:normal;">6%</div><div class="t" style="left:545.5px;top:516.0px;font-size:13.6px;color:#111;font-weight:normal;">1 s</div><div class="t" style="left:537.7px;top:583.8px;font-size:13.6px;color:#111;font-weight:normal;">50 s</div><div class="t" style="left:537.7px;top:652.0px;font-size:13.6px;color:#111;font-weight:normal;">75 s</div><div class="t" style="left:530.4px;top:720.7px;font-size:13.6px;color:#111;font-weight:normal;">100 s</div><div class="t" style="left:728.8px;top:772.7px;font-size:13.5px;color:#111;font-weight:normal;">Li<sup>–</sup></div><div class="t" style="left:790.2px;top:772.7px;font-size:13.5px;color:#111;font-weight:normal;">LiF<sub>2</sub><sup>–</sup></div><div class="t" style="left:865.3px;top:772.7px;font-size:13.5px;color:#111;font-weight:normal;">C<sub>2</sub>H<sub>3</sub>O<sup>–</sup></div><div class="t" style="left:368.5px;top:824.7px;font-size:13.5px;color:#111;font-weight:normal;">LE-CEI</div><div class="t" style="left:301.3px;top:896.9px;width:120px;text-align:center;font-size:14px;transform:rotate(-90deg)">Sputtering</div><div class="t" style="left:301.3px;top:1040.7px;width:120px;text-align:center;font-size:14px;transform:rotate(-90deg)">Sputtering</div><div class="t" style="left:461.0px;top:948.6px;font-size:13.5px;color:#111;font-weight:normal;">C<sub>2</sub>HO<sup>–</sup></div><div class="t" style="left:471.6px;top:1092.5px;font-size:13.5px;color:#111;font-weight:normal;">LiF<sub>2</sub><sup>–</sup></div><div class="t" style="left:909.9px;top:825.2px;font-size:13.5px;color:#111;font-weight:normal;">UDE-CEI</div><div class="t" style="left:845.3px;top:896.9px;width:120px;text-align:center;font-size:14px;transform:rotate(-90deg)">Sputtering</div><div class="t" style="left:845.3px;top:1042.9px;width:120px;text-align:center;font-size:14px;transform:rotate(-90deg)">Sputtering</div><div class="t" style="left:1002.0px;top:948.6px;font-size:13.5px;color:#111;font-weight:normal;">C<sub>2</sub>HO<sup>–</sup></div><div class="t" style="left:1012.5px;top:1092.5px;font-size:13.5px;color:#111;font-weight:normal;">LiF<sub>2</sub><sup>–</sup></div><div class="t" style="left:30.0px;top:821.6px;font-size:13.5px;color:#f4f4f4;font-weight:normal;">LE-NCM811</div><div class="t" style="left:116.0px;top:1029.2px;font-size:13.5px;color:#f2b33a;font-weight:normal;">22 nm</div><div class="t" style="left:574.0px;top:821.6px;font-size:13.5px;color:#f4f4f4;font-weight:normal;">UDE-NCM811</div><div class="t" style="left:598.6px;top:966.1px;font-size:13.5px;color:#f2b33a;font-weight:normal;">8 nm</div><div class="t" style="left:424.9px;top:523.2px;font-size:13.5px;color:#f0f0f0;font-weight:normal;">Thick SEI</div><div class="t" style="left:479.5px;top:568.6px;font-size:13.5px;color:#111;font-weight:normal;">Li</div><div class="t" style="left:429.3px;top:679.9px;font-size:13.5px;color:#f0f0f0;font-weight:normal;">Thin SEI</div><div class="t" style="left:479.5px;top:727.5px;font-size:13.5px;color:#111;font-weight:normal;">Li</div>
</body></html>
